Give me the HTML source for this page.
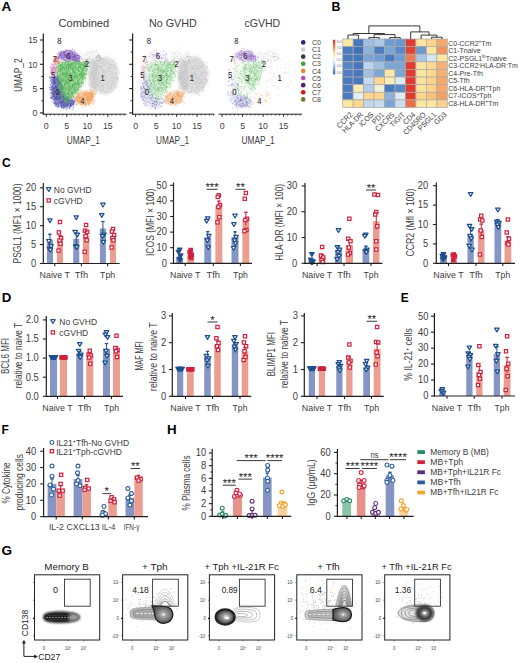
<!DOCTYPE html><html><head><meta charset="utf-8"><style>html,body{margin:0;padding:0;background:#fff;}svg{display:block;font-family:"Liberation Sans",sans-serif;}</style></head><body><svg width="520" height="663" viewBox="0 0 520 663"><rect width="520" height="663" fill="#fff"/><text transform="translate(1.6 11.2) scale(1.060 1)" font-size="12.8" fill="#000" font-weight="bold">A</text>
<defs><filter id="soft" x="-20%" y="-20%" width="140%" height="140%"><feGaussianBlur stdDeviation="1.6"/></filter></defs>
<path d="M118.5 75.5L118.0 80.3L116.6 84.8L114.4 88.6L111.5 91.5L108.1 93.4L104.5 94.0L100.9 93.4L97.5 91.5L94.6 88.6L92.4 84.8L91.0 80.3L90.5 75.5L91.0 70.7L92.4 66.2L94.6 62.4L97.5 59.5L100.9 57.6L104.5 57.0L108.1 57.6L111.5 59.5L114.4 62.4L116.6 66.2L118.0 70.7Z" fill="#cacaca" fill-opacity="0.45" filter="url(#soft)"/>
<path d="M90.0 60.0L96.0 58.0L98.0 75.0L96.0 92.0L90.0 88.0L88.0 72.0Z" fill="#cacaca" fill-opacity="0.45" filter="url(#soft)"/>
<path d="M80.0 53.0L92.0 50.0L101.0 54.0L104.0 60.0L95.0 63.0L84.0 60.0Z" fill="#c8c8c8" fill-opacity="0.12" filter="url(#soft)"/>
<path d="M93.5 98.5L93.2 100.2L92.2 101.8L90.7 103.1L88.8 104.1L86.5 104.8L84.0 105.0L81.5 104.8L79.2 104.1L77.3 103.1L75.8 101.8L74.8 100.2L74.5 98.5L74.8 96.8L75.8 95.2L77.3 93.9L79.2 92.9L81.5 92.2L84.0 92.0L86.5 92.2L88.8 92.9L90.7 93.9L92.2 95.2L93.2 96.8Z" fill="#f2a462" fill-opacity="0.55" filter="url(#soft)"/>
<path d="M94.5 93.5L94.4 94.3L94.0 95.0L93.3 95.6L92.5 96.1L91.5 96.4L90.5 96.5L89.5 96.4L88.5 96.1L87.7 95.6L87.0 95.0L86.6 94.3L86.5 93.5L86.6 92.7L87.0 92.0L87.7 91.4L88.5 90.9L89.5 90.6L90.5 90.5L91.5 90.6L92.5 90.9L93.3 91.4L94.0 92.0L94.4 92.7Z" fill="#f2a462" fill-opacity="0.55" filter="url(#soft)"/>
<path d="M51.0 78.0L57.0 76.0L61.0 84.0L62.0 95.0L70.0 98.0L75.0 102.0L72.0 107.0L62.0 108.0L55.0 105.0L51.0 96.0Z" fill="#5050ac" fill-opacity="0.55" filter="url(#soft)"/>
<path d="M57.0 64.0L66.0 61.0L78.0 60.0L87.0 63.0L85.0 77.0L80.0 88.0L72.0 97.0L67.0 103.0L61.0 98.0L58.0 88.0L57.0 76.0Z" fill="#52b452" fill-opacity="0.42" filter="url(#soft)"/>
<path d="M55.9 70.5L55.8 72.1L55.6 73.5L55.2 74.7L54.8 75.7L54.2 76.3L53.6 76.5L53.0 76.3L52.5 75.7L52.0 74.7L51.6 73.5L51.4 72.1L51.3 70.5L51.4 68.9L51.6 67.5L52.0 66.3L52.5 65.3L53.0 64.7L53.6 64.5L54.2 64.7L54.8 65.3L55.2 66.3L55.6 67.5L55.8 68.9Z" fill="#d883b6" fill-opacity="0.55" filter="url(#soft)"/>
<path d="M58.6 60.5L58.5 61.4L58.3 62.2L57.8 62.9L57.3 63.4L56.7 63.8L56.0 63.9L55.3 63.8L54.7 63.4L54.2 62.9L53.7 62.2L53.5 61.4L53.4 60.5L53.5 59.6L53.7 58.8L54.2 58.1L54.7 57.6L55.3 57.2L56.0 57.1L56.7 57.2L57.3 57.6L57.8 58.1L58.3 58.8L58.5 59.6Z" fill="#e07a7a" fill-opacity="0.55" filter="url(#soft)"/>
<path d="M77.0 55.5L76.7 56.7L75.7 57.9L74.2 58.9L72.2 59.7L70.0 60.1L67.5 60.3L65.0 60.1L62.8 59.7L60.8 58.9L59.3 57.9L58.3 56.7L58.0 55.5L58.3 54.3L59.3 53.1L60.8 52.1L62.7 51.3L65.0 50.9L67.5 50.7L70.0 50.9L72.2 51.3L74.2 52.1L75.7 53.1L76.7 54.3Z" fill="#8658c0" fill-opacity="0.5" filter="url(#soft)"/>
<path d="M80.0 58.0L79.9 58.8L79.5 59.5L78.8 60.1L78.0 60.6L77.0 60.9L76.0 61.0L75.0 60.9L74.0 60.6L73.2 60.1L72.5 59.5L72.1 58.8L72.0 58.0L72.1 57.2L72.5 56.5L73.2 55.9L74.0 55.4L75.0 55.1L76.0 55.0L77.0 55.1L78.0 55.4L78.8 55.9L79.5 56.5L79.9 57.2Z" fill="#8658c0" fill-opacity="0.5" filter="url(#soft)"/>
<path d="M99.3 62.2h0.9M106.8 71.0h0.9M92.0 73.3h0.9M103.0 88.2h0.9M107.0 91.5h0.9M114.9 68.2h0.9M99.8 88.6h0.9M108.0 70.7h0.9M108.9 74.3h0.9M103.7 66.3h0.9M94.9 77.9h0.9M111.5 67.6h0.9M103.0 86.1h0.9M91.7 80.2h0.9M114.5 67.1h0.9M108.3 71.4h0.9M105.5 82.3h0.9M112.2 68.7h0.9M91.4 74.6h0.9M92.2 67.7h0.9M90.4 72.9h0.9M113.2 90.2h0.9M101.2 89.5h0.9M95.6 67.0h0.9M108.2 66.8h0.9M102.6 77.4h0.9M104.8 79.5h0.9M117.2 84.3h0.9M102.8 72.8h0.9M96.1 63.3h0.9M95.8 70.8h0.9M107.7 63.6h0.9M102.9 58.5h0.9M104.0 75.2h0.9M100.4 66.2h0.9M105.0 62.3h0.9M106.5 91.8h0.9M98.8 72.4h0.9M105.0 86.6h0.9M115.2 85.0h0.9M96.7 76.4h0.9M99.0 82.3h0.9M117.4 71.3h0.9M94.2 62.8h0.9M112.8 73.0h0.9M94.6 80.3h0.9M112.4 76.6h0.9M101.0 86.4h0.9M101.6 91.3h0.9M96.3 87.4h0.9M100.4 77.4h0.9M114.9 80.6h0.9M103.0 88.5h0.9M97.6 69.4h0.9M99.6 74.4h0.9M98.2 72.7h0.9M100.8 90.9h0.9M104.4 58.0h0.9M95.1 73.0h0.9M97.7 75.5h0.9M93.5 78.7h0.9M110.2 75.0h0.9M115.0 72.5h0.9M103.4 83.1h0.9M103.1 89.5h0.9M106.5 91.4h0.9M94.7 73.8h0.9M93.1 79.3h0.9M94.5 82.9h0.9M103.9 74.9h0.9M93.9 72.9h0.9M95.9 68.6h0.9M107.1 73.4h0.9M111.2 77.3h0.9M95.5 67.3h0.9M95.7 63.0h0.9M115.0 68.7h0.9M106.8 83.1h0.9M112.3 74.0h0.9M110.3 87.8h0.9M100.6 68.7h0.9M97.1 61.6h0.9M99.3 67.3h0.9M104.4 63.8h0.9M111.5 78.7h0.9M111.2 73.1h0.9M100.2 72.6h0.9M99.6 86.2h0.9M102.4 70.1h0.9M92.5 85.1h0.9M114.7 82.7h0.9M99.4 75.1h0.9M117.8 80.4h0.9M100.3 70.2h0.9M104.2 77.0h0.9M93.3 71.8h0.9M97.8 64.9h0.9M111.0 78.9h0.9M102.1 69.0h0.9M113.0 81.4h0.9M115.3 78.0h0.9M92.1 76.3h0.9M110.8 86.3h0.9M109.7 83.0h0.9M96.0 71.7h0.9M104.9 78.9h0.9M104.8 55.2h0.9M104.3 76.4h0.9M112.0 66.8h0.9M110.7 61.3h0.9M102.5 71.4h0.9M111.7 79.5h0.9M94.6 65.4h0.9M107.3 57.8h0.9M108.9 81.7h0.9M104.4 74.3h0.9M118.3 64.0h0.9M92.3 71.1h0.9M103.8 69.7h0.9M97.3 79.7h0.9M114.9 74.6h0.9M96.7 90.2h0.9M89.6 75.5h0.9M93.5 71.8h0.9M117.2 82.8h0.9M102.5 71.5h0.9M100.5 73.2h0.9M98.5 92.6h0.9M102.7 66.2h0.9M113.5 85.1h0.9M116.8 76.9h0.9M111.0 72.0h0.9M103.1 71.6h0.9M107.7 67.7h0.9M95.9 65.5h0.9M107.8 62.9h0.9M103.3 62.7h0.9M100.1 61.3h0.9M106.4 88.6h0.9M101.3 77.2h0.9M92.8 67.1h0.9M105.1 79.7h0.9M97.0 67.0h0.9M115.6 74.5h0.9M102.5 89.2h0.9M106.9 81.5h0.9M107.2 85.7h0.9M109.2 68.9h0.9M108.7 83.1h0.9M104.5 79.1h0.9M100.6 73.6h0.9M115.3 75.5h0.9M103.6 82.4h0.9M109.2 91.5h0.9M99.6 71.8h0.9M112.0 84.3h0.9M113.8 67.5h0.9M104.6 65.2h0.9M109.9 93.1h0.9M94.2 70.1h0.9M117.7 71.8h0.9M108.3 71.8h0.9M98.9 69.8h0.9M101.0 86.2h0.9M90.0 76.5h0.9M96.1 70.3h0.9M102.0 86.7h0.9M116.2 63.9h0.9M101.6 66.6h0.9M97.4 84.4h0.9M116.4 80.4h0.9M99.9 73.8h0.9M100.1 66.9h0.9M113.9 82.5h0.9M107.0 70.2h0.9M96.0 85.3h0.9M89.9 80.4h0.9M99.1 60.9h0.9M110.5 74.8h0.9M107.8 79.6h0.9M109.6 60.6h0.9M106.3 70.0h0.9M98.9 68.1h0.9M103.7 71.4h0.9M105.3 63.9h0.9M105.2 85.1h0.9M95.4 63.7h0.9M117.4 69.8h0.9M98.3 85.6h0.9M107.4 81.1h0.9M94.4 66.2h0.9M109.8 64.6h0.9M109.2 64.6h0.9M113.3 77.5h0.9M101.2 77.0h0.9M94.3 83.3h0.9M98.5 93.7h0.9M103.2 69.4h0.9M100.6 63.5h0.9M100.3 88.7h0.9M104.9 63.2h0.9M109.9 91.6h0.9M101.5 76.4h0.9M106.2 92.1h0.9M99.1 60.5h0.9M105.1 58.4h0.9M116.1 79.3h0.9M110.6 66.5h0.9M114.0 65.0h0.9M105.6 71.8h0.9M112.3 90.6h0.9M106.6 76.6h0.9M100.7 79.3h0.9M104.7 73.5h0.9M104.4 63.6h0.9M102.8 63.7h0.9M95.2 73.6h0.9M104.5 58.1h0.9M110.6 85.7h0.9M105.2 70.8h0.9M112.2 90.3h0.9M104.9 92.0h0.9M92.4 69.3h0.9M115.9 66.6h0.9M104.8 91.9h0.9M105.4 69.0h0.9M110.6 92.0h0.9M93.0 75.8h0.9M112.8 76.3h0.9M108.4 70.7h0.9M99.9 85.6h0.9M111.2 63.7h0.9M106.9 81.6h0.9M105.2 72.8h0.9M94.1 65.2h0.9M93.7 71.8h0.9M106.0 63.6h0.9M98.7 63.5h0.9M114.1 86.5h0.9M105.5 68.9h0.9M116.8 86.7h0.9M91.0 77.2h0.9M91.5 77.1h0.9M94.4 79.4h0.9M112.9 64.4h0.9M114.7 83.6h0.9M111.3 72.9h0.9M96.9 61.2h0.9M99.1 82.6h0.9M109.2 66.4h0.9M112.4 78.1h0.9M97.7 62.9h0.9M112.2 68.4h0.9M95.9 89.2h0.9M102.9 85.8h0.9M101.8 83.4h0.9M98.8 81.3h0.9M100.5 62.3h0.9M109.3 78.6h0.9M90.9 80.5h0.9M93.7 64.8h0.9M112.7 85.4h0.9M108.6 68.0h0.9M111.2 65.7h0.9M97.7 84.3h0.9M118.5 74.3h0.9M89.5 73.1h0.9M99.4 82.9h0.9M114.3 63.3h0.9M88.5 75.3h0.9M94.4 77.2h0.9M98.0 63.6h0.9M95.4 81.6h0.9M109.2 85.3h0.9M102.1 71.3h0.9M97.4 65.9h0.9M101.3 91.0h0.9M105.4 83.2h0.9M101.6 71.0h0.9M109.7 85.6h0.9M113.1 79.4h0.9M115.6 66.8h0.9M110.6 88.8h0.9M96.7 69.0h0.9M101.6 63.7h0.9M95.5 71.0h0.9M111.6 74.7h0.9M93.3 64.8h0.9M101.2 84.9h0.9M109.2 75.4h0.9M102.9 83.7h0.9M105.8 85.1h0.9M111.0 87.7h0.9M113.5 81.1h0.9M100.3 81.0h0.9M111.8 82.7h0.9M101.5 73.0h0.9M110.1 93.0h0.9M109.0 71.6h0.9M92.7 78.9h0.9M118.1 77.1h0.9M103.9 83.4h0.9M111.2 77.9h0.9M94.8 83.6h0.9M100.3 60.3h0.9M89.2 73.4h0.9M100.7 68.8h0.9M117.2 78.6h0.9M102.9 66.4h0.9M111.7 80.8h0.9M101.3 78.6h0.9M103.0 67.7h0.9M114.4 69.4h0.9M100.3 66.7h0.9M97.9 67.4h0.9M101.9 79.6h0.9M117.3 87.8h0.9M109.4 66.6h0.9M96.6 86.3h0.9M106.3 83.7h0.9M113.2 89.8h0.9M103.1 85.4h0.9M106.1 67.4h0.9M103.7 59.3h0.9M101.9 74.8h0.9M102.4 75.8h0.9M101.5 72.4h0.9M110.0 80.8h0.9M108.0 94.4h0.9M105.0 74.7h0.9M109.3 82.2h0.9M98.7 74.2h0.9M95.1 73.8h0.9M114.2 66.8h0.9M101.3 66.9h0.9M108.3 87.2h0.9M97.5 77.1h0.9M116.3 77.5h0.9M115.1 77.7h0.9M114.7 78.5h0.9M109.7 78.3h0.9M109.2 73.4h0.9M111.5 89.9h0.9M112.7 85.7h0.9M98.4 73.8h0.9M109.9 92.1h0.9M114.3 77.6h0.9M108.4 91.5h0.9M101.5 60.1h0.9M110.6 65.2h0.9M110.4 88.2h0.9M105.4 83.9h0.9M100.4 86.0h0.9M103.1 60.4h0.9M104.1 83.7h0.9M99.8 80.0h0.9M103.3 85.4h0.9M109.4 69.0h0.9M109.4 89.0h0.9M105.1 69.5h0.9M99.0 80.8h0.9M114.0 67.5h0.9M103.3 76.4h0.9M112.4 88.7h0.9M113.3 84.4h0.9M98.2 59.4h0.9M96.9 84.4h0.9M106.7 82.2h0.9M98.0 83.5h0.9M109.9 64.4h0.9M113.7 76.5h0.9M96.6 65.8h0.9M99.5 78.7h0.9M93.6 79.7h0.9M107.0 69.7h0.9M113.9 74.6h0.9M114.3 72.1h0.9M96.5 63.9h0.9M103.3 90.0h0.9M109.5 73.8h0.9M95.8 75.6h0.9M108.6 71.8h0.9M99.8 68.5h0.9M110.4 80.5h0.9M107.8 67.0h0.9M93.4 69.6h0.9M104.0 63.9h0.9M113.3 64.8h0.9M96.7 75.1h0.9M113.0 80.6h0.9M113.1 74.2h0.9M112.0 79.4h0.9M98.5 73.0h0.9M114.7 70.6h0.9M101.9 92.6h0.9M108.2 65.0h0.9M95.3 67.2h0.9M93.6 67.5h0.9M111.1 67.8h0.9M113.1 69.7h0.9M114.3 77.7h0.9M107.4 64.0h0.9M110.9 64.5h0.9M107.4 76.1h0.9M108.2 81.7h0.9M110.9 71.7h0.9M114.5 67.4h0.9M105.5 56.8h0.9M115.8 68.9h0.9M99.7 64.2h0.9M89.3 76.7h0.9M94.9 81.2h0.9M98.0 84.7h0.9M115.7 75.2h0.9M106.4 57.6h0.9M98.0 87.3h0.9M111.7 64.4h0.9M106.5 75.8h0.9M115.4 83.7h0.9M104.2 76.1h0.9M99.9 60.8h0.9M94.6 77.5h0.9M102.2 71.3h0.9M101.8 90.8h0.9M94.1 70.7h0.9M114.7 88.8h0.9M96.7 71.8h0.9M104.1 60.1h0.9M117.6 78.1h0.9M108.0 66.0h0.9M105.0 90.6h0.9M106.0 72.7h0.9M100.2 82.1h0.9M117.1 77.3h0.9M105.9 62.9h0.9M98.5 72.9h0.9M93.8 75.8h0.9M107.0 82.9h0.9M102.4 76.4h0.9M99.4 67.4h0.9M102.3 78.8h0.9M113.3 65.3h0.9M99.0 85.9h0.9M116.0 73.7h0.9M103.5 84.8h0.9M93.7 70.9h0.9M108.4 87.1h0.9M111.3 83.1h0.9M113.0 82.9h0.9M108.9 78.7h0.9M107.0 70.1h0.9M106.2 71.4h0.9M109.6 68.8h0.9M101.8 66.6h0.9M104.9 74.4h0.9M94.1 78.0h0.9M117.5 67.1h0.9M102.8 90.7h0.9M108.1 74.4h0.9M104.5 75.0h0.9M98.8 81.4h0.9M110.4 77.1h0.9M99.5 76.7h0.9M115.9 75.6h0.9M105.8 88.1h0.9M106.3 60.0h0.9M115.9 73.4h0.9M105.1 76.4h0.9M105.8 82.4h0.9M106.5 59.7h0.9M100.1 82.6h0.9M113.7 78.0h0.9M104.3 79.2h0.9M107.1 72.7h0.9M112.4 61.4h0.9M103.5 86.0h0.9M111.8 67.8h0.9M97.3 68.4h0.9M105.7 70.3h0.9M105.3 93.1h0.9M99.7 89.3h0.9M104.4 92.6h0.9M97.1 70.6h0.9M97.0 89.6h0.9M96.8 64.0h0.9M105.1 61.0h0.9M103.4 61.0h0.9M100.7 67.0h0.9M110.1 71.2h0.9M93.4 66.4h0.9M103.2 87.3h0.9M98.2 85.8h0.9M104.0 65.6h0.9M111.6 65.7h0.9M100.2 65.6h0.9M104.6 79.1h0.9M100.3 80.9h0.9M102.5 62.3h0.9M100.7 82.5h0.9M100.5 75.9h0.9M100.6 66.7h0.9M100.1 70.8h0.9M96.0 67.6h0.9M107.6 70.9h0.9M110.7 65.3h0.9M110.1 65.5h0.9M111.4 83.5h0.9M94.7 65.4h0.9M109.2 62.3h0.9M108.9 67.1h0.9M113.8 86.1h0.9M115.3 79.7h0.9M94.3 88.9h0.9M111.1 59.1h0.9M111.3 88.2h0.9M118.7 71.9h0.9M110.3 86.8h0.9M90.7 83.5h0.9M110.1 88.3h0.9M116.8 80.3h0.9M91.5 70.7h0.9M98.7 60.3h0.9M95.9 65.8h0.9M115.9 72.4h0.9M93.4 79.7h0.9M106.7 86.7h0.9M107.5 71.8h0.9M93.2 68.3h0.9M92.8 69.2h0.9M102.4 62.4h0.9M100.8 63.3h0.9M94.4 83.3h0.9M92.8 75.4h0.9M107.2 56.5h0.9M107.6 90.9h0.9M99.4 62.5h0.9M114.7 69.5h0.9M96.2 84.3h0.9M100.1 62.9h0.9M99.3 79.0h0.9M107.2 78.5h0.9M104.9 76.3h0.9M106.5 59.3h0.9M103.2 93.1h0.9M102.8 64.0h0.9M114.3 87.4h0.9M97.2 81.4h0.9M98.9 71.3h0.9M97.8 73.0h0.9M102.1 73.6h0.9M117.6 79.5h0.9M109.0 81.0h0.9M116.6 74.0h0.9M100.9 89.9h0.9M111.0 74.5h0.9M99.6 79.2h0.9M106.9 72.2h0.9M117.2 78.8h0.9M96.7 60.3h0.9M104.4 79.0h0.9M93.2 75.7h0.9M99.7 60.6h0.9M105.9 82.8h0.9M103.0 63.0h0.9M112.3 61.7h0.9M98.7 70.9h0.9M96.1 66.9h0.9M116.5 78.9h0.9M94.1 86.3h0.9M110.4 88.4h0.9M105.3 60.0h0.9M109.9 67.6h0.9M114.2 78.7h0.9M94.2 88.0h0.9M98.1 82.9h0.9M114.2 74.9h0.9M97.6 62.6h0.9M95.1 86.2h0.9M104.5 61.9h0.9M115.9 80.1h0.9M96.3 89.9h0.9M93.7 70.7h0.9M102.9 70.1h0.9M104.0 93.7h0.9M109.1 68.5h0.9M94.9 77.5h0.9M107.6 84.0h0.9M107.6 81.2h0.9M114.5 88.6h0.9M98.9 83.8h0.9M107.1 69.6h0.9M90.6 72.7h0.9M104.0 71.5h0.9M102.7 62.1h0.9M102.3 73.1h0.9M98.7 66.9h0.9M118.1 68.8h0.9M105.5 95.2h0.9M103.7 89.7h0.9M115.7 67.5h0.9M94.9 66.1h0.9M99.8 63.0h0.9M108.3 61.2h0.9M108.2 57.7h0.9M100.6 63.4h0.9M115.7 80.3h0.9M98.9 83.7h0.9M110.7 69.9h0.9M91.1 81.4h0.9M107.0 66.6h0.9M116.8 77.8h0.9M107.4 84.3h0.9M94.9 61.8h0.9M111.7 72.3h0.9M105.2 80.7h0.9M110.8 64.6h0.9M112.7 65.2h0.9M100.4 66.9h0.9M104.0 80.1h0.9M112.3 60.4h0.9M91.5 75.3h0.9M117.3 71.1h0.9M111.3 91.3h0.9M113.7 65.8h0.9M108.7 68.5h0.9M101.1 91.7h0.9M90.4 82.3h0.9M89.9 79.3h0.9M117.1 81.1h0.9M97.9 73.9h0.9M110.6 84.5h0.9M97.9 80.1h0.9M114.9 64.7h0.9M95.9 69.5h0.9M93.9 81.5h0.9M107.3 92.1h0.9M101.1 85.3h0.9M95.3 84.7h0.9M108.2 62.6h0.9M110.9 89.6h0.9M96.9 86.0h0.9M104.1 65.8h0.9M100.4 90.5h0.9M95.1 74.5h0.9M94.1 84.3h0.9M101.4 74.8h0.9M115.1 84.8h0.9M99.3 59.9h0.9M101.8 77.7h0.9M108.3 80.8h0.9M114.1 84.2h0.9M101.3 93.8h0.9M102.1 62.3h0.9M107.5 92.9h0.9M101.2 66.5h0.9M114.4 85.8h0.9M109.0 67.8h0.9M111.1 73.7h0.9M97.0 79.1h0.9M108.8 71.3h0.9M108.4 67.8h0.9M96.5 82.3h0.9M102.4 83.5h0.9M98.0 61.6h0.9M105.5 75.7h0.9M93.7 87.8h0.9M101.4 87.2h0.9M95.7 67.0h0.9M112.5 76.4h0.9M107.8 73.9h0.9M111.3 61.5h0.9M104.3 66.6h0.9M101.6 59.1h0.9M110.2 68.0h0.9M108.7 90.0h0.9M112.4 80.1h0.9M102.7 69.6h0.9M102.3 79.9h0.9M102.0 78.1h0.9M100.7 82.0h0.9M110.3 70.8h0.9M117.3 85.3h0.9M104.1 73.0h0.9M102.5 90.5h0.9M103.9 85.8h0.9M101.1 57.1h0.9M112.7 86.1h0.9M113.3 78.5h0.9M112.1 75.5h0.9M104.4 78.6h0.9M103.5 76.3h0.9M97.8 67.6h0.9M113.3 77.5h0.9M93.4 66.7h0.9M114.6 66.9h0.9M104.2 71.1h0.9M107.1 69.8h0.9M117.2 77.9h0.9M104.5 71.7h0.9M97.7 88.3h0.9M110.3 79.7h0.9M104.2 89.9h0.9M108.7 58.5h0.9M108.6 62.9h0.9M112.1 73.8h0.9M99.1 64.2h0.9M102.0 84.0h0.9M111.4 63.4h0.9M97.8 65.1h0.9M107.1 62.1h0.9M115.1 59.4h0.9M100.2 59.4h0.9M97.9 77.9h0.9M110.6 72.4h0.9M116.5 77.5h0.9M112.0 75.1h0.9M102.8 88.1h0.9M98.6 89.3h0.9M105.7 95.2h0.9M108.2 60.0h0.9M98.3 86.4h0.9M98.3 59.4h0.9M104.8 85.4h0.9M92.9 77.0h0.9M93.5 79.3h0.9M110.5 65.6h0.9M100.7 87.2h0.9M105.4 77.7h0.9M93.9 76.8h0.9M96.2 72.5h0.9M94.7 89.2h0.9M102.5 85.5h0.9M97.5 85.5h0.9M90.4 71.4h0.9M105.0 64.5h0.9M110.4 60.9h0.9M108.2 81.6h0.9M113.4 74.0h0.9M116.4 72.5h0.9M97.1 83.5h0.9M100.4 63.0h0.9M104.4 72.8h0.9M112.1 82.1h0.9M115.8 87.2h0.9M102.0 62.6h0.9M112.7 59.5h0.9M116.9 82.7h0.9M108.0 71.2h0.9M116.3 67.7h0.9M97.6 88.8h0.9M100.7 65.9h0.9M108.1 84.6h0.9M114.8 81.5h0.9M100.6 58.4h0.9M101.1 77.2h0.9M91.2 75.2h0.9M112.2 71.7h0.9M98.5 66.7h0.9M108.7 68.3h0.9M109.0 71.5h0.9M96.0 82.8h0.9M96.8 66.7h0.9M94.8 88.3h0.9M102.9 75.1h0.9M113.7 63.0h0.9M103.2 88.1h0.9M94.3 76.4h0.9M102.4 90.3h0.9M89.8 81.1h0.9M99.8 80.6h0.9M106.3 81.3h0.9M102.8 93.9h0.9M107.7 78.3h0.9M115.5 83.6h0.9M102.0 61.3h0.9M94.2 78.6h0.9M100.9 83.9h0.9M110.6 67.4h0.9M110.8 84.1h0.9M110.2 83.3h0.9M106.9 86.5h0.9M94.9 75.6h0.9M111.0 63.7h0.9M101.8 70.5h0.9M96.5 68.2h0.9M100.2 73.8h0.9M102.5 71.0h0.9M101.7 86.4h0.9M99.4 61.3h0.9M106.2 80.8h0.9M99.7 90.8h0.9M108.2 66.3h0.9M111.9 80.2h0.9M99.3 66.6h0.9M109.7 83.2h0.9M91.7 65.9h0.9M108.4 81.4h0.9M100.5 70.5h0.9M94.3 89.0h0.9M110.0 91.2h0.9M90.0 72.3h0.9M107.9 79.3h0.9M98.7 86.0h0.9M94.8 80.4h0.9M109.8 85.4h0.9M93.7 81.5h0.9M96.4 58.1h0.9M98.2 65.4h0.9M112.8 69.9h0.9M115.7 69.1h0.9M95.6 67.7h0.9M108.2 87.4h0.9M92.8 64.5h0.9M100.2 80.1h0.9M96.9 86.7h0.9M90.9 75.9h0.9M107.1 83.2h0.9M105.2 81.2h0.9M117.9 69.1h0.9M102.1 62.5h0.9M109.9 74.5h0.9M102.5 69.3h0.9M105.6 75.0h0.9M94.3 66.1h0.9M111.5 83.9h0.9M110.6 81.4h0.9M96.1 80.3h0.9M100.9 89.0h0.9M91.2 86.4h0.9M104.2 87.8h0.9M106.5 76.7h0.9M111.7 91.8h0.9M111.9 69.1h0.9M96.4 78.8h0.9M113.4 86.2h0.9M116.3 77.2h0.9M106.3 89.9h0.9M97.2 65.3h0.9M94.0 79.4h0.9M102.0 77.2h0.9M102.7 59.1h0.9M102.8 70.1h0.9M96.7 79.8h0.9M107.5 62.8h0.9M97.4 69.3h0.9M108.8 84.6h0.9M98.2 81.1h0.9M116.4 66.9h0.9M113.6 60.5h0.9M96.5 88.1h0.9M95.5 84.4h0.9M104.4 87.4h0.9M107.5 86.8h0.9M105.7 67.9h0.9M113.1 87.2h0.9M108.2 64.9h0.9M117.5 77.6h0.9M111.3 88.0h0.9M100.8 67.5h0.9M107.5 93.1h0.9M108.6 79.0h0.9M100.3 77.5h0.9M113.0 85.3h0.9M107.3 89.5h0.9M102.9 84.2h0.9M101.3 69.7h0.9M111.6 68.4h0.9M100.1 83.0h0.9M114.5 78.1h0.9M98.3 81.3h0.9M102.6 80.4h0.9M100.8 87.9h0.9M99.5 90.6h0.9M94.7 71.5h0.9M111.4 85.8h0.9M98.0 66.2h0.9M105.5 80.2h0.9M99.2 59.4h0.9M101.7 63.2h0.9M98.4 86.0h0.9M98.5 70.9h0.9M111.9 60.1h0.9M115.0 63.7h0.9M110.1 67.3h0.9M108.6 78.1h0.9M117.1 69.9h0.9M102.0 85.4h0.9M97.0 70.5h0.9M97.2 87.6h0.9M112.2 66.1h0.9M100.4 69.5h0.9M109.1 88.2h0.9M100.9 61.8h0.9M104.1 64.7h0.9M102.0 73.8h0.9M113.4 75.6h0.9M117.0 77.2h0.9M115.5 65.3h0.9M116.3 73.6h0.9M103.7 70.5h0.9M102.0 61.3h0.9M110.1 76.2h0.9M111.4 78.3h0.9M108.8 82.8h0.9M115.1 70.2h0.9M97.3 78.8h0.9M103.5 64.1h0.9M105.4 92.8h0.9M94.1 74.4h0.9M103.7 93.1h0.9M115.2 64.5h0.9M98.5 73.5h0.9M92.3 72.8h0.9M96.0 73.1h0.9M96.6 68.0h0.9M105.4 78.2h0.9M95.9 62.5h0.9M100.7 87.8h0.9M119.4 72.9h0.9M101.0 67.2h0.9M103.5 74.8h0.9M109.5 76.6h0.9M109.7 76.3h0.9M106.1 62.9h0.9M95.3 70.3h0.9M91.6 83.5h0.9M110.7 86.7h0.9M109.0 82.6h0.9M97.8 72.7h0.9M102.7 92.1h0.9M110.0 68.6h0.9M94.3 66.2h0.9M103.3 73.3h0.9M115.7 79.8h0.9M102.5 63.5h0.9M107.3 65.2h0.9M110.9 86.6h0.9M95.7 86.2h0.9M114.9 77.3h0.9M108.5 64.5h0.9M110.9 67.1h0.9M96.2 82.8h0.9M98.2 83.3h0.9M99.4 77.5h0.9M104.4 66.7h0.9M107.8 84.9h0.9M110.1 69.7h0.9M117.2 78.0h0.9M109.7 70.4h0.9M114.1 87.6h0.9M96.6 81.2h0.9M96.2 59.1h0.9M93.9 63.8h0.9M108.2 67.2h0.9M107.3 84.2h0.9M95.5 66.3h0.9M108.0 91.4h0.9M109.5 67.4h0.9M111.5 84.6h0.9M112.0 70.2h0.9M92.4 79.7h0.9M107.1 61.6h0.9M104.5 65.3h0.9M104.8 69.0h0.9M113.3 61.4h0.9M103.6 65.6h0.9M98.9 72.6h0.9M103.4 72.3h0.9M106.2 61.4h0.9M93.4 73.5h0.9M92.6 83.5h0.9M95.5 73.3h0.9M112.4 62.3h0.9M95.5 76.0h0.9M94.4 85.8h0.9M94.5 65.9h0.9M99.8 82.8h0.9M103.0 91.8h0.9M103.5 82.9h0.9M99.9 67.5h0.9M115.4 70.6h0.9M98.1 65.0h0.9M116.7 78.4h0.9M108.5 90.0h0.9M114.1 88.4h0.9M100.6 70.5h0.9M95.4 91.6h0.9M115.4 87.6h0.9M111.2 84.1h0.9M109.2 70.5h0.9M106.1 68.4h0.9M114.6 87.9h0.9M111.8 81.9h0.9M104.7 75.6h0.9M112.6 90.3h0.9M97.4 61.0h0.9M113.2 65.6h0.9M110.1 64.6h0.9M100.2 79.6h0.9M114.8 86.4h0.9M104.6 59.7h0.9M102.9 76.1h0.9M108.4 65.6h0.9M89.7 79.6h0.9M100.3 60.1h0.9M112.9 72.1h0.9M115.7 62.6h0.9M101.9 68.4h0.9M95.2 69.9h0.9M93.9 77.2h0.9M114.0 63.0h0.9M110.0 91.2h0.9M107.0 88.5h0.9M104.2 91.3h0.9M106.7 87.5h0.9M96.5 67.9h0.9M104.7 60.5h0.9M110.6 85.6h0.9M102.9 61.9h0.9M95.8 76.7h0.9M110.1 85.6h0.9M117.3 73.6h0.9M113.6 83.1h0.9M99.9 86.2h0.9M94.3 71.5h0.9M95.7 65.5h0.9M99.9 76.9h0.9M99.9 93.2h0.9M103.1 64.0h0.9M100.8 70.6h0.9M111.2 73.5h0.9M113.3 85.3h0.9M115.3 72.3h0.9M105.7 78.6h0.9M95.8 68.8h0.9M105.5 84.5h0.9M106.1 72.4h0.9M102.3 77.3h0.9M101.8 75.9h0.9M102.6 70.4h0.9M111.7 67.5h0.9M99.7 90.5h0.9M100.8 88.9h0.9M95.5 65.8h0.9M113.5 82.1h0.9M108.2 92.6h0.9M102.6 61.8h0.9M102.7 59.0h0.9M107.6 93.2h0.9M110.9 80.8h0.9M94.1 76.7h0.9M102.6 72.3h0.9M110.6 64.1h0.9M101.7 84.8h0.9M101.6 85.7h0.9M114.6 80.3h0.9M116.6 78.3h0.9M103.4 82.6h0.9M114.7 76.1h0.9M100.3 80.9h0.9M104.6 91.8h0.9M107.0 69.4h0.9M114.4 87.3h0.9M99.3 86.7h0.9M94.0 88.8h0.9M92.3 84.0h0.9M107.4 72.6h0.9M112.2 61.4h0.9M114.8 72.4h0.9M112.1 81.8h0.9M110.2 64.1h0.9M104.8 89.6h0.9M103.2 76.3h0.9M100.9 90.7h0.9M103.7 60.7h0.9M111.0 58.9h0.9M110.5 61.0h0.9M98.8 87.4h0.9M103.1 72.5h0.9M100.4 92.1h0.9M113.9 62.7h0.9M101.1 62.5h0.9M113.2 65.8h0.9M117.9 79.3h0.9M109.0 75.7h0.9M113.0 81.4h0.9M106.1 86.8h0.9M93.8 81.9h0.9M93.8 62.3h0.9M96.1 69.9h0.9M107.9 62.2h0.9M95.6 78.3h0.9M106.6 68.8h0.9M92.9 66.4h0.9M115.1 84.6h0.9M109.4 75.7h0.9M99.6 82.4h0.9M105.4 64.6h0.9M112.8 79.2h0.9M92.9 72.6h0.9M100.2 89.2h0.9M97.8 89.5h0.9M96.9 89.5h0.9M117.4 71.6h0.9M93.5 85.3h0.9M104.4 80.4h0.9M108.6 61.5h0.9M100.5 91.0h0.9M93.1 61.4h0.9M93.6 74.9h0.9M102.5 77.2h0.9M102.4 64.9h0.9M114.7 66.7h0.9M101.4 68.6h0.9M107.9 88.3h0.9M116.6 79.8h0.9M94.3 70.2h0.9M99.6 68.2h0.9M97.0 63.7h0.9M115.3 83.4h0.9M115.2 82.4h0.9M91.8 76.2h0.9M110.6 83.5h0.9M109.0 72.6h0.9M96.9 72.2h0.9M99.5 66.1h0.9M91.4 81.7h0.9M91.4 76.3h0.9M88.2 75.1h0.9M95.1 73.9h0.9M92.1 62.9h0.9M92.0 80.2h0.9M95.8 62.2h0.9M92.8 84.1h0.9M91.1 85.5h0.9M98.0 81.7h0.9M93.9 63.1h0.9M92.6 87.7h0.9M98.3 77.7h0.9M98.0 78.6h0.9M91.8 70.5h0.9M93.6 67.0h0.9M92.6 71.6h0.9M93.6 65.5h0.9M95.8 78.3h0.9M92.8 71.9h0.9M93.2 86.0h0.9M89.5 74.2h0.9M91.5 82.8h0.9M89.3 83.2h0.9M94.3 82.0h0.9M96.1 73.1h0.9M95.7 66.3h0.9M94.8 83.2h0.9M90.1 72.1h0.9M95.3 88.0h0.9M89.3 66.0h0.9M98.0 67.2h0.9M92.4 63.4h0.9M91.6 71.0h0.9M88.1 71.4h0.9M90.8 85.5h0.9M96.0 64.6h0.9M94.8 70.2h0.9M93.7 77.8h0.9M90.1 79.1h0.9M88.8 66.4h0.9M94.3 91.0h0.9M90.5 88.7h0.9M95.7 87.6h0.9M88.8 72.6h0.9M94.6 86.3h0.9M95.9 63.6h0.9M88.9 73.8h0.9M90.7 72.7h0.9M95.7 75.5h0.9M91.5 76.5h0.9M89.4 88.7h0.9M94.0 77.6h0.9M88.1 80.1h0.9M90.6 87.8h0.9M91.1 62.0h0.9M92.7 73.9h0.9M91.2 87.7h0.9M94.0 75.0h0.9M89.4 79.1h0.9M93.9 62.1h0.9M92.5 68.5h0.9M93.5 79.7h0.9M93.2 75.2h0.9M91.6 66.4h0.9M92.8 84.6h0.9M94.3 61.4h0.9M95.7 66.5h0.9M98.8 76.0h0.9M91.8 84.9h0.9M97.5 64.3h0.9M94.8 62.9h0.9M97.9 66.6h0.9M97.6 67.2h0.9M94.0 78.3h0.9M95.3 72.5h0.9M91.3 82.5h0.9M95.1 72.3h0.9M95.1 75.4h0.9M94.9 88.4h0.9M90.8 81.9h0.9M94.4 62.6h0.9M93.7 86.6h0.9M92.3 86.2h0.9M93.2 75.5h0.9M92.3 72.9h0.9M89.0 85.7h0.9M94.4 61.3h0.9M95.7 82.8h0.9M93.1 80.7h0.9M88.3 72.0h0.9M89.7 87.9h0.9M90.3 78.9h0.9M91.1 72.9h0.9M94.9 77.2h0.9M95.7 67.6h0.9M92.8 81.0h0.9M93.1 62.6h0.9M90.5 61.4h0.9M92.5 67.8h0.9M91.6 84.2h0.9M90.6 59.7h0.9M94.5 69.9h0.9M91.2 73.8h0.9M96.8 75.3h0.9M96.1 70.6h0.9M92.7 79.1h0.9M91.9 87.9h0.9M95.0 78.4h0.9M88.9 66.3h0.9M89.1 78.4h0.9M87.5 74.5h0.9M90.9 61.5h0.9M93.8 67.8h0.9M90.6 65.0h0.9M91.1 62.0h0.9M93.4 65.5h0.9M92.9 87.6h0.9M92.1 62.1h0.9M94.8 65.6h0.9M89.5 63.0h0.9M90.1 77.2h0.9M91.9 90.6h0.9M95.6 59.9h0.9M92.2 82.5h0.9M89.9 74.2h0.9M90.9 61.2h0.9M93.7 61.5h0.9M90.7 65.9h0.9M96.6 60.9h0.9M94.3 87.6h0.9M94.8 77.0h0.9M92.1 64.7h0.9M93.6 69.9h0.9M94.0 66.7h0.9M92.2 83.3h0.9M99.4 67.0h0.9M90.0 85.2h0.9M98.2 78.1h0.9M89.2 66.3h0.9M94.1 83.3h0.9M88.0 72.7h0.9M91.6 68.9h0.9M93.2 71.1h0.9M96.3 64.3h0.9M97.1 65.8h0.9M91.8 68.3h0.9M96.8 81.4h0.9M93.4 65.7h0.9M89.9 84.7h0.9M91.0 87.8h0.9M94.7 71.1h0.9M93.8 76.1h0.9M94.0 81.0h0.9M89.4 77.6h0.9M88.0 81.2h0.9M96.2 77.3h0.9M94.7 68.6h0.9M88.3 66.7h0.9M96.4 79.7h0.9M92.5 72.7h0.9M89.4 78.2h0.9M95.3 88.8h0.9M96.8 68.1h0.9M92.0 84.4h0.9M90.1 73.5h0.9M92.4 85.3h0.9M89.2 68.4h0.9M93.7 76.7h0.9M91.2 83.5h0.9M96.2 77.8h0.9M91.5 66.6h0.9M92.2 70.8h0.9M97.2 79.4h0.9M96.9 58.3h0.9M96.3 90.0h0.9M91.9 66.4h0.9M92.7 75.8h0.9M97.4 77.2h0.9M92.1 73.7h0.9M93.2 73.1h0.9M96.1 90.3h0.9M94.6 57.3h0.9M90.7 72.8h0.9M92.6 80.0h0.9M91.9 72.9h0.9M90.2 74.2h0.9M94.1 91.8h0.9M92.4 76.4h0.9M92.0 64.1h0.9M96.6 79.2h0.9M94.0 60.9h0.9M98.5 65.8h0.9M96.5 59.3h0.9M95.4 86.2h0.9M90.2 79.1h0.9M93.7 68.9h0.9M96.3 64.5h0.9M96.5 69.0h0.9M96.0 73.2h0.9M89.6 69.4h0.9M93.5 88.4h0.9M90.0 82.8h0.9M94.1 82.6h0.9M90.9 66.8h0.9M92.4 66.3h0.9M95.3 69.6h0.9M93.1 76.6h0.9M88.5 61.5h0.9M90.9 72.6h0.9M92.7 85.8h0.9M89.1 76.9h0.9M93.6 68.4h0.9M94.7 72.5h0.9M97.9 74.1h0.9M98.1 78.9h0.9M94.9 87.5h0.9M88.9 83.8h0.9M89.9 84.7h0.9M89.5 70.9h0.9M97.1 80.0h0.9M87.6 75.0h0.9M92.9 74.7h0.9M93.1 76.9h0.9M88.0 75.9h0.9M94.3 65.3h0.9M92.1 84.0h0.9M94.4 72.7h0.9M92.7 83.3h0.9M97.6 68.9h0.9M95.9 66.0h0.9M93.4 67.8h0.9M90.4 63.0h0.9M95.7 68.3h0.9M93.8 71.1h0.9M94.2 80.4h0.9M91.6 86.8h0.9M96.5 83.6h0.9M89.7 83.8h0.9M89.5 82.9h0.9M93.6 70.2h0.9M88.2 84.0h0.9M93.0 58.4h0.9M90.7 78.9h0.9M92.0 82.2h0.9M93.2 77.5h0.9M92.0 70.3h0.9M96.2 79.4h0.9M90.2 78.0h0.9M94.6 81.3h0.9M88.9 65.8h0.9M97.1 67.8h0.9M92.1 62.9h0.9M93.3 74.5h0.9M94.3 84.9h0.9M94.9 77.3h0.9M96.3 60.2h0.9M90.9 75.2h0.9M93.6 82.2h0.9M90.8 82.4h0.9M93.4 63.4h0.9M94.8 87.9h0.9M96.6 73.5h0.9M95.2 91.6h0.9M95.3 83.2h0.9M95.1 84.3h0.9M94.8 84.3h0.9M89.7 85.7h0.9M92.4 76.8h0.9M97.6 72.0h0.9M94.9 82.6h0.9M95.4 71.7h0.9M91.5 61.9h0.9M91.3 64.0h0.9M92.0 73.7h0.9M98.2 83.4h0.9M93.8 75.8h0.9M96.9 61.6h0.9M89.0 66.6h0.9M92.3 88.2h0.9M90.9 62.4h0.9M98.6 73.2h0.9M94.7 85.6h0.9M88.3 75.7h0.9M90.7 67.8h0.9M89.8 59.7h0.9M92.9 84.3h0.9M96.3 78.7h0.9M92.4 83.5h0.9M90.9 73.0h0.9M90.6 71.8h0.9M91.0 72.6h0.9M90.7 74.2h0.9M89.7 64.6h0.9M92.9 73.3h0.9M91.0 78.0h0.9M94.4 63.7h0.9M96.8 72.3h0.9M93.1 60.7h0.9M95.4 63.2h0.9M91.7 69.9h0.9M88.4 85.0h0.9M92.6 62.7h0.9M95.0 69.8h0.9M93.0 65.4h0.9M97.0 77.1h0.9M91.3 85.4h0.9M92.8 89.6h0.9M88.7 66.3h0.9M94.4 71.9h0.9M93.3 89.9h0.9M92.6 81.8h0.9M90.2 82.1h0.9M89.1 65.6h0.9M96.0 73.1h0.9M89.1 85.6h0.9M90.3 69.0h0.9M95.1 82.4h0.9M95.2 62.1h0.9M91.3 74.5h0.9M94.3 66.0h0.9M92.3 59.5h0.9M95.3 69.5h0.9M94.9 89.9h0.9M93.8 69.1h0.9M88.9 65.4h0.9M89.3 62.3h0.9M93.5 63.7h0.9M88.4 66.1h0.9M94.6 81.9h0.9M89.6 77.9h0.9M90.7 86.4h0.9M94.3 85.4h0.9M95.1 69.4h0.9M90.9 63.3h0.9M93.7 71.2h0.9M96.0 74.7h0.9M91.2 68.1h0.9M90.7 71.7h0.9M95.8 82.7h0.9M91.3 61.1h0.9M93.0 71.5h0.9M92.0 86.5h0.9M94.0 82.6h0.9M96.2 70.2h0.9M93.2 72.8h0.9M96.7 68.8h0.9" stroke="#cacaca" stroke-width="1" stroke-opacity="0.45" fill="none"/>
<path d="M98.0 56.4h0.9M92.1 58.7h0.9M96.8 56.6h0.9M80.4 52.4h0.9M93.6 61.2h0.9M100.5 60.5h0.9M98.1 60.7h0.9M90.1 62.2h0.9M94.4 55.0h0.9M97.5 55.8h0.9M88.6 58.2h0.9M87.3 53.6h0.9M92.8 57.3h0.9M103.2 59.0h0.9M83.9 55.4h0.9M92.0 52.5h0.9M94.2 52.1h0.9M96.2 56.3h0.9M96.4 50.5h0.9M99.7 60.7h0.9M87.1 59.5h0.9M90.1 59.3h0.9M89.3 56.8h0.9M95.5 61.3h0.9M91.0 53.4h0.9M89.0 59.4h0.9M97.0 54.9h0.9M93.7 59.8h0.9M89.4 53.2h0.9M98.2 57.7h0.9M94.2 63.3h0.9M94.9 51.3h0.9M83.4 54.7h0.9M87.7 58.6h0.9M97.9 58.0h0.9M87.5 51.3h0.9M86.4 55.6h0.9M88.2 57.2h0.9M97.0 53.5h0.9M97.2 56.0h0.9M96.4 56.5h0.9M95.1 56.7h0.9M94.7 61.6h0.9M86.5 51.5h0.9M87.1 59.0h0.9M96.0 62.3h0.9M87.3 54.5h0.9M102.8 58.7h0.9M95.9 51.7h0.9M94.7 59.1h0.9M91.5 52.0h0.9M97.5 54.9h0.9M97.9 59.4h0.9M99.2 58.0h0.9M91.2 55.9h0.9M102.9 60.6h0.9M99.6 59.7h0.9M99.3 60.7h0.9M95.4 58.7h0.9M97.5 53.9h0.9M91.8 51.6h0.9M97.0 55.7h0.9M89.2 57.3h0.9M96.4 58.3h0.9M89.3 52.2h0.9M98.1 59.9h0.9M100.0 59.6h0.9M90.9 55.4h0.9M95.6 63.0h0.9" stroke="#c8c8c8" stroke-width="1" stroke-opacity="0.45" fill="none"/>
<path d="M85.6 60.8h0.9M84.4 63.7h0.9M86.6 63.7h0.9M84.2 63.1h0.9M85.9 60.2h0.9M83.8 61.6h0.9M87.3 61.2h0.9M88.5 62.0h0.9M89.4 63.9h0.9M86.8 63.1h0.9M85.7 61.8h0.9M87.4 59.6h0.9M84.4 63.3h0.9M86.2 65.9h0.9M83.9 61.7h0.9M85.4 58.9h0.9M82.4 59.3h0.9M86.2 63.3h0.9M86.3 60.7h0.9M97.7 55.8h0.9M99.5 57.7h0.9M100.6 58.9h0.9M96.1 57.6h0.9M99.4 57.8h0.9M99.5 56.0h0.9M98.6 55.9h0.9M97.5 60.4h0.9" stroke="#555555" stroke-width="1" stroke-opacity="0.6" fill="none"/>
<path d="M83.3 95.7h0.9M89.0 94.2h0.9M92.2 98.0h0.9M83.2 99.5h0.9M84.3 94.1h0.9M79.9 98.3h0.9M84.9 105.7h0.9M78.4 101.7h0.9M77.5 97.5h0.9M90.1 96.3h0.9M87.2 98.8h0.9M86.5 100.4h0.9M81.0 103.0h0.9M82.2 95.1h0.9M80.2 98.3h0.9M79.6 102.9h0.9M89.5 100.7h0.9M91.9 95.4h0.9M91.4 98.9h0.9M85.2 94.7h0.9M86.2 104.3h0.9M83.2 96.1h0.9M86.4 97.1h0.9M94.9 100.5h0.9M78.6 96.2h0.9M84.9 98.1h0.9M87.3 101.1h0.9M81.8 99.8h0.9M85.1 103.7h0.9M74.4 97.7h0.9M78.2 95.6h0.9M86.1 92.0h0.9M91.7 95.1h0.9M77.1 96.9h0.9M85.6 99.9h0.9M83.9 94.6h0.9M88.9 104.1h0.9M77.0 100.9h0.9M77.9 96.0h0.9M86.5 103.2h0.9M81.1 104.6h0.9M91.4 99.2h0.9M86.2 98.5h0.9M76.4 94.5h0.9M77.0 93.8h0.9M80.5 104.1h0.9M84.4 104.1h0.9M85.0 104.3h0.9M83.7 96.5h0.9M74.2 100.1h0.9M89.4 97.4h0.9M78.5 98.5h0.9M88.5 99.2h0.9M78.2 100.6h0.9M85.7 97.0h0.9M78.0 95.0h0.9M85.8 94.2h0.9M72.7 99.1h0.9M83.6 104.2h0.9M81.1 97.5h0.9M76.9 100.0h0.9M87.0 98.6h0.9M76.0 96.5h0.9M92.7 100.7h0.9M87.9 103.2h0.9M91.4 98.3h0.9M77.3 98.8h0.9M85.1 95.0h0.9M82.4 91.2h0.9M93.8 103.1h0.9M84.3 104.2h0.9M89.4 94.1h0.9M90.8 100.0h0.9M87.8 99.2h0.9M88.8 96.1h0.9M86.6 96.0h0.9M79.4 102.5h0.9M83.8 102.9h0.9M86.1 100.3h0.9M84.2 93.8h0.9M79.1 102.5h0.9M86.9 99.4h0.9M93.0 102.5h0.9M78.9 101.1h0.9M89.3 94.2h0.9M88.8 104.2h0.9M82.7 91.7h0.9M84.1 98.8h0.9M79.9 100.6h0.9M78.9 93.9h0.9M84.0 93.7h0.9M84.1 103.3h0.9M81.9 104.9h0.9M91.6 101.2h0.9M87.8 97.0h0.9M89.0 100.0h0.9M82.2 98.0h0.9M84.7 92.1h0.9M79.7 101.4h0.9M89.1 97.2h0.9M86.9 101.7h0.9M80.9 102.2h0.9M78.3 97.6h0.9M82.2 95.9h0.9M83.6 98.5h0.9M79.1 98.9h0.9M77.7 97.4h0.9M75.9 101.2h0.9M81.4 102.3h0.9M81.6 101.7h0.9M77.1 93.4h0.9M88.3 96.3h0.9M81.8 95.9h0.9M87.0 96.4h0.9M82.8 97.5h0.9M83.2 93.6h0.9M77.4 93.5h0.9M91.8 95.8h0.9M76.4 100.4h0.9M88.4 101.5h0.9M87.9 98.4h0.9M92.1 96.5h0.9M88.4 104.1h0.9M84.4 95.9h0.9M90.5 97.8h0.9M90.2 99.1h0.9M81.7 93.6h0.9M85.0 104.9h0.9M80.2 104.5h0.9M86.3 96.9h0.9M84.7 103.4h0.9M80.5 104.1h0.9M89.0 99.3h0.9M91.2 96.6h0.9M85.3 91.5h0.9M82.2 98.3h0.9M89.3 96.0h0.9M88.3 94.0h0.9M88.7 99.9h0.9M85.8 91.8h0.9M90.6 99.4h0.9M76.3 101.4h0.9M76.4 99.7h0.9M92.1 94.7h0.9M88.8 102.4h0.9M79.9 100.6h0.9M88.0 99.2h0.9M87.2 98.8h0.9M76.6 99.4h0.9M78.8 91.9h0.9M79.5 98.8h0.9M82.9 99.3h0.9M86.6 90.9h0.9M88.6 99.5h0.9M78.0 97.4h0.9M78.5 100.5h0.9M90.1 95.7h0.9M87.5 100.1h0.9M82.2 98.8h0.9M87.2 95.5h0.9M80.8 98.9h0.9M77.1 103.0h0.9M80.1 99.6h0.9M91.9 99.4h0.9M76.3 98.3h0.9M84.9 94.4h0.9M92.1 100.6h0.9M89.0 103.0h0.9M80.9 97.0h0.9M88.4 103.6h0.9M79.9 97.8h0.9M78.3 103.8h0.9M84.4 105.1h0.9M89.0 94.0h0.9M78.0 97.3h0.9M78.0 101.7h0.9M92.7 93.0h0.9M85.7 99.8h0.9M77.9 93.9h0.9M89.3 99.0h0.9M90.0 97.9h0.9M87.4 95.7h0.9M77.2 95.7h0.9M86.3 98.0h0.9M83.6 97.7h0.9M83.4 94.9h0.9M79.3 94.3h0.9M91.0 103.1h0.9M85.1 93.3h0.9M88.7 94.9h0.9M90.7 93.6h0.9M91.0 93.5h0.9M84.6 100.1h0.9M92.5 97.7h0.9M81.3 98.4h0.9M80.5 101.5h0.9M86.0 97.8h0.9M83.3 95.2h0.9M89.5 106.1h0.9M83.0 97.4h0.9M88.4 93.5h0.9M87.1 93.5h0.9M85.6 91.2h0.9M85.2 101.5h0.9M80.1 101.4h0.9M79.4 98.2h0.9M83.5 93.3h0.9M88.1 103.7h0.9M81.7 107.7h0.9M79.7 99.1h0.9M92.8 104.3h0.9M88.6 98.1h0.9M86.2 100.4h0.9M75.5 99.8h0.9M80.5 97.5h0.9M91.3 96.4h0.9M83.5 101.2h0.9M84.0 93.6h0.9M88.2 94.8h0.9M89.2 102.1h0.9M77.4 101.8h0.9M86.5 95.1h0.9M90.4 98.6h0.9M88.1 97.9h0.9M88.6 100.4h0.9M84.2 102.5h0.9M83.0 98.9h0.9M85.2 100.0h0.9M90.1 101.5h0.9M79.5 96.7h0.9M82.2 100.8h0.9M84.7 106.2h0.9M91.1 97.9h0.9M80.5 97.0h0.9M89.0 94.4h0.9M78.9 97.6h0.9M76.2 101.0h0.9M89.8 96.6h0.9M88.6 104.3h0.9M89.4 93.5h0.9M84.7 93.9h0.9M87.7 92.7h0.9M90.3 102.5h0.9M75.9 99.5h0.9M90.2 95.6h0.9M77.4 96.4h0.9M89.8 98.0h0.9M88.3 97.8h0.9M80.9 93.2h0.9M78.7 101.8h0.9M79.0 100.2h0.9M88.9 101.2h0.9M89.8 96.5h0.9M90.0 100.2h0.9M82.6 92.1h0.9M81.1 98.1h0.9M86.5 104.1h0.9M76.8 96.6h0.9M83.5 93.8h0.9M88.1 97.5h0.9M81.1 101.8h0.9M88.0 104.8h0.9M85.7 100.3h0.9M87.4 100.6h0.9M82.1 100.0h0.9M77.9 102.2h0.9M83.1 93.8h0.9M86.1 104.0h0.9M92.5 97.1h0.9M77.9 94.7h0.9M83.5 105.2h0.9M89.4 94.9h0.9M85.9 93.5h0.9M81.0 93.4h0.9M85.1 103.9h0.9M86.6 96.4h0.9M84.6 95.9h0.9M82.8 100.0h0.9M84.9 100.0h0.9M82.3 102.8h0.9M77.8 96.3h0.9M87.4 102.5h0.9M89.4 99.8h0.9M74.6 97.7h0.9M78.8 99.2h0.9M86.1 98.4h0.9M80.7 93.6h0.9M95.6 92.3h0.9M92.3 94.7h0.9M90.6 95.9h0.9M85.9 92.1h0.9M91.4 95.9h0.9M91.9 94.3h0.9M93.0 94.8h0.9M95.2 93.7h0.9M87.1 95.0h0.9M93.5 96.2h0.9M91.0 93.5h0.9M87.3 96.9h0.9M90.0 93.6h0.9M90.8 93.0h0.9M93.1 92.5h0.9M91.3 94.7h0.9M90.9 91.3h0.9M88.7 93.4h0.9M87.2 97.6h0.9M90.4 96.7h0.9M91.0 92.4h0.9M93.1 94.7h0.9M95.8 92.5h0.9M88.8 93.6h0.9M91.5 92.2h0.9M89.4 94.4h0.9M90.4 90.1h0.9M94.7 94.1h0.9M91.6 95.3h0.9M95.5 94.0h0.9M92.6 94.6h0.9M93.5 94.3h0.9M89.8 90.9h0.9M91.3 95.9h0.9M90.4 90.2h0.9M88.9 94.9h0.9M90.1 98.6h0.9M92.4 90.1h0.9M88.9 93.2h0.9M92.3 92.9h0.9M90.4 96.1h0.9M85.8 93.7h0.9M93.7 91.2h0.9M89.5 93.0h0.9M90.5 93.7h0.9M89.9 93.0h0.9M90.5 92.5h0.9M85.2 92.9h0.9M89.1 93.0h0.9M91.0 97.0h0.9M90.2 96.5h0.9M91.5 97.2h0.9M90.3 95.0h0.9M92.4 95.7h0.9M92.1 93.4h0.9" stroke="#f2a462" stroke-width="1" stroke-opacity="0.7" fill="none"/>
<path d="M59.7 98.0h0.9M56.9 92.7h0.9M51.0 97.2h0.9M59.3 81.8h0.9M53.2 84.2h0.9M56.0 96.6h0.9M55.5 81.8h0.9M67.4 104.5h0.9M54.5 86.9h0.9M63.0 98.6h0.9M62.2 97.8h0.9M72.7 104.9h0.9M68.6 101.5h0.9M60.0 101.8h0.9M60.5 91.9h0.9M63.1 101.3h0.9M70.5 101.0h0.9M51.1 92.9h0.9M58.8 99.5h0.9M69.4 100.6h0.9M67.6 101.3h0.9M58.2 99.3h0.9M72.7 101.6h0.9M62.9 95.7h0.9M67.7 100.4h0.9M71.4 103.2h0.9M56.5 92.6h0.9M66.7 106.8h0.9M67.4 101.8h0.9M67.6 103.6h0.9M57.8 88.2h0.9M68.3 104.9h0.9M57.3 82.6h0.9M61.8 96.6h0.9M60.2 95.8h0.9M58.7 83.3h0.9M68.6 100.2h0.9M62.4 97.1h0.9M72.6 104.6h0.9M66.3 104.3h0.9M59.0 84.2h0.9M58.1 92.7h0.9M57.2 87.1h0.9M51.9 93.9h0.9M54.7 98.5h0.9M55.0 85.4h0.9M60.2 103.9h0.9M66.6 107.9h0.9M60.0 102.5h0.9M57.9 93.9h0.9M66.7 98.5h0.9M60.2 85.0h0.9M63.1 107.1h0.9M55.2 104.4h0.9M50.1 97.9h0.9M68.2 100.7h0.9M52.9 93.1h0.9M51.3 98.3h0.9M61.6 106.7h0.9M61.2 100.0h0.9M55.5 91.7h0.9M66.9 97.8h0.9M53.2 88.1h0.9M56.8 77.5h0.9M53.9 78.8h0.9M56.0 92.5h0.9M53.1 95.4h0.9M70.2 103.6h0.9M62.2 91.4h0.9M57.3 77.6h0.9M52.8 90.5h0.9M61.1 107.5h0.9M54.7 104.2h0.9M65.4 105.7h0.9M67.4 99.1h0.9M67.7 100.9h0.9M54.4 94.9h0.9M53.5 88.2h0.9M68.7 100.4h0.9M54.1 99.2h0.9M54.8 91.5h0.9M58.0 103.0h0.9M51.7 82.6h0.9M61.4 100.7h0.9M64.4 92.9h0.9M54.5 99.0h0.9M67.2 106.1h0.9M70.6 105.6h0.9M59.5 99.1h0.9M66.7 98.2h0.9M56.3 89.8h0.9M57.1 86.4h0.9M58.7 91.2h0.9M56.0 99.4h0.9M53.5 77.7h0.9M52.5 88.2h0.9M70.3 99.4h0.9M59.6 95.7h0.9M65.0 103.8h0.9M58.3 99.0h0.9M54.2 99.0h0.9M69.0 108.2h0.9M56.6 85.8h0.9M55.9 104.4h0.9M61.6 95.9h0.9M59.2 92.3h0.9M59.9 87.7h0.9M68.3 104.2h0.9M54.9 77.1h0.9M57.9 103.3h0.9M60.4 88.4h0.9M59.6 93.4h0.9M51.6 86.8h0.9M59.8 94.5h0.9M61.6 95.3h0.9M53.6 81.3h0.9M56.4 97.0h0.9M53.9 84.5h0.9M63.5 102.3h0.9M58.7 98.9h0.9M56.8 96.6h0.9M54.0 100.6h0.9M62.9 93.9h0.9M54.4 95.7h0.9M54.8 97.0h0.9M55.4 86.1h0.9M54.8 88.2h0.9M53.2 86.3h0.9M62.1 96.9h0.9M60.9 104.9h0.9M58.4 94.4h0.9M60.9 92.9h0.9M61.7 105.6h0.9M63.8 92.7h0.9M63.4 101.9h0.9M56.0 96.8h0.9M58.0 90.8h0.9M57.9 80.1h0.9M58.4 97.9h0.9M52.6 93.4h0.9M58.7 92.0h0.9M67.0 102.6h0.9M61.7 101.6h0.9M65.4 99.9h0.9M61.4 90.3h0.9M54.0 96.2h0.9M55.7 97.4h0.9M53.8 77.3h0.9M72.1 100.3h0.9M51.6 97.0h0.9M70.6 104.6h0.9M53.5 91.8h0.9M58.0 104.5h0.9M56.7 89.3h0.9M71.4 105.8h0.9M51.5 88.6h0.9M60.1 100.7h0.9M63.6 104.2h0.9M61.3 105.3h0.9M63.1 98.2h0.9M59.3 101.9h0.9M64.2 98.7h0.9M61.8 86.6h0.9M56.4 99.6h0.9M64.0 106.0h0.9M59.4 88.6h0.9M54.3 93.7h0.9M67.5 101.3h0.9M58.3 93.0h0.9M51.9 82.5h0.9M68.2 100.4h0.9M54.0 94.8h0.9M55.3 98.7h0.9M67.3 99.6h0.9M62.5 105.6h0.9M54.9 83.9h0.9M58.3 99.6h0.9M60.7 100.1h0.9M56.9 75.6h0.9M57.1 107.0h0.9M56.0 87.6h0.9M70.7 105.7h0.9M53.0 96.5h0.9M55.2 102.8h0.9M53.3 99.4h0.9M60.9 86.3h0.9M54.6 80.3h0.9M66.7 103.2h0.9M53.9 83.7h0.9M73.2 102.4h0.9M60.8 103.5h0.9M50.7 92.8h0.9M58.2 98.1h0.9M54.0 94.8h0.9M57.1 81.3h0.9M59.7 96.1h0.9M51.5 80.1h0.9M64.4 103.0h0.9M63.2 96.4h0.9M63.3 106.4h0.9M61.4 92.4h0.9M55.0 103.0h0.9M64.0 103.7h0.9M50.9 79.7h0.9M65.6 105.9h0.9M61.2 88.0h0.9M57.8 106.2h0.9M55.2 97.4h0.9M53.0 96.3h0.9M56.9 88.7h0.9M65.0 104.5h0.9M60.2 106.0h0.9M69.8 106.5h0.9M57.4 106.5h0.9M56.7 106.4h0.9M72.4 101.3h0.9M53.5 82.6h0.9M56.1 104.1h0.9M52.7 93.9h0.9M50.5 90.0h0.9M58.4 102.5h0.9M58.0 94.5h0.9M53.6 83.7h0.9M51.5 88.0h0.9M67.1 106.2h0.9M58.9 95.0h0.9M55.9 79.0h0.9M56.9 86.4h0.9M62.7 101.8h0.9M59.5 82.4h0.9M62.5 95.7h0.9M59.9 96.9h0.9M57.0 77.0h0.9M58.2 106.2h0.9M62.0 94.6h0.9M57.9 95.5h0.9M56.4 103.8h0.9M53.1 79.4h0.9M52.4 92.0h0.9M56.4 88.0h0.9M56.4 96.7h0.9M59.3 94.7h0.9M60.5 91.5h0.9M54.1 89.9h0.9M56.6 91.1h0.9M67.1 99.6h0.9M51.4 90.0h0.9M49.3 77.6h0.9M56.0 78.6h0.9M57.8 97.4h0.9M53.0 81.4h0.9M52.0 86.0h0.9M53.5 93.5h0.9M71.4 103.6h0.9M57.7 95.0h0.9M63.3 105.2h0.9M57.5 102.2h0.9M59.7 93.2h0.9M63.8 96.4h0.9M72.8 102.6h0.9M59.2 83.8h0.9M62.6 98.7h0.9M55.7 88.4h0.9M58.3 82.1h0.9M73.8 102.2h0.9M71.2 103.2h0.9M56.2 98.6h0.9M66.9 101.5h0.9M73.2 107.6h0.9M61.8 100.3h0.9M60.7 83.1h0.9M59.0 101.7h0.9M62.9 98.2h0.9M58.5 83.7h0.9M62.2 85.5h0.9M62.6 89.1h0.9M68.0 98.9h0.9M54.3 96.0h0.9M59.6 97.4h0.9M60.6 89.1h0.9M50.1 89.4h0.9M62.1 88.6h0.9M54.7 81.2h0.9M54.3 92.7h0.9M59.5 96.1h0.9M56.3 95.3h0.9M59.3 92.3h0.9M58.5 99.2h0.9M54.6 91.4h0.9M60.0 99.0h0.9M63.7 99.1h0.9M59.8 81.5h0.9M57.1 94.2h0.9M55.1 103.1h0.9M55.7 98.7h0.9M62.0 106.3h0.9M56.3 86.5h0.9M64.1 101.3h0.9M51.3 86.7h0.9M75.5 98.4h0.9M61.4 105.1h0.9M52.7 92.2h0.9M66.4 102.1h0.9M52.3 85.5h0.9M59.6 89.0h0.9M60.7 97.4h0.9M60.2 96.6h0.9M53.2 79.2h0.9M64.6 98.4h0.9M60.3 95.6h0.9M56.5 94.9h0.9M57.8 94.2h0.9M58.3 92.2h0.9M59.0 90.4h0.9M63.2 98.1h0.9M61.0 94.4h0.9M63.6 98.1h0.9M62.8 92.8h0.9M53.4 94.8h0.9M65.6 104.4h0.9M54.1 96.8h0.9M58.3 83.7h0.9M61.2 87.3h0.9M73.6 103.7h0.9M72.4 104.3h0.9M54.2 102.4h0.9M60.6 98.5h0.9M64.4 106.9h0.9M62.7 107.5h0.9M52.2 80.3h0.9M55.5 90.1h0.9M62.1 103.2h0.9M58.2 90.1h0.9M69.8 106.3h0.9M51.5 87.5h0.9M59.8 96.8h0.9M52.6 93.9h0.9M53.1 87.3h0.9M62.5 102.6h0.9M58.2 79.4h0.9M65.7 102.3h0.9M58.8 101.8h0.9M62.5 95.9h0.9M53.6 89.6h0.9M64.0 98.3h0.9M55.3 97.6h0.9M56.2 97.9h0.9M56.7 87.4h0.9M66.5 102.7h0.9M67.6 103.6h0.9M61.6 102.3h0.9M55.8 81.7h0.9M57.2 91.2h0.9M51.3 89.6h0.9M73.2 103.6h0.9M70.4 101.0h0.9M55.1 87.0h0.9M55.3 100.9h0.9M60.1 95.6h0.9M66.7 101.7h0.9M58.5 92.2h0.9M52.2 88.0h0.9M55.7 101.5h0.9M61.5 81.3h0.9M57.7 79.3h0.9M57.5 99.9h0.9M70.1 105.4h0.9M54.1 84.0h0.9M59.8 93.3h0.9M71.2 103.3h0.9M54.0 103.5h0.9M51.7 82.6h0.9M55.1 77.9h0.9M70.5 105.1h0.9M58.3 103.9h0.9M59.0 98.0h0.9M57.4 87.3h0.9M54.8 83.5h0.9M67.5 98.1h0.9M59.3 97.4h0.9M55.8 89.4h0.9M50.9 77.6h0.9M66.3 101.8h0.9M57.6 79.5h0.9M58.5 93.2h0.9M73.0 104.2h0.9M55.9 78.9h0.9M70.7 103.3h0.9M59.5 85.6h0.9M60.3 82.1h0.9M56.2 94.2h0.9M54.1 88.8h0.9M62.9 101.5h0.9M74.3 101.0h0.9M54.2 82.2h0.9M63.6 96.7h0.9M55.5 92.2h0.9M54.0 99.1h0.9M63.4 101.1h0.9M49.9 85.2h0.9M68.6 103.3h0.9M56.7 80.4h0.9M56.5 80.2h0.9M64.8 99.5h0.9M54.7 78.2h0.9M61.9 102.9h0.9M57.1 84.6h0.9M55.9 103.2h0.9M65.4 98.2h0.9M59.4 102.1h0.9M62.2 89.0h0.9M54.6 82.7h0.9M61.3 91.0h0.9M60.9 102.6h0.9M49.5 76.8h0.9M59.0 78.7h0.9M70.1 105.9h0.9M57.5 91.1h0.9M60.8 90.4h0.9M54.0 100.5h0.9M55.7 96.1h0.9M55.3 79.2h0.9M56.4 84.3h0.9M56.5 91.1h0.9M56.1 84.9h0.9M54.0 78.9h0.9M53.5 90.3h0.9M57.4 89.3h0.9M52.8 81.6h0.9M61.3 98.2h0.9M55.7 76.3h0.9M59.1 81.0h0.9M62.8 102.4h0.9M56.6 106.0h0.9M63.0 104.6h0.9M72.5 109.8h0.9M57.0 85.6h0.9M63.4 99.9h0.9M56.9 83.2h0.9M66.2 105.2h0.9M68.3 102.5h0.9M66.1 99.5h0.9M57.6 96.9h0.9M56.7 93.1h0.9M51.9 79.4h0.9M59.8 82.4h0.9M55.4 82.8h0.9M57.7 80.3h0.9M67.7 104.9h0.9M57.0 94.4h0.9M56.5 103.5h0.9M58.7 85.4h0.9M66.4 106.3h0.9M54.4 88.0h0.9M59.1 97.1h0.9M61.8 96.6h0.9M74.1 100.8h0.9M54.8 86.6h0.9M60.4 105.4h0.9M59.6 102.4h0.9M52.6 89.1h0.9M60.6 103.3h0.9M64.6 105.9h0.9M53.7 89.5h0.9M54.3 83.6h0.9M52.4 97.8h0.9M56.1 98.2h0.9M53.1 79.1h0.9M66.0 96.9h0.9M69.4 108.3h0.9M57.9 80.5h0.9M54.2 82.3h0.9M64.4 107.9h0.9M53.4 79.8h0.9M68.8 103.3h0.9M66.8 105.9h0.9M54.7 81.0h0.9M62.1 96.6h0.9M61.1 84.5h0.9M67.8 100.4h0.9M55.7 90.5h0.9M50.0 80.9h0.9M60.1 88.1h0.9M56.2 92.8h0.9M64.4 95.3h0.9M56.4 100.6h0.9M64.7 102.7h0.9M63.7 97.9h0.9M49.9 78.5h0.9M62.9 95.1h0.9M61.8 108.1h0.9M57.2 81.2h0.9M54.3 93.2h0.9M52.6 82.3h0.9M59.4 83.4h0.9M60.2 102.6h0.9M58.3 92.8h0.9M61.3 102.6h0.9M60.7 100.1h0.9M61.1 102.9h0.9M53.5 93.7h0.9M54.0 91.3h0.9M54.7 88.1h0.9M60.0 92.4h0.9M52.9 90.4h0.9M50.9 77.3h0.9M58.1 99.9h0.9M56.4 96.1h0.9M72.0 101.5h0.9M56.5 99.0h0.9M53.3 93.4h0.9M54.3 82.1h0.9M71.6 105.0h0.9M63.5 102.0h0.9M65.7 103.3h0.9M62.6 103.4h0.9M57.7 79.1h0.9M53.9 97.9h0.9M57.0 79.6h0.9M56.5 98.3h0.9M58.1 76.5h0.9M71.4 100.5h0.9M53.4 78.1h0.9M56.4 93.5h0.9M52.8 81.1h0.9M72.5 103.2h0.9M50.9 93.7h0.9M60.8 104.1h0.9M51.5 83.5h0.9M58.3 93.8h0.9M70.2 101.1h0.9M58.0 90.2h0.9M60.1 91.5h0.9M55.8 82.8h0.9M53.3 94.8h0.9M56.7 93.8h0.9M52.0 95.1h0.9M65.9 104.8h0.9M61.7 100.5h0.9M59.8 92.2h0.9M58.2 97.4h0.9M58.4 83.6h0.9M54.0 96.5h0.9M49.6 87.4h0.9M58.1 97.1h0.9M53.2 77.6h0.9M59.7 83.9h0.9M63.0 108.0h0.9M51.4 96.9h0.9M55.3 106.1h0.9M67.1 105.4h0.9M58.1 84.1h0.9M60.0 102.4h0.9M53.4 81.4h0.9M60.0 88.1h0.9M59.7 83.4h0.9M55.4 86.8h0.9M63.3 100.1h0.9M66.0 97.6h0.9M55.4 78.2h0.9M71.0 103.7h0.9M65.1 100.4h0.9M54.2 88.5h0.9M72.7 103.5h0.9M63.3 87.3h0.9M68.5 103.9h0.9M56.5 90.1h0.9M72.8 101.3h0.9M69.9 104.5h0.9M62.1 105.0h0.9M56.6 78.9h0.9M56.0 104.7h0.9M69.7 106.5h0.9M49.2 87.8h0.9M55.6 97.9h0.9M55.3 97.6h0.9M57.0 89.4h0.9M61.8 94.0h0.9M66.0 97.9h0.9M54.0 99.2h0.9M63.9 106.2h0.9M63.1 104.4h0.9M52.7 80.8h0.9M65.9 109.4h0.9M64.7 106.0h0.9M52.9 102.8h0.9M72.1 99.2h0.9M71.3 99.1h0.9M53.6 81.0h0.9M56.3 92.1h0.9M70.3 101.2h0.9M57.9 93.4h0.9M71.4 101.5h0.9M57.2 98.4h0.9M56.1 92.3h0.9M52.7 91.1h0.9M68.6 97.2h0.9M57.9 82.7h0.9M56.5 98.9h0.9M76.0 104.4h0.9M70.1 105.2h0.9M63.3 101.0h0.9M51.3 98.4h0.9M61.2 86.1h0.9M53.2 83.9h0.9M64.9 101.5h0.9M55.7 93.6h0.9M69.8 101.9h0.9M57.9 104.9h0.9M54.3 80.4h0.9M53.8 81.1h0.9M73.6 100.8h0.9M61.4 98.3h0.9M53.3 97.5h0.9M69.1 107.8h0.9M54.7 77.9h0.9M69.2 105.1h0.9M51.8 89.7h0.9M55.0 86.7h0.9M66.0 97.3h0.9M73.1 102.1h0.9M64.7 104.6h0.9M58.1 96.8h0.9M54.4 87.7h0.9M54.5 82.1h0.9M61.0 105.7h0.9M53.2 92.0h0.9M57.0 90.6h0.9" stroke="#5050ac" stroke-width="1" stroke-opacity="0.7" fill="none"/>
<path d="M67.1 73.6h0.9M81.8 82.5h0.9M77.0 77.2h0.9M61.3 69.2h0.9M61.9 85.7h0.9M76.3 77.9h0.9M71.9 72.4h0.9M72.0 75.8h0.9M63.4 89.8h0.9M82.3 74.9h0.9M82.8 65.7h0.9M72.7 79.8h0.9M68.1 64.9h0.9M73.7 89.8h0.9M61.2 86.9h0.9M70.1 88.5h0.9M60.1 88.6h0.9M61.6 72.5h0.9M68.3 82.7h0.9M80.6 67.6h0.9M72.9 86.3h0.9M78.4 88.1h0.9M72.7 96.3h0.9M74.1 84.6h0.9M68.9 86.8h0.9M70.9 64.2h0.9M86.7 69.5h0.9M70.8 65.4h0.9M72.8 71.2h0.9M72.6 96.5h0.9M77.7 70.0h0.9M71.3 91.1h0.9M60.8 67.1h0.9M65.5 61.5h0.9M70.2 91.2h0.9M80.1 77.9h0.9M75.7 61.3h0.9M75.4 92.1h0.9M64.7 83.8h0.9M77.6 75.0h0.9M71.6 86.7h0.9M67.3 100.6h0.9M78.5 74.6h0.9M69.8 87.4h0.9M62.5 87.9h0.9M63.1 79.3h0.9M68.9 70.7h0.9M60.6 85.6h0.9M63.7 74.8h0.9M65.4 79.6h0.9M78.5 71.5h0.9M60.3 72.9h0.9M71.2 63.1h0.9M60.3 66.1h0.9M65.9 98.2h0.9M81.3 83.8h0.9M82.4 64.0h0.9M77.9 69.5h0.9M79.9 68.1h0.9M67.3 73.7h0.9M60.3 88.5h0.9M76.2 63.4h0.9M71.3 83.2h0.9M58.4 70.7h0.9M66.7 93.6h0.9M62.3 91.9h0.9M69.3 82.8h0.9M77.2 89.7h0.9M67.4 94.3h0.9M80.4 74.8h0.9M76.5 77.2h0.9M68.0 77.1h0.9M60.5 88.1h0.9M58.6 77.3h0.9M67.5 82.3h0.9M60.0 69.3h0.9M65.0 82.3h0.9M68.4 74.8h0.9M68.7 73.9h0.9M62.1 74.5h0.9M74.7 75.6h0.9M58.7 78.2h0.9M65.5 78.1h0.9M67.5 97.7h0.9M64.2 93.4h0.9M82.3 76.1h0.9M64.9 72.5h0.9M80.4 72.6h0.9M72.4 79.7h0.9M74.8 73.6h0.9M56.3 67.3h0.9M76.4 87.6h0.9M82.1 73.0h0.9M60.7 68.3h0.9M60.3 69.8h0.9M64.9 62.4h0.9M61.2 76.9h0.9M66.2 96.6h0.9M70.4 96.9h0.9M68.0 86.0h0.9M72.4 65.6h0.9M64.6 91.0h0.9M65.1 62.9h0.9M60.6 80.0h0.9M76.4 79.3h0.9M58.6 71.1h0.9M77.1 68.6h0.9M65.7 76.3h0.9M63.1 93.5h0.9M75.5 70.8h0.9M78.8 66.6h0.9M61.0 68.2h0.9M63.9 68.5h0.9M60.1 84.8h0.9M67.5 88.3h0.9M66.2 74.7h0.9M60.5 81.3h0.9M67.8 63.6h0.9M70.0 63.5h0.9M66.6 72.0h0.9M59.4 64.1h0.9M80.5 67.2h0.9M78.5 67.6h0.9M73.4 90.3h0.9M75.3 87.9h0.9M61.7 80.0h0.9M77.8 81.1h0.9M65.0 83.2h0.9M86.0 71.5h0.9M85.5 68.1h0.9M61.0 90.6h0.9M69.5 91.9h0.9M68.3 94.0h0.9M70.0 65.9h0.9M81.4 75.9h0.9M68.2 99.5h0.9M70.7 76.3h0.9M62.9 98.5h0.9M72.6 84.5h0.9M82.2 67.4h0.9M83.7 63.8h0.9M79.3 77.7h0.9M63.3 89.9h0.9M65.9 70.2h0.9M74.7 73.4h0.9M64.1 101.3h0.9M66.2 94.9h0.9M67.5 61.6h0.9M74.7 72.9h0.9M66.2 67.7h0.9M65.1 82.2h0.9M68.0 85.8h0.9M70.3 73.4h0.9M81.9 79.3h0.9M68.2 68.5h0.9M70.7 93.8h0.9M61.6 86.9h0.9M75.4 66.4h0.9M69.4 61.0h0.9M85.7 67.1h0.9M55.5 70.6h0.9M79.8 92.1h0.9M81.5 82.9h0.9M75.8 76.1h0.9M71.7 60.8h0.9M72.8 71.2h0.9M66.1 68.6h0.9M83.8 75.0h0.9M58.0 66.3h0.9M62.1 67.6h0.9M71.6 89.0h0.9M77.6 67.5h0.9M79.3 63.9h0.9M77.8 77.6h0.9M60.7 78.5h0.9M73.3 64.6h0.9M74.1 77.8h0.9M69.7 67.1h0.9M61.8 67.3h0.9M58.4 81.3h0.9M59.1 92.4h0.9M59.1 94.7h0.9M72.0 65.0h0.9M67.2 73.1h0.9M68.9 87.7h0.9M56.0 73.2h0.9M69.0 78.8h0.9M58.4 75.1h0.9M85.7 70.9h0.9M72.3 67.6h0.9M65.4 70.9h0.9M85.9 64.6h0.9M71.1 74.5h0.9M57.2 72.2h0.9M63.5 94.1h0.9M68.6 90.4h0.9M76.6 76.3h0.9M83.6 73.9h0.9M64.2 94.0h0.9M70.4 98.3h0.9M86.4 62.5h0.9M63.9 69.3h0.9M62.9 74.1h0.9M64.7 98.5h0.9M70.5 78.8h0.9M56.7 67.3h0.9M60.5 69.2h0.9M61.9 85.2h0.9M69.1 71.9h0.9M67.7 92.1h0.9M62.2 75.0h0.9M65.7 76.4h0.9M68.0 67.1h0.9M84.5 77.7h0.9M70.1 93.7h0.9M57.8 68.6h0.9M85.3 74.2h0.9M55.7 64.7h0.9M58.6 63.1h0.9M78.8 71.2h0.9M70.2 72.4h0.9M77.7 68.9h0.9M66.1 94.2h0.9M71.9 84.5h0.9M78.4 80.7h0.9M63.4 80.8h0.9M71.5 85.2h0.9M63.4 67.4h0.9M82.7 82.5h0.9M59.1 78.3h0.9M58.1 68.8h0.9M86.9 65.6h0.9M79.4 62.5h0.9M71.4 68.6h0.9M71.5 81.3h0.9M69.5 75.5h0.9M79.4 79.6h0.9M85.1 73.4h0.9M58.4 66.6h0.9M71.7 95.1h0.9M65.5 70.6h0.9M63.1 80.7h0.9M71.3 80.6h0.9M74.4 82.9h0.9M63.3 88.5h0.9M60.5 84.5h0.9M65.6 101.6h0.9M77.6 69.2h0.9M65.2 86.3h0.9M59.6 70.9h0.9M68.2 78.5h0.9M75.2 86.8h0.9M63.9 72.0h0.9M84.2 76.2h0.9M64.4 73.5h0.9M72.2 75.7h0.9M73.9 72.1h0.9M78.2 60.9h0.9M60.2 74.3h0.9M60.0 66.6h0.9M80.6 78.8h0.9M66.2 84.5h0.9M79.2 82.8h0.9M79.6 61.5h0.9M82.9 66.5h0.9M62.0 91.0h0.9M68.4 87.1h0.9M74.5 78.4h0.9M81.3 81.4h0.9M71.7 89.0h0.9M82.9 74.0h0.9M76.8 72.9h0.9M62.7 66.8h0.9M74.6 60.3h0.9M64.7 99.7h0.9M59.8 71.4h0.9M80.4 90.2h0.9M57.8 71.8h0.9M60.6 79.3h0.9M67.4 64.6h0.9M60.6 100.0h0.9M65.0 82.1h0.9M79.6 83.7h0.9M73.7 92.4h0.9M77.8 66.9h0.9M67.2 93.3h0.9M61.8 89.9h0.9M65.0 76.4h0.9M61.7 92.2h0.9M66.8 92.6h0.9M61.2 97.0h0.9M81.0 69.6h0.9M56.2 76.5h0.9M73.6 97.2h0.9M64.9 63.7h0.9M70.2 67.5h0.9M70.0 85.4h0.9M83.5 76.6h0.9M75.5 74.5h0.9M80.2 63.4h0.9M68.0 67.7h0.9M63.2 78.0h0.9M72.4 92.1h0.9M76.3 61.9h0.9M61.1 98.8h0.9M66.6 84.7h0.9M67.8 83.2h0.9M60.0 73.0h0.9M63.1 66.3h0.9M81.2 85.9h0.9M57.6 79.2h0.9M61.8 74.8h0.9M58.7 86.2h0.9M66.4 71.4h0.9M65.5 84.7h0.9M74.5 74.6h0.9M76.7 61.4h0.9M60.4 88.7h0.9M62.3 73.4h0.9M59.9 69.5h0.9M86.5 74.1h0.9M85.0 73.6h0.9M65.7 98.6h0.9M64.7 94.1h0.9M74.4 83.8h0.9M73.0 68.9h0.9M65.0 91.0h0.9M73.3 60.9h0.9M59.5 88.3h0.9M71.8 81.4h0.9M57.0 73.2h0.9M63.2 80.3h0.9M71.1 97.3h0.9M79.3 75.2h0.9M76.2 78.6h0.9M66.0 65.0h0.9M65.4 75.4h0.9M64.4 95.9h0.9M78.3 87.4h0.9M81.0 77.9h0.9M64.4 68.5h0.9M59.6 64.4h0.9M63.0 87.3h0.9M73.9 90.6h0.9M66.9 83.9h0.9M74.3 65.2h0.9M66.8 99.6h0.9M71.8 87.2h0.9M73.5 72.4h0.9M70.4 68.4h0.9M66.8 97.8h0.9M74.9 68.6h0.9M57.5 72.4h0.9M64.4 62.8h0.9M67.6 91.8h0.9M57.1 72.7h0.9M74.2 68.2h0.9M69.1 65.3h0.9M80.7 69.7h0.9M58.5 82.6h0.9M74.9 90.7h0.9M70.5 89.5h0.9M70.5 67.2h0.9M73.6 63.2h0.9M73.3 68.3h0.9M68.3 91.1h0.9M74.5 75.9h0.9M58.9 88.7h0.9M76.1 77.0h0.9M81.0 75.1h0.9M56.4 74.2h0.9M63.4 89.6h0.9M76.8 89.3h0.9M62.2 81.0h0.9M70.4 65.9h0.9M76.9 89.6h0.9M58.7 77.8h0.9M61.2 81.0h0.9M73.3 77.4h0.9M74.6 72.4h0.9M64.3 83.8h0.9M66.5 82.7h0.9M82.3 78.3h0.9M80.4 68.6h0.9M58.0 79.3h0.9M67.2 97.9h0.9M77.4 81.9h0.9M70.3 77.1h0.9M70.2 80.9h0.9M75.5 83.4h0.9M62.4 92.6h0.9M81.5 77.3h0.9M64.2 86.3h0.9M87.3 68.5h0.9M72.0 79.0h0.9M78.5 67.2h0.9M67.7 68.3h0.9M67.2 91.6h0.9M81.4 76.2h0.9M78.5 85.5h0.9M73.0 78.6h0.9M65.1 74.1h0.9M63.7 95.0h0.9M77.9 70.0h0.9M68.4 93.5h0.9M67.3 100.0h0.9M60.6 65.0h0.9M72.6 88.7h0.9M64.1 68.7h0.9M72.5 92.9h0.9M68.3 76.0h0.9M67.4 74.6h0.9M59.4 90.6h0.9M69.4 80.7h0.9M65.3 68.1h0.9M74.4 82.9h0.9M65.0 74.2h0.9M75.0 88.6h0.9M74.0 85.4h0.9M70.4 77.6h0.9M65.5 85.8h0.9M73.9 83.0h0.9M72.5 70.9h0.9M57.6 68.3h0.9M57.4 89.9h0.9M62.3 78.9h0.9M72.2 86.2h0.9M64.5 89.4h0.9M77.0 83.7h0.9M65.3 76.1h0.9M59.0 69.5h0.9M78.4 64.8h0.9M81.8 74.1h0.9M84.2 66.7h0.9M72.5 84.7h0.9M68.9 87.1h0.9M62.7 79.1h0.9M66.0 64.7h0.9M65.2 64.2h0.9M78.4 89.8h0.9M68.8 93.8h0.9M69.8 95.8h0.9M78.2 63.6h0.9M81.0 83.7h0.9M62.4 101.2h0.9M64.0 76.4h0.9M59.9 66.4h0.9M75.9 83.5h0.9M81.6 78.2h0.9M70.7 97.5h0.9M62.8 73.0h0.9M69.4 64.5h0.9M74.3 59.3h0.9M66.6 67.6h0.9M73.9 71.6h0.9M63.4 87.0h0.9M68.9 71.2h0.9M75.9 89.2h0.9M73.2 67.4h0.9M83.3 72.6h0.9M74.3 73.4h0.9M64.3 64.3h0.9M64.6 79.0h0.9M76.5 73.7h0.9M72.3 86.1h0.9M79.3 83.0h0.9M71.3 62.4h0.9M67.4 77.6h0.9M79.3 75.6h0.9M62.3 88.3h0.9M58.2 81.7h0.9M63.3 96.2h0.9M60.1 83.5h0.9M66.7 71.3h0.9M69.5 75.4h0.9M63.5 98.2h0.9M70.7 93.2h0.9M67.6 78.1h0.9M59.9 89.6h0.9M63.9 73.3h0.9M69.4 86.2h0.9M74.9 67.3h0.9M65.2 77.3h0.9M81.1 86.6h0.9M75.7 67.0h0.9M84.2 73.7h0.9M65.9 89.6h0.9M83.3 62.6h0.9M62.3 88.2h0.9M68.5 84.0h0.9M66.5 65.4h0.9M63.3 85.8h0.9M79.0 67.2h0.9M62.1 85.1h0.9M78.4 87.2h0.9M80.0 86.7h0.9M66.8 78.6h0.9M80.9 64.5h0.9M72.7 78.2h0.9M64.7 100.8h0.9M79.2 65.0h0.9M69.9 73.5h0.9M68.8 97.9h0.9M66.7 73.6h0.9M72.2 71.3h0.9M62.3 67.3h0.9M70.1 67.6h0.9M74.1 80.4h0.9M75.7 91.3h0.9M82.8 71.5h0.9M77.8 80.5h0.9M68.3 72.5h0.9M68.0 86.2h0.9M72.8 95.3h0.9M80.3 73.9h0.9M62.7 92.1h0.9M63.8 64.1h0.9M60.1 74.5h0.9M62.0 68.6h0.9M61.5 74.6h0.9M81.8 64.9h0.9M65.7 62.2h0.9M77.2 76.6h0.9M57.1 81.5h0.9M57.8 69.1h0.9M64.3 75.2h0.9M61.5 75.7h0.9M62.7 75.0h0.9M60.4 64.8h0.9M79.8 72.7h0.9M82.1 68.5h0.9M61.2 94.0h0.9M71.2 84.3h0.9M79.9 64.4h0.9M73.4 69.4h0.9M86.8 66.4h0.9M85.2 78.5h0.9M66.9 62.1h0.9M82.0 65.0h0.9M82.1 79.0h0.9M70.0 75.8h0.9M72.2 80.6h0.9M60.9 68.6h0.9M66.2 74.2h0.9M66.4 61.1h0.9M81.7 75.5h0.9M72.7 86.7h0.9M71.9 85.2h0.9M74.6 78.4h0.9M58.4 66.0h0.9M67.5 80.3h0.9M67.8 101.3h0.9M80.5 76.3h0.9M66.7 98.2h0.9M72.8 91.5h0.9M82.9 67.9h0.9M83.4 70.8h0.9M68.5 69.3h0.9M84.4 74.3h0.9M65.1 94.6h0.9M76.1 74.6h0.9M61.5 66.3h0.9M71.5 65.1h0.9M77.8 84.7h0.9M85.0 80.2h0.9M61.8 68.1h0.9M70.0 82.6h0.9M74.7 91.8h0.9M63.4 79.8h0.9M78.4 72.1h0.9M62.6 96.1h0.9M71.9 84.1h0.9M72.6 79.8h0.9M83.9 71.9h0.9M74.7 91.8h0.9M80.3 66.4h0.9M84.1 66.9h0.9M64.1 97.5h0.9M68.3 68.2h0.9M58.5 81.3h0.9M78.1 85.8h0.9M65.4 78.9h0.9M64.3 80.5h0.9M62.3 87.7h0.9M65.6 88.2h0.9M59.4 68.6h0.9M74.1 77.4h0.9M81.1 64.3h0.9M67.4 98.9h0.9M57.3 81.7h0.9M67.0 96.9h0.9M63.4 95.8h0.9M69.3 66.5h0.9M68.9 84.7h0.9M61.4 78.7h0.9M71.5 80.5h0.9M67.1 73.8h0.9M61.9 83.1h0.9M59.1 74.5h0.9M63.5 91.6h0.9M68.0 77.2h0.9M71.9 87.2h0.9M68.3 88.7h0.9M64.5 78.9h0.9M56.5 72.3h0.9M80.4 78.3h0.9M79.9 65.1h0.9M62.0 65.3h0.9M66.4 66.2h0.9M63.6 66.6h0.9M76.9 85.0h0.9M67.3 101.4h0.9M78.9 59.7h0.9M80.7 71.0h0.9M70.6 96.1h0.9M67.1 76.0h0.9M57.5 87.7h0.9M67.0 97.3h0.9M67.4 97.1h0.9M73.5 62.5h0.9M59.9 67.8h0.9M69.4 78.7h0.9M63.2 69.8h0.9M81.7 82.4h0.9M58.5 77.1h0.9M69.7 81.3h0.9M64.6 66.8h0.9M62.5 90.0h0.9M87.8 62.6h0.9M74.2 93.0h0.9M62.5 72.5h0.9M75.0 74.5h0.9M66.8 83.1h0.9M84.2 67.7h0.9M65.5 93.9h0.9M72.8 84.2h0.9M73.9 75.7h0.9M64.3 68.7h0.9M77.0 74.2h0.9M71.1 64.6h0.9M65.6 89.2h0.9M73.8 89.0h0.9M64.0 70.4h0.9M61.7 86.1h0.9M80.5 75.3h0.9M64.0 69.7h0.9M74.1 86.7h0.9M82.6 74.7h0.9M76.5 77.2h0.9M80.9 84.9h0.9M68.3 64.2h0.9M65.4 81.9h0.9M81.8 74.4h0.9M87.1 70.2h0.9M57.3 71.2h0.9M58.9 79.9h0.9M58.5 75.1h0.9M68.2 98.6h0.9M61.0 64.4h0.9M74.9 70.5h0.9M62.1 93.0h0.9M77.6 64.4h0.9M60.6 78.4h0.9M59.6 78.5h0.9M76.3 69.3h0.9M64.3 89.7h0.9M82.5 71.9h0.9M65.8 99.2h0.9M69.3 90.6h0.9M65.2 95.5h0.9M68.8 92.0h0.9M68.6 92.1h0.9M67.1 82.3h0.9M77.4 67.7h0.9M66.4 68.8h0.9M63.8 72.6h0.9M77.1 79.1h0.9M83.8 74.1h0.9M63.9 93.9h0.9M72.1 69.8h0.9M84.9 66.7h0.9M65.6 82.6h0.9M73.5 60.9h0.9M71.4 95.9h0.9M56.8 70.9h0.9M70.2 90.0h0.9M66.6 67.5h0.9M65.9 73.9h0.9M61.0 80.3h0.9M68.7 61.3h0.9M67.1 72.4h0.9M73.8 88.5h0.9M69.2 89.4h0.9M81.6 70.6h0.9M67.0 84.2h0.9M81.0 62.8h0.9M84.3 78.8h0.9M66.8 99.4h0.9M66.9 86.9h0.9M57.8 76.9h0.9M81.7 81.0h0.9M79.2 78.1h0.9M66.1 81.1h0.9M81.0 75.6h0.9M59.0 83.5h0.9M76.3 70.0h0.9M79.1 78.6h0.9M71.0 87.6h0.9M68.0 81.5h0.9M65.1 88.0h0.9M66.3 82.4h0.9M63.1 73.7h0.9M75.6 83.0h0.9M67.8 95.3h0.9M73.4 75.5h0.9M59.7 69.0h0.9M78.7 79.8h0.9M73.5 85.2h0.9M62.2 68.5h0.9M69.8 70.2h0.9M85.5 61.7h0.9M68.5 94.1h0.9M72.4 65.9h0.9M60.0 97.9h0.9M69.7 73.3h0.9M61.8 69.4h0.9M61.7 85.2h0.9M67.2 81.8h0.9M66.3 75.2h0.9M82.9 65.8h0.9M79.3 66.6h0.9M78.3 85.4h0.9M70.1 66.6h0.9M70.8 92.2h0.9M65.2 89.8h0.9M84.5 77.7h0.9M68.5 91.6h0.9M71.7 86.6h0.9M83.6 66.1h0.9M72.9 77.7h0.9M61.9 76.4h0.9M77.3 85.0h0.9M83.5 72.3h0.9M77.4 82.1h0.9M66.5 90.8h0.9M66.0 70.0h0.9M68.2 70.9h0.9M66.2 72.9h0.9M70.4 87.1h0.9M72.8 60.3h0.9M78.9 87.8h0.9M63.4 93.7h0.9M74.4 85.1h0.9M62.6 62.3h0.9M65.8 78.7h0.9M57.7 63.8h0.9M74.7 84.2h0.9M81.6 75.8h0.9M83.5 64.8h0.9M57.1 83.6h0.9M62.9 67.6h0.9M68.2 85.0h0.9M75.0 90.8h0.9M59.2 70.3h0.9M67.2 94.7h0.9M82.0 63.0h0.9M81.2 84.0h0.9M67.0 64.8h0.9M71.9 74.8h0.9M84.7 70.7h0.9M70.1 69.3h0.9M70.5 93.3h0.9M83.9 68.0h0.9M67.4 63.8h0.9M73.3 70.1h0.9M68.0 83.3h0.9M81.0 64.4h0.9M63.8 72.1h0.9M64.4 90.7h0.9M61.0 60.7h0.9M70.4 97.6h0.9M78.1 70.3h0.9M64.3 83.4h0.9M66.1 67.7h0.9M66.3 97.5h0.9M67.6 86.7h0.9M66.1 70.0h0.9M65.5 75.9h0.9M78.4 60.9h0.9M82.4 70.4h0.9M60.8 71.1h0.9M70.2 66.7h0.9M73.0 86.7h0.9M73.4 82.5h0.9M56.1 84.4h0.9M64.0 76.7h0.9M79.7 65.5h0.9M59.6 91.8h0.9M64.3 95.2h0.9M60.4 76.7h0.9M61.2 78.9h0.9M78.9 61.8h0.9M72.2 86.0h0.9M56.3 67.1h0.9M67.7 89.6h0.9M67.9 79.6h0.9M64.0 84.0h0.9M81.6 67.8h0.9M62.3 68.8h0.9M62.9 83.3h0.9M66.9 65.9h0.9M71.0 77.1h0.9M62.4 87.2h0.9M58.7 83.9h0.9M79.2 71.3h0.9M64.2 88.0h0.9M59.8 68.2h0.9M67.9 81.7h0.9M68.7 88.8h0.9M72.6 83.9h0.9M69.1 80.2h0.9M68.0 102.1h0.9M66.3 102.4h0.9M81.8 69.5h0.9M75.6 72.6h0.9M64.5 100.2h0.9M76.2 61.5h0.9M83.4 64.5h0.9M75.2 80.7h0.9M72.9 62.6h0.9M65.1 76.5h0.9M78.0 69.9h0.9M65.3 90.4h0.9M64.0 92.3h0.9M83.8 65.7h0.9M66.1 71.9h0.9M73.1 72.5h0.9M61.9 70.9h0.9M62.6 70.6h0.9M68.9 73.9h0.9M68.6 67.6h0.9M62.9 91.3h0.9M78.8 75.1h0.9M71.0 63.5h0.9M68.3 66.1h0.9M57.7 81.7h0.9M64.8 94.2h0.9M64.3 67.2h0.9M59.8 71.9h0.9M81.9 73.7h0.9M70.0 96.4h0.9M75.8 76.7h0.9M70.8 92.4h0.9M80.5 72.5h0.9M68.7 84.8h0.9M73.9 85.8h0.9M73.7 63.0h0.9M69.2 90.5h0.9M72.0 66.9h0.9M83.4 77.1h0.9M73.2 84.0h0.9M81.6 83.8h0.9M68.9 89.2h0.9M60.5 74.2h0.9M86.0 69.1h0.9M75.1 92.8h0.9M69.7 82.4h0.9M67.3 102.6h0.9M82.5 76.4h0.9M61.0 67.9h0.9M75.3 90.6h0.9M60.7 68.8h0.9M64.6 91.8h0.9M60.6 64.8h0.9M76.7 87.8h0.9M66.2 80.5h0.9M77.3 82.4h0.9M76.1 60.2h0.9M81.3 71.5h0.9M74.4 75.1h0.9M74.4 82.8h0.9M65.3 76.5h0.9M65.9 73.0h0.9M71.8 73.1h0.9M67.1 98.9h0.9M62.5 76.6h0.9M80.8 82.3h0.9M71.6 69.5h0.9M62.6 62.0h0.9M64.9 74.0h0.9M73.7 72.5h0.9M78.5 75.9h0.9M65.8 89.7h0.9M81.2 73.5h0.9M61.5 91.0h0.9M83.0 68.5h0.9M64.4 81.1h0.9M77.3 59.3h0.9M65.1 96.2h0.9M70.3 77.1h0.9M85.7 75.1h0.9M69.4 82.2h0.9M74.6 91.9h0.9M84.8 63.2h0.9M69.3 94.6h0.9M80.1 65.2h0.9M78.7 61.1h0.9M76.5 63.0h0.9M61.7 78.1h0.9M75.8 86.3h0.9M79.4 84.3h0.9M79.6 67.3h0.9M67.6 67.9h0.9M84.7 78.4h0.9M69.4 87.3h0.9M67.6 94.4h0.9M70.7 96.2h0.9M67.6 67.9h0.9M63.6 88.6h0.9M77.4 79.8h0.9M63.0 80.8h0.9M75.9 84.5h0.9M69.5 83.6h0.9M65.7 87.6h0.9M74.8 91.0h0.9M61.3 87.8h0.9M65.5 72.9h0.9M59.7 88.1h0.9M59.6 91.5h0.9M67.5 93.3h0.9M77.7 77.2h0.9M72.6 69.2h0.9M64.8 80.1h0.9M74.7 64.8h0.9M73.3 73.3h0.9M62.7 68.8h0.9M56.3 76.3h0.9M63.9 85.7h0.9M69.4 86.4h0.9M63.0 90.2h0.9M72.4 85.0h0.9M71.0 88.6h0.9M73.1 93.0h0.9M82.0 76.9h0.9M70.2 64.3h0.9M61.6 86.3h0.9M82.8 65.4h0.9M83.1 70.0h0.9M63.5 77.9h0.9M68.9 74.9h0.9M72.8 76.3h0.9M58.5 90.4h0.9M73.5 66.6h0.9M68.6 61.6h0.9M76.1 64.7h0.9M68.0 97.1h0.9M61.6 96.9h0.9M66.4 74.4h0.9M66.3 76.2h0.9M79.6 74.6h0.9M79.0 73.5h0.9M78.3 66.2h0.9M83.3 84.1h0.9M73.2 95.9h0.9M69.4 89.2h0.9M67.5 69.6h0.9M72.9 81.9h0.9M67.9 61.8h0.9M67.4 88.4h0.9M60.2 77.7h0.9M58.4 66.4h0.9M61.1 84.8h0.9M67.3 71.2h0.9M78.3 86.0h0.9M73.6 71.3h0.9M66.9 79.1h0.9M82.0 77.5h0.9M77.9 84.7h0.9M71.9 81.1h0.9M77.6 82.4h0.9M78.6 63.8h0.9M72.0 65.1h0.9M77.1 84.3h0.9M59.9 69.6h0.9M79.3 66.6h0.9M62.0 81.0h0.9M67.4 62.9h0.9M76.1 75.5h0.9M63.6 83.7h0.9M65.5 61.1h0.9M84.5 63.6h0.9M66.3 77.1h0.9M82.1 74.4h0.9M69.5 74.5h0.9M58.2 68.4h0.9M77.9 84.6h0.9M83.4 74.7h0.9M75.9 82.7h0.9M62.9 72.0h0.9M67.2 80.9h0.9M66.0 83.2h0.9M74.8 66.5h0.9M78.2 85.1h0.9M73.8 76.5h0.9M68.2 83.1h0.9M65.2 98.1h0.9M79.3 84.5h0.9M70.3 77.6h0.9M81.2 63.0h0.9M58.8 96.4h0.9M64.8 92.4h0.9M75.4 92.8h0.9M84.5 69.3h0.9M72.9 63.2h0.9M72.3 70.2h0.9M69.2 65.1h0.9M60.2 81.3h0.9M64.6 68.3h0.9M74.3 76.3h0.9M73.3 72.5h0.9M72.4 81.1h0.9M86.2 73.0h0.9M58.4 90.5h0.9M61.5 81.6h0.9M61.5 73.6h0.9M75.7 58.4h0.9M62.9 74.4h0.9M75.4 88.8h0.9M85.1 68.9h0.9M75.3 82.6h0.9M77.5 62.8h0.9M70.3 98.9h0.9M61.3 63.2h0.9M68.5 101.0h0.9M82.9 66.7h0.9M69.7 65.6h0.9M67.7 97.2h0.9M72.3 94.7h0.9M61.9 62.6h0.9M64.6 95.9h0.9M75.7 86.2h0.9M75.9 67.3h0.9M70.7 75.0h0.9M68.4 81.3h0.9M66.2 101.1h0.9M65.5 97.5h0.9M71.6 90.9h0.9M62.7 79.2h0.9M60.7 65.4h0.9M77.3 90.4h0.9M63.6 64.1h0.9M72.3 62.5h0.9M64.2 64.7h0.9M66.1 66.8h0.9M71.0 75.8h0.9M63.9 84.6h0.9M63.4 73.6h0.9M64.7 82.2h0.9M75.4 85.2h0.9M82.8 79.7h0.9M65.0 85.7h0.9M68.2 101.6h0.9M77.1 79.9h0.9M71.5 78.7h0.9M69.4 65.5h0.9M59.9 71.6h0.9M58.6 76.6h0.9M66.2 88.3h0.9M78.1 74.6h0.9M77.8 86.1h0.9M69.9 66.8h0.9M85.0 64.9h0.9M70.9 65.2h0.9M78.5 64.2h0.9M77.5 81.4h0.9M66.5 75.5h0.9M60.6 66.1h0.9M69.2 85.7h0.9M65.4 84.4h0.9M67.2 78.5h0.9M70.7 86.1h0.9M64.1 71.1h0.9M75.4 64.9h0.9M72.4 69.9h0.9M78.5 71.0h0.9M67.0 77.9h0.9M65.3 88.3h0.9M60.3 69.1h0.9M59.8 84.5h0.9M71.1 79.0h0.9M71.2 92.4h0.9M79.9 67.0h0.9M74.6 63.4h0.9M79.9 73.7h0.9M70.1 87.9h0.9M61.5 87.7h0.9M76.1 89.5h0.9M70.8 73.0h0.9M81.9 82.3h0.9M74.8 65.2h0.9M60.9 89.9h0.9M77.6 60.7h0.9M62.3 73.8h0.9M71.7 93.7h0.9M59.9 89.8h0.9M83.0 74.1h0.9M74.0 87.1h0.9M65.5 76.2h0.9M85.1 64.9h0.9M60.5 63.2h0.9M72.2 84.4h0.9M59.4 83.4h0.9M59.6 78.2h0.9M69.7 73.8h0.9M61.6 94.5h0.9M78.1 83.7h0.9M58.6 85.9h0.9M72.5 94.1h0.9M64.7 68.9h0.9M69.6 63.9h0.9M70.4 66.0h0.9M81.6 77.2h0.9M77.3 90.9h0.9M57.3 74.4h0.9M77.9 80.9h0.9M76.8 88.6h0.9M70.3 61.1h0.9M59.9 75.7h0.9M74.3 68.0h0.9M84.4 76.8h0.9M63.8 92.4h0.9M66.7 97.8h0.9M82.6 65.2h0.9M67.5 73.9h0.9M86.0 72.1h0.9M80.2 76.0h0.9M75.7 76.6h0.9M61.2 86.6h0.9M62.3 91.6h0.9M65.3 76.5h0.9M77.4 76.3h0.9M77.4 89.9h0.9M59.1 69.9h0.9M62.6 62.9h0.9M68.1 94.8h0.9M81.6 69.8h0.9M65.2 80.9h0.9M83.0 81.3h0.9M66.4 101.5h0.9M73.5 63.8h0.9M58.3 81.4h0.9M71.3 93.2h0.9M72.8 80.3h0.9M76.9 71.0h0.9M66.9 69.3h0.9M71.2 94.6h0.9M68.1 65.3h0.9M73.2 70.5h0.9M83.8 74.1h0.9M74.7 71.2h0.9M65.4 74.4h0.9M77.3 92.6h0.9M81.8 62.9h0.9M69.6 95.5h0.9M64.6 82.9h0.9M66.1 81.7h0.9M74.1 75.7h0.9M60.1 89.7h0.9M67.0 89.8h0.9M74.7 77.3h0.9M68.3 70.0h0.9M68.5 77.2h0.9M77.8 62.9h0.9M79.8 68.1h0.9M63.6 74.2h0.9M73.8 84.5h0.9M67.1 86.6h0.9M68.2 90.3h0.9M67.5 74.5h0.9M76.2 68.8h0.9M80.2 65.6h0.9M70.6 67.3h0.9M57.2 75.0h0.9M71.7 92.1h0.9M76.1 86.3h0.9M66.7 100.2h0.9M68.6 63.7h0.9M76.9 59.5h0.9M58.0 71.9h0.9M61.0 65.9h0.9M79.1 71.2h0.9M82.9 69.8h0.9M75.6 84.1h0.9M62.6 73.4h0.9M63.9 76.5h0.9M78.2 82.5h0.9M82.4 76.0h0.9M59.1 78.7h0.9M68.9 93.7h0.9M83.6 68.7h0.9M67.4 66.7h0.9M62.6 74.3h0.9M64.7 61.3h0.9M84.5 70.4h0.9M71.7 92.7h0.9M74.0 63.8h0.9M64.0 100.8h0.9M84.3 66.8h0.9M68.4 76.3h0.9M63.7 74.6h0.9M83.9 64.5h0.9M72.6 87.7h0.9M72.6 71.0h0.9M77.9 64.0h0.9M68.9 95.7h0.9M62.0 63.6h0.9M64.5 99.1h0.9M63.2 95.6h0.9M62.4 81.8h0.9M58.7 66.5h0.9M71.6 65.1h0.9M85.7 65.4h0.9M81.1 72.0h0.9M72.2 74.3h0.9M78.1 89.8h0.9M65.9 67.3h0.9M74.0 76.1h0.9M62.0 64.6h0.9M61.5 72.0h0.9M74.3 83.2h0.9M59.5 85.9h0.9M63.1 67.6h0.9M81.5 74.1h0.9M79.1 75.7h0.9M80.7 73.0h0.9M73.5 71.8h0.9M64.7 84.8h0.9M62.3 85.5h0.9M71.5 66.7h0.9M61.6 98.5h0.9M80.8 72.0h0.9M73.0 92.4h0.9M74.0 79.5h0.9M55.9 70.2h0.9M73.4 68.3h0.9M73.0 97.0h0.9M62.3 95.1h0.9M81.3 71.5h0.9M76.3 90.6h0.9M77.8 85.1h0.9M59.1 77.3h0.9M67.9 93.7h0.9M59.3 65.5h0.9M75.6 82.7h0.9M65.1 66.5h0.9M62.4 75.4h0.9M73.4 97.0h0.9M84.0 64.9h0.9M60.2 95.4h0.9M74.7 64.3h0.9M79.8 80.4h0.9M57.3 79.7h0.9M68.3 62.6h0.9M73.7 83.8h0.9M63.9 79.4h0.9M79.8 74.4h0.9M58.8 83.6h0.9M72.0 63.5h0.9M68.4 102.6h0.9M63.9 86.7h0.9M62.9 86.2h0.9M83.3 66.6h0.9M64.8 65.5h0.9M83.8 66.3h0.9M82.6 82.6h0.9M74.4 66.7h0.9M78.0 63.4h0.9M66.6 98.5h0.9M77.6 68.0h0.9M67.2 79.9h0.9M69.0 66.2h0.9M75.7 63.2h0.9M78.7 66.6h0.9M60.2 85.6h0.9M83.3 77.6h0.9M78.8 83.3h0.9M69.8 73.8h0.9M72.6 80.2h0.9M70.4 68.2h0.9M69.1 88.2h0.9M80.8 63.7h0.9M62.8 67.6h0.9M72.5 80.3h0.9M78.2 63.2h0.9M67.2 82.4h0.9M76.2 60.6h0.9M69.2 65.3h0.9M67.6 65.2h0.9M69.4 77.0h0.9M79.5 75.1h0.9M74.4 61.3h0.9M72.3 69.0h0.9M71.6 91.9h0.9M78.4 66.4h0.9M77.0 77.0h0.9M65.2 65.8h0.9M72.1 68.2h0.9M68.9 90.1h0.9M71.9 93.3h0.9M81.8 79.6h0.9M64.0 84.0h0.9M77.0 81.0h0.9M56.0 65.9h0.9M74.0 90.0h0.9M78.7 84.4h0.9M68.0 69.1h0.9M64.7 62.8h0.9M71.2 100.0h0.9M67.8 101.6h0.9M58.1 65.2h0.9M71.5 76.8h0.9M69.7 60.8h0.9M76.0 63.1h0.9M68.9 68.0h0.9M62.7 76.7h0.9M68.2 66.4h0.9M59.0 81.1h0.9M68.6 97.1h0.9M68.3 96.7h0.9M86.5 70.9h0.9M74.7 76.3h0.9M79.8 67.3h0.9M66.5 92.9h0.9M77.9 64.3h0.9M80.2 86.9h0.9M60.7 81.4h0.9M70.4 63.9h0.9M61.5 80.5h0.9M79.4 87.1h0.9M73.2 89.4h0.9M64.6 77.4h0.9M71.2 69.0h0.9M56.9 84.4h0.9M59.4 75.3h0.9M83.7 75.5h0.9M66.1 82.1h0.9M65.9 101.7h0.9M62.3 66.4h0.9M75.9 69.4h0.9M82.1 71.8h0.9M67.4 88.3h0.9M73.5 68.9h0.9M72.3 63.9h0.9M74.9 93.8h0.9M73.0 87.5h0.9M85.9 69.1h0.9M78.3 79.7h0.9M62.7 74.3h0.9M68.3 69.3h0.9M59.9 80.1h0.9M61.3 70.4h0.9M72.3 94.6h0.9M65.9 81.6h0.9M74.7 66.3h0.9M82.6 69.1h0.9M56.2 68.4h0.9M61.2 89.4h0.9M62.3 64.7h0.9M79.1 74.9h0.9M75.1 62.2h0.9M78.5 63.4h0.9" stroke="#52b452" stroke-width="1" stroke-opacity="0.6" fill="none"/>
<path d="M50.5 70.7h0.9M52.5 72.4h0.9M54.2 71.7h0.9M52.1 70.8h0.9M51.1 70.0h0.9M52.4 75.2h0.9M54.3 67.7h0.9M52.5 72.6h0.9M54.9 69.4h0.9M51.5 70.1h0.9M50.5 68.5h0.9M55.7 68.3h0.9M51.2 71.2h0.9M50.9 73.2h0.9M57.5 68.1h0.9M54.4 72.9h0.9M50.1 67.0h0.9M50.9 71.5h0.9M55.1 67.8h0.9M52.7 64.7h0.9M51.8 71.6h0.9M51.5 73.4h0.9M52.7 67.2h0.9M54.8 67.7h0.9M54.8 71.1h0.9M53.7 65.3h0.9M58.0 70.4h0.9M52.2 68.7h0.9M51.7 65.5h0.9M53.4 72.2h0.9M52.7 69.2h0.9M53.3 67.3h0.9M52.1 72.1h0.9M53.3 74.9h0.9M54.4 71.7h0.9M57.0 66.5h0.9M53.9 68.2h0.9M54.6 69.3h0.9M52.7 67.8h0.9M51.8 69.5h0.9M54.4 68.4h0.9M55.7 70.0h0.9M57.5 72.9h0.9M54.4 72.4h0.9M53.3 70.6h0.9M52.2 71.8h0.9M54.3 73.6h0.9M52.5 66.6h0.9M51.8 69.0h0.9M52.4 75.1h0.9M52.9 73.8h0.9M53.4 66.7h0.9M51.6 64.5h0.9M55.5 70.5h0.9M51.5 73.2h0.9M54.3 72.6h0.9M52.8 76.0h0.9M52.8 69.9h0.9M50.5 72.6h0.9M53.0 74.7h0.9M50.5 73.1h0.9M54.3 64.5h0.9M53.1 74.4h0.9M51.8 67.4h0.9M54.7 73.9h0.9M53.9 63.4h0.9M50.5 68.1h0.9M54.8 72.9h0.9" stroke="#d883b6" stroke-width="1" stroke-opacity="0.75" fill="none"/>
<path d="M57.0 58.2h0.9M57.6 62.2h0.9M55.0 59.5h0.9M58.0 59.7h0.9M59.8 61.9h0.9M56.5 61.6h0.9M56.9 59.0h0.9M53.4 59.9h0.9M58.3 61.4h0.9M56.6 61.9h0.9M54.0 60.2h0.9M55.0 63.0h0.9M56.0 58.4h0.9M56.6 61.2h0.9M59.4 61.8h0.9M58.0 63.5h0.9M55.7 60.7h0.9M57.0 61.6h0.9M58.2 62.1h0.9M55.5 60.4h0.9M56.4 58.3h0.9M56.0 60.6h0.9M53.7 58.9h0.9M55.9 58.1h0.9M58.5 63.0h0.9M57.0 57.8h0.9M57.2 60.1h0.9M54.1 61.8h0.9M54.4 62.2h0.9M57.7 58.2h0.9M55.5 61.1h0.9M55.1 64.0h0.9M57.6 62.9h0.9M55.3 58.7h0.9M57.6 61.1h0.9M56.3 62.7h0.9M55.8 58.6h0.9M51.3 64.0h0.9M53.2 61.6h0.9M57.0 58.3h0.9M53.8 57.3h0.9M55.3 59.4h0.9M56.0 61.7h0.9" stroke="#e07a7a" stroke-width="1" stroke-opacity="0.75" fill="none"/>
<path d="M60.6 54.4h0.9M69.6 56.8h0.9M68.5 58.5h0.9M63.7 52.5h0.9M65.3 55.5h0.9M60.7 58.2h0.9M62.7 54.5h0.9M72.5 54.3h0.9M73.9 51.1h0.9M63.9 59.4h0.9M59.4 55.3h0.9M68.5 59.5h0.9M71.1 52.1h0.9M67.8 52.6h0.9M66.0 56.8h0.9M67.9 57.1h0.9M68.1 50.1h0.9M58.8 53.1h0.9M60.4 54.6h0.9M62.9 53.3h0.9M60.1 52.7h0.9M66.6 59.8h0.9M62.0 57.5h0.9M74.5 52.4h0.9M63.8 52.3h0.9M72.3 52.0h0.9M73.7 54.7h0.9M64.5 55.4h0.9M64.7 55.9h0.9M64.6 59.9h0.9M63.2 53.2h0.9M66.4 56.4h0.9M70.5 57.3h0.9M69.7 57.8h0.9M69.7 54.1h0.9M69.6 55.5h0.9M68.1 56.0h0.9M73.9 56.5h0.9M69.0 50.7h0.9M70.5 50.5h0.9M58.5 52.1h0.9M64.3 54.7h0.9M61.4 56.6h0.9M72.7 57.9h0.9M61.1 56.5h0.9M58.5 53.7h0.9M64.5 52.1h0.9M64.8 53.5h0.9M57.9 57.4h0.9M61.0 53.0h0.9M60.4 55.4h0.9M60.5 52.8h0.9M62.9 52.0h0.9M59.2 56.1h0.9M66.3 59.8h0.9M65.9 56.3h0.9M63.0 57.0h0.9M65.7 50.6h0.9M59.6 56.1h0.9M69.0 50.5h0.9M70.0 54.4h0.9M68.5 58.9h0.9M71.9 58.2h0.9M60.8 52.4h0.9M66.2 50.3h0.9M72.1 59.8h0.9M70.2 57.6h0.9M72.5 55.7h0.9M70.8 53.0h0.9M60.7 53.0h0.9M66.1 56.6h0.9M57.2 54.0h0.9M59.3 55.1h0.9M64.3 56.8h0.9M68.1 53.9h0.9M61.7 58.0h0.9M69.7 58.4h0.9M74.7 58.1h0.9M71.3 50.9h0.9M70.4 58.8h0.9M74.7 54.6h0.9M62.8 59.3h0.9M64.5 57.7h0.9M73.6 59.0h0.9M76.9 56.0h0.9M62.1 58.9h0.9M65.7 50.7h0.9M58.1 56.5h0.9M61.4 55.7h0.9M67.4 58.7h0.9M60.5 55.4h0.9M64.3 60.3h0.9M69.5 60.1h0.9M63.9 52.2h0.9M66.0 59.9h0.9M70.0 52.9h0.9M64.3 54.0h0.9M74.0 57.8h0.9M72.9 56.3h0.9M70.6 54.2h0.9M63.7 55.0h0.9M66.5 51.6h0.9M58.8 58.7h0.9M70.4 56.2h0.9M66.3 57.4h0.9M59.3 57.6h0.9M62.2 52.3h0.9M72.9 56.2h0.9M66.6 56.7h0.9M70.5 58.3h0.9M66.4 54.6h0.9M64.5 51.6h0.9M68.8 56.8h0.9M72.1 53.0h0.9M60.2 54.4h0.9M71.9 58.6h0.9M60.7 54.8h0.9M72.7 56.5h0.9M72.2 49.3h0.9M65.5 50.3h0.9M64.7 51.5h0.9M72.0 52.4h0.9M66.6 56.8h0.9M65.6 59.7h0.9M65.7 51.2h0.9M64.8 51.8h0.9M73.3 52.2h0.9M69.9 57.8h0.9M68.4 53.7h0.9M65.3 56.7h0.9M68.2 54.8h0.9M73.5 56.4h0.9M70.5 51.3h0.9M63.1 51.4h0.9M59.3 56.2h0.9M73.1 60.2h0.9M69.4 58.4h0.9M60.8 57.6h0.9M66.1 56.2h0.9M64.2 57.1h0.9M73.6 56.4h0.9M74.4 54.7h0.9M73.6 57.6h0.9M67.6 57.6h0.9M62.6 57.8h0.9M62.9 57.3h0.9M76.3 56.1h0.9M62.8 59.3h0.9M63.9 53.1h0.9M69.0 53.3h0.9M70.9 59.8h0.9M60.5 55.2h0.9M72.2 54.2h0.9M78.7 55.7h0.9M68.7 57.1h0.9M69.5 53.2h0.9M67.1 53.5h0.9M69.4 53.7h0.9M66.4 61.7h0.9M65.2 54.9h0.9M64.2 54.1h0.9M66.8 57.5h0.9M74.9 52.6h0.9M61.6 54.0h0.9M77.3 55.5h0.9M64.6 55.9h0.9M61.8 57.3h0.9M76.5 54.6h0.9M69.0 52.8h0.9M68.8 61.3h0.9M72.8 53.5h0.9M72.7 59.6h0.9M58.1 57.5h0.9M72.0 53.4h0.9M65.7 53.9h0.9M59.7 54.5h0.9M73.7 55.9h0.9M71.0 55.7h0.9M69.0 56.2h0.9M64.4 54.3h0.9M69.8 51.5h0.9M75.2 55.0h0.9M75.1 57.6h0.9M60.8 52.8h0.9M66.9 55.0h0.9M73.7 55.3h0.9M68.9 54.6h0.9M73.4 56.3h0.9M63.0 55.7h0.9M67.8 54.3h0.9M59.6 55.4h0.9M63.0 53.1h0.9M60.6 59.2h0.9M57.8 58.4h0.9M69.5 54.6h0.9M69.7 58.3h0.9M65.9 56.2h0.9M64.1 55.3h0.9M74.7 53.8h0.9M66.3 55.0h0.9M68.9 59.8h0.9M71.6 52.1h0.9M71.7 53.1h0.9M67.5 50.6h0.9M75.4 57.6h0.9M61.2 51.5h0.9M71.7 59.2h0.9M64.9 57.5h0.9M70.9 55.6h0.9M68.8 51.5h0.9M65.3 57.7h0.9M65.7 55.7h0.9M74.0 56.3h0.9M75.1 58.6h0.9M78.6 56.9h0.9M73.4 56.4h0.9M72.3 59.5h0.9M74.3 58.0h0.9M75.2 56.0h0.9M78.0 60.9h0.9M78.4 61.4h0.9M77.7 55.1h0.9M75.0 57.1h0.9M72.1 57.1h0.9M78.0 58.6h0.9M75.9 60.8h0.9M76.5 59.8h0.9M76.9 59.7h0.9M77.4 61.5h0.9M75.4 58.6h0.9M77.4 55.5h0.9M80.2 56.6h0.9M72.9 59.3h0.9M73.0 56.9h0.9M74.8 55.4h0.9M78.9 58.6h0.9M71.7 56.6h0.9M74.6 56.4h0.9M77.5 60.2h0.9M76.7 53.6h0.9M78.7 57.0h0.9M73.4 57.1h0.9M74.8 61.1h0.9M74.3 58.0h0.9M73.3 59.6h0.9M76.1 60.0h0.9M75.6 58.6h0.9M76.6 55.1h0.9M76.1 58.5h0.9M78.4 55.5h0.9M78.8 60.5h0.9M76.8 55.6h0.9M77.2 59.5h0.9M74.2 60.0h0.9M77.2 57.7h0.9M71.7 57.2h0.9M78.3 57.6h0.9M75.1 61.1h0.9M74.9 56.8h0.9M73.9 59.0h0.9M78.5 57.0h0.9M76.5 61.8h0.9M74.5 61.0h0.9M81.3 58.5h0.9M76.7 58.8h0.9M79.2 58.5h0.9M74.5 60.6h0.9" stroke="#8658c0" stroke-width="1" stroke-opacity="0.7" fill="none"/>
<path d="M58.6 41.5h0.9" stroke="#6a7a2a" stroke-width="1" stroke-opacity="0.5" fill="none"/>
<text transform="translate(59.5 44) scale(0.900 1)" font-size="8.6" text-anchor="middle" fill="#222">8</text>
<text transform="translate(68.5 58.7) scale(0.900 1)" font-size="8.6" text-anchor="middle" fill="#222">6</text>
<text transform="translate(54.8 62) scale(0.900 1)" font-size="8.6" text-anchor="middle" fill="#222">7</text>
<text transform="translate(87 67) scale(0.900 1)" font-size="8.6" text-anchor="middle" fill="#222">2</text>
<text transform="translate(53.2 77.5) scale(0.900 1)" font-size="8.6" text-anchor="middle" fill="#222">5</text>
<text transform="translate(70.5 81.3) scale(0.900 1)" font-size="8.6" text-anchor="middle" fill="#222">3</text>
<text transform="translate(102.7 80.5) scale(0.900 1)" font-size="8.6" text-anchor="middle" fill="#222">1</text>
<text transform="translate(57.5 94.8) scale(0.900 1)" font-size="8.6" text-anchor="middle" fill="#222">0</text>
<text transform="translate(82.5 104.2) scale(0.900 1)" font-size="8.6" text-anchor="middle" fill="#222">4</text>
<path d="M207.8 75.5L207.3 80.3L205.9 84.8L203.7 88.6L200.8 91.5L197.4 93.4L193.8 94.0L190.2 93.4L186.8 91.5L183.9 88.6L181.7 84.8L180.3 80.3L179.8 75.5L180.3 70.7L181.7 66.2L183.9 62.4L186.8 59.5L190.2 57.6L193.8 57.0L197.4 57.6L200.8 59.5L203.7 62.4L205.9 66.2L207.3 70.7Z" fill="#cacaca" fill-opacity="0.45" filter="url(#soft)"/>
<path d="M179.3 60.0L185.3 58.0L187.3 75.0L185.3 92.0L179.3 88.0L177.3 72.0Z" fill="#cacaca" fill-opacity="0.45" filter="url(#soft)"/>
<path d="M169.3 53.0L181.3 50.0L190.3 54.0L193.3 60.0L184.3 63.0L173.3 60.0Z" fill="#c8c8c8" fill-opacity="0.08" filter="url(#soft)"/>
<path d="M182.8 98.5L182.5 100.2L181.5 101.8L180.0 103.1L178.1 104.1L175.8 104.8L173.3 105.0L170.8 104.8L168.6 104.1L166.6 103.1L165.1 101.8L164.1 100.2L163.8 98.5L164.1 96.8L165.1 95.2L166.6 93.9L168.6 92.9L170.8 92.2L173.3 92.0L175.8 92.2L178.1 92.9L180.0 93.9L181.5 95.2L182.5 96.8Z" fill="#f2a462" fill-opacity="0.35" filter="url(#soft)"/>
<path d="M183.8 93.5L183.7 94.3L183.3 95.0L182.6 95.6L181.8 96.1L180.8 96.4L179.8 96.5L178.8 96.4L177.8 96.1L177.0 95.6L176.3 95.0L175.9 94.3L175.8 93.5L175.9 92.7L176.3 92.0L177.0 91.4L177.8 90.9L178.8 90.6L179.8 90.5L180.8 90.6L181.8 90.9L182.6 91.4L183.3 92.0L183.7 92.7Z" fill="#f2a462" fill-opacity="0.35" filter="url(#soft)"/>
<path d="M140.3 78.0L146.3 76.0L150.3 84.0L151.3 95.0L159.3 98.0L164.3 102.0L161.3 107.0L151.3 108.0L144.3 105.0L140.3 96.0Z" fill="#5050ac" fill-opacity="0.1" filter="url(#soft)"/>
<path d="M146.3 64.0L155.3 61.0L167.3 60.0L176.3 63.0L174.3 77.0L169.3 88.0L161.3 97.0L156.3 103.0L150.3 98.0L147.3 88.0L146.3 76.0Z" fill="#52b452" fill-opacity="0.1" filter="url(#soft)"/>
<path d="M151.3 66.0L165.3 62.0L173.3 66.0L171.3 80.0L164.3 90.0L155.3 92.0L150.3 82.0Z" fill="#5abd5a" fill-opacity="0.1" filter="url(#soft)"/>
<path d="M145.2 70.5L145.1 72.1L144.9 73.5L144.5 74.7L144.1 75.7L143.5 76.3L142.9 76.5L142.3 76.3L141.8 75.7L141.3 74.7L140.9 73.5L140.7 72.1L140.6 70.5L140.7 68.9L140.9 67.5L141.3 66.3L141.8 65.3L142.3 64.7L142.9 64.5L143.5 64.7L144.1 65.3L144.5 66.3L144.9 67.5L145.1 68.9Z" fill="#d883b6" fill-opacity="0.18" filter="url(#soft)"/>
<path d="M147.9 60.5L147.8 61.4L147.6 62.2L147.1 62.9L146.6 63.4L146.0 63.8L145.3 63.9L144.6 63.8L144.0 63.4L143.5 62.9L143.0 62.2L142.8 61.4L142.7 60.5L142.8 59.6L143.0 58.8L143.5 58.1L144.0 57.6L144.6 57.2L145.3 57.1L146.0 57.2L146.6 57.6L147.1 58.1L147.6 58.8L147.8 59.6Z" fill="#e07a7a" fill-opacity="0.12" filter="url(#soft)"/>
<path d="M166.3 55.5L166.0 56.7L165.0 57.9L163.5 58.9L161.6 59.7L159.3 60.1L156.8 60.3L154.3 60.1L152.1 59.7L150.1 58.9L148.6 57.9L147.6 56.7L147.3 55.5L147.6 54.3L148.6 53.1L150.1 52.1L152.0 51.3L154.3 50.9L156.8 50.7L159.3 50.9L161.6 51.3L163.5 52.1L165.0 53.1L166.0 54.3Z" fill="#8658c0" fill-opacity="0.06" filter="url(#soft)"/>
<path d="M169.3 58.0L169.2 58.8L168.8 59.5L168.1 60.1L167.3 60.6L166.3 60.9L165.3 61.0L164.3 60.9L163.3 60.6L162.5 60.1L161.8 59.5L161.4 58.8L161.3 58.0L161.4 57.2L161.8 56.5L162.5 55.9L163.3 55.4L164.3 55.1L165.3 55.0L166.3 55.1L167.3 55.4L168.1 55.9L168.8 56.5L169.2 57.2Z" fill="#8658c0" fill-opacity="0.06" filter="url(#soft)"/>
<path d="M184.6 89.5h0.9M184.3 83.5h0.9M196.2 77.9h0.9M196.5 68.9h0.9M202.0 64.9h0.9M187.1 65.9h0.9M201.5 66.4h0.9M194.0 89.3h0.9M186.6 89.2h0.9M192.5 73.1h0.9M184.2 71.7h0.9M192.9 66.3h0.9M189.1 73.0h0.9M201.2 76.7h0.9M190.0 59.9h0.9M184.7 77.7h0.9M183.2 84.6h0.9M191.3 68.5h0.9M194.1 66.0h0.9M190.5 75.2h0.9M205.1 72.6h0.9M197.0 69.5h0.9M196.1 74.9h0.9M200.8 64.9h0.9M192.1 87.5h0.9M187.2 85.1h0.9M195.7 62.0h0.9M208.2 75.6h0.9M181.3 80.7h0.9M186.8 76.5h0.9M182.3 85.9h0.9M188.6 68.7h0.9M196.0 92.2h0.9M187.7 91.7h0.9M193.7 90.9h0.9M198.1 84.3h0.9M185.3 64.9h0.9M197.9 88.9h0.9M198.8 92.0h0.9M200.6 87.4h0.9M186.0 71.5h0.9M207.6 72.8h0.9M201.3 82.2h0.9M205.3 84.0h0.9M181.4 73.1h0.9M190.5 71.7h0.9M196.3 87.7h0.9M196.6 67.6h0.9M199.2 64.4h0.9M196.5 66.3h0.9M200.8 72.0h0.9M203.2 77.6h0.9M183.8 72.8h0.9M190.1 57.1h0.9M197.5 88.9h0.9M196.8 92.6h0.9M188.9 62.7h0.9M187.0 88.5h0.9M197.4 68.3h0.9M206.0 66.7h0.9M192.7 84.8h0.9M187.7 76.4h0.9M193.8 76.3h0.9M195.1 56.0h0.9M200.0 69.7h0.9M184.2 70.9h0.9M197.6 79.7h0.9M190.5 62.0h0.9M184.1 83.1h0.9M191.9 76.5h0.9M207.1 71.9h0.9M207.4 81.3h0.9M186.9 73.3h0.9M206.5 80.6h0.9M190.0 87.8h0.9M188.9 67.6h0.9M199.8 72.5h0.9M184.1 70.0h0.9M194.7 91.5h0.9M193.5 62.2h0.9M180.9 75.1h0.9M204.6 75.2h0.9M182.1 73.0h0.9M204.9 79.2h0.9M195.2 74.9h0.9M194.4 63.3h0.9M186.2 88.8h0.9M199.6 75.9h0.9M203.4 79.8h0.9M197.2 64.6h0.9M187.8 76.5h0.9M200.4 83.2h0.9M195.1 76.3h0.9M197.4 71.6h0.9M199.7 60.9h0.9M192.3 92.6h0.9M185.8 64.5h0.9M190.2 76.6h0.9M188.5 71.3h0.9M203.2 91.7h0.9M200.0 84.3h0.9M189.2 86.2h0.9M192.9 80.0h0.9M196.2 78.5h0.9M184.7 78.8h0.9M186.6 78.3h0.9M187.4 88.9h0.9M207.3 66.5h0.9M203.1 83.0h0.9M205.5 81.9h0.9M190.5 92.2h0.9M186.2 83.0h0.9M189.5 64.0h0.9M196.7 59.4h0.9M203.0 78.8h0.9M199.1 94.5h0.9M196.7 57.1h0.9M198.9 85.8h0.9M188.4 85.8h0.9M188.7 85.1h0.9M202.8 80.1h0.9M206.2 81.2h0.9M199.6 62.7h0.9M190.8 75.2h0.9M193.8 64.8h0.9M190.5 66.7h0.9M193.6 57.2h0.9M191.9 74.6h0.9M201.0 71.4h0.9M200.2 84.5h0.9M182.2 82.4h0.9M199.8 81.9h0.9M204.6 77.7h0.9M196.6 67.9h0.9M197.5 75.6h0.9M204.2 82.8h0.9M186.4 90.0h0.9M195.2 65.5h0.9M199.8 77.0h0.9M198.0 63.1h0.9M188.1 61.7h0.9M194.3 86.0h0.9M197.4 60.9h0.9M190.1 89.7h0.9M189.9 75.1h0.9M198.7 65.3h0.9M191.2 79.7h0.9M196.9 86.9h0.9M203.2 72.1h0.9M202.2 87.1h0.9M196.0 79.9h0.9M189.7 64.7h0.9M180.5 81.9h0.9M190.2 87.0h0.9M185.9 89.9h0.9M186.3 70.5h0.9M186.6 75.8h0.9M191.9 73.8h0.9M189.2 65.4h0.9M184.3 75.0h0.9M185.1 87.3h0.9M199.4 83.5h0.9M181.3 75.9h0.9M200.1 67.0h0.9M195.3 75.1h0.9M194.3 72.6h0.9M188.4 83.0h0.9M199.2 91.1h0.9M205.6 72.1h0.9M197.4 80.8h0.9M192.2 84.6h0.9M202.7 72.8h0.9M188.8 66.2h0.9M203.8 66.3h0.9M188.1 62.9h0.9M195.7 76.6h0.9M182.0 86.8h0.9M201.1 61.9h0.9M193.0 89.6h0.9M187.6 77.4h0.9M196.6 68.6h0.9M186.5 65.3h0.9M185.1 82.1h0.9M185.2 71.3h0.9M189.5 80.4h0.9M192.1 69.1h0.9M188.7 78.4h0.9M202.0 72.5h0.9M185.2 75.8h0.9M184.9 81.2h0.9M187.9 63.7h0.9M192.9 58.4h0.9M200.0 80.1h0.9M194.6 57.6h0.9M189.8 72.3h0.9M202.8 66.8h0.9M202.5 67.0h0.9M202.3 81.4h0.9M192.8 85.0h0.9M187.6 85.9h0.9M189.1 60.9h0.9M194.3 90.3h0.9M196.6 83.3h0.9M201.0 64.1h0.9M198.8 73.6h0.9M206.7 79.3h0.9M195.6 74.0h0.9M205.7 83.5h0.9M191.4 88.0h0.9M186.4 72.0h0.9M197.0 71.5h0.9M185.6 73.5h0.9M180.4 75.7h0.9M180.1 75.0h0.9M192.1 77.4h0.9M192.3 68.4h0.9M202.2 78.6h0.9M188.5 66.9h0.9M202.6 83.1h0.9M195.1 73.5h0.9M180.3 79.1h0.9M197.6 86.5h0.9M182.4 83.3h0.9M189.5 77.1h0.9M198.8 91.6h0.9M199.6 66.6h0.9M190.4 87.4h0.9M195.5 69.0h0.9M197.9 68.5h0.9M190.7 65.2h0.9M193.7 68.4h0.9M188.9 85.9h0.9M205.6 75.1h0.9M204.5 84.2h0.9M190.9 70.4h0.9M186.9 66.4h0.9M204.1 69.7h0.9M184.3 62.9h0.9M191.7 87.1h0.9M206.8 72.5h0.9M198.8 79.8h0.9M195.3 71.3h0.9M192.5 87.8h0.9M184.1 79.1h0.9M179.1 82.1h0.9M200.6 75.1h0.9M196.4 68.1h0.9M185.5 64.5h0.9M200.5 63.4h0.9M201.7 89.9h0.9M195.3 84.9h0.9M190.3 89.3h0.9M186.6 76.9h0.9M202.7 86.8h0.9M206.7 72.9h0.9M188.9 63.0h0.9M197.6 95.3h0.9M199.5 66.5h0.9M196.5 93.4h0.9M200.1 79.7h0.9M195.1 75.0h0.9M205.7 79.3h0.9M197.6 93.4h0.9M188.9 67.4h0.9M197.4 83.2h0.9M202.4 79.5h0.9M183.7 74.4h0.9M184.4 83.6h0.9M186.8 83.6h0.9M183.1 86.6h0.9M185.3 64.7h0.9M184.3 86.3h0.9M198.4 79.1h0.9M204.2 76.3h0.9M187.6 80.7h0.9M200.2 74.1h0.9M206.0 73.7h0.9M197.8 63.6h0.9M206.6 80.3h0.9M203.2 64.6h0.9M190.9 80.0h0.9M206.5 65.9h0.9M186.9 75.5h0.9M199.9 87.4h0.9M196.8 88.9h0.9M188.7 60.7h0.9M187.5 69.6h0.9M195.7 88.0h0.9M201.0 87.3h0.9M189.3 74.8h0.9M195.4 65.6h0.9M207.6 74.8h0.9M195.3 68.1h0.9M202.5 91.7h0.9M205.3 80.4h0.9M181.9 73.2h0.9M196.1 82.1h0.9M181.4 71.3h0.9M197.8 75.0h0.9M203.2 86.9h0.9M190.0 73.5h0.9M182.6 78.5h0.9M186.6 84.4h0.9M197.7 70.6h0.9M192.4 90.7h0.9M185.5 66.7h0.9M199.7 62.8h0.9M195.0 90.6h0.9M186.8 90.5h0.9M195.6 59.2h0.9M192.3 87.1h0.9M203.9 81.7h0.9M184.1 71.2h0.9M187.8 86.5h0.9M205.3 79.7h0.9M192.0 84.0h0.9M197.0 76.1h0.9M193.8 58.8h0.9M199.9 65.9h0.9M186.8 81.8h0.9M205.1 77.6h0.9M181.7 81.4h0.9M201.2 73.9h0.9M204.9 78.5h0.9M198.4 69.3h0.9M206.8 67.7h0.9M184.5 67.4h0.9M205.6 80.7h0.9M184.4 89.0h0.9M197.3 82.1h0.9M195.3 72.3h0.9M193.0 75.2h0.9M196.3 74.6h0.9M199.4 62.7h0.9M182.5 64.0h0.9M196.8 59.7h0.9M203.1 64.9h0.9M198.6 89.8h0.9M203.4 84.5h0.9M180.9 68.9h0.9M202.2 62.5h0.9M201.2 68.8h0.9M195.2 61.9h0.9M180.7 71.7h0.9M207.6 72.2h0.9M193.1 77.3h0.9M189.4 92.3h0.9M185.6 87.7h0.9M185.1 68.3h0.9M179.7 75.7h0.9M196.2 87.1h0.9M185.3 69.4h0.9M202.4 86.0h0.9M185.2 65.8h0.9M186.7 75.4h0.9M200.3 66.2h0.9M196.8 59.8h0.9M205.8 73.4h0.9M193.8 78.4h0.9M182.1 77.1h0.9M201.4 89.7h0.9M183.5 72.2h0.9M184.8 66.7h0.9M199.8 80.1h0.9M193.6 69.0h0.9M199.2 78.1h0.9M201.2 73.7h0.9M198.1 68.2h0.9M198.7 82.2h0.9M187.7 64.6h0.9M188.1 67.8h0.9M198.2 60.1h0.9M189.3 61.3h0.9M192.1 67.1h0.9M196.5 72.4h0.9M195.3 65.7h0.9M182.0 77.8h0.9M202.0 90.4h0.9M202.7 61.0h0.9M193.7 74.5h0.9M191.7 63.0h0.9M209.9 75.3h0.9M180.7 74.7h0.9M191.5 86.3h0.9M191.1 79.8h0.9M187.2 74.7h0.9M196.2 91.2h0.9M179.6 72.6h0.9M195.2 83.8h0.9M204.3 83.2h0.9M196.7 89.3h0.9M195.0 85.6h0.9M184.3 71.8h0.9M184.0 64.3h0.9M201.0 66.4h0.9M190.4 69.9h0.9M189.2 69.7h0.9M189.7 80.2h0.9M201.9 82.2h0.9M192.6 89.1h0.9M192.9 68.7h0.9M184.8 76.3h0.9M191.7 76.1h0.9M188.2 70.0h0.9M192.7 60.8h0.9M186.0 87.1h0.9M185.4 71.9h0.9M192.6 76.2h0.9M191.0 61.6h0.9M192.9 69.6h0.9M190.3 82.7h0.9M183.1 73.4h0.9M199.5 83.3h0.9M206.7 79.9h0.9M196.3 56.7h0.9M197.3 77.2h0.9M200.8 63.8h0.9M193.2 60.1h0.9M184.3 79.2h0.9M182.2 76.6h0.9M201.2 79.7h0.9M202.7 85.5h0.9M197.4 83.2h0.9M186.5 71.5h0.9M197.2 66.2h0.9M187.3 88.2h0.9M187.0 87.3h0.9M190.4 78.9h0.9M200.8 86.9h0.9M193.9 83.3h0.9M188.8 76.3h0.9M192.0 73.6h0.9M198.0 79.5h0.9M197.3 66.7h0.9M203.8 72.2h0.9M193.1 72.7h0.9M189.5 76.1h0.9M187.2 88.6h0.9M205.4 73.5h0.9M194.7 78.3h0.9M183.9 79.6h0.9M190.6 77.6h0.9M198.6 66.4h0.9M191.8 75.9h0.9M202.7 89.6h0.9M194.5 70.4h0.9M200.8 80.8h0.9M189.6 83.8h0.9M206.4 81.0h0.9M199.8 88.3h0.9M204.8 70.7h0.9M190.8 86.6h0.9M185.2 85.1h0.9M190.9 74.5h0.9M207.1 67.6h0.9M200.0 73.3h0.9M196.4 76.4h0.9M185.7 68.0h0.9M199.3 83.4h0.9M185.3 86.2h0.9M190.3 68.1h0.9M200.6 75.7h0.9M190.0 70.3h0.9M187.0 77.4h0.9M193.0 74.4h0.9M192.5 90.0h0.9M184.1 72.5h0.9M204.1 79.2h0.9M205.2 66.8h0.9M199.6 66.2h0.9M198.3 78.5h0.9M193.6 74.8h0.9M195.2 74.7h0.9M202.9 76.1h0.9M206.7 79.7h0.9M189.1 62.9h0.9M196.1 60.2h0.9M183.4 71.8h0.9M182.4 85.1h0.9M201.8 73.2h0.9M191.4 60.4h0.9M202.2 79.4h0.9M203.4 63.8h0.9M204.0 79.0h0.9M177.9 77.9h0.9M189.5 71.3h0.9M184.5 81.1h0.9M193.4 78.7h0.9M191.3 67.5h0.9M182.8 66.1h0.9M182.1 72.2h0.9M198.4 78.9h0.9M191.2 91.3h0.9M202.0 77.3h0.9M199.1 87.3h0.9M185.8 71.1h0.9M192.4 69.2h0.9M201.3 82.3h0.9M200.7 66.3h0.9M191.9 76.7h0.9M186.1 66.6h0.9M180.8 79.0h0.9M197.7 65.2h0.9M187.5 83.2h0.9M203.0 62.0h0.9M187.2 86.8h0.9M188.1 84.8h0.9M206.6 78.5h0.9M191.1 72.4h0.9M203.0 64.4h0.9M199.3 57.5h0.9M186.6 71.1h0.9M192.5 74.1h0.9M187.6 78.5h0.9M195.0 84.2h0.9M197.9 87.5h0.9M200.8 74.6h0.9M186.1 85.3h0.9M201.0 75.0h0.9M200.3 75.9h0.9M210.5 72.8h0.9M184.3 69.7h0.9M182.0 78.9h0.9M180.9 83.6h0.9M201.9 72.9h0.9M185.9 76.9h0.9M189.0 79.4h0.9M189.7 82.2h0.9M192.9 72.0h0.9M187.0 72.3h0.9M194.5 87.4h0.9M195.3 74.4h0.9M196.6 83.6h0.9M194.4 69.2h0.9M189.5 64.5h0.9M190.3 83.5h0.9M197.0 81.0h0.9M192.6 68.2h0.9M190.0 77.8h0.9M198.9 80.4h0.9M181.4 81.1h0.9M186.7 66.6h0.9M190.4 72.3h0.9M209.2 78.8h0.9M201.7 66.0h0.9M186.1 64.7h0.9M195.4 75.3h0.9M195.8 86.0h0.9M196.6 82.2h0.9M190.0 83.5h0.9M205.6 77.7h0.9M188.4 83.0h0.9M203.1 86.7h0.9M193.0 62.8h0.9M203.7 65.6h0.9M197.9 79.9h0.9M191.3 65.0h0.9M198.2 73.5h0.9M193.5 70.8h0.9M191.7 75.7h0.9M198.7 89.8h0.9M197.1 86.5h0.9M183.0 73.3h0.9M191.2 59.0h0.9M203.7 67.4h0.9M204.4 78.5h0.9M186.2 88.3h0.9M200.5 58.6h0.9M204.3 74.6h0.9M180.3 76.2h0.9M188.9 83.5h0.9M197.8 61.3h0.9M204.1 67.9h0.9M191.8 60.4h0.9M189.4 92.7h0.9M202.7 88.1h0.9M201.1 89.1h0.9M181.3 79.3h0.9M193.8 88.5h0.9M184.1 80.8h0.9M191.9 87.8h0.9M203.3 67.3h0.9M193.9 58.7h0.9M200.9 62.4h0.9M198.1 91.6h0.9M194.2 82.5h0.9M193.8 61.5h0.9M195.9 89.8h0.9M193.9 72.4h0.9M201.2 76.0h0.9M185.3 77.6h0.9M182.2 79.9h0.9M181.7 69.6h0.9M194.6 75.8h0.9M197.8 70.5h0.9M198.0 61.9h0.9M187.2 91.7h0.9M196.2 77.7h0.9M199.0 67.9h0.9M186.8 69.4h0.9M197.2 86.5h0.9M186.1 87.1h0.9M188.2 86.5h0.9M202.6 75.8h0.9M179.4 78.8h0.9M194.6 65.4h0.9M187.4 63.8h0.9M190.3 74.2h0.9M183.8 87.4h0.9M186.2 68.5h0.9M191.1 57.3h0.9M180.2 67.6h0.9M193.7 83.0h0.9M205.3 70.6h0.9M185.7 85.7h0.9M184.2 88.9h0.9M201.5 66.3h0.9M200.9 70.9h0.9M199.8 60.8h0.9M181.2 79.4h0.9M202.0 74.6h0.9M196.8 64.4h0.9M194.5 58.6h0.9M195.2 82.7h0.9M200.8 71.2h0.9M190.3 76.2h0.9M192.1 81.6h0.9M202.3 73.7h0.9M203.0 76.1h0.9M189.1 71.2h0.9M189.5 90.8h0.9M190.4 89.4h0.9M200.9 77.8h0.9M192.4 73.5h0.9M200.9 61.2h0.9M184.7 79.5h0.9M192.7 69.8h0.9M202.3 82.4h0.9M201.7 82.5h0.9M204.4 69.7h0.9M195.7 56.3h0.9M197.6 79.8h0.9M180.9 75.6h0.9M196.3 80.4h0.9M194.6 64.6h0.9M182.0 82.1h0.9M198.0 82.9h0.9M183.4 82.5h0.9M194.8 91.4h0.9M198.4 58.8h0.9M196.1 74.9h0.9M195.3 93.1h0.9M194.5 83.2h0.9M203.0 70.6h0.9M190.2 65.7h0.9M198.5 78.1h0.9M201.9 83.0h0.9M203.1 71.7h0.9M194.5 78.9h0.9M204.3 84.7h0.9M189.1 73.1h0.9M185.9 66.5h0.9M198.9 88.9h0.9M206.2 80.7h0.9M183.7 74.1h0.9M196.1 79.0h0.9M186.5 72.0h0.9M180.7 76.6h0.9M185.2 85.2h0.9M190.3 76.2h0.9M198.7 65.5h0.9M190.9 74.9h0.9M190.8 78.9h0.9M190.3 69.4h0.9M208.1 71.6h0.9M192.3 86.4h0.9M203.7 87.0h0.9M199.5 69.3h0.9M183.1 75.8h0.9M181.4 76.4h0.9M190.7 91.9h0.9M203.3 72.6h0.9M185.8 70.9h0.9M206.9 66.7h0.9M187.2 75.1h0.9M183.3 73.4h0.9M198.7 85.7h0.9M195.4 76.5h0.9M187.0 79.3h0.9M203.1 77.6h0.9M203.0 70.6h0.9M198.0 76.2h0.9M205.0 65.2h0.9M187.4 85.8h0.9M192.6 66.1h0.9M189.5 63.9h0.9M186.6 87.5h0.9M190.4 67.6h0.9M189.2 57.6h0.9M205.7 81.8h0.9M198.1 77.8h0.9M182.3 72.9h0.9M187.3 69.5h0.9M201.0 81.4h0.9M197.9 88.2h0.9M205.4 69.7h0.9M195.5 73.7h0.9M191.9 88.2h0.9M195.9 81.4h0.9M187.3 90.4h0.9M191.4 83.5h0.9M184.4 71.7h0.9M185.8 64.7h0.9M199.6 62.0h0.9M204.4 69.9h0.9M192.4 84.9h0.9M198.4 90.7h0.9M180.0 78.1h0.9M184.7 85.6h0.9M191.5 61.6h0.9M200.6 90.1h0.9M204.5 69.0h0.9M185.9 71.1h0.9M180.5 78.5h0.9M184.6 73.2h0.9M199.5 75.7h0.9M197.0 63.9h0.9M185.5 63.0h0.9M191.0 84.3h0.9M185.1 67.5h0.9M182.9 77.4h0.9M192.4 67.2h0.9M192.2 61.4h0.9M181.9 67.3h0.9M193.9 60.0h0.9M182.8 86.8h0.9M179.0 68.2h0.9M189.8 86.7h0.9M185.8 64.5h0.9M198.6 77.0h0.9M192.4 81.8h0.9M192.7 72.1h0.9M182.2 73.1h0.9M187.6 92.8h0.9M202.7 64.6h0.9M201.6 94.7h0.9M194.4 65.0h0.9M196.5 68.7h0.9M201.4 86.8h0.9M194.7 58.5h0.9M196.3 63.8h0.9M191.6 62.1h0.9M207.5 83.3h0.9M204.5 71.8h0.9M182.8 83.9h0.9M198.2 68.3h0.9M194.5 69.2h0.9M200.0 84.0h0.9M194.2 78.2h0.9M190.9 76.3h0.9M201.6 75.1h0.9M188.9 93.2h0.9M198.0 59.2h0.9M182.2 63.9h0.9M195.4 59.9h0.9M179.7 80.4h0.9M190.7 79.6h0.9M185.5 70.1h0.9M187.1 64.2h0.9M204.5 77.0h0.9M188.6 66.7h0.9M182.6 73.3h0.9M189.5 85.5h0.9M194.1 69.7h0.9M186.8 71.8h0.9M197.9 83.7h0.9M193.2 67.4h0.9M181.2 72.5h0.9M180.2 79.4h0.9M187.8 84.7h0.9M194.2 62.2h0.9M185.2 66.0h0.9M198.6 82.4h0.9M199.3 69.5h0.9M195.5 61.7h0.9M194.3 75.6h0.9M192.8 91.1h0.9M194.4 87.8h0.9M201.7 80.6h0.9M198.9 63.5h0.9M205.1 79.0h0.9M203.9 82.4h0.9M204.3 73.9h0.9M192.1 73.6h0.9M198.7 61.7h0.9M184.7 78.9h0.9M182.9 83.2h0.9M188.3 80.0h0.9M188.8 62.8h0.9M196.3 63.5h0.9M195.2 78.2h0.9M189.6 80.5h0.9M205.4 79.3h0.9M194.9 83.9h0.9M190.9 76.7h0.9M195.6 68.2h0.9M201.2 67.7h0.9M203.0 90.1h0.9M205.1 85.7h0.9M203.7 64.8h0.9M198.9 83.0h0.9M185.1 91.2h0.9M205.1 79.3h0.9M196.7 92.9h0.9M185.5 83.1h0.9M186.4 76.5h0.9M190.4 73.7h0.9M199.2 85.8h0.9M195.2 93.5h0.9M194.2 84.6h0.9M202.1 64.1h0.9M194.0 74.2h0.9M194.1 61.4h0.9M196.4 75.8h0.9M196.2 81.7h0.9M187.5 63.9h0.9M193.6 80.8h0.9M186.6 88.2h0.9M196.9 59.1h0.9M194.4 58.9h0.9M185.7 70.3h0.9M194.0 79.7h0.9M196.1 79.1h0.9M191.8 59.7h0.9M181.8 77.8h0.9M192.3 56.9h0.9M189.8 90.7h0.9M187.1 77.9h0.9M198.8 85.0h0.9M192.8 76.0h0.9M207.4 73.5h0.9M183.7 90.0h0.9M193.9 71.6h0.9M194.1 74.5h0.9M202.2 85.5h0.9M195.4 84.7h0.9M200.9 62.1h0.9M199.4 83.2h0.9M197.2 58.4h0.9M184.7 87.6h0.9M196.2 82.6h0.9M189.8 76.2h0.9M184.9 62.0h0.9M196.6 61.0h0.9M185.8 75.2h0.9M183.4 73.8h0.9M192.4 91.0h0.9M192.7 77.0h0.9M198.6 58.7h0.9M198.8 59.5h0.9M189.6 64.3h0.9M199.0 76.3h0.9M190.1 62.4h0.9M203.5 87.4h0.9M196.8 94.7h0.9M192.4 69.2h0.9M200.2 79.4h0.9M197.5 93.1h0.9M194.7 62.8h0.9M201.0 61.4h0.9M191.8 71.7h0.9M195.5 78.8h0.9M203.4 71.7h0.9M195.6 61.9h0.9M193.2 65.5h0.9M191.5 66.3h0.9M193.0 72.5h0.9M197.3 69.4h0.9M195.3 74.0h0.9M184.4 85.8h0.9M201.3 83.7h0.9M188.9 68.3h0.9M186.4 63.2h0.9M180.4 66.2h0.9M183.2 81.1h0.9M179.2 77.1h0.9M186.7 76.9h0.9M183.7 74.3h0.9M198.8 76.6h0.9M191.2 75.9h0.9M191.4 75.5h0.9M198.8 60.0h0.9M198.8 74.1h0.9M201.3 82.1h0.9M205.2 82.4h0.9M207.1 71.8h0.9M196.9 59.7h0.9M185.7 87.4h0.9M198.0 78.5h0.9M188.7 79.2h0.9M199.3 72.6h0.9M194.6 73.8h0.9M183.5 74.0h0.9M195.4 81.6h0.9M206.8 63.8h0.9M201.6 68.0h0.9M202.9 72.9h0.9M180.8 74.8h0.9M197.6 73.9h0.9M195.5 70.9h0.9M192.5 64.2h0.9M201.4 89.2h0.9M199.4 91.5h0.9M202.1 84.0h0.9M186.3 79.8h0.9M202.5 84.3h0.9M200.5 81.1h0.9M192.6 81.7h0.9M202.1 76.4h0.9M205.4 70.3h0.9M194.6 81.1h0.9M186.8 84.8h0.9M205.3 81.8h0.9M188.3 73.3h0.9M189.3 72.9h0.9M194.5 71.6h0.9M188.1 77.4h0.9M190.4 64.3h0.9M202.5 65.5h0.9M190.8 95.7h0.9M197.2 80.5h0.9M185.3 83.2h0.9M202.1 67.5h0.9M203.7 63.0h0.9M196.8 85.1h0.9M187.0 65.7h0.9M202.1 87.1h0.9M206.3 78.2h0.9M186.7 85.5h0.9M186.3 67.4h0.9M196.5 73.6h0.9M197.3 67.3h0.9M198.5 95.1h0.9M186.5 70.3h0.9M205.6 74.1h0.9M206.8 75.8h0.9M190.8 76.1h0.9M193.3 75.1h0.9M192.8 82.8h0.9M194.4 90.6h0.9M196.5 89.1h0.9M195.0 60.7h0.9M201.0 84.1h0.9M200.8 79.5h0.9M194.3 69.5h0.9M187.5 63.1h0.9M200.1 69.4h0.9M199.7 76.2h0.9M185.4 83.6h0.9M201.6 72.7h0.9M191.7 65.9h0.9M193.8 81.6h0.9M197.2 84.4h0.9M200.0 81.1h0.9M204.0 72.1h0.9M187.6 62.2h0.9M188.6 91.7h0.9M196.1 59.8h0.9M195.4 77.4h0.9M195.1 81.6h0.9M193.0 66.1h0.9M192.6 73.9h0.9M189.5 68.3h0.9M186.2 87.0h0.9M201.7 76.8h0.9M182.3 81.4h0.9M191.2 88.6h0.9M193.0 74.7h0.9M190.7 91.0h0.9M206.3 67.8h0.9M187.2 77.8h0.9M207.2 75.6h0.9M194.1 67.5h0.9M187.9 79.7h0.9M201.5 63.5h0.9M193.6 75.7h0.9M197.0 68.2h0.9M201.8 68.5h0.9M182.8 62.2h0.9M197.6 63.5h0.9M199.1 70.8h0.9M186.4 81.7h0.9M196.7 87.0h0.9M195.4 64.0h0.9M196.2 86.3h0.9M201.3 67.4h0.9M199.2 83.0h0.9M204.2 83.6h0.9M191.6 68.3h0.9M196.6 90.1h0.9M191.9 68.4h0.9M181.6 79.0h0.9M197.7 86.1h0.9M184.8 72.6h0.9M199.2 61.0h0.9M191.2 91.0h0.9M200.3 80.2h0.9M191.1 84.5h0.9M205.2 69.4h0.9M205.1 75.4h0.9M198.2 83.4h0.9M188.7 84.1h0.9M195.5 68.9h0.9M183.3 84.2h0.9M197.2 78.4h0.9M201.6 62.0h0.9M193.5 60.4h0.9M188.9 72.2h0.9M186.3 89.6h0.9M206.8 69.2h0.9M202.7 88.2h0.9M186.4 80.1h0.9M189.0 80.7h0.9M196.0 89.9h0.9M200.8 84.1h0.9M194.4 62.8h0.9M193.5 84.9h0.9M184.6 88.9h0.9M191.2 92.2h0.9M205.8 79.6h0.9M190.6 67.4h0.9M199.9 58.8h0.9M185.5 84.1h0.9M183.7 88.0h0.9M195.9 58.2h0.9M183.3 72.9h0.9M200.1 66.7h0.9M185.1 86.6h0.9M201.0 78.7h0.9M200.2 89.1h0.9M199.9 70.0h0.9M204.2 84.7h0.9M200.5 72.6h0.9M180.6 82.5h0.9M190.0 81.8h0.9M200.2 72.3h0.9M205.2 70.2h0.9M190.6 63.9h0.9M193.7 69.5h0.9M194.1 72.4h0.9M177.8 76.1h0.9M188.3 81.2h0.9M193.9 91.9h0.9M180.2 69.2h0.9M181.7 78.2h0.9M196.9 69.7h0.9M182.6 73.5h0.9M199.3 71.4h0.9M204.4 73.0h0.9M181.9 82.1h0.9M205.9 62.4h0.9M188.5 61.7h0.9M193.0 89.8h0.9M194.7 89.4h0.9M205.8 75.3h0.9M195.0 68.3h0.9M193.8 66.4h0.9M202.0 69.1h0.9M197.2 86.6h0.9M194.7 72.3h0.9M198.9 81.8h0.9M194.0 58.3h0.9M183.2 84.3h0.9M187.6 72.1h0.9M195.5 91.8h0.9M186.9 86.6h0.9M185.7 61.3h0.9M201.8 74.9h0.9M186.6 61.4h0.9M199.8 67.0h0.9M186.0 85.7h0.9M188.1 62.9h0.9M190.9 78.4h0.9M193.1 66.8h0.9M202.7 72.2h0.9M184.8 79.6h0.9M191.1 88.8h0.9M187.2 72.3h0.9M205.3 73.3h0.9M203.8 68.0h0.9M189.7 74.9h0.9M191.0 61.3h0.9M199.7 75.8h0.9M192.5 75.4h0.9M182.3 76.9h0.9M201.0 87.4h0.9M190.5 69.4h0.9M184.5 72.7h0.9M194.1 77.1h0.9M199.9 70.0h0.9M180.3 77.2h0.9M196.3 74.9h0.9M186.7 79.5h0.9M189.4 77.1h0.9M183.3 75.1h0.9M186.0 81.8h0.9M188.8 62.5h0.9M204.2 83.9h0.9M201.6 81.3h0.9M191.0 61.5h0.9M189.8 83.1h0.9M185.3 66.0h0.9M194.4 66.7h0.9M202.3 72.6h0.9M195.5 76.1h0.9M190.6 92.2h0.9M202.9 86.8h0.9M185.0 75.8h0.9M196.3 80.1h0.9M203.3 74.4h0.9M193.2 84.2h0.9M191.7 84.0h0.9M196.0 78.1h0.9M195.7 71.3h0.9M187.7 92.1h0.9M203.1 81.8h0.9M185.1 89.8h0.9M185.4 82.5h0.9M180.8 60.5h0.9M184.6 71.6h0.9M179.9 62.1h0.9M183.4 71.3h0.9M184.2 88.9h0.9M185.0 62.0h0.9M180.4 85.1h0.9M183.7 73.6h0.9M182.4 89.0h0.9M187.6 77.0h0.9M177.2 76.2h0.9M178.3 66.1h0.9M188.3 81.7h0.9M185.8 70.9h0.9M183.8 68.0h0.9M186.3 87.6h0.9M179.9 61.7h0.9M181.4 84.8h0.9M180.9 63.4h0.9M181.1 65.8h0.9M184.9 61.6h0.9M182.1 88.5h0.9M186.5 87.1h0.9M185.7 79.7h0.9M181.2 66.3h0.9M180.0 62.1h0.9M182.7 85.7h0.9M182.4 90.4h0.9M183.1 72.1h0.9M187.0 68.4h0.9M180.6 86.2h0.9M181.7 63.0h0.9M185.2 79.7h0.9M185.4 85.9h0.9M178.5 74.2h0.9M178.8 76.2h0.9M182.3 88.1h0.9M181.3 71.5h0.9M183.7 66.5h0.9M181.4 71.0h0.9M185.8 90.4h0.9M184.1 70.3h0.9M187.5 78.5h0.9M178.5 74.6h0.9M179.7 83.3h0.9M184.7 85.8h0.9M177.7 72.0h0.9M181.2 82.7h0.9M185.5 62.2h0.9M186.5 74.6h0.9M177.8 80.4h0.9M183.6 60.4h0.9M181.0 86.1h0.9M184.4 74.4h0.9M181.1 78.6h0.9M183.1 63.8h0.9M184.3 77.6h0.9M179.4 59.6h0.9M181.8 86.6h0.9M185.2 84.1h0.9M184.1 62.8h0.9M185.4 60.1h0.9M184.0 81.2h0.9M181.4 88.1h0.9M178.8 78.5h0.9M184.0 77.1h0.9M184.5 79.8h0.9M184.1 73.9h0.9M186.6 71.2h0.9M181.9 74.7h0.9M185.7 85.4h0.9M183.9 65.8h0.9M184.0 88.6h0.9M181.0 65.2h0.9M179.5 66.1h0.9M180.7 59.1h0.9M179.4 72.2h0.9M179.4 65.2h0.9M187.3 83.8h0.9M179.7 70.7h0.9M185.1 67.4h0.9M183.7 66.2h0.9M184.5 78.9h0.9M184.5 68.8h0.9M181.3 80.0h0.9M178.2 68.9h0.9M182.6 61.5h0.9M180.8 70.5h0.9M181.9 84.5h0.9M183.0 62.2h0.9M183.8 64.4h0.9M179.5 78.6h0.9M184.8 81.9h0.9M181.0 74.6h0.9M179.0 78.4h0.9M182.9 84.9h0.9M183.8 76.6h0.9M186.7 82.3h0.9M184.4 63.8h0.9M180.9 71.6h0.9M177.8 87.7h0.9M184.7 84.0h0.9M178.3 63.3h0.9M182.1 71.0h0.9M179.0 77.5h0.9M179.4 77.5h0.9M179.0 86.1h0.9M183.1 77.1h0.9M179.8 65.8h0.9M182.5 74.2h0.9M177.3 77.5h0.9M180.6 84.6h0.9M181.8 80.9h0.9M178.2 68.6h0.9M181.2 67.1h0.9M185.1 86.7h0.9M185.2 91.0h0.9M182.7 76.8h0.9M179.9 65.0h0.9M181.5 58.2h0.9M181.3 67.7h0.9M182.7 60.1h0.9M187.0 64.9h0.9M183.4 84.6h0.9M186.0 74.3h0.9M179.0 72.9h0.9M181.2 63.9h0.9M179.1 71.8h0.9M186.0 74.0h0.9M179.5 85.2h0.9M183.4 65.7h0.9M184.0 69.8h0.9M182.2 62.6h0.9M185.7 81.8h0.9M182.7 80.2h0.9M182.1 73.7h0.9M183.6 72.7h0.9M187.0 74.8h0.9M185.9 63.0h0.9M183.4 87.7h0.9M183.2 68.1h0.9M180.6 82.2h0.9M181.7 88.0h0.9M185.2 75.5h0.9M186.2 80.9h0.9M182.9 86.3h0.9M181.6 81.4h0.9M182.7 63.8h0.9M183.5 86.9h0.9M180.5 61.2h0.9M184.0 83.6h0.9M182.1 68.3h0.9M180.8 86.4h0.9M180.2 74.4h0.9M185.9 84.4h0.9M185.0 65.9h0.9M179.7 75.4h0.9M188.0 60.0h0.9M183.4 84.9h0.9M184.6 86.5h0.9M183.3 77.3h0.9M187.8 73.4h0.9M182.1 71.2h0.9M180.7 58.7h0.9M184.8 62.5h0.9M184.4 86.6h0.9M183.1 76.8h0.9M182.8 65.3h0.9M181.9 83.3h0.9M186.0 63.3h0.9M186.3 62.4h0.9M178.6 88.3h0.9M179.5 78.3h0.9M178.4 66.6h0.9M178.5 78.5h0.9M181.7 77.0h0.9M185.0 76.9h0.9M178.8 61.5h0.9M183.6 82.6h0.9M185.3 63.4h0.9M185.0 73.2h0.9M183.9 87.4h0.9M180.3 79.8h0.9M182.4 88.9h0.9M178.4 79.7h0.9M184.0 62.4h0.9M183.9 61.9h0.9M183.7 58.4h0.9M180.2 64.2h0.9M182.1 82.8h0.9M181.3 85.0h0.9M179.8 79.7h0.9M181.2 68.1h0.9M185.4 88.8h0.9M179.2 76.8h0.9M181.5 59.8h0.9M183.0 82.5h0.9M182.3 88.9h0.9M184.4 63.8h0.9M182.3 82.1h0.9M179.6 74.1h0.9M178.0 86.8h0.9M180.0 84.4h0.9M178.7 73.1h0.9M179.4 75.7h0.9M180.1 70.7h0.9M187.2 72.0h0.9M178.0 60.6h0.9M181.8 60.6h0.9M186.1 85.3h0.9M185.3 87.8h0.9M179.7 76.8h0.9M181.3 69.5h0.9M180.6 84.0h0.9M182.2 59.5h0.9M184.5 61.7h0.9M180.6 86.9h0.9M180.6 66.5h0.9M183.0 92.5h0.9M180.4 69.9h0.9M186.7 84.6h0.9M185.2 62.6h0.9M180.4 82.3h0.9M186.0 81.7h0.9M186.6 68.5h0.9M179.3 69.2h0.9M177.8 79.3h0.9M178.4 77.6h0.9M186.2 86.0h0.9M181.5 75.1h0.9M179.6 76.6h0.9M182.4 64.7h0.9M181.9 91.3h0.9M187.1 82.7h0.9M179.5 67.4h0.9M182.3 88.3h0.9M178.2 62.4h0.9M186.3 86.4h0.9M186.8 71.0h0.9M179.7 72.7h0.9M181.6 68.3h0.9M179.7 67.0h0.9M186.7 66.6h0.9M181.2 86.6h0.9M186.3 57.9h0.9M183.6 73.0h0.9M180.8 78.8h0.9M182.9 77.9h0.9M187.3 84.5h0.9M182.0 88.8h0.9M185.5 71.2h0.9M182.6 81.7h0.9M182.6 66.9h0.9M184.4 67.8h0.9M182.6 81.9h0.9M179.8 71.7h0.9M184.6 88.4h0.9M179.0 61.8h0.9M183.3 80.7h0.9M178.1 73.5h0.9M181.3 77.3h0.9M180.2 75.4h0.9M178.4 76.7h0.9M184.0 66.1h0.9M183.6 76.8h0.9M181.0 68.2h0.9M181.1 73.0h0.9M183.4 71.2h0.9M180.1 84.7h0.9M185.1 86.1h0.9M184.5 57.7h0.9M179.4 69.1h0.9M182.9 81.3h0.9M178.9 75.7h0.9M183.0 60.7h0.9M179.5 82.7h0.9M180.7 79.1h0.9M179.9 82.7h0.9M184.7 75.0h0.9M184.3 73.4h0.9M185.0 83.4h0.9M186.4 66.1h0.9M178.2 78.4h0.9M186.0 68.3h0.9M177.2 83.2h0.9M180.2 76.2h0.9M184.2 86.1h0.9M180.8 67.8h0.9M184.3 64.9h0.9M179.7 77.9h0.9M186.2 58.6h0.9M187.2 83.1h0.9M184.9 85.7h0.9M185.7 71.4h0.9M178.0 74.8h0.9M183.3 72.8h0.9M179.5 75.4h0.9M184.0 69.7h0.9M182.4 64.4h0.9M184.5 64.8h0.9M181.4 79.5h0.9M181.5 89.0h0.9M186.4 72.7h0.9M188.4 69.5h0.9M180.4 63.6h0.9M181.2 64.1h0.9M177.6 72.1h0.9M184.1 66.7h0.9M182.2 71.6h0.9M179.1 79.6h0.9M185.6 64.0h0.9M180.7 81.9h0.9M182.4 62.2h0.9M181.6 85.9h0.9M182.6 69.7h0.9M184.0 81.1h0.9M180.3 73.8h0.9M180.4 85.8h0.9M180.2 69.9h0.9M184.1 68.1h0.9M182.9 72.6h0.9M181.8 64.5h0.9M185.8 69.4h0.9M183.0 60.8h0.9M182.7 89.5h0.9M179.7 66.0h0.9M184.9 85.6h0.9M183.1 81.4h0.9M181.7 84.4h0.9M183.1 62.6h0.9M179.7 71.8h0.9M180.3 74.0h0.9M180.2 84.7h0.9M183.2 68.2h0.9M181.2 80.5h0.9M183.3 79.4h0.9M185.4 92.0h0.9M184.6 81.3h0.9M177.1 80.9h0.9M179.4 72.8h0.9M182.7 68.0h0.9M184.5 71.8h0.9M182.9 65.2h0.9M180.8 79.4h0.9M179.1 73.0h0.9" stroke="#cacaca" stroke-width="1" stroke-opacity="0.5" fill="none"/>
<path d="M188.0 51.6h0.9M183.1 47.4h0.9M192.2 57.0h0.9M180.4 54.8h0.9M180.0 58.3h0.9M175.1 54.2h0.9M174.0 55.9h0.9M170.9 55.2h0.9M173.7 58.2h0.9M180.1 57.4h0.9M173.9 57.7h0.9M185.2 55.7h0.9M186.1 53.9h0.9M182.0 55.1h0.9M178.8 53.4h0.9M177.4 55.1h0.9M183.2 61.5h0.9M177.9 56.8h0.9M181.5 54.5h0.9M183.5 58.1h0.9M188.1 56.7h0.9M189.7 62.2h0.9M176.8 56.6h0.9M185.3 57.2h0.9M171.7 56.4h0.9M174.0 53.6h0.9M173.4 56.8h0.9M177.2 50.8h0.9M175.8 56.3h0.9M171.7 52.9h0.9M183.9 58.9h0.9M179.8 58.1h0.9M172.8 53.9h0.9M172.2 52.9h0.9M174.9 59.7h0.9M189.1 59.7h0.9M177.4 53.3h0.9M187.8 55.0h0.9M188.3 59.8h0.9M177.1 51.5h0.9M175.8 58.9h0.9M187.9 57.6h0.9M178.2 59.0h0.9M182.6 59.8h0.9M187.3 61.0h0.9M186.7 56.1h0.9M189.6 60.3h0.9M179.7 53.7h0.9M174.2 53.6h0.9M175.1 54.2h0.9M174.3 51.9h0.9M184.4 53.0h0.9M184.2 62.3h0.9M170.7 51.0h0.9M182.1 60.8h0.9M185.9 61.0h0.9M175.0 57.4h0.9M189.0 61.3h0.9M190.5 58.8h0.9" stroke="#c8c8c8" stroke-width="1" stroke-opacity="0.45" fill="none"/>
<path d="M176.4 64.9h0.9M173.3 64.4h0.9M173.2 62.9h0.9M178.8 61.1h0.9M176.0 62.4h0.9M174.1 63.2h0.9M172.6 61.1h0.9M172.5 60.3h0.9M173.5 62.5h0.9M170.0 62.3h0.9M177.9 62.2h0.9M175.9 61.4h0.9M173.9 59.4h0.9M187.5 54.1h0.9M188.5 60.1h0.9M187.6 57.3h0.9M186.6 56.4h0.9M190.0 56.9h0.9" stroke="#555555" stroke-width="1" stroke-opacity="0.5" fill="none"/>
<path d="M178.6 96.8h0.9M176.2 93.7h0.9M165.9 98.2h0.9M183.7 102.7h0.9M172.6 97.1h0.9M177.7 98.7h0.9M175.2 100.2h0.9M172.7 104.0h0.9M173.0 102.1h0.9M166.7 103.0h0.9M170.2 102.9h0.9M171.6 98.4h0.9M175.1 105.0h0.9M167.1 97.0h0.9M179.2 94.5h0.9M175.9 102.5h0.9M177.8 94.6h0.9M175.5 103.3h0.9M171.1 104.4h0.9M172.0 99.5h0.9M167.9 96.2h0.9M168.7 97.7h0.9M177.2 105.3h0.9M168.0 100.5h0.9M174.0 95.1h0.9M169.0 92.0h0.9M172.6 95.9h0.9M178.4 103.1h0.9M170.6 98.9h0.9M174.6 93.2h0.9M176.5 98.8h0.9M166.5 94.1h0.9M171.1 97.0h0.9M172.0 96.2h0.9M169.6 95.2h0.9M174.2 98.4h0.9M164.8 95.9h0.9M175.3 99.2h0.9M166.0 96.3h0.9M172.3 91.2h0.9M180.9 95.9h0.9M175.1 101.6h0.9M168.5 99.0h0.9M179.3 100.0h0.9M174.0 93.7h0.9M177.0 101.4h0.9M168.9 94.7h0.9M174.0 96.4h0.9M175.9 98.5h0.9M168.6 101.7h0.9M172.1 96.9h0.9M169.2 94.2h0.9M175.3 103.9h0.9M180.2 102.0h0.9M178.0 96.2h0.9M175.3 104.5h0.9M177.2 99.7h0.9M172.1 100.5h0.9M179.5 99.5h0.9M170.4 97.1h0.9M175.5 101.7h0.9M174.9 96.4h0.9M175.7 93.4h0.9M182.4 101.5h0.9M168.3 95.0h0.9M167.2 100.6h0.9M180.3 100.8h0.9M178.6 101.2h0.9M172.3 97.8h0.9M171.1 102.9h0.9M166.1 102.1h0.9M172.0 98.2h0.9M169.6 101.2h0.9M173.3 101.7h0.9M171.9 102.4h0.9M173.6 95.4h0.9M168.0 99.7h0.9M172.6 92.7h0.9M177.6 96.1h0.9M173.8 97.0h0.9M178.5 96.6h0.9M178.9 102.8h0.9M169.7 92.3h0.9M171.2 103.4h0.9M169.7 97.8h0.9M178.8 99.0h0.9M169.6 94.8h0.9M173.0 101.8h0.9M178.1 102.3h0.9M166.9 96.2h0.9M168.2 101.8h0.9M171.0 101.6h0.9M169.9 104.9h0.9M178.1 95.7h0.9M176.9 94.7h0.9M170.6 98.7h0.9M165.1 96.6h0.9M175.2 93.9h0.9M175.2 98.1h0.9M176.0 100.9h0.9M168.2 103.8h0.9M177.0 103.1h0.9M171.9 94.7h0.9M171.0 102.3h0.9M174.6 100.9h0.9M165.2 103.2h0.9M176.7 92.4h0.9M181.4 101.3h0.9M170.1 104.1h0.9M176.9 94.3h0.9M165.4 98.0h0.9M164.9 100.7h0.9M177.2 96.3h0.9M174.0 98.4h0.9M183.5 93.6h0.9M178.9 99.2h0.9M169.8 93.2h0.9M169.9 99.1h0.9M176.9 92.4h0.9M175.3 96.6h0.9M177.9 101.8h0.9M179.7 95.2h0.9M170.0 100.7h0.9M167.0 95.3h0.9M179.3 99.3h0.9M168.4 100.7h0.9M181.3 98.2h0.9M174.7 98.0h0.9M166.4 97.6h0.9M175.6 99.5h0.9M172.2 99.3h0.9M174.7 90.6h0.9M169.2 93.3h0.9M173.6 96.3h0.9M174.2 102.8h0.9M179.0 102.7h0.9M176.6 98.0h0.9M167.5 104.2h0.9M166.8 96.5h0.9M175.4 96.9h0.9M171.5 96.0h0.9M181.5 99.6h0.9M171.1 100.0h0.9M176.6 99.4h0.9M174.1 96.1h0.9M177.3 92.0h0.9M176.3 103.0h0.9M173.7 98.9h0.9M177.4 92.6h0.9M171.2 102.6h0.9M176.2 94.1h0.9M170.7 96.9h0.9M174.7 101.5h0.9M177.5 92.6h0.9M181.9 96.3h0.9M177.7 91.7h0.9M180.3 97.6h0.9M172.0 101.0h0.9M173.7 101.7h0.9M165.8 101.0h0.9M172.5 101.1h0.9M170.5 101.0h0.9M171.4 96.8h0.9M181.2 94.1h0.9M171.3 93.0h0.9M177.5 101.3h0.9M180.9 100.4h0.9M168.8 98.2h0.9M168.0 99.8h0.9M173.4 103.6h0.9M179.3 95.7h0.9M176.6 95.7h0.9M180.5 96.3h0.9M177.5 99.5h0.9M176.8 100.9h0.9M173.1 98.4h0.9M177.5 97.3h0.9M172.0 99.8h0.9M180.7 98.0h0.9M165.2 97.3h0.9M173.5 97.8h0.9M173.6 92.8h0.9M168.3 94.1h0.9M179.4 94.7h0.9M165.8 102.6h0.9M176.5 95.3h0.9M182.2 96.5h0.9M181.9 97.8h0.9M182.4 94.4h0.9M166.8 98.7h0.9M167.4 99.2h0.9M180.0 101.1h0.9M176.7 95.2h0.9M170.9 95.3h0.9M164.0 101.2h0.9M181.3 94.5h0.9M176.8 93.5h0.9M177.2 100.3h0.9M169.6 93.7h0.9M179.0 97.3h0.9M172.7 99.6h0.9M180.2 100.1h0.9M177.6 95.7h0.9M176.6 100.7h0.9M167.7 103.0h0.9M175.5 91.6h0.9M177.9 95.3h0.9M165.7 99.9h0.9M170.6 100.5h0.9M179.6 99.8h0.9M180.9 94.7h0.9M175.7 92.9h0.9M180.5 94.3h0.9M178.8 95.3h0.9M179.3 88.6h0.9M177.2 92.8h0.9M178.3 95.5h0.9M182.6 89.1h0.9M177.1 95.1h0.9M183.0 95.1h0.9M181.2 93.6h0.9M178.2 96.8h0.9M178.3 92.7h0.9M181.7 96.3h0.9M176.6 96.5h0.9M180.1 96.7h0.9M181.7 95.7h0.9M177.5 94.4h0.9M179.2 94.5h0.9M178.6 91.1h0.9M179.0 92.8h0.9M183.8 92.7h0.9M180.6 96.6h0.9M178.3 97.2h0.9M176.9 93.9h0.9M177.9 92.2h0.9M182.6 92.8h0.9M179.9 97.7h0.9M182.3 92.0h0.9M175.9 90.6h0.9M180.0 98.1h0.9M183.8 93.1h0.9M184.1 96.8h0.9M182.1 94.0h0.9M179.2 92.6h0.9M177.2 95.2h0.9M180.2 96.6h0.9M176.9 90.9h0.9M183.4 93.0h0.9M180.9 92.2h0.9" stroke="#f2a462" stroke-width="1" stroke-opacity="0.6" fill="none"/>
<path d="M144.3 92.0h0.9M144.0 92.6h0.9M155.8 100.6h0.9M147.7 97.0h0.9M154.0 107.8h0.9M152.0 95.9h0.9M155.4 97.9h0.9M147.9 87.6h0.9M148.2 86.5h0.9M140.6 96.3h0.9M140.7 87.1h0.9M140.6 88.5h0.9M146.7 94.6h0.9M143.4 79.0h0.9M141.3 92.6h0.9M161.4 99.0h0.9M145.0 89.0h0.9M143.1 86.8h0.9M154.8 107.3h0.9M160.8 102.2h0.9M146.1 98.0h0.9M142.3 97.7h0.9M146.0 90.3h0.9M144.6 101.0h0.9M146.8 88.7h0.9M145.7 93.7h0.9M164.2 100.8h0.9M151.0 94.9h0.9M143.1 83.1h0.9M155.9 101.4h0.9M150.6 97.1h0.9M153.9 101.2h0.9M150.8 98.1h0.9M151.9 89.9h0.9M141.8 94.8h0.9M144.9 105.7h0.9M153.9 102.1h0.9M150.1 99.9h0.9M146.5 91.8h0.9M146.9 85.7h0.9M146.1 98.9h0.9M145.9 84.6h0.9M144.0 100.9h0.9M145.0 89.2h0.9M155.0 98.6h0.9M152.1 103.1h0.9M143.7 87.7h0.9M145.5 106.1h0.9M143.5 98.2h0.9M141.6 98.4h0.9M144.3 80.9h0.9M152.3 100.4h0.9M144.5 95.2h0.9M141.3 87.6h0.9M142.8 91.6h0.9M143.7 96.6h0.9M143.5 85.6h0.9M141.8 76.8h0.9M154.7 97.9h0.9M147.8 91.4h0.9M146.5 93.5h0.9M153.7 93.6h0.9M141.3 90.2h0.9M145.7 83.7h0.9M148.5 102.4h0.9M149.9 80.9h0.9M144.8 104.2h0.9M141.4 88.2h0.9M151.4 86.8h0.9M148.7 97.8h0.9M159.6 103.1h0.9M148.2 80.6h0.9M146.1 94.5h0.9M146.7 100.8h0.9M153.5 101.4h0.9M144.1 83.2h0.9M151.3 105.9h0.9M151.9 105.4h0.9M148.5 98.3h0.9M152.0 103.4h0.9M153.6 101.7h0.9M147.0 87.1h0.9M142.4 93.0h0.9M140.3 89.5h0.9M156.4 102.4h0.9M142.0 84.0h0.9M144.6 81.7h0.9M143.1 86.9h0.9M146.8 88.3h0.9M145.7 78.4h0.9M141.6 96.3h0.9M144.6 94.3h0.9M143.5 91.6h0.9M140.0 93.8h0.9M149.7 87.1h0.9M151.0 99.9h0.9M153.5 98.1h0.9M152.1 96.9h0.9M149.4 92.1h0.9M144.9 85.9h0.9M150.7 100.3h0.9M149.8 108.4h0.9M143.0 99.9h0.9M150.3 97.6h0.9M146.1 81.5h0.9M155.0 106.0h0.9M141.2 89.2h0.9M161.2 102.9h0.9M143.6 77.9h0.9M157.5 98.1h0.9M158.8 104.6h0.9M147.5 83.5h0.9M141.4 97.0h0.9M142.8 96.4h0.9M150.1 103.8h0.9M156.5 105.8h0.9M156.0 104.2h0.9M141.9 92.4h0.9M150.7 82.3h0.9M146.4 82.4h0.9M154.7 107.2h0.9M144.3 96.3h0.9M145.8 93.8h0.9M142.8 99.4h0.9M142.0 83.7h0.9M152.9 103.8h0.9M147.3 91.9h0.9M148.6 98.2h0.9M142.8 87.9h0.9M140.6 95.2h0.9M149.2 102.7h0.9M148.8 95.3h0.9M141.2 92.2h0.9M146.9 101.5h0.9M143.5 79.6h0.9M145.2 95.0h0.9M160.6 98.1h0.9M155.0 108.9h0.9M162.4 102.6h0.9M147.3 105.0h0.9M143.4 95.4h0.9M141.2 94.6h0.9M159.7 101.8h0.9M142.7 93.1h0.9M143.4 99.2h0.9M146.0 102.8h0.9M148.8 89.5h0.9M161.1 106.5h0.9M143.3 103.7h0.9M143.4 80.0h0.9M145.6 80.7h0.9M145.5 85.3h0.9M144.2 89.1h0.9M148.5 91.9h0.9M146.6 84.2h0.9M149.9 92.8h0.9M151.4 94.6h0.9M143.7 79.1h0.9M159.8 106.3h0.9M149.1 89.5h0.9M149.2 95.4h0.9M143.5 78.3h0.9M146.8 86.5h0.9M158.7 102.7h0.9M152.7 101.8h0.9M143.8 88.6h0.9M161.7 103.0h0.9M152.2 106.5h0.9M157.2 98.7h0.9M140.3 86.6h0.9M158.1 104.9h0.9M148.6 101.5h0.9M154.6 104.4h0.9M157.2 102.4h0.9M150.8 98.1h0.9M154.1 105.7h0.9M151.6 103.4h0.9M145.7 81.7h0.9M161.9 103.5h0.9M140.8 97.4h0.9M145.4 90.8h0.9M144.0 82.8h0.9M144.6 97.6h0.9M158.2 107.9h0.9M151.2 84.8h0.9M163.3 101.4h0.9M145.3 89.5h0.9M146.1 84.4h0.9M152.1 106.1h0.9M163.0 99.3h0.9M143.0 85.6h0.9M145.3 93.3h0.9M152.5 95.6h0.9M143.6 90.2h0.9M139.5 82.7h0.9M149.6 84.6h0.9M146.3 83.2h0.9M155.7 102.5h0.9M154.1 103.8h0.9M154.8 108.6h0.9M153.2 103.8h0.9M142.4 100.6h0.9M158.4 99.1h0.9M155.9 105.9h0.9M147.6 96.2h0.9M154.7 102.1h0.9M155.7 104.9h0.9M144.8 92.5h0.9M146.8 94.6h0.9M143.5 83.0h0.9M143.5 87.5h0.9M143.9 88.7h0.9M154.2 104.6h0.9M144.7 103.1h0.9M156.8 103.5h0.9" stroke="#5050ac" stroke-width="1" stroke-opacity="0.4" fill="none"/>
<path d="M163.4 77.2h0.9M150.4 79.4h0.9M148.8 74.6h0.9M161.7 83.5h0.9M177.5 64.4h0.9M156.5 89.2h0.9M147.5 83.2h0.9M168.6 84.5h0.9M161.7 68.8h0.9M164.1 62.1h0.9M174.9 74.7h0.9M172.4 72.9h0.9M146.5 68.8h0.9M152.3 60.0h0.9M153.9 60.0h0.9M159.5 88.4h0.9M163.6 63.6h0.9M168.8 76.0h0.9M170.5 64.8h0.9M157.9 73.6h0.9M161.4 87.2h0.9M147.4 69.6h0.9M172.3 77.4h0.9M157.8 99.6h0.9M159.9 63.2h0.9M160.9 67.1h0.9M158.0 95.8h0.9M156.1 98.0h0.9M175.0 67.7h0.9M172.0 64.7h0.9M152.6 88.7h0.9M153.4 64.4h0.9M154.7 87.2h0.9M149.0 69.8h0.9M161.8 78.4h0.9M169.0 87.9h0.9M161.9 70.8h0.9M146.4 73.7h0.9M171.1 74.8h0.9M164.5 63.5h0.9M171.2 63.1h0.9M146.8 62.7h0.9M154.6 76.1h0.9M156.1 100.7h0.9M150.5 83.7h0.9M157.0 87.5h0.9M160.8 71.5h0.9M171.6 83.8h0.9M161.1 87.9h0.9M161.0 94.3h0.9M152.4 94.3h0.9M157.7 75.2h0.9M147.3 65.1h0.9M167.5 75.0h0.9M161.3 85.3h0.9M158.4 81.6h0.9M148.2 73.4h0.9M157.1 65.3h0.9M153.4 98.2h0.9M171.6 65.0h0.9M169.5 73.4h0.9M152.6 65.9h0.9M174.6 65.7h0.9M164.0 62.5h0.9M161.8 93.6h0.9M165.6 92.4h0.9M169.9 64.8h0.9M154.7 74.8h0.9M160.6 92.8h0.9M161.5 87.2h0.9M174.3 65.8h0.9M167.7 69.0h0.9M155.0 64.7h0.9M152.0 75.0h0.9M158.3 96.5h0.9M174.2 61.8h0.9M156.1 96.2h0.9M175.1 76.1h0.9M151.8 93.7h0.9M161.5 90.1h0.9M144.2 67.7h0.9M160.3 85.1h0.9M151.9 95.5h0.9M166.3 79.2h0.9M163.0 91.2h0.9M166.0 77.5h0.9M153.7 75.0h0.9M164.8 80.4h0.9M164.6 76.3h0.9M161.2 74.0h0.9M155.3 64.8h0.9M151.9 71.4h0.9M157.6 81.9h0.9M154.8 61.8h0.9M153.6 84.3h0.9M162.1 88.5h0.9M162.7 79.5h0.9M155.6 78.7h0.9M163.0 70.0h0.9M170.4 76.2h0.9M157.5 68.4h0.9M154.9 90.5h0.9M158.4 75.7h0.9M160.9 96.2h0.9M174.5 67.1h0.9M167.6 65.2h0.9M171.0 70.2h0.9M159.7 79.0h0.9M165.6 73.5h0.9M148.2 78.1h0.9M155.9 76.2h0.9M164.4 70.2h0.9M156.5 100.7h0.9M168.1 62.8h0.9M167.3 91.2h0.9M165.9 92.5h0.9M167.2 64.7h0.9M170.7 70.5h0.9M168.6 87.5h0.9M158.6 66.1h0.9M169.5 85.0h0.9M149.9 88.6h0.9M172.3 63.4h0.9M168.5 83.5h0.9M149.2 81.0h0.9M155.7 86.4h0.9M149.2 75.9h0.9M163.8 76.9h0.9M171.3 70.8h0.9M162.6 70.9h0.9M158.1 90.6h0.9M150.3 95.6h0.9M148.6 80.4h0.9M149.5 89.1h0.9M169.6 68.6h0.9M148.9 89.6h0.9M169.1 64.9h0.9M157.8 91.5h0.9M168.9 75.5h0.9M144.0 67.4h0.9M162.0 71.4h0.9M159.0 91.6h0.9M148.3 86.2h0.9M157.1 83.7h0.9M145.3 76.7h0.9M164.3 61.8h0.9M148.7 71.1h0.9M148.7 71.7h0.9M167.2 87.0h0.9M171.8 71.1h0.9M162.1 74.0h0.9M159.9 76.7h0.9M169.4 63.0h0.9M166.2 91.5h0.9M149.2 91.0h0.9M153.6 81.5h0.9M151.2 83.3h0.9M147.9 69.3h0.9M160.8 79.8h0.9M157.1 88.5h0.9M170.3 86.4h0.9M159.6 60.7h0.9M171.6 67.9h0.9M165.0 79.3h0.9M164.0 71.7h0.9M152.6 98.4h0.9M174.2 75.1h0.9M167.5 64.0h0.9M169.9 86.5h0.9M154.3 70.4h0.9M150.9 83.7h0.9M153.5 83.7h0.9M148.9 88.2h0.9M173.6 68.1h0.9M171.5 69.5h0.9M156.9 78.7h0.9M150.8 84.2h0.9M153.0 86.6h0.9M163.7 84.6h0.9M148.9 79.5h0.9M159.1 61.8h0.9M148.7 80.0h0.9M148.2 87.8h0.9M172.3 64.9h0.9M166.4 68.8h0.9M165.3 83.9h0.9M150.7 91.4h0.9M167.3 67.8h0.9M150.5 90.7h0.9M152.4 93.7h0.9M172.7 65.6h0.9M147.9 67.4h0.9M162.5 83.7h0.9M145.7 67.9h0.9M169.8 80.8h0.9M155.3 80.2h0.9M155.2 90.8h0.9M152.3 81.5h0.9M161.0 77.2h0.9M153.4 89.6h0.9M172.7 71.5h0.9M152.8 88.0h0.9M157.8 90.2h0.9M161.6 91.6h0.9M166.1 86.2h0.9M154.6 65.9h0.9M155.1 98.6h0.9M149.1 76.9h0.9M165.7 82.9h0.9M160.9 90.8h0.9M164.8 86.8h0.9M153.7 72.6h0.9M164.8 89.3h0.9M171.2 69.8h0.9M173.9 73.5h0.9M174.0 67.2h0.9M154.2 64.7h0.9M167.1 88.0h0.9M169.0 76.9h0.9M143.9 71.0h0.9M156.6 64.8h0.9M163.9 84.9h0.9M173.2 77.3h0.9M174.2 72.9h0.9M154.8 80.9h0.9M165.0 73.8h0.9M152.3 84.7h0.9M158.2 99.1h0.9M163.6 90.1h0.9M163.3 84.7h0.9M150.0 83.7h0.9M169.8 66.6h0.9M146.5 76.1h0.9M151.0 86.7h0.9M170.9 77.7h0.9M151.8 64.7h0.9M171.2 67.3h0.9M153.1 86.2h0.9M164.5 82.2h0.9M154.8 72.5h0.9M172.9 73.7h0.9M158.1 64.7h0.9M164.3 93.4h0.9M174.0 61.3h0.9M156.1 99.9h0.9M170.9 79.7h0.9M169.8 70.4h0.9M161.5 88.3h0.9M167.8 80.4h0.9M166.1 82.6h0.9M148.6 68.3h0.9M166.9 74.1h0.9M149.8 64.9h0.9M167.4 76.4h0.9M160.7 91.8h0.9M163.3 65.2h0.9M148.1 66.5h0.9M154.1 68.7h0.9M160.4 67.8h0.9M157.2 62.6h0.9M159.4 82.6h0.9M168.2 83.3h0.9M153.7 88.7h0.9M157.6 90.6h0.9M158.2 93.7h0.9M159.2 87.3h0.9M166.4 78.0h0.9M170.4 82.1h0.9M165.9 72.2h0.9M154.5 85.2h0.9M160.8 80.6h0.9M159.0 93.9h0.9M164.5 61.5h0.9M157.8 89.9h0.9M151.4 66.6h0.9M166.5 87.3h0.9M165.7 87.2h0.9M172.6 70.1h0.9M155.8 94.1h0.9M166.0 72.4h0.9M174.2 64.8h0.9M149.4 88.8h0.9M162.1 64.7h0.9M159.4 71.6h0.9M152.8 93.0h0.9M148.7 76.3h0.9M162.7 95.4h0.9M152.3 85.4h0.9M149.0 67.1h0.9M150.4 68.2h0.9M160.7 72.5h0.9M152.9 87.9h0.9M153.8 72.5h0.9M153.6 82.3h0.9M169.6 85.0h0.9M155.3 80.5h0.9M168.1 64.2h0.9M165.0 74.7h0.9M161.5 79.8h0.9M155.5 62.8h0.9M155.7 95.9h0.9M151.0 92.0h0.9M160.3 70.7h0.9M161.6 62.1h0.9M156.1 76.0h0.9M160.2 79.9h0.9M160.7 80.0h0.9M169.7 83.7h0.9M156.2 64.7h0.9M165.6 80.9h0.9M169.1 64.3h0.9M155.7 75.7h0.9M165.0 67.7h0.9M167.0 83.9h0.9M162.1 80.3h0.9M150.9 83.2h0.9M150.7 63.4h0.9M170.8 80.3h0.9M173.1 69.9h0.9M152.8 91.5h0.9M172.4 72.5h0.9M159.9 71.2h0.9M147.4 64.7h0.9M156.7 73.9h0.9M157.5 69.4h0.9M160.3 70.3h0.9M159.5 98.1h0.9M169.1 67.0h0.9M152.8 63.2h0.9M150.0 91.4h0.9M160.1 70.2h0.9M155.0 70.9h0.9M158.3 89.1h0.9M166.3 85.8h0.9M162.2 63.2h0.9M173.3 64.6h0.9M165.2 76.4h0.9M163.8 75.3h0.9M153.1 81.5h0.9M169.7 62.5h0.9M156.5 77.1h0.9M161.6 70.6h0.9M168.1 67.8h0.9M166.7 69.9h0.9M150.1 86.1h0.9M148.4 69.2h0.9M156.3 77.7h0.9M159.2 81.0h0.9M161.3 82.2h0.9M169.7 63.0h0.9M166.5 81.0h0.9M152.6 71.8h0.9M163.3 72.4h0.9M146.6 64.6h0.9M175.7 71.3h0.9M167.5 62.1h0.9M157.0 71.8h0.9M151.7 76.8h0.9M157.9 77.9h0.9M158.1 96.4h0.9M166.4 69.6h0.9M175.2 71.0h0.9M161.2 76.2h0.9M158.3 99.3h0.9M172.5 64.8h0.9M163.7 87.9h0.9M163.3 82.3h0.9M174.5 64.4h0.9M148.6 92.2h0.9M151.7 75.1h0.9M156.5 64.9h0.9M158.0 72.4h0.9M173.4 80.5h0.9M163.0 84.8h0.9M161.3 99.0h0.9M173.2 74.9h0.9M157.9 69.8h0.9M171.4 59.8h0.9M164.1 72.2h0.9M166.0 82.3h0.9M167.0 78.5h0.9M158.5 89.9h0.9M163.1 81.0h0.9M145.8 65.5h0.9M155.0 101.7h0.9M158.5 81.9h0.9M150.2 63.8h0.9M173.2 78.9h0.9M158.8 99.6h0.9M159.2 85.1h0.9M169.1 82.7h0.9M165.8 87.7h0.9M151.6 82.4h0.9M165.9 86.9h0.9M148.4 77.4h0.9M155.5 84.7h0.9M149.6 67.4h0.9M150.2 88.5h0.9M166.1 83.3h0.9M160.1 62.9h0.9M147.4 74.7h0.9M173.2 67.5h0.9M170.1 70.0h0.9M145.6 62.1h0.9M162.2 69.0h0.9M159.7 84.7h0.9M164.9 61.7h0.9M170.9 65.3h0.9M152.9 86.9h0.9M170.2 78.7h0.9M148.3 71.4h0.9M157.0 70.5h0.9M150.5 89.3h0.9M153.3 71.1h0.9M155.8 69.5h0.9M151.3 66.2h0.9M154.4 66.0h0.9M163.0 64.4h0.9M167.9 69.9h0.9M151.0 68.5h0.9M144.9 67.8h0.9M160.3 94.6h0.9M165.3 91.7h0.9M170.7 71.5h0.9M172.6 73.5h0.9M173.8 80.9h0.9M160.9 75.6h0.9M163.0 81.0h0.9M175.3 64.9h0.9M155.6 68.9h0.9M155.5 60.8h0.9M159.6 85.7h0.9M157.1 67.7h0.9M173.7 72.0h0.9M155.1 93.8h0.9M150.7 94.5h0.9M150.9 66.7h0.9M148.8 84.6h0.9M165.4 74.8h0.9M153.6 87.7h0.9M165.3 70.4h0.9M153.3 62.8h0.9M156.7 92.1h0.9M158.8 80.6h0.9M160.8 68.8h0.9M151.8 97.2h0.9M161.5 75.1h0.9M167.1 63.9h0.9M170.2 85.1h0.9M172.0 61.6h0.9M170.5 78.9h0.9M151.6 91.1h0.9M154.6 91.4h0.9M172.9 72.0h0.9M163.4 64.2h0.9M161.9 82.2h0.9M167.3 79.6h0.9M148.3 88.0h0.9M162.6 92.6h0.9M163.6 76.8h0.9M154.9 90.6h0.9M157.0 89.4h0.9M168.6 76.4h0.9M154.5 70.4h0.9M154.1 92.9h0.9M156.0 98.5h0.9M149.3 81.7h0.9M158.8 78.6h0.9M155.4 94.9h0.9M156.2 84.8h0.9M145.3 72.6h0.9M170.0 62.6h0.9M165.8 86.8h0.9M162.0 67.3h0.9M163.5 90.5h0.9M158.0 67.3h0.9M155.6 86.0h0.9M151.6 73.8h0.9M157.8 73.1h0.9M172.9 80.0h0.9M147.8 79.0h0.9M167.0 63.7h0.9M161.0 74.6h0.9M174.9 64.4h0.9M163.0 76.3h0.9M172.4 71.9h0.9M155.5 98.8h0.9M163.5 68.0h0.9M172.5 66.3h0.9M158.1 98.4h0.9M160.6 87.4h0.9M148.1 85.7h0.9M150.2 76.3h0.9M161.8 78.4h0.9M154.1 94.7h0.9M165.6 66.7h0.9M157.2 73.3h0.9M153.5 80.0h0.9M161.6 62.1h0.9M156.8 65.7h0.9M150.8 74.3h0.9M155.4 92.7h0.9M154.3 63.7h0.9M158.7 75.6h0.9M157.4 88.1h0.9M150.7 89.2h0.9M163.5 72.7h0.9M164.9 71.4h0.9M168.9 76.7h0.9M146.6 82.5h0.9M158.9 87.8h0.9M156.9 70.1h0.9M147.1 80.6h0.9M163.3 86.7h0.9M156.3 61.6h0.9M150.3 62.0h0.9M160.6 70.2h0.9M163.4 71.3h0.9M163.7 69.5h0.9M152.4 76.8h0.9M160.0 73.4h0.9M150.9 75.2h0.9M171.0 61.1h0.9M158.0 67.8h0.9M159.9 86.6h0.9M174.3 68.4h0.9M154.8 76.0h0.9M162.0 73.0h0.9M149.3 86.7h0.9M175.0 77.3h0.9M158.2 67.8h0.9M165.2 90.6h0.9M157.3 68.8h0.9M145.5 81.5h0.9M166.5 75.0h0.9M171.0 81.1h0.9M166.1 74.1h0.9M166.0 75.9h0.9M157.9 70.1h0.9M154.0 84.0h0.9M169.8 64.5h0.9M148.9 70.0h0.9M160.0 62.5h0.9M155.7 74.6h0.9M160.2 96.0h0.9M155.5 60.9h0.9M156.9 95.3h0.9M150.6 86.1h0.9" stroke="#52b452" stroke-width="1" stroke-opacity="0.4" fill="none"/>
<path d="M162.9 83.3h0.9M166.8 75.3h0.9M171.3 75.0h0.9M160.2 69.2h0.9M159.1 76.0h0.9M153.5 75.6h0.9M157.4 80.4h0.9M165.5 65.4h0.9M161.7 65.8h0.9M153.7 84.8h0.9M160.5 66.2h0.9M165.6 62.7h0.9M153.6 78.8h0.9M159.3 74.7h0.9M167.8 62.9h0.9M170.6 66.2h0.9M164.1 87.8h0.9M155.7 88.6h0.9M164.1 75.5h0.9M152.7 80.5h0.9M158.2 83.8h0.9M167.6 71.6h0.9M158.3 71.5h0.9M170.6 71.1h0.9M167.1 75.2h0.9M156.4 76.9h0.9M169.7 77.4h0.9M164.3 67.1h0.9M162.1 77.6h0.9M169.6 70.9h0.9M155.5 64.9h0.9M160.5 64.7h0.9M161.5 75.5h0.9M174.6 69.5h0.9M160.7 82.9h0.9M169.1 79.1h0.9M155.5 65.0h0.9M156.0 91.2h0.9M167.2 71.1h0.9M153.2 77.8h0.9M151.8 69.9h0.9M156.7 68.5h0.9M151.5 75.9h0.9M160.6 75.3h0.9M158.6 70.0h0.9M161.8 76.0h0.9M157.6 75.5h0.9M167.7 77.2h0.9M171.0 75.7h0.9M160.8 72.4h0.9M165.1 89.0h0.9M167.4 79.4h0.9M166.8 77.8h0.9M168.4 65.1h0.9M167.0 83.0h0.9M158.6 70.0h0.9M153.8 73.7h0.9M152.0 80.5h0.9M163.3 70.4h0.9M162.5 88.9h0.9M169.8 68.2h0.9M157.4 78.2h0.9M167.9 76.6h0.9M163.9 78.3h0.9M155.6 81.6h0.9M168.6 67.1h0.9M155.3 89.3h0.9M158.5 71.2h0.9M152.1 76.8h0.9M171.4 67.7h0.9M152.7 79.9h0.9M162.2 71.5h0.9M173.6 72.5h0.9M165.8 79.8h0.9M157.6 66.1h0.9M153.1 76.6h0.9M160.2 70.4h0.9M158.7 76.6h0.9M162.8 85.2h0.9M152.5 75.1h0.9M158.3 88.3h0.9M160.8 83.1h0.9M160.8 82.7h0.9M157.0 80.4h0.9M169.6 67.6h0.9M151.6 67.4h0.9M160.6 90.7h0.9M168.2 71.1h0.9M152.5 75.4h0.9M170.3 78.4h0.9M152.3 79.6h0.9M155.7 64.5h0.9M158.8 79.2h0.9M152.0 70.7h0.9M163.0 77.4h0.9M165.9 82.5h0.9M153.9 70.1h0.9M157.4 68.7h0.9M158.6 69.9h0.9M163.5 89.7h0.9M165.9 75.6h0.9M161.5 74.8h0.9M154.3 83.7h0.9M155.0 77.0h0.9M166.1 81.0h0.9M157.0 74.5h0.9M163.0 72.2h0.9M170.0 73.7h0.9M158.3 83.7h0.9M152.6 73.9h0.9M157.6 92.9h0.9M153.8 82.1h0.9M164.6 85.3h0.9M157.1 87.2h0.9M168.8 79.7h0.9M162.0 77.6h0.9M165.8 75.2h0.9M159.7 80.8h0.9M162.5 72.5h0.9M152.0 79.4h0.9M165.4 66.3h0.9M159.6 64.1h0.9M153.0 68.9h0.9M165.6 73.9h0.9M167.4 82.2h0.9M154.7 88.1h0.9M166.8 71.8h0.9M159.0 73.0h0.9M172.4 66.5h0.9M159.3 82.8h0.9M167.9 75.8h0.9M152.1 77.3h0.9M171.2 64.5h0.9M158.6 67.5h0.9M163.0 71.3h0.9M161.7 88.1h0.9M157.6 80.8h0.9M165.4 72.1h0.9M164.3 61.9h0.9M165.6 73.4h0.9M154.0 78.7h0.9M166.0 82.9h0.9M158.8 90.1h0.9M165.2 80.4h0.9M158.5 80.6h0.9M165.7 86.4h0.9M161.4 64.7h0.9M156.6 65.7h0.9M160.9 84.9h0.9M154.2 73.8h0.9M156.2 80.3h0.9M164.6 71.8h0.9M157.9 83.4h0.9M160.0 79.8h0.9M158.1 87.0h0.9M167.0 79.3h0.9M163.4 69.4h0.9M165.0 71.0h0.9M155.6 72.4h0.9M166.1 66.0h0.9M159.6 74.5h0.9M160.7 78.2h0.9M169.1 73.1h0.9M166.0 78.3h0.9M166.0 67.1h0.9M158.5 75.7h0.9M164.5 64.9h0.9M162.9 79.4h0.9M158.5 68.1h0.9M153.7 80.1h0.9M160.8 75.9h0.9M157.5 84.5h0.9M163.7 83.2h0.9M154.2 68.2h0.9M151.0 66.0h0.9M162.1 84.0h0.9M161.1 83.6h0.9M164.0 71.4h0.9M167.3 66.7h0.9M152.8 87.4h0.9M160.5 88.4h0.9M156.8 62.8h0.9M159.6 90.5h0.9M170.1 68.3h0.9M159.3 83.2h0.9M155.3 86.7h0.9M159.4 67.3h0.9M157.6 88.8h0.9M165.6 61.4h0.9M170.7 73.7h0.9M166.8 76.3h0.9M170.5 73.0h0.9M165.3 75.5h0.9M160.1 69.6h0.9M150.6 71.0h0.9M167.2 67.5h0.9M167.9 75.7h0.9M158.5 80.4h0.9M160.7 81.6h0.9M169.9 75.9h0.9M150.3 78.4h0.9M166.8 71.5h0.9M165.7 89.1h0.9M167.4 66.2h0.9M161.0 80.5h0.9M163.3 78.1h0.9M164.9 68.5h0.9M161.3 76.5h0.9M153.9 82.7h0.9M166.5 69.3h0.9M166.6 73.7h0.9M158.7 88.9h0.9M163.3 77.7h0.9M156.4 82.1h0.9M168.0 66.2h0.9M153.9 76.9h0.9M153.1 81.5h0.9M168.5 62.8h0.9M166.6 64.8h0.9M155.4 89.6h0.9M165.9 69.4h0.9M157.6 68.7h0.9M154.5 77.6h0.9M162.9 82.6h0.9M164.8 86.8h0.9M164.8 81.6h0.9M171.5 68.2h0.9M154.2 69.3h0.9M152.3 74.4h0.9M170.4 74.0h0.9" stroke="#5abd5a" stroke-width="1" stroke-opacity="0.45" fill="none"/>
<path d="M141.0 74.0h0.9M140.0 74.1h0.9M142.3 71.3h0.9M142.0 74.0h0.9M143.9 68.9h0.9M140.9 68.9h0.9M145.4 67.4h0.9M143.6 67.2h0.9M144.4 70.4h0.9M142.1 73.3h0.9M144.4 71.4h0.9M147.3 70.2h0.9M142.7 73.4h0.9M142.3 70.3h0.9M140.9 67.2h0.9M142.9 65.4h0.9M146.9 67.1h0.9M144.2 73.5h0.9M145.5 65.1h0.9M142.9 71.8h0.9M143.8 73.9h0.9M143.3 68.6h0.9M144.6 73.8h0.9M143.3 71.2h0.9M142.1 66.8h0.9M143.9 74.8h0.9M141.0 72.1h0.9M143.0 69.0h0.9M143.9 77.1h0.9M142.2 66.8h0.9" stroke="#d883b6" stroke-width="1" stroke-opacity="0.5" fill="none"/>
<path d="M146.3 62.1h0.9M146.7 61.1h0.9M146.1 57.1h0.9M147.3 61.4h0.9M144.6 61.8h0.9M145.6 57.4h0.9M143.4 61.6h0.9M143.2 57.2h0.9M145.6 59.5h0.9M141.9 61.2h0.9M144.9 55.9h0.9M144.6 63.1h0.9M146.3 60.0h0.9" stroke="#e07a7a" stroke-width="1" stroke-opacity="0.45" fill="none"/>
<path d="M156.0 54.3h0.9M158.7 56.9h0.9M159.7 55.4h0.9M163.5 58.1h0.9M163.2 50.9h0.9M165.4 52.8h0.9M149.9 52.5h0.9M159.0 56.8h0.9M153.8 54.5h0.9M156.6 52.9h0.9M153.7 56.2h0.9M156.7 55.8h0.9M155.7 52.9h0.9M157.8 55.1h0.9M149.0 56.6h0.9M152.4 54.7h0.9M159.6 61.6h0.9M157.7 56.1h0.9M154.6 58.6h0.9M155.2 55.0h0.9M158.7 56.2h0.9M163.5 54.7h0.9M156.5 56.5h0.9M156.9 55.3h0.9M156.6 55.0h0.9M153.2 56.3h0.9M150.8 54.7h0.9M156.6 53.7h0.9M153.1 55.9h0.9M163.5 51.0h0.9M152.3 55.0h0.9M151.7 57.7h0.9M153.9 54.3h0.9M153.7 50.9h0.9M159.8 57.6h0.9M161.1 59.1h0.9M157.9 57.2h0.9M156.8 58.5h0.9M158.0 59.1h0.9M161.8 58.1h0.9M158.2 52.9h0.9M156.2 50.2h0.9M165.8 58.8h0.9M161.1 57.9h0.9M165.9 61.5h0.9M161.1 58.3h0.9M165.4 54.6h0.9M166.5 59.7h0.9M167.3 60.2h0.9M165.0 59.3h0.9M164.8 56.2h0.9M166.3 54.4h0.9M162.8 55.3h0.9" stroke="#8658c0" stroke-width="1" stroke-opacity="0.4" fill="none"/>
<path d="M146.1 40.9h0.9" stroke="#6a7a2a" stroke-width="1" stroke-opacity="0.5" fill="none"/>
<text transform="translate(148.8 44) scale(0.900 1)" font-size="8.6" text-anchor="middle" fill="#222">8</text>
<text transform="translate(157.8 58.7) scale(0.900 1)" font-size="8.6" text-anchor="middle" fill="#222">6</text>
<text transform="translate(144.1 62) scale(0.900 1)" font-size="8.6" text-anchor="middle" fill="#222">7</text>
<text transform="translate(176.3 67) scale(0.900 1)" font-size="8.6" text-anchor="middle" fill="#222">2</text>
<text transform="translate(142.5 77.5) scale(0.900 1)" font-size="8.6" text-anchor="middle" fill="#222">5</text>
<text transform="translate(159.8 81.3) scale(0.900 1)" font-size="8.6" text-anchor="middle" fill="#222">3</text>
<text transform="translate(192 80.5) scale(0.900 1)" font-size="8.6" text-anchor="middle" fill="#222">1</text>
<text transform="translate(146.8 94.8) scale(0.900 1)" font-size="8.6" text-anchor="middle" fill="#222">0</text>
<text transform="translate(171.8 104.2) scale(0.900 1)" font-size="8.6" text-anchor="middle" fill="#222">4</text>
<path d="M256.9 53.0L268.9 50.0L277.9 54.0L280.9 60.0L271.9 63.0L260.9 60.0Z" fill="#c8c8c8" fill-opacity="0.05" filter="url(#soft)"/>
<path d="M270.4 98.5L270.1 100.2L269.1 101.8L267.6 103.1L265.6 104.1L263.4 104.8L260.9 105.0L258.4 104.8L256.1 104.1L254.2 103.1L252.7 101.8L251.7 100.2L251.4 98.5L251.7 96.8L252.7 95.2L254.2 93.9L256.1 92.9L258.4 92.2L260.9 92.0L263.4 92.2L265.6 92.9L267.6 93.9L269.1 95.2L270.1 96.8Z" fill="#f2a462" fill-opacity="0.03" filter="url(#soft)"/>
<path d="M271.4 93.5L271.3 94.3L270.9 95.0L270.2 95.6L269.4 96.1L268.4 96.4L267.4 96.5L266.4 96.4L265.4 96.1L264.6 95.6L263.9 95.0L263.5 94.3L263.4 93.5L263.5 92.7L263.9 92.0L264.6 91.4L265.4 90.9L266.4 90.6L267.4 90.5L268.4 90.6L269.4 90.9L270.2 91.4L270.9 92.0L271.3 92.7Z" fill="#f2a462" fill-opacity="0.03" filter="url(#soft)"/>
<path d="M227.9 78.0L233.9 76.0L237.9 84.0L238.9 95.0L246.9 98.0L251.9 102.0L248.9 107.0L238.9 108.0L231.9 105.0L227.9 96.0Z" fill="#5050ac" fill-opacity="0.04" filter="url(#soft)"/>
<path d="M234.9 94.0L242.9 96.0L250.9 100.0L250.9 106.0L240.9 108.0L233.9 104.0Z" fill="#7070c0" fill-opacity="0.12" filter="url(#soft)"/>
<path d="M233.9 64.0L242.9 61.0L254.9 60.0L263.9 63.0L261.9 77.0L256.9 88.0L248.9 97.0L243.9 103.0L237.9 98.0L234.9 88.0L233.9 76.0Z" fill="#52b452" fill-opacity="0.04" filter="url(#soft)"/>
<path d="M241.9 67.0L256.9 63.0L261.9 68.0L258.9 80.0L252.9 88.0L245.9 86.0L242.9 78.0Z" fill="#5abd5a" fill-opacity="0.12" filter="url(#soft)"/>
<path d="M232.8 70.5L232.7 72.1L232.5 73.5L232.1 74.7L231.7 75.7L231.1 76.3L230.5 76.5L229.9 76.3L229.4 75.7L228.9 74.7L228.5 73.5L228.3 72.1L228.2 70.5L228.3 68.9L228.5 67.5L228.9 66.3L229.4 65.3L229.9 64.7L230.5 64.5L231.1 64.7L231.7 65.3L232.1 66.3L232.5 67.5L232.7 68.9Z" fill="#d883b6" fill-opacity="0.04" filter="url(#soft)"/>
<path d="M235.5 60.5L235.4 61.4L235.2 62.2L234.7 62.9L234.2 63.4L233.6 63.8L232.9 63.9L232.2 63.8L231.6 63.4L231.1 62.9L230.6 62.2L230.4 61.4L230.3 60.5L230.4 59.6L230.6 58.8L231.1 58.1L231.6 57.6L232.2 57.2L232.9 57.1L233.6 57.2L234.2 57.6L234.7 58.1L235.2 58.8L235.4 59.6Z" fill="#e07a7a" fill-opacity="0.08" filter="url(#soft)"/>
<path d="M253.9 55.5L253.6 56.7L252.6 57.9L251.1 58.9L249.2 59.7L246.9 60.1L244.4 60.3L241.9 60.1L239.7 59.7L237.7 58.9L236.2 57.9L235.2 56.7L234.9 55.5L235.2 54.3L236.2 53.1L237.7 52.1L239.7 51.3L241.9 50.9L244.4 50.7L246.9 50.9L249.2 51.3L251.1 52.1L252.6 53.1L253.6 54.3Z" fill="#8658c0" fill-opacity="0.25" filter="url(#soft)"/>
<path d="M256.9 58.0L256.8 58.8L256.4 59.5L255.7 60.1L254.9 60.6L253.9 60.9L252.9 61.0L251.9 60.9L250.9 60.6L250.1 60.1L249.4 59.5L249.0 58.8L248.9 58.0L249.0 57.2L249.4 56.5L250.1 55.9L250.9 55.4L251.9 55.1L252.9 55.0L253.9 55.1L254.9 55.4L255.7 55.9L256.4 56.5L256.8 57.2Z" fill="#8658c0" fill-opacity="0.25" filter="url(#soft)"/>
<path d="M284.5 71.0h0.9M284.6 73.0h0.9M294.4 70.4h0.9M284.4 94.2h0.9M281.8 81.5h0.9M273.0 75.2h0.9M273.2 75.8h0.9M289.3 90.2h0.9M281.9 81.9h0.9M279.4 94.9h0.9M287.8 87.1h0.9M278.2 67.3h0.9M286.5 72.9h0.9M277.5 58.7h0.9M285.6 91.2h0.9M284.6 72.1h0.9M284.2 61.7h0.9M276.3 87.7h0.9M280.5 59.6h0.9M285.9 63.4h0.9M277.1 88.8h0.9M286.3 83.5h0.9M286.5 85.1h0.9M295.2 78.8h0.9M274.3 86.3h0.9M274.6 76.2h0.9M278.1 86.9h0.9M293.2 66.9h0.9M280.0 79.4h0.9M284.9 68.0h0.9M293.1 86.8h0.9M277.3 59.1h0.9M269.4 66.2h0.9M288.0 71.4h0.9M287.8 75.5h0.9M277.4 66.7h0.9M283.1 67.8h0.9M272.6 85.3h0.9M268.2 77.9h0.9M289.5 81.6h0.9M276.0 70.4h0.9M289.8 77.0h0.9M289.4 90.2h0.9M270.6 79.5h0.9M287.8 86.1h0.9M270.0 72.8h0.9M272.3 68.5h0.9M284.0 73.4h0.9M279.9 71.5h0.9M276.6 59.6h0.9M287.7 70.1h0.9M286.7 72.4h0.9M294.8 69.6h0.9M277.0 66.1h0.9M283.6 79.0h0.9M275.6 60.4h0.9M282.9 84.7h0.9M295.4 84.3h0.9M271.3 79.7h0.9M294.2 72.7h0.9M274.9 86.5h0.9M270.9 65.7h0.9M290.0 73.4h0.9M296.9 73.5h0.9M289.7 75.0h0.9M280.1 90.5h0.9M291.0 69.2h0.9M292.8 75.4h0.9M277.3 76.6h0.9M294.6 77.5h0.9M271.6 77.0h0.9M288.5 85.7h0.9M285.4 65.1h0.9M286.1 78.6h0.9M285.6 81.4h0.9M289.8 80.9h0.9M270.1 70.1h0.9M279.5 88.7h0.9M281.3 68.3h0.9M277.4 89.8h0.9M267.8 61.1h0.9M273.8 86.1h0.9M273.4 73.5h0.9M266.0 65.0h0.9M271.4 79.5h0.9M269.0 66.3h0.9M267.8 73.5h0.9M274.5 82.1h0.9M266.0 63.6h0.9M271.5 73.9h0.9M266.1 81.1h0.9M274.5 84.9h0.9M273.3 77.6h0.9M272.9 85.5h0.9M266.8 80.9h0.9M265.8 80.0h0.9M270.9 85.8h0.9M269.5 77.7h0.9M266.9 87.8h0.9M267.3 80.6h0.9M267.8 82.8h0.9M270.9 82.7h0.9M271.1 68.4h0.9M270.8 62.2h0.9" stroke="#cacaca" stroke-width="1" stroke-opacity="0.4" fill="none"/>
<path d="M264.8 58.5h0.9M275.0 61.0h0.9M274.7 56.2h0.9M272.5 51.2h0.9M261.4 59.2h0.9M269.2 60.8h0.9M276.6 58.9h0.9M275.4 54.2h0.9M263.0 57.0h0.9M259.9 51.9h0.9M269.1 55.5h0.9M263.3 56.5h0.9M275.1 53.0h0.9M261.0 56.5h0.9M269.5 52.8h0.9M268.0 58.1h0.9M277.4 55.2h0.9M266.9 52.3h0.9M263.5 57.7h0.9M274.2 59.6h0.9M274.7 60.3h0.9M255.8 55.9h0.9M279.2 59.9h0.9M271.6 56.5h0.9M265.2 54.3h0.9M270.5 56.0h0.9M269.0 57.0h0.9M268.3 58.3h0.9M270.2 59.2h0.9M277.0 56.7h0.9M258.9 52.6h0.9M265.1 53.4h0.9M268.8 50.3h0.9M262.1 58.8h0.9M267.4 60.8h0.9M277.5 53.5h0.9M267.5 54.1h0.9M272.1 56.0h0.9M258.0 53.4h0.9M264.5 54.6h0.9M259.9 54.0h0.9M269.0 52.3h0.9M273.8 57.5h0.9M267.3 55.8h0.9M259.8 54.6h0.9M270.7 60.5h0.9M261.9 54.5h0.9M267.5 60.0h0.9M274.1 56.6h0.9M277.9 57.8h0.9M266.0 53.0h0.9M264.8 57.1h0.9M272.0 59.3h0.9M263.2 54.6h0.9M272.9 61.4h0.9M259.8 52.2h0.9M268.7 60.8h0.9M272.7 53.2h0.9M272.7 52.8h0.9" stroke="#c8c8c8" stroke-width="1" stroke-opacity="0.45" fill="none"/>
<path d="M263.0 63.3h0.9M262.2 63.5h0.9M262.7 60.2h0.9M263.2 62.8h0.9M267.0 61.0h0.9M262.1 61.2h0.9M264.6 66.3h0.9M261.1 60.0h0.9M259.2 62.5h0.9M273.2 57.1h0.9M273.0 53.8h0.9M274.9 56.4h0.9M278.1 58.1h0.9" stroke="#555555" stroke-width="1" stroke-opacity="0.45" fill="none"/>
<path d="M266.6 103.1h0.9M263.9 99.4h0.9M265.1 100.9h0.9M269.5 102.2h0.9M258.2 98.5h0.9M265.1 92.2h0.9M261.5 95.2h0.9M260.3 101.9h0.9M258.7 101.2h0.9M269.8 98.3h0.9M258.2 98.5h0.9M263.6 103.9h0.9M260.5 95.6h0.9M267.3 95.4h0.9M260.7 95.6h0.9M263.1 104.8h0.9M258.9 96.8h0.9M266.0 101.7h0.9M262.3 98.1h0.9M256.4 94.4h0.9M265.5 100.7h0.9M253.0 102.5h0.9M266.8 93.8h0.9M268.8 99.1h0.9M256.0 93.9h0.9M259.1 98.3h0.9M258.2 103.5h0.9M261.5 96.8h0.9M263.7 100.7h0.9M266.0 97.0h0.9M258.3 103.8h0.9M266.0 100.9h0.9M255.2 98.5h0.9M259.8 92.1h0.9M261.6 88.8h0.9M254.1 102.4h0.9M258.0 99.1h0.9M257.9 93.2h0.9M266.1 94.3h0.9M269.7 93.7h0.9M266.5 96.0h0.9M268.0 94.2h0.9M266.8 92.7h0.9M268.0 94.2h0.9M266.4 95.7h0.9" stroke="#f2a462" stroke-width="1" stroke-opacity="0.4" fill="none"/>
<path d="M249.9 102.2h0.9M238.3 93.5h0.9M238.1 85.4h0.9M233.5 95.8h0.9M232.6 94.9h0.9M231.7 93.7h0.9M238.8 106.8h0.9M233.2 85.2h0.9M243.7 106.1h0.9M244.5 107.0h0.9M232.5 92.3h0.9M241.8 100.3h0.9M240.9 106.5h0.9M248.4 103.4h0.9M235.4 93.3h0.9M231.9 94.9h0.9M242.8 94.7h0.9M246.7 104.0h0.9M237.5 108.9h0.9M245.3 105.6h0.9M248.0 106.6h0.9M248.7 100.1h0.9M235.5 83.6h0.9M228.6 85.6h0.9M245.3 102.9h0.9M243.8 104.4h0.9M236.6 100.9h0.9M246.4 104.8h0.9M232.3 90.4h0.9M230.7 97.6h0.9M230.1 94.4h0.9M241.1 91.5h0.9M227.4 92.4h0.9M237.3 83.8h0.9M236.9 103.2h0.9M250.0 107.3h0.9M241.7 103.4h0.9M228.2 85.5h0.9M230.7 84.2h0.9M228.7 98.4h0.9M235.9 105.8h0.9M232.8 91.3h0.9M233.6 100.0h0.9M238.3 97.3h0.9M246.4 104.3h0.9M231.4 79.2h0.9M234.4 92.7h0.9M233.2 103.6h0.9M247.2 105.7h0.9M233.7 88.5h0.9M244.9 100.1h0.9M228.0 95.4h0.9M240.2 98.7h0.9M236.1 89.1h0.9M227.3 94.3h0.9M236.5 83.9h0.9M243.4 105.4h0.9M234.7 87.1h0.9M228.6 78.2h0.9M230.3 99.8h0.9M237.6 98.5h0.9M235.3 104.8h0.9M231.3 92.5h0.9M243.5 99.2h0.9M239.1 104.7h0.9M251.5 104.5h0.9M240.2 99.2h0.9M240.5 107.2h0.9M231.6 99.1h0.9M245.1 106.1h0.9M236.5 104.2h0.9M227.8 81.4h0.9M234.8 89.9h0.9M236.4 107.1h0.9M233.9 101.7h0.9M231.9 84.5h0.9M244.8 97.1h0.9M243.0 97.8h0.9M237.1 95.3h0.9M231.9 108.6h0.9M231.9 103.6h0.9M232.3 80.0h0.9M233.4 97.7h0.9M230.3 95.5h0.9M230.7 91.9h0.9M238.2 101.5h0.9M240.6 99.0h0.9M232.5 97.3h0.9M240.0 100.1h0.9M233.6 83.9h0.9M228.3 92.7h0.9M239.5 100.0h0.9M231.0 101.2h0.9M237.5 95.3h0.9M239.3 105.4h0.9M236.3 103.4h0.9M228.1 78.6h0.9M239.6 103.5h0.9M233.1 79.1h0.9M235.9 106.6h0.9M248.1 107.0h0.9M237.7 83.8h0.9M231.9 83.1h0.9M232.1 88.3h0.9M241.4 100.1h0.9M237.5 85.1h0.9M231.2 79.0h0.9M237.5 85.5h0.9M237.8 88.9h0.9M242.8 105.5h0.9M229.3 80.3h0.9M231.5 85.6h0.9M250.9 100.9h0.9M231.1 85.0h0.9M234.9 99.8h0.9M235.2 100.9h0.9M239.8 100.1h0.9" stroke="#5050ac" stroke-width="1" stroke-opacity="0.4" fill="none"/>
<path d="M238.1 104.9h0.9M243.8 97.1h0.9M245.9 102.7h0.9M240.6 103.4h0.9M241.6 100.4h0.9M245.1 99.7h0.9M241.1 98.2h0.9M233.4 101.7h0.9M242.3 104.8h0.9M235.4 96.2h0.9M238.3 100.5h0.9M246.1 103.6h0.9M240.3 105.2h0.9M237.2 99.1h0.9M248.7 100.8h0.9M242.4 107.4h0.9M249.3 100.9h0.9M245.5 98.6h0.9M241.9 105.2h0.9M249.4 105.2h0.9M248.2 99.2h0.9M238.6 101.1h0.9M242.0 99.7h0.9M239.9 106.1h0.9M241.7 97.0h0.9M248.9 99.7h0.9M244.1 105.6h0.9M236.9 96.5h0.9M239.9 99.1h0.9M242.9 103.9h0.9M237.3 98.4h0.9M239.8 96.1h0.9M241.7 106.1h0.9M241.3 101.8h0.9M250.4 98.4h0.9M239.2 95.2h0.9M250.8 100.6h0.9M237.1 102.5h0.9M245.9 103.6h0.9M242.8 101.8h0.9M246.7 101.8h0.9M240.1 104.9h0.9M246.6 97.8h0.9M245.0 99.1h0.9M237.0 97.7h0.9M237.5 105.1h0.9M239.9 101.4h0.9M234.3 104.5h0.9M242.3 106.2h0.9M240.0 97.0h0.9M236.6 103.2h0.9M246.7 106.0h0.9M242.7 103.4h0.9M240.8 105.8h0.9M235.9 104.3h0.9M245.0 105.1h0.9M249.2 102.6h0.9M239.4 100.6h0.9M240.4 100.1h0.9M235.4 102.2h0.9M242.6 104.1h0.9M246.4 102.3h0.9M249.6 100.9h0.9M237.2 98.7h0.9M239.8 104.9h0.9M238.5 102.4h0.9M242.2 102.1h0.9M235.4 98.3h0.9M234.8 102.9h0.9M246.0 101.2h0.9M239.8 100.7h0.9M240.0 100.7h0.9M242.2 105.6h0.9M234.6 94.2h0.9M243.0 103.4h0.9M246.5 101.1h0.9M245.6 102.5h0.9M240.8 107.3h0.9M244.4 98.0h0.9M238.0 105.1h0.9M244.5 97.2h0.9M235.0 100.7h0.9M246.3 97.5h0.9M239.5 101.6h0.9M245.8 101.9h0.9M251.7 103.1h0.9M246.7 102.7h0.9M246.9 104.8h0.9M236.0 100.9h0.9M241.6 100.3h0.9M238.3 98.3h0.9M246.2 98.7h0.9M238.7 102.3h0.9M236.0 101.1h0.9M235.7 97.3h0.9M241.3 96.2h0.9M246.5 106.1h0.9M243.7 98.9h0.9M236.0 105.0h0.9M242.5 103.4h0.9M247.7 102.4h0.9" stroke="#7070c0" stroke-width="1" stroke-opacity="0.45" fill="none"/>
<path d="M247.8 94.1h0.9M244.6 101.2h0.9M261.6 66.3h0.9M256.4 65.9h0.9M244.7 80.4h0.9M252.8 61.8h0.9M246.8 95.9h0.9M251.1 74.0h0.9M233.8 76.6h0.9M257.5 58.8h0.9M241.3 73.4h0.9M243.5 61.3h0.9M252.7 65.0h0.9M235.7 68.1h0.9M249.6 71.0h0.9M246.4 97.6h0.9M261.4 63.6h0.9M255.0 78.6h0.9M247.2 63.1h0.9M240.3 73.7h0.9M234.6 76.8h0.9M254.6 89.3h0.9M233.8 80.0h0.9M236.6 86.2h0.9M256.5 66.6h0.9M249.5 69.5h0.9M244.0 95.5h0.9M242.5 61.1h0.9M235.3 92.0h0.9M248.1 63.4h0.9M256.7 76.6h0.9M245.4 80.6h0.9M241.4 88.4h0.9M247.5 79.9h0.9M238.4 75.0h0.9M242.1 97.7h0.9M246.9 93.7h0.9M250.4 89.5h0.9M244.5 76.8h0.9M245.0 66.8h0.9M245.1 74.7h0.9M245.2 65.7h0.9M259.4 78.5h0.9M239.7 95.3h0.9M244.1 67.7h0.9M236.3 73.2h0.9M260.8 62.6h0.9M246.2 93.9h0.9M247.4 75.5h0.9M240.5 87.9h0.9M262.6 67.1h0.9M256.8 62.9h0.9M254.8 62.6h0.9M247.1 82.5h0.9M254.6 85.5h0.9M248.7 86.6h0.9M246.0 64.3h0.9M260.3 61.4h0.9M243.6 99.1h0.9M259.6 68.4h0.9M258.5 62.5h0.9M256.9 65.6h0.9M253.0 61.9h0.9M247.6 65.2h0.9M234.7 63.8h0.9M262.0 67.3h0.9M242.1 81.2h0.9M243.7 86.7h0.9M256.3 71.9h0.9M247.0 98.2h0.9M246.1 64.9h0.9M250.9 89.0h0.9M239.9 93.4h0.9M251.6 66.9h0.9M255.8 67.4h0.9M241.2 86.3h0.9M235.4 89.2h0.9M236.1 66.8h0.9M247.6 60.5h0.9M253.3 67.1h0.9M236.8 87.9h0.9M260.0 65.9h0.9M249.1 83.9h0.9M246.4 98.8h0.9M252.3 83.0h0.9M254.3 79.0h0.9M246.0 80.0h0.9M244.7 65.4h0.9M237.4 85.3h0.9M246.6 96.5h0.9M261.1 73.8h0.9M261.0 62.4h0.9M251.3 72.2h0.9M243.9 82.9h0.9M255.7 75.2h0.9M245.8 70.2h0.9M262.2 68.9h0.9M240.3 92.4h0.9M248.5 80.3h0.9M254.2 81.2h0.9M249.6 97.9h0.9M249.7 80.0h0.9M245.5 95.9h0.9M241.3 76.3h0.9M253.2 84.1h0.9M255.3 65.9h0.9M257.6 64.4h0.9M252.6 86.9h0.9M253.4 66.8h0.9M233.4 68.7h0.9M247.3 97.6h0.9M237.5 80.5h0.9M256.4 73.8h0.9M236.7 88.4h0.9M251.8 70.0h0.9M235.0 89.2h0.9M245.4 76.6h0.9M241.3 100.3h0.9M239.0 81.5h0.9M238.8 89.9h0.9M235.3 75.0h0.9M255.3 70.4h0.9M241.3 81.0h0.9M247.1 83.0h0.9M240.6 79.7h0.9M252.0 91.1h0.9M257.8 84.4h0.9M261.0 72.4h0.9M240.1 71.8h0.9M261.0 61.6h0.9M248.1 65.2h0.9M248.8 82.6h0.9M249.1 67.2h0.9M235.2 81.7h0.9M249.9 73.3h0.9M262.9 70.6h0.9M241.3 81.9h0.9M237.8 64.9h0.9M244.5 72.1h0.9M265.0 69.4h0.9M254.6 69.6h0.9M248.6 81.8h0.9M264.2 61.8h0.9M244.0 86.4h0.9M247.5 76.2h0.9M238.5 90.1h0.9M261.7 69.3h0.9M263.5 67.9h0.9M241.5 71.4h0.9M257.0 79.6h0.9M242.0 60.1h0.9M235.6 70.2h0.9M253.9 74.8h0.9M244.5 87.0h0.9M243.5 76.7h0.9M256.7 64.5h0.9M245.9 75.3h0.9M251.2 79.8h0.9M237.6 87.7h0.9M252.5 90.5h0.9M254.4 78.9h0.9M233.3 85.9h0.9M242.2 67.6h0.9M240.4 70.9h0.9M252.6 68.4h0.9M238.5 65.4h0.9M257.5 67.2h0.9M243.9 63.1h0.9M250.3 66.5h0.9M248.1 77.4h0.9M241.2 76.0h0.9M239.4 72.7h0.9M249.1 71.6h0.9M262.3 71.3h0.9M249.2 93.4h0.9M246.1 72.3h0.9M246.0 67.9h0.9M244.8 67.8h0.9M254.2 63.7h0.9M247.7 87.4h0.9M251.5 80.1h0.9M238.5 86.9h0.9M250.0 65.0h0.9M251.1 62.1h0.9M241.9 74.9h0.9M245.3 64.3h0.9M233.8 73.6h0.9M253.3 85.3h0.9M249.0 88.6h0.9M259.9 76.6h0.9M237.4 77.2h0.9M259.1 82.6h0.9M248.5 66.2h0.9M239.0 77.5h0.9M252.6 67.7h0.9M253.7 61.6h0.9M238.1 91.9h0.9M237.9 77.3h0.9M243.4 99.3h0.9M233.5 68.7h0.9M234.9 86.1h0.9M257.9 73.0h0.9M243.6 78.6h0.9M243.1 88.6h0.9M253.1 63.3h0.9M237.4 70.9h0.9M235.8 71.6h0.9M254.6 88.4h0.9M252.0 87.8h0.9M254.3 62.1h0.9M248.3 82.9h0.9M252.6 85.6h0.9M235.6 73.4h0.9M243.9 65.3h0.9M246.2 95.8h0.9M237.7 90.4h0.9M239.4 78.8h0.9M254.5 73.2h0.9M246.6 98.5h0.9M243.7 96.0h0.9M247.2 81.5h0.9M240.4 78.9h0.9M253.1 73.8h0.9M255.7 72.4h0.9M248.4 62.6h0.9M251.7 68.3h0.9M239.8 74.2h0.9M237.8 89.3h0.9M243.9 67.5h0.9M255.6 79.4h0.9M258.4 80.7h0.9M250.0 76.6h0.9M243.6 89.1h0.9M237.8 90.2h0.9M245.8 61.8h0.9M241.0 82.3h0.9M238.1 74.3h0.9M238.1 90.7h0.9M241.2 63.7h0.9M256.9 70.4h0.9M244.6 66.4h0.9M244.8 68.7h0.9M236.7 88.0h0.9M238.3 77.6h0.9M254.9 67.9h0.9M254.4 74.4h0.9M242.7 95.7h0.9M236.9 84.1h0.9M261.0 63.3h0.9M247.2 79.7h0.9M235.9 78.4h0.9M254.2 65.8h0.9M249.4 75.4h0.9M235.2 70.8h0.9M246.2 80.0h0.9M243.9 69.3h0.9M236.0 92.9h0.9M263.1 64.3h0.9M252.0 77.4h0.9M246.2 90.9h0.9M236.9 84.3h0.9M246.9 93.8h0.9M255.0 88.1h0.9M259.1 79.4h0.9M243.8 73.6h0.9M250.7 61.6h0.9M238.7 78.5h0.9M239.6 86.5h0.9M240.3 94.7h0.9M249.8 84.0h0.9M256.6 77.7h0.9M242.1 84.1h0.9M245.4 82.4h0.9M239.2 94.4h0.9" stroke="#52b452" stroke-width="1" stroke-opacity="0.4" fill="none"/>
<path d="M251.9 65.2h0.9M259.1 64.2h0.9M257.9 68.3h0.9M247.4 79.1h0.9M261.3 68.5h0.9M253.7 71.9h0.9M260.8 70.5h0.9M256.5 70.2h0.9M257.9 75.7h0.9M250.1 68.2h0.9M252.8 82.7h0.9M257.5 71.8h0.9M252.3 70.1h0.9M251.2 71.2h0.9M250.8 86.2h0.9M260.0 69.9h0.9M247.4 75.9h0.9M245.3 75.6h0.9M253.9 88.0h0.9M256.5 70.8h0.9M257.7 71.6h0.9M248.9 83.7h0.9M252.5 78.8h0.9M253.7 70.5h0.9M254.4 75.0h0.9M249.6 82.4h0.9M243.8 78.1h0.9M254.6 65.1h0.9M249.0 72.3h0.9M245.6 77.0h0.9M253.9 75.8h0.9M254.4 76.6h0.9M251.4 72.1h0.9M250.0 69.2h0.9M256.6 78.5h0.9M251.7 84.0h0.9M259.4 78.7h0.9M254.4 81.4h0.9M254.4 80.1h0.9M255.9 64.9h0.9M243.2 73.3h0.9M245.8 68.8h0.9M251.7 67.6h0.9M246.6 68.7h0.9M258.6 66.8h0.9M258.8 73.7h0.9M243.8 68.7h0.9M247.4 65.0h0.9M243.6 70.3h0.9M255.2 83.3h0.9M253.7 87.4h0.9M251.4 89.4h0.9M251.2 70.9h0.9M250.4 73.4h0.9M250.7 83.8h0.9M259.3 71.7h0.9M261.2 67.8h0.9M254.4 75.0h0.9M255.9 79.6h0.9M249.4 77.1h0.9M258.1 61.7h0.9M249.5 79.7h0.9M256.2 78.1h0.9M248.8 78.9h0.9M251.7 84.4h0.9M259.2 67.9h0.9M259.8 75.0h0.9M249.8 70.1h0.9M249.1 71.3h0.9M252.9 73.6h0.9M248.4 71.6h0.9M258.1 75.4h0.9M246.1 70.7h0.9M252.3 78.2h0.9M243.1 70.9h0.9M259.4 79.6h0.9M249.6 84.1h0.9M256.0 63.3h0.9M252.9 63.8h0.9M252.0 71.4h0.9M258.5 66.3h0.9M260.1 70.8h0.9M252.6 84.8h0.9M244.4 80.1h0.9M250.3 71.6h0.9M259.9 76.9h0.9M251.4 78.4h0.9M246.4 77.2h0.9M253.1 72.4h0.9M256.5 80.8h0.9M254.9 73.7h0.9M250.4 88.3h0.9M254.3 76.2h0.9M249.4 78.3h0.9M245.9 81.4h0.9M244.6 69.6h0.9M249.0 75.5h0.9M250.8 80.7h0.9M255.8 67.1h0.9M248.1 83.7h0.9M252.0 80.8h0.9M251.1 85.5h0.9M255.7 69.9h0.9M259.8 65.0h0.9M254.9 79.5h0.9M258.1 72.4h0.9M257.5 80.4h0.9M247.6 68.0h0.9M260.9 72.3h0.9M248.6 68.3h0.9M253.1 67.3h0.9M254.7 67.5h0.9M250.5 77.3h0.9M245.2 80.2h0.9M247.9 76.4h0.9M243.7 70.6h0.9M250.3 72.2h0.9M254.3 70.8h0.9M254.6 64.5h0.9M243.0 66.9h0.9M248.1 75.1h0.9M254.4 80.5h0.9M255.5 79.0h0.9M259.3 77.6h0.9M244.2 75.2h0.9M250.0 64.7h0.9M256.0 66.4h0.9M247.6 82.3h0.9M258.2 68.1h0.9M254.2 72.7h0.9M242.6 69.6h0.9M249.9 75.3h0.9M249.0 69.5h0.9M242.9 78.4h0.9M261.0 68.3h0.9M249.3 67.8h0.9M256.3 77.6h0.9M255.9 73.9h0.9M254.1 72.8h0.9M250.3 78.3h0.9M251.7 65.5h0.9M259.3 65.9h0.9M254.5 67.9h0.9M252.2 85.3h0.9M246.1 84.1h0.9M248.6 81.3h0.9M245.1 67.2h0.9M254.1 84.3h0.9M257.8 78.2h0.9M259.9 67.7h0.9M254.3 68.7h0.9M252.8 77.3h0.9M257.0 83.3h0.9M254.9 81.9h0.9M250.5 78.9h0.9M254.6 75.9h0.9M257.0 79.1h0.9M247.7 81.4h0.9M243.4 64.1h0.9M258.4 63.5h0.9M252.4 81.7h0.9M246.5 82.0h0.9M253.0 81.0h0.9M252.6 87.7h0.9M253.3 67.1h0.9M245.7 67.8h0.9M258.4 68.7h0.9M254.4 83.6h0.9M250.1 78.4h0.9M259.8 75.4h0.9M244.4 72.9h0.9M248.8 77.7h0.9M257.8 76.8h0.9M247.7 75.0h0.9M250.3 69.4h0.9" stroke="#5abd5a" stroke-width="1" stroke-opacity="0.45" fill="none"/>
<path d="M228.0 76.3h0.9M231.0 73.8h0.9M228.9 70.1h0.9M233.7 68.7h0.9M229.1 76.5h0.9M229.2 69.8h0.9M232.8 72.6h0.9M228.6 68.8h0.9M230.4 75.8h0.9M230.5 65.7h0.9M229.7 71.8h0.9M228.5 70.2h0.9" stroke="#d883b6" stroke-width="1" stroke-opacity="0.4" fill="none"/>
<path d="M236.0 59.8h0.9M233.8 61.2h0.9M232.8 59.1h0.9M233.4 59.9h0.9M229.3 62.3h0.9M234.4 56.9h0.9M234.0 60.7h0.9M234.0 62.0h0.9M235.3 65.5h0.9M236.5 61.5h0.9M234.5 59.3h0.9M234.9 62.8h0.9M231.5 60.8h0.9" stroke="#e07a7a" stroke-width="1" stroke-opacity="0.45" fill="none"/>
<path d="M249.2 51.6h0.9M247.5 53.2h0.9M240.6 53.0h0.9M247.5 60.3h0.9M236.6 56.6h0.9M245.8 50.3h0.9M247.1 57.7h0.9M250.8 51.6h0.9M240.9 55.5h0.9M235.9 53.7h0.9M251.2 57.8h0.9M243.7 53.5h0.9M244.7 55.5h0.9M248.7 54.0h0.9M240.6 57.9h0.9M240.0 59.8h0.9M249.7 55.9h0.9M244.5 60.1h0.9M241.3 55.2h0.9M244.7 55.7h0.9M237.7 52.9h0.9M244.8 54.0h0.9M244.0 57.1h0.9M241.6 53.8h0.9M241.1 51.2h0.9M239.7 56.9h0.9M249.2 56.7h0.9M251.2 54.5h0.9M240.8 57.5h0.9M244.8 54.8h0.9M251.1 58.3h0.9M239.8 51.8h0.9M251.1 55.1h0.9M245.5 58.1h0.9M239.5 59.8h0.9M249.5 55.6h0.9M241.5 62.3h0.9M248.6 58.9h0.9M243.9 51.7h0.9M246.9 55.3h0.9M251.7 58.9h0.9M241.3 50.6h0.9M238.9 59.7h0.9M245.6 60.0h0.9M251.0 54.6h0.9M244.9 57.8h0.9M247.5 61.3h0.9M242.6 51.9h0.9M241.9 53.5h0.9M237.6 57.6h0.9M239.2 54.2h0.9M248.6 55.9h0.9M237.0 56.2h0.9M243.7 48.2h0.9M250.6 58.8h0.9M241.9 53.7h0.9M243.6 54.3h0.9M239.3 55.9h0.9M241.1 57.7h0.9M248.5 51.7h0.9M249.7 60.4h0.9M247.7 56.2h0.9M247.5 50.4h0.9M248.4 60.2h0.9M250.1 50.8h0.9M249.1 56.5h0.9M240.4 50.6h0.9M247.3 57.7h0.9M247.9 58.0h0.9M238.2 52.9h0.9M252.3 59.5h0.9M241.5 48.5h0.9M240.1 54.7h0.9M250.6 53.1h0.9M242.3 61.1h0.9M243.4 52.2h0.9M247.3 57.6h0.9M236.9 55.6h0.9M243.8 58.7h0.9M242.4 57.1h0.9M235.0 57.7h0.9M246.2 55.8h0.9M251.0 56.1h0.9M245.2 54.6h0.9M246.7 51.6h0.9M238.6 55.4h0.9M234.3 57.9h0.9M249.4 56.2h0.9M251.4 60.3h0.9M240.5 55.5h0.9M244.3 51.4h0.9M250.0 56.1h0.9M241.3 54.7h0.9M243.1 52.3h0.9M247.3 54.9h0.9M252.0 52.7h0.9M251.6 57.0h0.9M239.8 57.9h0.9M243.9 54.3h0.9M245.3 57.0h0.9M242.5 54.0h0.9M241.2 59.2h0.9M248.6 53.3h0.9M243.9 52.1h0.9M246.6 59.5h0.9M244.8 56.5h0.9M250.3 57.6h0.9M252.9 56.4h0.9M245.8 59.1h0.9M251.0 58.5h0.9M240.9 59.0h0.9M234.8 55.0h0.9M238.5 57.5h0.9M252.1 53.3h0.9M239.5 54.4h0.9M248.0 55.8h0.9M243.6 61.4h0.9M249.8 54.7h0.9M242.8 54.9h0.9M251.1 52.2h0.9M242.9 60.0h0.9M242.3 59.8h0.9M246.0 59.3h0.9M241.6 52.4h0.9M243.0 56.1h0.9M247.4 55.5h0.9M241.8 55.3h0.9M241.6 54.0h0.9M250.9 56.0h0.9M235.5 54.4h0.9M249.9 54.2h0.9M246.3 52.2h0.9M243.7 54.4h0.9M249.3 52.6h0.9M238.1 53.1h0.9M236.6 56.5h0.9M239.3 53.2h0.9M238.2 54.0h0.9M238.8 58.0h0.9M244.7 52.1h0.9M247.8 51.3h0.9M255.0 61.0h0.9M253.6 56.3h0.9M253.3 59.1h0.9M253.4 57.9h0.9M249.8 56.4h0.9M255.2 59.1h0.9M258.3 57.5h0.9M247.9 58.2h0.9M252.9 61.0h0.9M250.5 59.7h0.9M249.3 58.4h0.9M251.1 56.3h0.9M249.8 61.0h0.9M255.1 58.2h0.9M252.0 56.7h0.9M249.7 59.5h0.9M250.4 58.8h0.9M252.6 56.2h0.9M254.2 57.9h0.9M257.4 56.7h0.9M255.1 56.2h0.9M252.3 55.2h0.9M251.5 55.1h0.9M253.4 56.6h0.9M255.3 58.0h0.9M253.4 56.0h0.9M254.5 60.2h0.9M252.7 56.2h0.9M253.2 58.3h0.9M251.1 54.2h0.9M254.7 59.6h0.9M248.5 58.2h0.9M254.9 57.0h0.9M253.5 55.1h0.9M253.7 56.4h0.9M256.1 60.6h0.9M255.2 60.5h0.9" stroke="#8658c0" stroke-width="1" stroke-opacity="0.5" fill="none"/>
<path d="M236.0 41.5h0.9" stroke="#6a7a2a" stroke-width="1" stroke-opacity="0.5" fill="none"/>
<text transform="translate(236.4 44) scale(0.900 1)" font-size="8.6" text-anchor="middle" fill="#222">8</text>
<text transform="translate(245.4 58.7) scale(0.900 1)" font-size="8.6" text-anchor="middle" fill="#222">6</text>
<text transform="translate(231.7 62) scale(0.900 1)" font-size="8.6" text-anchor="middle" fill="#222">7</text>
<text transform="translate(263.9 67) scale(0.900 1)" font-size="8.6" text-anchor="middle" fill="#222">2</text>
<text transform="translate(230.1 77.5) scale(0.900 1)" font-size="8.6" text-anchor="middle" fill="#222">5</text>
<text transform="translate(247.4 81.3) scale(0.900 1)" font-size="8.6" text-anchor="middle" fill="#222">3</text>
<text transform="translate(279.6 80.5) scale(0.900 1)" font-size="8.6" text-anchor="middle" fill="#222">1</text>
<text transform="translate(234.4 94.8) scale(0.900 1)" font-size="8.6" text-anchor="middle" fill="#222">0</text>
<text transform="translate(259.4 104.2) scale(0.900 1)" font-size="8.6" text-anchor="middle" fill="#222">4</text>
<line x1="43.3" y1="33.4" x2="43.3" y2="114.8" stroke="#231f20" stroke-width="1.2"/>
<line x1="39.9" y1="112.9" x2="43.3" y2="112.9" stroke="#231f20" stroke-width="1.1"/>
<line x1="39.9" y1="88.6" x2="43.3" y2="88.6" stroke="#231f20" stroke-width="1.1"/>
<line x1="39.9" y1="64.3" x2="43.3" y2="64.3" stroke="#231f20" stroke-width="1.1"/>
<line x1="39.9" y1="40" x2="43.3" y2="40" stroke="#231f20" stroke-width="1.1"/>
<line x1="41.3" y1="100.75" x2="43.3" y2="100.75" stroke="#231f20" stroke-width="0.9"/>
<line x1="41.3" y1="76.45" x2="43.3" y2="76.45" stroke="#231f20" stroke-width="0.9"/>
<line x1="41.3" y1="52.15" x2="43.3" y2="52.15" stroke="#231f20" stroke-width="0.9"/>
<line x1="42.8" y1="114.2" x2="126.5" y2="114.2" stroke="#231f20" stroke-width="1"/>
<line x1="46.3" y1="114.2" x2="46.3" y2="116.8" stroke="#231f20" stroke-width="1"/>
<line x1="50.4" y1="114.2" x2="50.4" y2="115.6" stroke="#231f20" stroke-width="0.7"/>
<line x1="54.5" y1="114.2" x2="54.5" y2="115.6" stroke="#231f20" stroke-width="0.7"/>
<line x1="58.6" y1="114.2" x2="58.6" y2="115.6" stroke="#231f20" stroke-width="0.7"/>
<line x1="62.7" y1="114.2" x2="62.7" y2="115.6" stroke="#231f20" stroke-width="0.7"/>
<line x1="66.8" y1="114.2" x2="66.8" y2="116.8" stroke="#231f20" stroke-width="1"/>
<line x1="70.9" y1="114.2" x2="70.9" y2="115.6" stroke="#231f20" stroke-width="0.7"/>
<line x1="75" y1="114.2" x2="75" y2="115.6" stroke="#231f20" stroke-width="0.7"/>
<line x1="79.1" y1="114.2" x2="79.1" y2="115.6" stroke="#231f20" stroke-width="0.7"/>
<line x1="83.2" y1="114.2" x2="83.2" y2="115.6" stroke="#231f20" stroke-width="0.7"/>
<line x1="87.3" y1="114.2" x2="87.3" y2="116.8" stroke="#231f20" stroke-width="1"/>
<line x1="91.4" y1="114.2" x2="91.4" y2="115.6" stroke="#231f20" stroke-width="0.7"/>
<line x1="95.5" y1="114.2" x2="95.5" y2="115.6" stroke="#231f20" stroke-width="0.7"/>
<line x1="99.6" y1="114.2" x2="99.6" y2="115.6" stroke="#231f20" stroke-width="0.7"/>
<line x1="103.7" y1="114.2" x2="103.7" y2="115.6" stroke="#231f20" stroke-width="0.7"/>
<line x1="107.8" y1="114.2" x2="107.8" y2="116.8" stroke="#231f20" stroke-width="1"/>
<line x1="111.9" y1="114.2" x2="111.9" y2="115.6" stroke="#231f20" stroke-width="0.7"/>
<line x1="116" y1="114.2" x2="116" y2="115.6" stroke="#231f20" stroke-width="0.7"/>
<line x1="120.1" y1="114.2" x2="120.1" y2="115.6" stroke="#231f20" stroke-width="0.7"/>
<line x1="124.2" y1="114.2" x2="124.2" y2="115.6" stroke="#231f20" stroke-width="0.7"/>
<text transform="translate(46.3 128.9) scale(0.958 1)" font-size="9.2" text-anchor="middle" fill="#3d3d3d">0</text>
<text transform="translate(66.8 128.9) scale(0.958 1)" font-size="9.2" text-anchor="middle" fill="#3d3d3d">5</text>
<text transform="translate(87.3 128.9) scale(0.938 1)" font-size="9.2" text-anchor="middle" fill="#3d3d3d">10</text>
<text transform="translate(107.8 128.9) scale(0.938 1)" font-size="9.2" text-anchor="middle" fill="#3d3d3d">15</text>
<text transform="translate(83.3 143.6) scale(0.798 1)" font-size="10.4" text-anchor="middle" fill="#3d3d3d">UMAP_1</text>
<line x1="132.6" y1="33.4" x2="132.6" y2="114.8" stroke="#231f20" stroke-width="1.2"/>
<line x1="129.2" y1="112.9" x2="132.6" y2="112.9" stroke="#231f20" stroke-width="1.1"/>
<line x1="129.2" y1="88.6" x2="132.6" y2="88.6" stroke="#231f20" stroke-width="1.1"/>
<line x1="129.2" y1="64.3" x2="132.6" y2="64.3" stroke="#231f20" stroke-width="1.1"/>
<line x1="129.2" y1="40" x2="132.6" y2="40" stroke="#231f20" stroke-width="1.1"/>
<line x1="130.6" y1="100.75" x2="132.6" y2="100.75" stroke="#231f20" stroke-width="0.9"/>
<line x1="130.6" y1="76.45" x2="132.6" y2="76.45" stroke="#231f20" stroke-width="0.9"/>
<line x1="130.6" y1="52.15" x2="132.6" y2="52.15" stroke="#231f20" stroke-width="0.9"/>
<line x1="132.1" y1="114.2" x2="214.4" y2="114.2" stroke="#231f20" stroke-width="1"/>
<line x1="135.6" y1="114.2" x2="135.6" y2="116.8" stroke="#231f20" stroke-width="1"/>
<line x1="139.7" y1="114.2" x2="139.7" y2="115.6" stroke="#231f20" stroke-width="0.7"/>
<line x1="143.8" y1="114.2" x2="143.8" y2="115.6" stroke="#231f20" stroke-width="0.7"/>
<line x1="147.9" y1="114.2" x2="147.9" y2="115.6" stroke="#231f20" stroke-width="0.7"/>
<line x1="152" y1="114.2" x2="152" y2="115.6" stroke="#231f20" stroke-width="0.7"/>
<line x1="156.1" y1="114.2" x2="156.1" y2="116.8" stroke="#231f20" stroke-width="1"/>
<line x1="160.2" y1="114.2" x2="160.2" y2="115.6" stroke="#231f20" stroke-width="0.7"/>
<line x1="164.3" y1="114.2" x2="164.3" y2="115.6" stroke="#231f20" stroke-width="0.7"/>
<line x1="168.4" y1="114.2" x2="168.4" y2="115.6" stroke="#231f20" stroke-width="0.7"/>
<line x1="172.5" y1="114.2" x2="172.5" y2="115.6" stroke="#231f20" stroke-width="0.7"/>
<line x1="176.6" y1="114.2" x2="176.6" y2="116.8" stroke="#231f20" stroke-width="1"/>
<line x1="180.7" y1="114.2" x2="180.7" y2="115.6" stroke="#231f20" stroke-width="0.7"/>
<line x1="184.8" y1="114.2" x2="184.8" y2="115.6" stroke="#231f20" stroke-width="0.7"/>
<line x1="188.9" y1="114.2" x2="188.9" y2="115.6" stroke="#231f20" stroke-width="0.7"/>
<line x1="193" y1="114.2" x2="193" y2="115.6" stroke="#231f20" stroke-width="0.7"/>
<line x1="197.1" y1="114.2" x2="197.1" y2="116.8" stroke="#231f20" stroke-width="1"/>
<line x1="201.2" y1="114.2" x2="201.2" y2="115.6" stroke="#231f20" stroke-width="0.7"/>
<line x1="205.3" y1="114.2" x2="205.3" y2="115.6" stroke="#231f20" stroke-width="0.7"/>
<line x1="209.4" y1="114.2" x2="209.4" y2="115.6" stroke="#231f20" stroke-width="0.7"/>
<line x1="213.5" y1="114.2" x2="213.5" y2="115.6" stroke="#231f20" stroke-width="0.7"/>
<text transform="translate(135.6 128.9) scale(0.958 1)" font-size="9.2" text-anchor="middle" fill="#3d3d3d">0</text>
<text transform="translate(156.1 128.9) scale(0.958 1)" font-size="9.2" text-anchor="middle" fill="#3d3d3d">5</text>
<text transform="translate(176.6 128.9) scale(0.938 1)" font-size="9.2" text-anchor="middle" fill="#3d3d3d">10</text>
<text transform="translate(197.1 128.9) scale(0.938 1)" font-size="9.2" text-anchor="middle" fill="#3d3d3d">15</text>
<text transform="translate(172.6 143.6) scale(0.798 1)" font-size="10.4" text-anchor="middle" fill="#3d3d3d">UMAP_1</text>
<line x1="218.7" y1="114.2" x2="302" y2="114.2" stroke="#231f20" stroke-width="1"/>
<line x1="222.1" y1="114.2" x2="222.1" y2="116.8" stroke="#231f20" stroke-width="1"/>
<line x1="226.2" y1="114.2" x2="226.2" y2="115.6" stroke="#231f20" stroke-width="0.7"/>
<line x1="230.3" y1="114.2" x2="230.3" y2="115.6" stroke="#231f20" stroke-width="0.7"/>
<line x1="234.4" y1="114.2" x2="234.4" y2="115.6" stroke="#231f20" stroke-width="0.7"/>
<line x1="238.5" y1="114.2" x2="238.5" y2="115.6" stroke="#231f20" stroke-width="0.7"/>
<line x1="242.6" y1="114.2" x2="242.6" y2="116.8" stroke="#231f20" stroke-width="1"/>
<line x1="246.7" y1="114.2" x2="246.7" y2="115.6" stroke="#231f20" stroke-width="0.7"/>
<line x1="250.8" y1="114.2" x2="250.8" y2="115.6" stroke="#231f20" stroke-width="0.7"/>
<line x1="254.9" y1="114.2" x2="254.9" y2="115.6" stroke="#231f20" stroke-width="0.7"/>
<line x1="259" y1="114.2" x2="259" y2="115.6" stroke="#231f20" stroke-width="0.7"/>
<line x1="263.1" y1="114.2" x2="263.1" y2="116.8" stroke="#231f20" stroke-width="1"/>
<line x1="267.2" y1="114.2" x2="267.2" y2="115.6" stroke="#231f20" stroke-width="0.7"/>
<line x1="271.3" y1="114.2" x2="271.3" y2="115.6" stroke="#231f20" stroke-width="0.7"/>
<line x1="275.4" y1="114.2" x2="275.4" y2="115.6" stroke="#231f20" stroke-width="0.7"/>
<line x1="279.5" y1="114.2" x2="279.5" y2="115.6" stroke="#231f20" stroke-width="0.7"/>
<line x1="283.6" y1="114.2" x2="283.6" y2="116.8" stroke="#231f20" stroke-width="1"/>
<line x1="287.7" y1="114.2" x2="287.7" y2="115.6" stroke="#231f20" stroke-width="0.7"/>
<line x1="291.8" y1="114.2" x2="291.8" y2="115.6" stroke="#231f20" stroke-width="0.7"/>
<line x1="295.9" y1="114.2" x2="295.9" y2="115.6" stroke="#231f20" stroke-width="0.7"/>
<line x1="300" y1="114.2" x2="300" y2="115.6" stroke="#231f20" stroke-width="0.7"/>
<text transform="translate(222.1 128.9) scale(0.958 1)" font-size="9.2" text-anchor="middle" fill="#3d3d3d">0</text>
<text transform="translate(242.6 128.9) scale(0.958 1)" font-size="9.2" text-anchor="middle" fill="#3d3d3d">5</text>
<text transform="translate(263.1 128.9) scale(0.938 1)" font-size="9.2" text-anchor="middle" fill="#3d3d3d">10</text>
<text transform="translate(283.6 128.9) scale(0.938 1)" font-size="9.2" text-anchor="middle" fill="#3d3d3d">15</text>
<text transform="translate(258.1 143.6) scale(0.798 1)" font-size="10.4" text-anchor="middle" fill="#3d3d3d">UMAP_1</text>
<text transform="translate(37.4 116.2) scale(0.899 1)" font-size="9.6" text-anchor="end" fill="#3d3d3d">0</text>
<text transform="translate(37.4 91.9) scale(0.899 1)" font-size="9.6" text-anchor="end" fill="#3d3d3d">5</text>
<text transform="translate(37.4 67.6) scale(0.862 1)" font-size="9.6" text-anchor="end" fill="#3d3d3d">10</text>
<text transform="translate(37.4 43.3) scale(0.862 1)" font-size="9.6" text-anchor="end" fill="#3d3d3d">15</text>
<text transform="translate(21.72 75.2) rotate(-90) scale(0.790 1)" font-size="10.6" text-anchor="middle" fill="#3d3d3d">UMAP_2</text>
<text transform="translate(83.85 26.8) scale(1.070 1)" font-size="10.4" text-anchor="middle" fill="#3d3d3d">Combined</text>
<text transform="translate(172.9 26.7) scale(1.034 1)" font-size="10.4" text-anchor="middle" fill="#3d3d3d">No GVHD</text>
<text transform="translate(262.3 26.7) scale(1.016 1)" font-size="10.4" text-anchor="middle" fill="#3d3d3d">cGVHD</text>
<circle cx="303.2" cy="42.4" r="2.3" fill="#2a2a78"/>
<text transform="translate(311.9 45) scale(0.951 1)" font-size="7.4" fill="#3d3d3d">C0</text>
<circle cx="303.2" cy="49.52" r="2.3" fill="#cfcfcf"/>
<text transform="translate(311.9 52.12) scale(0.951 1)" font-size="7.4" fill="#3d3d3d">C1</text>
<circle cx="303.2" cy="56.65" r="2.3" fill="#3c3c3c"/>
<text transform="translate(311.9 59.25) scale(0.951 1)" font-size="7.4" fill="#3d3d3d">C2</text>
<circle cx="303.2" cy="63.77" r="2.3" fill="#3f9f3f"/>
<text transform="translate(311.9 66.38) scale(0.951 1)" font-size="7.4" fill="#3d3d3d">C3</text>
<circle cx="303.2" cy="70.9" r="2.3" fill="#e08a3c"/>
<text transform="translate(311.9 73.5) scale(0.951 1)" font-size="7.4" fill="#3d3d3d">C4</text>
<circle cx="303.2" cy="78.03" r="2.3" fill="#b050b0"/>
<text transform="translate(311.9 80.62) scale(0.951 1)" font-size="7.4" fill="#3d3d3d">C5</text>
<circle cx="303.2" cy="85.15" r="2.3" fill="#5a1a78"/>
<text transform="translate(311.9 87.75) scale(0.951 1)" font-size="7.4" fill="#3d3d3d">C6</text>
<circle cx="303.2" cy="92.28" r="2.3" fill="#d01818"/>
<text transform="translate(311.9 94.88) scale(0.951 1)" font-size="7.4" fill="#3d3d3d">C7</text>
<circle cx="303.2" cy="99.4" r="2.3" fill="#6a7a2a"/>
<text transform="translate(311.9 102) scale(0.951 1)" font-size="7.4" fill="#3d3d3d">C8</text>
<text transform="translate(331.6 11.1) scale(0.963 1)" font-size="12.8" fill="#000" font-weight="bold">B</text>
<rect x="342.7" y="39" width="10.46" height="7.61" fill="#fbe8a6" stroke="#a9a9a9" stroke-width="0.7"/>
<rect x="353.16" y="39" width="10.46" height="7.61" fill="#4778bd" stroke="#a9a9a9" stroke-width="0.7"/>
<rect x="363.62" y="39" width="10.46" height="7.61" fill="#9fc0e1" stroke="#a9a9a9" stroke-width="0.7"/>
<rect x="374.08" y="39" width="10.46" height="7.61" fill="#a9c9e7" stroke="#a9a9a9" stroke-width="0.7"/>
<rect x="384.54" y="39" width="10.46" height="7.61" fill="#6e9bd1" stroke="#a9a9a9" stroke-width="0.7"/>
<rect x="395" y="39" width="10.46" height="7.61" fill="#6a98cf" stroke="#a9a9a9" stroke-width="0.7"/>
<rect x="405.46" y="39" width="10.46" height="7.61" fill="#e23b2e" stroke="#a9a9a9" stroke-width="0.7"/>
<rect x="415.92" y="39" width="10.46" height="7.61" fill="#fbe3a0" stroke="#a9a9a9" stroke-width="0.7"/>
<rect x="426.38" y="39" width="10.46" height="7.61" fill="#fcd48a" stroke="#a9a9a9" stroke-width="0.7"/>
<rect x="436.84" y="39" width="10.46" height="7.61" fill="#f5aa6a" stroke="#a9a9a9" stroke-width="0.7"/>
<rect x="342.7" y="46.61" width="10.46" height="7.61" fill="#4a7bbf" stroke="#a9a9a9" stroke-width="0.7"/>
<rect x="353.16" y="46.61" width="10.46" height="7.61" fill="#3f70b8" stroke="#a9a9a9" stroke-width="0.7"/>
<rect x="363.62" y="46.61" width="10.46" height="7.61" fill="#8cb3dc" stroke="#a9a9a9" stroke-width="0.7"/>
<rect x="374.08" y="46.61" width="10.46" height="7.61" fill="#4d7ec1" stroke="#a9a9a9" stroke-width="0.7"/>
<rect x="384.54" y="46.61" width="10.46" height="7.61" fill="#7aa4d5" stroke="#a9a9a9" stroke-width="0.7"/>
<rect x="395" y="46.61" width="10.46" height="7.61" fill="#5c8ac8" stroke="#a9a9a9" stroke-width="0.7"/>
<rect x="405.46" y="46.61" width="10.46" height="7.61" fill="#e2432f" stroke="#a9a9a9" stroke-width="0.7"/>
<rect x="415.92" y="46.61" width="10.46" height="7.61" fill="#6c99cf" stroke="#a9a9a9" stroke-width="0.7"/>
<rect x="426.38" y="46.61" width="10.46" height="7.61" fill="#fce7a2" stroke="#a9a9a9" stroke-width="0.7"/>
<rect x="436.84" y="46.61" width="10.46" height="7.61" fill="#f1935f" stroke="#a9a9a9" stroke-width="0.7"/>
<rect x="342.7" y="54.22" width="10.46" height="7.61" fill="#4a7bbf" stroke="#a9a9a9" stroke-width="0.7"/>
<rect x="353.16" y="54.22" width="10.46" height="7.61" fill="#4778bd" stroke="#a9a9a9" stroke-width="0.7"/>
<rect x="363.62" y="54.22" width="10.46" height="7.61" fill="#7ba5d5" stroke="#a9a9a9" stroke-width="0.7"/>
<rect x="374.08" y="54.22" width="10.46" height="7.61" fill="#6f9cd2" stroke="#a9a9a9" stroke-width="0.7"/>
<rect x="384.54" y="54.22" width="10.46" height="7.61" fill="#4a7bbf" stroke="#a9a9a9" stroke-width="0.7"/>
<rect x="395" y="54.22" width="10.46" height="7.61" fill="#6f9cd2" stroke="#a9a9a9" stroke-width="0.7"/>
<rect x="405.46" y="54.22" width="10.46" height="7.61" fill="#ec7a52" stroke="#a9a9a9" stroke-width="0.7"/>
<rect x="415.92" y="54.22" width="10.46" height="7.61" fill="#a7c4e4" stroke="#a9a9a9" stroke-width="0.7"/>
<rect x="426.38" y="54.22" width="10.46" height="7.61" fill="#d6e5f2" stroke="#a9a9a9" stroke-width="0.7"/>
<rect x="436.84" y="54.22" width="10.46" height="7.61" fill="#fce8a4" stroke="#a9a9a9" stroke-width="0.7"/>
<rect x="342.7" y="61.83" width="10.46" height="7.61" fill="#5586c5" stroke="#a9a9a9" stroke-width="0.7"/>
<rect x="353.16" y="61.83" width="10.46" height="7.61" fill="#4778bd" stroke="#a9a9a9" stroke-width="0.7"/>
<rect x="363.62" y="61.83" width="10.46" height="7.61" fill="#bcd5ec" stroke="#a9a9a9" stroke-width="0.7"/>
<rect x="374.08" y="61.83" width="10.46" height="7.61" fill="#a0c0e1" stroke="#a9a9a9" stroke-width="0.7"/>
<rect x="384.54" y="61.83" width="10.46" height="7.61" fill="#7ba5d5" stroke="#a9a9a9" stroke-width="0.7"/>
<rect x="395" y="61.83" width="10.46" height="7.61" fill="#7ba5d5" stroke="#a9a9a9" stroke-width="0.7"/>
<rect x="405.46" y="61.83" width="10.46" height="7.61" fill="#e23b2e" stroke="#a9a9a9" stroke-width="0.7"/>
<rect x="415.92" y="61.83" width="10.46" height="7.61" fill="#fbe5a2" stroke="#a9a9a9" stroke-width="0.7"/>
<rect x="426.38" y="61.83" width="10.46" height="7.61" fill="#fcd890" stroke="#a9a9a9" stroke-width="0.7"/>
<rect x="436.84" y="61.83" width="10.46" height="7.61" fill="#f6b274" stroke="#a9a9a9" stroke-width="0.7"/>
<rect x="342.7" y="69.44" width="10.46" height="7.61" fill="#5080c3" stroke="#a9a9a9" stroke-width="0.7"/>
<rect x="353.16" y="69.44" width="10.46" height="7.61" fill="#4778bd" stroke="#a9a9a9" stroke-width="0.7"/>
<rect x="363.62" y="69.44" width="10.46" height="7.61" fill="#a0c0e1" stroke="#a9a9a9" stroke-width="0.7"/>
<rect x="374.08" y="69.44" width="10.46" height="7.61" fill="#7ba5d5" stroke="#a9a9a9" stroke-width="0.7"/>
<rect x="384.54" y="69.44" width="10.46" height="7.61" fill="#fbe9a8" stroke="#a9a9a9" stroke-width="0.7"/>
<rect x="395" y="69.44" width="10.46" height="7.61" fill="#7ba5d5" stroke="#a9a9a9" stroke-width="0.7"/>
<rect x="405.46" y="69.44" width="10.46" height="7.61" fill="#e23b2e" stroke="#a9a9a9" stroke-width="0.7"/>
<rect x="415.92" y="69.44" width="10.46" height="7.61" fill="#fbe5a2" stroke="#a9a9a9" stroke-width="0.7"/>
<rect x="426.38" y="69.44" width="10.46" height="7.61" fill="#fcd890" stroke="#a9a9a9" stroke-width="0.7"/>
<rect x="436.84" y="69.44" width="10.46" height="7.61" fill="#f6b274" stroke="#a9a9a9" stroke-width="0.7"/>
<rect x="342.7" y="77.05" width="10.46" height="7.61" fill="#4a7bbf" stroke="#a9a9a9" stroke-width="0.7"/>
<rect x="353.16" y="77.05" width="10.46" height="7.61" fill="#4778bd" stroke="#a9a9a9" stroke-width="0.7"/>
<rect x="363.62" y="77.05" width="10.46" height="7.61" fill="#c6dbee" stroke="#a9a9a9" stroke-width="0.7"/>
<rect x="374.08" y="77.05" width="10.46" height="7.61" fill="#fcd68e" stroke="#a9a9a9" stroke-width="0.7"/>
<rect x="384.54" y="77.05" width="10.46" height="7.61" fill="#fcecb2" stroke="#a9a9a9" stroke-width="0.7"/>
<rect x="395" y="77.05" width="10.46" height="7.61" fill="#dde9f3" stroke="#a9a9a9" stroke-width="0.7"/>
<rect x="405.46" y="77.05" width="10.46" height="7.61" fill="#e23b2e" stroke="#a9a9a9" stroke-width="0.7"/>
<rect x="415.92" y="77.05" width="10.46" height="7.61" fill="#fbe1a0" stroke="#a9a9a9" stroke-width="0.7"/>
<rect x="426.38" y="77.05" width="10.46" height="7.61" fill="#fcd48a" stroke="#a9a9a9" stroke-width="0.7"/>
<rect x="436.84" y="77.05" width="10.46" height="7.61" fill="#f5aa6a" stroke="#a9a9a9" stroke-width="0.7"/>
<rect x="342.7" y="84.66" width="10.46" height="7.61" fill="#4a7bbf" stroke="#a9a9a9" stroke-width="0.7"/>
<rect x="353.16" y="84.66" width="10.46" height="7.61" fill="#fcecb0" stroke="#a9a9a9" stroke-width="0.7"/>
<rect x="363.62" y="84.66" width="10.46" height="7.61" fill="#b0cce8" stroke="#a9a9a9" stroke-width="0.7"/>
<rect x="374.08" y="84.66" width="10.46" height="7.61" fill="#eef0d4" stroke="#a9a9a9" stroke-width="0.7"/>
<rect x="384.54" y="84.66" width="10.46" height="7.61" fill="#4a7bbf" stroke="#a9a9a9" stroke-width="0.7"/>
<rect x="395" y="84.66" width="10.46" height="7.61" fill="#5a89c7" stroke="#a9a9a9" stroke-width="0.7"/>
<rect x="405.46" y="84.66" width="10.46" height="7.61" fill="#e23b2e" stroke="#a9a9a9" stroke-width="0.7"/>
<rect x="415.92" y="84.66" width="10.46" height="7.61" fill="#fbe3a0" stroke="#a9a9a9" stroke-width="0.7"/>
<rect x="426.38" y="84.66" width="10.46" height="7.61" fill="#fcd48a" stroke="#a9a9a9" stroke-width="0.7"/>
<rect x="436.84" y="84.66" width="10.46" height="7.61" fill="#f5aa6a" stroke="#a9a9a9" stroke-width="0.7"/>
<rect x="342.7" y="92.27" width="10.46" height="7.61" fill="#4a7bbf" stroke="#a9a9a9" stroke-width="0.7"/>
<rect x="353.16" y="92.27" width="10.46" height="7.61" fill="#e6eef4" stroke="#a9a9a9" stroke-width="0.7"/>
<rect x="363.62" y="92.27" width="10.46" height="7.61" fill="#fcd68e" stroke="#a9a9a9" stroke-width="0.7"/>
<rect x="374.08" y="92.27" width="10.46" height="7.61" fill="#fcd68e" stroke="#a9a9a9" stroke-width="0.7"/>
<rect x="384.54" y="92.27" width="10.46" height="7.61" fill="#8cb3dc" stroke="#a9a9a9" stroke-width="0.7"/>
<rect x="395" y="92.27" width="10.46" height="7.61" fill="#dde9f3" stroke="#a9a9a9" stroke-width="0.7"/>
<rect x="405.46" y="92.27" width="10.46" height="7.61" fill="#e23b2e" stroke="#a9a9a9" stroke-width="0.7"/>
<rect x="415.92" y="92.27" width="10.46" height="7.61" fill="#fcd48a" stroke="#a9a9a9" stroke-width="0.7"/>
<rect x="426.38" y="92.27" width="10.46" height="7.61" fill="#f9c27c" stroke="#a9a9a9" stroke-width="0.7"/>
<rect x="436.84" y="92.27" width="10.46" height="7.61" fill="#f3a264" stroke="#a9a9a9" stroke-width="0.7"/>
<rect x="342.7" y="99.88" width="10.46" height="7.61" fill="#fce6a0" stroke="#a9a9a9" stroke-width="0.7"/>
<rect x="353.16" y="99.88" width="10.46" height="7.61" fill="#fcd68e" stroke="#a9a9a9" stroke-width="0.7"/>
<rect x="363.62" y="99.88" width="10.46" height="7.61" fill="#bfd6ec" stroke="#a9a9a9" stroke-width="0.7"/>
<rect x="374.08" y="99.88" width="10.46" height="7.61" fill="#c9dcef" stroke="#a9a9a9" stroke-width="0.7"/>
<rect x="384.54" y="99.88" width="10.46" height="7.61" fill="#7ba5d5" stroke="#a9a9a9" stroke-width="0.7"/>
<rect x="395" y="99.88" width="10.46" height="7.61" fill="#c9dcef" stroke="#a9a9a9" stroke-width="0.7"/>
<rect x="405.46" y="99.88" width="10.46" height="7.61" fill="#ed6d4a" stroke="#a9a9a9" stroke-width="0.7"/>
<rect x="415.92" y="99.88" width="10.46" height="7.61" fill="#fce7a2" stroke="#a9a9a9" stroke-width="0.7"/>
<rect x="426.38" y="99.88" width="10.46" height="7.61" fill="#fce7a2" stroke="#a9a9a9" stroke-width="0.7"/>
<rect x="436.84" y="99.88" width="10.46" height="7.61" fill="#fcd090" stroke="#a9a9a9" stroke-width="0.7"/>
<defs><linearGradient id="cb" x1="0" y1="0" x2="0" y2="1"><stop offset="0" stop-color="#c0302a"/><stop offset="0.2" stop-color="#f08050"/><stop offset="0.4" stop-color="#fde8a0"/><stop offset="0.6" stop-color="#f0f4f8"/><stop offset="0.8" stop-color="#8ab0d8"/><stop offset="1" stop-color="#3a6aa8"/></linearGradient></defs>
<rect x="332.9" y="39.8" width="2.4" height="34.6" fill="url(#cb)"/>
<text transform="translate(336.6 42.6) scale(0.860 1)" font-size="3.6" fill="#888">800</text>
<text transform="translate(336.6 48.8) scale(0.860 1)" font-size="3.6" fill="#888">700</text>
<text transform="translate(336.6 55) scale(0.860 1)" font-size="3.6" fill="#888">600</text>
<text transform="translate(336.6 61.2) scale(0.860 1)" font-size="3.6" fill="#888">500</text>
<text transform="translate(336.6 67.4) scale(0.860 1)" font-size="3.6" fill="#888">400</text>
<text transform="translate(336.6 73.6) scale(0.860 1)" font-size="3.6" fill="#888">300</text>
<line x1="347.93" y1="35" x2="358.39" y2="35" stroke="#222" stroke-width="0.9"/>
<line x1="347.93" y1="35" x2="347.93" y2="39" stroke="#222" stroke-width="0.9"/>
<line x1="358.39" y1="35" x2="358.39" y2="39" stroke="#222" stroke-width="0.9"/>
<line x1="368.85" y1="37.6" x2="379.31" y2="37.6" stroke="#222" stroke-width="0.9"/>
<line x1="368.85" y1="37.6" x2="368.85" y2="39" stroke="#222" stroke-width="0.9"/>
<line x1="379.31" y1="37.6" x2="379.31" y2="39" stroke="#222" stroke-width="0.9"/>
<line x1="389.77" y1="37.6" x2="400.23" y2="37.6" stroke="#222" stroke-width="0.9"/>
<line x1="389.77" y1="37.6" x2="389.77" y2="39" stroke="#222" stroke-width="0.9"/>
<line x1="400.23" y1="37.6" x2="400.23" y2="39" stroke="#222" stroke-width="0.9"/>
<line x1="374.08" y1="34.6" x2="395" y2="34.6" stroke="#222" stroke-width="0.9"/>
<line x1="374.08" y1="34.6" x2="374.08" y2="37.6" stroke="#222" stroke-width="0.9"/>
<line x1="395" y1="34.6" x2="395" y2="37.6" stroke="#222" stroke-width="0.9"/>
<line x1="353.16" y1="33.5" x2="384.54" y2="33.5" stroke="#222" stroke-width="0.9"/>
<line x1="353.16" y1="33.5" x2="353.16" y2="35" stroke="#222" stroke-width="0.9"/>
<line x1="384.54" y1="33.5" x2="384.54" y2="34.6" stroke="#222" stroke-width="0.9"/>
<line x1="431.61" y1="37.2" x2="442.07" y2="37.2" stroke="#222" stroke-width="0.9"/>
<line x1="431.61" y1="37.2" x2="431.61" y2="39" stroke="#222" stroke-width="0.9"/>
<line x1="442.07" y1="37.2" x2="442.07" y2="39" stroke="#222" stroke-width="0.9"/>
<line x1="421.15" y1="35.1" x2="436.84" y2="35.1" stroke="#222" stroke-width="0.9"/>
<line x1="421.15" y1="35.1" x2="421.15" y2="39" stroke="#222" stroke-width="0.9"/>
<line x1="436.84" y1="35.1" x2="436.84" y2="37.2" stroke="#222" stroke-width="0.9"/>
<line x1="410.69" y1="31.9" x2="429" y2="31.9" stroke="#222" stroke-width="0.9"/>
<line x1="410.69" y1="31.9" x2="410.69" y2="39" stroke="#222" stroke-width="0.9"/>
<line x1="429" y1="31.9" x2="429" y2="35.1" stroke="#222" stroke-width="0.9"/>
<line x1="368.85" y1="25.9" x2="419.84" y2="25.9" stroke="#222" stroke-width="0.9"/>
<line x1="368.85" y1="25.9" x2="368.85" y2="33.5" stroke="#222" stroke-width="0.9"/>
<line x1="419.84" y1="25.9" x2="419.84" y2="31.9" stroke="#222" stroke-width="0.9"/>
<text transform="translate(448.3 45.5) scale(0.920 1)" font-size="7.6" fill="#3d3d3d">C0-CCR2<tspan dy="-2.6" font-size="5">+</tspan><tspan dy="2.6">Tm</tspan></text>
<text transform="translate(448.3 53.03) scale(0.920 1)" font-size="7.6" fill="#3d3d3d">C1-Tnaive</text>
<text transform="translate(448.3 60.56) scale(0.920 1)" font-size="7.6" fill="#3d3d3d">C2-PSGL1<tspan dy="-2.6" font-size="5">lo</tspan><tspan dy="2.6">Tnaive</tspan></text>
<text transform="translate(448.3 68.09) scale(0.920 1)" font-size="7.6" fill="#3d3d3d">C3-CCR2<tspan dy="-2.6" font-size="5">-</tspan><tspan dy="2.6">HLA-DR</tspan><tspan dy="-2.6" font-size="5">-</tspan><tspan dy="2.6">Tm</tspan></text>
<text transform="translate(448.3 75.62) scale(0.920 1)" font-size="7.6" fill="#3d3d3d">C4-Pre-Tfh</text>
<text transform="translate(448.3 83.15) scale(0.920 1)" font-size="7.6" fill="#3d3d3d">C5-Tfh</text>
<text transform="translate(448.3 90.68) scale(0.920 1)" font-size="7.6" fill="#3d3d3d">C6-HLA-DR<tspan dy="-2.6" font-size="5">+</tspan><tspan dy="2.6">Tph</tspan></text>
<text transform="translate(448.3 98.21) scale(0.920 1)" font-size="7.6" fill="#3d3d3d">C7-ICOS<tspan dy="-2.6" font-size="5">+</tspan><tspan dy="2.6">Tph</tspan></text>
<text transform="translate(448.3 105.74) scale(0.920 1)" font-size="7.6" fill="#3d3d3d">C8-HLA-DR<tspan dy="-2.6" font-size="5">+</tspan><tspan dy="2.6">Tm</tspan></text>
<text transform="translate(353.13 115.2) rotate(-45) scale(0.920 1)" font-size="7.6" text-anchor="end" fill="#3d3d3d">CCR2</text>
<text transform="translate(363.59 115.2) rotate(-45) scale(0.920 1)" font-size="7.6" text-anchor="end" fill="#3d3d3d">HLA-DR</text>
<text transform="translate(374.05 115.2) rotate(-45) scale(0.920 1)" font-size="7.6" text-anchor="end" fill="#3d3d3d">ICOS</text>
<text transform="translate(384.51 115.2) rotate(-45) scale(0.920 1)" font-size="7.6" text-anchor="end" fill="#3d3d3d">PD1</text>
<text transform="translate(394.97 115.2) rotate(-45) scale(0.920 1)" font-size="7.6" text-anchor="end" fill="#3d3d3d">CXCR5</text>
<text transform="translate(405.43 115.2) rotate(-45) scale(0.920 1)" font-size="7.6" text-anchor="end" fill="#3d3d3d">TIGIT</text>
<text transform="translate(415.89 115.2) rotate(-45) scale(0.920 1)" font-size="7.6" text-anchor="end" fill="#3d3d3d">CD4</text>
<text transform="translate(426.35 115.2) rotate(-45) scale(0.920 1)" font-size="7.6" text-anchor="end" fill="#3d3d3d">CD45RO</text>
<text transform="translate(436.81 115.2) rotate(-45) scale(0.920 1)" font-size="7.6" text-anchor="end" fill="#3d3d3d">PSGL1</text>
<text transform="translate(447.27 115.2) rotate(-45) scale(0.920 1)" font-size="7.6" text-anchor="end" fill="#3d3d3d">GD3</text>
<text transform="translate(2 167.4) scale(0.941 1)" font-size="12.8" fill="#000" font-weight="bold">C</text>
<line x1="43.3" y1="183" x2="43.3" y2="264.1" stroke="#231f20" stroke-width="1.2"/>
<line x1="39.9" y1="263.5" x2="43.3" y2="263.5" stroke="#231f20" stroke-width="1.1"/>
<text transform="translate(36.3 266.8) scale(0.920 1)" font-size="10.2" text-anchor="end" fill="#3d3d3d">0</text>
<line x1="39.9" y1="244.57" x2="43.3" y2="244.57" stroke="#231f20" stroke-width="1.1"/>
<text transform="translate(36.3 247.88) scale(0.920 1)" font-size="10.2" text-anchor="end" fill="#3d3d3d">5</text>
<line x1="39.9" y1="225.65" x2="43.3" y2="225.65" stroke="#231f20" stroke-width="1.1"/>
<text transform="translate(36.3 228.95) scale(0.920 1)" font-size="10.2" text-anchor="end" fill="#3d3d3d">10</text>
<line x1="39.9" y1="206.72" x2="43.3" y2="206.72" stroke="#231f20" stroke-width="1.1"/>
<text transform="translate(36.3 210.03) scale(0.920 1)" font-size="10.2" text-anchor="end" fill="#3d3d3d">15</text>
<line x1="39.9" y1="187.8" x2="43.3" y2="187.8" stroke="#231f20" stroke-width="1.1"/>
<text transform="translate(36.3 191.1) scale(0.920 1)" font-size="10.2" text-anchor="end" fill="#3d3d3d">20</text>
<rect x="46.9" y="239.7" width="6.1" height="23.8" fill="#8596c4"/>
<line x1="49.95" y1="234.26" x2="49.95" y2="245.14" stroke="#1f4f8f" stroke-width="1"/>
<line x1="48.35" y1="234.26" x2="51.55" y2="234.26" stroke="#1f4f8f" stroke-width="1"/>
<path d="M47.7 218.79h4.5l-2.25 3.82z" fill="#fff" stroke="#1f4f8f" stroke-width="1.2" stroke-linejoin="round"/>
<path d="M46.6 239.49h4.5l-2.25 3.82z" fill="#fff" stroke="#1f4f8f" stroke-width="1.2" stroke-linejoin="round"/>
<path d="M48.8 244.69h4.5l-2.25 3.82z" fill="#fff" stroke="#1f4f8f" stroke-width="1.2" stroke-linejoin="round"/>
<path d="M47.2 247.29h4.5l-2.25 3.82z" fill="#fff" stroke="#1f4f8f" stroke-width="1.2" stroke-linejoin="round"/>
<path d="M48.2 248.19h4.5l-2.25 3.82z" fill="#fff" stroke="#1f4f8f" stroke-width="1.2" stroke-linejoin="round"/>
<line x1="48.35" y1="234.26" x2="51.55" y2="234.26" stroke="#1f4f8f" stroke-width="1"/>
<rect x="57" y="239.7" width="6" height="23.8" fill="#eb9d90"/>
<line x1="60" y1="235.68" x2="60" y2="243.72" stroke="#d0213d" stroke-width="1"/>
<line x1="58.4" y1="235.68" x2="61.6" y2="235.68" stroke="#d0213d" stroke-width="1"/>
<rect x="58.35" y="220.35" width="3.3" height="3.3" fill="#fff" stroke="#d0213d" stroke-width="1.2"/>
<rect x="57.25" y="230.75" width="3.3" height="3.3" fill="#fff" stroke="#d0213d" stroke-width="1.2"/>
<rect x="59.45" y="236.35" width="3.3" height="3.3" fill="#fff" stroke="#d0213d" stroke-width="1.2"/>
<rect x="57.85" y="238.95" width="3.3" height="3.3" fill="#fff" stroke="#d0213d" stroke-width="1.2"/>
<rect x="58.85" y="242.05" width="3.3" height="3.3" fill="#fff" stroke="#d0213d" stroke-width="1.2"/>
<rect x="56.95" y="248.95" width="3.3" height="3.3" fill="#fff" stroke="#d0213d" stroke-width="1.2"/>
<line x1="58.4" y1="235.68" x2="61.6" y2="235.68" stroke="#d0213d" stroke-width="1"/>
<rect x="73.2" y="238.8" width="6.1" height="24.7" fill="#8596c4"/>
<line x1="76.25" y1="233.35" x2="76.25" y2="244.25" stroke="#1f4f8f" stroke-width="1"/>
<line x1="74.65" y1="233.35" x2="77.85" y2="233.35" stroke="#1f4f8f" stroke-width="1"/>
<path d="M74 215.79h4.5l-2.25 3.82z" fill="#fff" stroke="#1f4f8f" stroke-width="1.2" stroke-linejoin="round"/>
<path d="M72.9 230.39h4.5l-2.25 3.82z" fill="#fff" stroke="#1f4f8f" stroke-width="1.2" stroke-linejoin="round"/>
<path d="M75.1 233.09h4.5l-2.25 3.82z" fill="#fff" stroke="#1f4f8f" stroke-width="1.2" stroke-linejoin="round"/>
<path d="M73.5 244.69h4.5l-2.25 3.82z" fill="#fff" stroke="#1f4f8f" stroke-width="1.2" stroke-linejoin="round"/>
<path d="M74.5 245.59h4.5l-2.25 3.82z" fill="#fff" stroke="#1f4f8f" stroke-width="1.2" stroke-linejoin="round"/>
<line x1="74.65" y1="233.35" x2="77.85" y2="233.35" stroke="#1f4f8f" stroke-width="1"/>
<rect x="82.9" y="235.4" width="6.4" height="28.1" fill="#eb9d90"/>
<line x1="86.1" y1="231.6" x2="86.1" y2="239.2" stroke="#d0213d" stroke-width="1"/>
<line x1="84.5" y1="231.6" x2="87.7" y2="231.6" stroke="#d0213d" stroke-width="1"/>
<rect x="84.45" y="223.35" width="3.3" height="3.3" fill="#fff" stroke="#d0213d" stroke-width="1.2"/>
<rect x="83.35" y="229.05" width="3.3" height="3.3" fill="#fff" stroke="#d0213d" stroke-width="1.2"/>
<rect x="85.55" y="230.25" width="3.3" height="3.3" fill="#fff" stroke="#d0213d" stroke-width="1.2"/>
<rect x="83.95" y="234.55" width="3.3" height="3.3" fill="#fff" stroke="#d0213d" stroke-width="1.2"/>
<rect x="84.95" y="238.55" width="3.3" height="3.3" fill="#fff" stroke="#d0213d" stroke-width="1.2"/>
<rect x="83.05" y="250.15" width="3.3" height="3.3" fill="#fff" stroke="#d0213d" stroke-width="1.2"/>
<line x1="84.5" y1="231.6" x2="87.7" y2="231.6" stroke="#d0213d" stroke-width="1"/>
<rect x="99.9" y="228.5" width="6" height="35" fill="#8596c4"/>
<line x1="102.9" y1="221.45" x2="102.9" y2="235.55" stroke="#1f4f8f" stroke-width="1"/>
<line x1="101.3" y1="221.45" x2="104.5" y2="221.45" stroke="#1f4f8f" stroke-width="1"/>
<path d="M100.65 203.19h4.5l-2.25 3.82z" fill="#fff" stroke="#1f4f8f" stroke-width="1.2" stroke-linejoin="round"/>
<path d="M99.55 213.59h4.5l-2.25 3.82z" fill="#fff" stroke="#1f4f8f" stroke-width="1.2" stroke-linejoin="round"/>
<path d="M101.75 233.09h4.5l-2.25 3.82z" fill="#fff" stroke="#1f4f8f" stroke-width="1.2" stroke-linejoin="round"/>
<path d="M100.15 234.29h4.5l-2.25 3.82z" fill="#fff" stroke="#1f4f8f" stroke-width="1.2" stroke-linejoin="round"/>
<path d="M101.15 240.39h4.5l-2.25 3.82z" fill="#fff" stroke="#1f4f8f" stroke-width="1.2" stroke-linejoin="round"/>
<line x1="101.3" y1="221.45" x2="104.5" y2="221.45" stroke="#1f4f8f" stroke-width="1"/>
<rect x="110" y="236.2" width="6" height="27.3" fill="#eb9d90"/>
<line x1="113" y1="233.5" x2="113" y2="238.9" stroke="#d0213d" stroke-width="1"/>
<line x1="111.4" y1="233.5" x2="114.6" y2="233.5" stroke="#d0213d" stroke-width="1"/>
<rect x="111.35" y="227.35" width="3.3" height="3.3" fill="#fff" stroke="#d0213d" stroke-width="1.2"/>
<rect x="110.25" y="229.95" width="3.3" height="3.3" fill="#fff" stroke="#d0213d" stroke-width="1.2"/>
<rect x="112.45" y="233.35" width="3.3" height="3.3" fill="#fff" stroke="#d0213d" stroke-width="1.2"/>
<rect x="110.85" y="236.35" width="3.3" height="3.3" fill="#fff" stroke="#d0213d" stroke-width="1.2"/>
<rect x="111.85" y="238.55" width="3.3" height="3.3" fill="#fff" stroke="#d0213d" stroke-width="1.2"/>
<rect x="109.95" y="245.85" width="3.3" height="3.3" fill="#fff" stroke="#d0213d" stroke-width="1.2"/>
<line x1="111.4" y1="233.5" x2="114.6" y2="233.5" stroke="#d0213d" stroke-width="1"/>
<line x1="42.7" y1="263.5" x2="119.6" y2="263.5" stroke="#231f20" stroke-width="1.2"/>
<line x1="54.75" y1="263.5" x2="54.75" y2="266.3" stroke="#231f20" stroke-width="1.1"/>
<line x1="81.4" y1="263.5" x2="81.4" y2="266.3" stroke="#231f20" stroke-width="1.1"/>
<line x1="107.6" y1="263.5" x2="107.6" y2="266.3" stroke="#231f20" stroke-width="1.1"/>
<text transform="translate(54.75 278.1) scale(0.902 1)" font-size="9.8" text-anchor="middle" fill="#3d3d3d">Naive T</text>
<text transform="translate(81.4 278.1) scale(0.954 1)" font-size="9.8" text-anchor="middle" fill="#3d3d3d">Tfh</text>
<text transform="translate(107.6 278.1) scale(0.888 1)" font-size="9.8" text-anchor="middle" fill="#3d3d3d">Tph</text>
<path d="M46.45 187.69h4.5l-2.25 3.82z" fill="#fff" stroke="#1f4f8f" stroke-width="1.2" stroke-linejoin="round"/>
<text transform="translate(53.8 193) scale(0.886 1)" font-size="9.6" fill="#3d3d3d">No GVHD</text>
<rect x="47.05" y="198.75" width="3.3" height="3.3" fill="#fff" stroke="#d0213d" stroke-width="1.2"/>
<text transform="translate(53.8 203.8) scale(0.891 1)" font-size="9.6" fill="#3d3d3d">cGVHD</text>
<text transform="translate(20.97 223.45) rotate(-90) scale(0.824 1)" font-size="10.2" text-anchor="middle" fill="#3d3d3d">PSGL1 (MF1 × 1000)</text>
<line x1="173.5" y1="182.6" x2="173.5" y2="263.9" stroke="#231f20" stroke-width="1.2"/>
<line x1="170.1" y1="263.3" x2="173.5" y2="263.3" stroke="#231f20" stroke-width="1.1"/>
<text transform="translate(166.9 266.6) scale(0.920 1)" font-size="10.2" text-anchor="end" fill="#3d3d3d">0</text>
<line x1="170.1" y1="247.7" x2="173.5" y2="247.7" stroke="#231f20" stroke-width="1.1"/>
<text transform="translate(166.9 251) scale(0.920 1)" font-size="10.2" text-anchor="end" fill="#3d3d3d">10</text>
<line x1="170.1" y1="232.1" x2="173.5" y2="232.1" stroke="#231f20" stroke-width="1.1"/>
<text transform="translate(166.9 235.4) scale(0.920 1)" font-size="10.2" text-anchor="end" fill="#3d3d3d">20</text>
<line x1="170.1" y1="216.5" x2="173.5" y2="216.5" stroke="#231f20" stroke-width="1.1"/>
<text transform="translate(166.9 219.8) scale(0.920 1)" font-size="10.2" text-anchor="end" fill="#3d3d3d">30</text>
<line x1="170.1" y1="200.9" x2="173.5" y2="200.9" stroke="#231f20" stroke-width="1.1"/>
<text transform="translate(166.9 204.2) scale(0.920 1)" font-size="10.2" text-anchor="end" fill="#3d3d3d">40</text>
<line x1="170.1" y1="185.3" x2="173.5" y2="185.3" stroke="#231f20" stroke-width="1.1"/>
<text transform="translate(166.9 188.6) scale(0.920 1)" font-size="10.2" text-anchor="end" fill="#3d3d3d">50</text>
<rect x="176.2" y="258" width="6.9" height="5.3" fill="#8596c4"/>
<line x1="179.65" y1="256.02" x2="179.65" y2="259.98" stroke="#1f4f8f" stroke-width="1"/>
<line x1="178.05" y1="256.02" x2="181.25" y2="256.02" stroke="#1f4f8f" stroke-width="1"/>
<path d="M177.4 248.09h4.5l-2.25 3.82z" fill="#1f4f8f" stroke="#1f4f8f" stroke-width="1.2" stroke-linejoin="round"/>
<path d="M176.3 250.39h4.5l-2.25 3.82z" fill="#1f4f8f" stroke="#1f4f8f" stroke-width="1.2" stroke-linejoin="round"/>
<path d="M178.5 253.89h4.5l-2.25 3.82z" fill="#1f4f8f" stroke="#1f4f8f" stroke-width="1.2" stroke-linejoin="round"/>
<path d="M176.9 257.29h4.5l-2.25 3.82z" fill="#1f4f8f" stroke="#1f4f8f" stroke-width="1.2" stroke-linejoin="round"/>
<path d="M177.9 258.49h4.5l-2.25 3.82z" fill="#1f4f8f" stroke="#1f4f8f" stroke-width="1.2" stroke-linejoin="round"/>
<line x1="178.05" y1="256.02" x2="181.25" y2="256.02" stroke="#1f4f8f" stroke-width="1"/>
<rect x="187.2" y="255.8" width="7" height="7.5" fill="#eb9d90"/>
<line x1="190.7" y1="254.33" x2="190.7" y2="257.27" stroke="#d0213d" stroke-width="1"/>
<line x1="189.1" y1="254.33" x2="192.3" y2="254.33" stroke="#d0213d" stroke-width="1"/>
<rect x="189.05" y="248.35" width="3.3" height="3.3" fill="#d0213d" stroke="#d0213d" stroke-width="1.2"/>
<rect x="187.95" y="250.65" width="3.3" height="3.3" fill="#d0213d" stroke="#d0213d" stroke-width="1.2"/>
<rect x="190.15" y="252.95" width="3.3" height="3.3" fill="#d0213d" stroke="#d0213d" stroke-width="1.2"/>
<rect x="188.55" y="255.25" width="3.3" height="3.3" fill="#d0213d" stroke="#d0213d" stroke-width="1.2"/>
<rect x="189.55" y="256.35" width="3.3" height="3.3" fill="#d0213d" stroke="#d0213d" stroke-width="1.2"/>
<line x1="189.1" y1="254.33" x2="192.3" y2="254.33" stroke="#d0213d" stroke-width="1"/>
<rect x="204.3" y="237.3" width="6.9" height="26" fill="#8596c4"/>
<line x1="207.75" y1="231.7" x2="207.75" y2="242.9" stroke="#1f4f8f" stroke-width="1"/>
<line x1="206.15" y1="231.7" x2="209.35" y2="231.7" stroke="#1f4f8f" stroke-width="1"/>
<path d="M205.5 216.89h4.5l-2.25 3.82z" fill="#fff" stroke="#1f4f8f" stroke-width="1.2" stroke-linejoin="round"/>
<path d="M204.4 219.29h4.5l-2.25 3.82z" fill="#fff" stroke="#1f4f8f" stroke-width="1.2" stroke-linejoin="round"/>
<path d="M206.6 234.29h4.5l-2.25 3.82z" fill="#fff" stroke="#1f4f8f" stroke-width="1.2" stroke-linejoin="round"/>
<path d="M205 238.89h4.5l-2.25 3.82z" fill="#fff" stroke="#1f4f8f" stroke-width="1.2" stroke-linejoin="round"/>
<path d="M206 245.79h4.5l-2.25 3.82z" fill="#fff" stroke="#1f4f8f" stroke-width="1.2" stroke-linejoin="round"/>
<line x1="206.15" y1="231.7" x2="209.35" y2="231.7" stroke="#1f4f8f" stroke-width="1"/>
<rect x="215.4" y="205.5" width="6.9" height="57.8" fill="#eb9d90"/>
<line x1="218.85" y1="201.1" x2="218.85" y2="209.9" stroke="#d0213d" stroke-width="1"/>
<line x1="217.25" y1="201.1" x2="220.45" y2="201.1" stroke="#d0213d" stroke-width="1"/>
<rect x="217.2" y="193.65" width="3.3" height="3.3" fill="#fff" stroke="#d0213d" stroke-width="1.2"/>
<rect x="216.1" y="195.25" width="3.3" height="3.3" fill="#fff" stroke="#d0213d" stroke-width="1.2"/>
<rect x="218.3" y="203.35" width="3.3" height="3.3" fill="#fff" stroke="#d0213d" stroke-width="1.2"/>
<rect x="216.7" y="205.15" width="3.3" height="3.3" fill="#fff" stroke="#d0213d" stroke-width="1.2"/>
<rect x="217.7" y="215.55" width="3.3" height="3.3" fill="#fff" stroke="#d0213d" stroke-width="1.2"/>
<rect x="215.8" y="220.65" width="3.3" height="3.3" fill="#fff" stroke="#d0213d" stroke-width="1.2"/>
<line x1="217.25" y1="201.1" x2="220.45" y2="201.1" stroke="#d0213d" stroke-width="1"/>
<rect x="231.5" y="236.9" width="7" height="26.4" fill="#8596c4"/>
<line x1="235" y1="231.86" x2="235" y2="241.94" stroke="#1f4f8f" stroke-width="1"/>
<line x1="233.4" y1="231.86" x2="236.6" y2="231.86" stroke="#1f4f8f" stroke-width="1"/>
<path d="M232.75 214.19h4.5l-2.25 3.82z" fill="#fff" stroke="#1f4f8f" stroke-width="1.2" stroke-linejoin="round"/>
<path d="M231.65 222.69h4.5l-2.25 3.82z" fill="#fff" stroke="#1f4f8f" stroke-width="1.2" stroke-linejoin="round"/>
<path d="M233.85 235.39h4.5l-2.25 3.82z" fill="#fff" stroke="#1f4f8f" stroke-width="1.2" stroke-linejoin="round"/>
<path d="M232.25 238.89h4.5l-2.25 3.82z" fill="#fff" stroke="#1f4f8f" stroke-width="1.2" stroke-linejoin="round"/>
<path d="M233.25 241.89h4.5l-2.25 3.82z" fill="#fff" stroke="#1f4f8f" stroke-width="1.2" stroke-linejoin="round"/>
<path d="M231.35 246.49h4.5l-2.25 3.82z" fill="#fff" stroke="#1f4f8f" stroke-width="1.2" stroke-linejoin="round"/>
<line x1="233.4" y1="231.86" x2="236.6" y2="231.86" stroke="#1f4f8f" stroke-width="1"/>
<rect x="242.4" y="218.8" width="6.9" height="44.5" fill="#eb9d90"/>
<line x1="245.85" y1="212.3" x2="245.85" y2="225.3" stroke="#d0213d" stroke-width="1"/>
<line x1="244.25" y1="212.3" x2="247.45" y2="212.3" stroke="#d0213d" stroke-width="1"/>
<rect x="244.2" y="191.35" width="3.3" height="3.3" fill="#fff" stroke="#d0213d" stroke-width="1.2"/>
<rect x="243.1" y="197.15" width="3.3" height="3.3" fill="#fff" stroke="#d0213d" stroke-width="1.2"/>
<rect x="245.3" y="217.15" width="3.3" height="3.3" fill="#fff" stroke="#d0213d" stroke-width="1.2"/>
<rect x="243.7" y="218.35" width="3.3" height="3.3" fill="#fff" stroke="#d0213d" stroke-width="1.2"/>
<rect x="244.7" y="228.25" width="3.3" height="3.3" fill="#fff" stroke="#d0213d" stroke-width="1.2"/>
<rect x="242.8" y="229.45" width="3.3" height="3.3" fill="#fff" stroke="#d0213d" stroke-width="1.2"/>
<line x1="244.25" y1="212.3" x2="247.45" y2="212.3" stroke="#d0213d" stroke-width="1"/>
<line x1="172.9" y1="263.3" x2="252" y2="263.3" stroke="#231f20" stroke-width="1.2"/>
<line x1="185.2" y1="263.3" x2="185.2" y2="266.1" stroke="#231f20" stroke-width="1.1"/>
<line x1="213.3" y1="263.3" x2="213.3" y2="266.1" stroke="#231f20" stroke-width="1.1"/>
<line x1="240.4" y1="263.3" x2="240.4" y2="266.1" stroke="#231f20" stroke-width="1.1"/>
<text transform="translate(185.2 278.1) scale(0.902 1)" font-size="9.8" text-anchor="middle" fill="#3d3d3d">Naive T</text>
<text transform="translate(213.3 278.1) scale(0.954 1)" font-size="9.8" text-anchor="middle" fill="#3d3d3d">Tfh</text>
<text transform="translate(240.4 278.1) scale(0.888 1)" font-size="9.8" text-anchor="middle" fill="#3d3d3d">Tph</text>
<line x1="206.5" y1="189.3" x2="217.5" y2="189.3" stroke="#222" stroke-width="0.9"/>
<text transform="translate(212 190.9) scale(1.077 1)" font-size="10.5" text-anchor="middle" fill="#222">***</text>
<line x1="235.5" y1="189.3" x2="245.5" y2="189.3" stroke="#222" stroke-width="0.9"/>
<text transform="translate(240.5 190.9) scale(1.077 1)" font-size="10.5" text-anchor="middle" fill="#222">**</text>
<text transform="translate(153.87 222.3) rotate(-90) scale(0.835 1)" font-size="10.2" text-anchor="middle" fill="#3d3d3d">ICOS (MFI × 100)</text>
<line x1="305" y1="182.9" x2="305" y2="263.9" stroke="#231f20" stroke-width="1.2"/>
<line x1="301.6" y1="263.3" x2="305" y2="263.3" stroke="#231f20" stroke-width="1.1"/>
<text transform="translate(297.3 266.6) scale(0.920 1)" font-size="10.2" text-anchor="end" fill="#3d3d3d">0</text>
<line x1="301.6" y1="237.5" x2="305" y2="237.5" stroke="#231f20" stroke-width="1.1"/>
<text transform="translate(297.3 240.8) scale(0.920 1)" font-size="10.2" text-anchor="end" fill="#3d3d3d">10</text>
<line x1="301.6" y1="211.7" x2="305" y2="211.7" stroke="#231f20" stroke-width="1.1"/>
<text transform="translate(297.3 215) scale(0.920 1)" font-size="10.2" text-anchor="end" fill="#3d3d3d">20</text>
<line x1="301.6" y1="185.9" x2="305" y2="185.9" stroke="#231f20" stroke-width="1.1"/>
<text transform="translate(297.3 189.2) scale(0.920 1)" font-size="10.2" text-anchor="end" fill="#3d3d3d">30</text>
<rect x="308.75" y="261.25" width="6.25" height="2.05" fill="#8596c4"/>
<line x1="311.88" y1="259.74" x2="311.88" y2="262.76" stroke="#1f4f8f" stroke-width="1"/>
<line x1="310.27" y1="259.74" x2="313.48" y2="259.74" stroke="#1f4f8f" stroke-width="1"/>
<path d="M309.62 252.59h4.5l-2.25 3.82z" fill="#1f4f8f" stroke="#1f4f8f" stroke-width="1.2" stroke-linejoin="round"/>
<path d="M308.52 258.09h4.5l-2.25 3.82z" fill="#1f4f8f" stroke="#1f4f8f" stroke-width="1.2" stroke-linejoin="round"/>
<path d="M310.73 259.84h4.5l-2.25 3.82z" fill="#1f4f8f" stroke="#1f4f8f" stroke-width="1.2" stroke-linejoin="round"/>
<path d="M309.12 260.59h4.5l-2.25 3.82z" fill="#1f4f8f" stroke="#1f4f8f" stroke-width="1.2" stroke-linejoin="round"/>
<path d="M310.12 260.59h4.5l-2.25 3.82z" fill="#1f4f8f" stroke="#1f4f8f" stroke-width="1.2" stroke-linejoin="round"/>
<line x1="310.27" y1="259.74" x2="313.48" y2="259.74" stroke="#1f4f8f" stroke-width="1"/>
<rect x="318.75" y="257" width="6.75" height="6.3" fill="#eb9d90"/>
<line x1="322.12" y1="254.4" x2="322.12" y2="259.6" stroke="#d0213d" stroke-width="1"/>
<line x1="320.52" y1="254.4" x2="323.73" y2="254.4" stroke="#d0213d" stroke-width="1"/>
<rect x="320.48" y="245.35" width="3.3" height="3.3" fill="#fff" stroke="#d0213d" stroke-width="1.2"/>
<rect x="319.38" y="253.85" width="3.3" height="3.3" fill="#fff" stroke="#d0213d" stroke-width="1.2"/>
<rect x="321.58" y="255.85" width="3.3" height="3.3" fill="#fff" stroke="#d0213d" stroke-width="1.2"/>
<rect x="319.98" y="258.35" width="3.3" height="3.3" fill="#fff" stroke="#d0213d" stroke-width="1.2"/>
<rect x="320.98" y="260.35" width="3.3" height="3.3" fill="#fff" stroke="#d0213d" stroke-width="1.2"/>
<line x1="320.52" y1="254.4" x2="323.73" y2="254.4" stroke="#d0213d" stroke-width="1"/>
<rect x="335" y="250" width="7" height="13.3" fill="#8596c4"/>
<line x1="338.5" y1="245.84" x2="338.5" y2="254.16" stroke="#1f4f8f" stroke-width="1"/>
<line x1="336.9" y1="245.84" x2="340.1" y2="245.84" stroke="#1f4f8f" stroke-width="1"/>
<path d="M336.25 228.59h4.5l-2.25 3.82z" fill="#fff" stroke="#1f4f8f" stroke-width="1.2" stroke-linejoin="round"/>
<path d="M335.15 245.59h4.5l-2.25 3.82z" fill="#fff" stroke="#1f4f8f" stroke-width="1.2" stroke-linejoin="round"/>
<path d="M337.35 248.09h4.5l-2.25 3.82z" fill="#fff" stroke="#1f4f8f" stroke-width="1.2" stroke-linejoin="round"/>
<path d="M335.75 250.59h4.5l-2.25 3.82z" fill="#fff" stroke="#1f4f8f" stroke-width="1.2" stroke-linejoin="round"/>
<path d="M336.75 254.34h4.5l-2.25 3.82z" fill="#fff" stroke="#1f4f8f" stroke-width="1.2" stroke-linejoin="round"/>
<path d="M334.85 257.59h4.5l-2.25 3.82z" fill="#fff" stroke="#1f4f8f" stroke-width="1.2" stroke-linejoin="round"/>
<line x1="336.9" y1="245.84" x2="340.1" y2="245.84" stroke="#1f4f8f" stroke-width="1"/>
<rect x="345.75" y="245" width="7.25" height="18.3" fill="#eb9d90"/>
<line x1="349.38" y1="239.65" x2="349.38" y2="250.35" stroke="#d0213d" stroke-width="1"/>
<line x1="347.77" y1="239.65" x2="350.98" y2="239.65" stroke="#d0213d" stroke-width="1"/>
<rect x="347.73" y="217.1" width="3.3" height="3.3" fill="#fff" stroke="#d0213d" stroke-width="1.2"/>
<rect x="346.62" y="237.1" width="3.3" height="3.3" fill="#fff" stroke="#d0213d" stroke-width="1.2"/>
<rect x="348.83" y="239.6" width="3.3" height="3.3" fill="#fff" stroke="#d0213d" stroke-width="1.2"/>
<rect x="347.23" y="245.85" width="3.3" height="3.3" fill="#fff" stroke="#d0213d" stroke-width="1.2"/>
<rect x="348.23" y="251.35" width="3.3" height="3.3" fill="#fff" stroke="#d0213d" stroke-width="1.2"/>
<rect x="346.33" y="252.85" width="3.3" height="3.3" fill="#fff" stroke="#d0213d" stroke-width="1.2"/>
<line x1="347.77" y1="239.65" x2="350.98" y2="239.65" stroke="#d0213d" stroke-width="1"/>
<rect x="362.5" y="250" width="6.75" height="13.3" fill="#8596c4"/>
<line x1="365.88" y1="246.15" x2="365.88" y2="253.85" stroke="#1f4f8f" stroke-width="1"/>
<line x1="364.27" y1="246.15" x2="367.48" y2="246.15" stroke="#1f4f8f" stroke-width="1"/>
<path d="M363.62 233.09h4.5l-2.25 3.82z" fill="#fff" stroke="#1f4f8f" stroke-width="1.2" stroke-linejoin="round"/>
<path d="M362.52 234.34h4.5l-2.25 3.82z" fill="#fff" stroke="#1f4f8f" stroke-width="1.2" stroke-linejoin="round"/>
<path d="M364.73 248.09h4.5l-2.25 3.82z" fill="#fff" stroke="#1f4f8f" stroke-width="1.2" stroke-linejoin="round"/>
<path d="M363.12 249.34h4.5l-2.25 3.82z" fill="#fff" stroke="#1f4f8f" stroke-width="1.2" stroke-linejoin="round"/>
<path d="M364.12 250.59h4.5l-2.25 3.82z" fill="#fff" stroke="#1f4f8f" stroke-width="1.2" stroke-linejoin="round"/>
<line x1="364.27" y1="246.15" x2="367.48" y2="246.15" stroke="#1f4f8f" stroke-width="1"/>
<rect x="373" y="221.25" width="6.5" height="42.05" fill="#eb9d90"/>
<line x1="376.25" y1="213.2" x2="376.25" y2="229.3" stroke="#d0213d" stroke-width="1"/>
<line x1="374.65" y1="213.2" x2="377.85" y2="213.2" stroke="#d0213d" stroke-width="1"/>
<rect x="372.8" y="192.85" width="3.3" height="3.3" fill="#fff" stroke="#d0213d" stroke-width="1.2"/>
<rect x="376.4" y="193.35" width="3.3" height="3.3" fill="#fff" stroke="#d0213d" stroke-width="1.2"/>
<rect x="374.6" y="210.35" width="3.3" height="3.3" fill="#fff" stroke="#d0213d" stroke-width="1.2"/>
<rect x="373.6" y="212.85" width="3.3" height="3.3" fill="#fff" stroke="#d0213d" stroke-width="1.2"/>
<rect x="375.6" y="224.6" width="3.3" height="3.3" fill="#fff" stroke="#d0213d" stroke-width="1.2"/>
<rect x="374.6" y="239.6" width="3.3" height="3.3" fill="#fff" stroke="#d0213d" stroke-width="1.2"/>
<rect x="374.6" y="247.85" width="3.3" height="3.3" fill="#fff" stroke="#d0213d" stroke-width="1.2"/>
<line x1="374.65" y1="213.2" x2="377.85" y2="213.2" stroke="#d0213d" stroke-width="1"/>
<line x1="304.4" y1="263.3" x2="382.5" y2="263.3" stroke="#231f20" stroke-width="1.2"/>
<line x1="317.1" y1="263.3" x2="317.1" y2="266.1" stroke="#231f20" stroke-width="1.1"/>
<line x1="344" y1="263.3" x2="344" y2="266.1" stroke="#231f20" stroke-width="1.1"/>
<line x1="371" y1="263.3" x2="371" y2="266.1" stroke="#231f20" stroke-width="1.1"/>
<text transform="translate(317.1 278.1) scale(0.902 1)" font-size="9.8" text-anchor="middle" fill="#3d3d3d">Naive T</text>
<text transform="translate(344 278.1) scale(0.954 1)" font-size="9.8" text-anchor="middle" fill="#3d3d3d">Tfh</text>
<text transform="translate(371 278.1) scale(0.888 1)" font-size="9.8" text-anchor="middle" fill="#3d3d3d">Tph</text>
<line x1="366" y1="190" x2="376.2" y2="190" stroke="#222" stroke-width="0.9"/>
<text transform="translate(371.1 191.6) scale(1.077 1)" font-size="10.5" text-anchor="middle" fill="#222">**</text>
<text transform="translate(283.17 222.3) rotate(-90) scale(0.819 1)" font-size="10.2" text-anchor="middle" fill="#3d3d3d">HLA·DR (MFI × 100)</text>
<line x1="436.3" y1="182.6" x2="436.3" y2="263.9" stroke="#231f20" stroke-width="1.2"/>
<line x1="432.9" y1="263.3" x2="436.3" y2="263.3" stroke="#231f20" stroke-width="1.1"/>
<text transform="translate(428.3 266.6) scale(0.920 1)" font-size="10.2" text-anchor="end" fill="#3d3d3d">0</text>
<line x1="432.9" y1="243.9" x2="436.3" y2="243.9" stroke="#231f20" stroke-width="1.1"/>
<text transform="translate(428.3 247.2) scale(0.920 1)" font-size="10.2" text-anchor="end" fill="#3d3d3d">5</text>
<line x1="432.9" y1="224.5" x2="436.3" y2="224.5" stroke="#231f20" stroke-width="1.1"/>
<text transform="translate(428.3 227.8) scale(0.920 1)" font-size="10.2" text-anchor="end" fill="#3d3d3d">10</text>
<line x1="432.9" y1="205.1" x2="436.3" y2="205.1" stroke="#231f20" stroke-width="1.1"/>
<text transform="translate(428.3 208.4) scale(0.920 1)" font-size="10.2" text-anchor="end" fill="#3d3d3d">15</text>
<line x1="432.9" y1="185.7" x2="436.3" y2="185.7" stroke="#231f20" stroke-width="1.1"/>
<text transform="translate(428.3 189) scale(0.920 1)" font-size="10.2" text-anchor="end" fill="#3d3d3d">20</text>
<rect x="440" y="255" width="7" height="8.3" fill="#8596c4"/>
<line x1="443.5" y1="254.14" x2="443.5" y2="255.86" stroke="#1f4f8f" stroke-width="1"/>
<line x1="441.9" y1="254.14" x2="445.1" y2="254.14" stroke="#1f4f8f" stroke-width="1"/>
<path d="M441.25 252.59h4.5l-2.25 3.82z" fill="#1f4f8f" stroke="#1f4f8f" stroke-width="1.2" stroke-linejoin="round"/>
<path d="M440.15 254.34h4.5l-2.25 3.82z" fill="#1f4f8f" stroke="#1f4f8f" stroke-width="1.2" stroke-linejoin="round"/>
<path d="M442.35 256.09h4.5l-2.25 3.82z" fill="#1f4f8f" stroke="#1f4f8f" stroke-width="1.2" stroke-linejoin="round"/>
<path d="M440.75 257.59h4.5l-2.25 3.82z" fill="#1f4f8f" stroke="#1f4f8f" stroke-width="1.2" stroke-linejoin="round"/>
<path d="M441.75 256.09h4.5l-2.25 3.82z" fill="#1f4f8f" stroke="#1f4f8f" stroke-width="1.2" stroke-linejoin="round"/>
<line x1="441.9" y1="254.14" x2="445.1" y2="254.14" stroke="#1f4f8f" stroke-width="1"/>
<rect x="450.75" y="255" width="6.25" height="8.3" fill="#eb9d90"/>
<line x1="453.88" y1="253.76" x2="453.88" y2="256.24" stroke="#d0213d" stroke-width="1"/>
<line x1="452.27" y1="253.76" x2="455.48" y2="253.76" stroke="#d0213d" stroke-width="1"/>
<rect x="452.23" y="252.85" width="3.3" height="3.3" fill="#d0213d" stroke="#d0213d" stroke-width="1.2"/>
<rect x="451.12" y="253.35" width="3.3" height="3.3" fill="#d0213d" stroke="#d0213d" stroke-width="1.2"/>
<rect x="453.33" y="254.6" width="3.3" height="3.3" fill="#d0213d" stroke="#d0213d" stroke-width="1.2"/>
<rect x="451.73" y="258.35" width="3.3" height="3.3" fill="#d0213d" stroke="#d0213d" stroke-width="1.2"/>
<line x1="452.27" y1="253.76" x2="455.48" y2="253.76" stroke="#d0213d" stroke-width="1"/>
<rect x="467.5" y="235" width="6.25" height="28.3" fill="#8596c4"/>
<line x1="470.62" y1="228.04" x2="470.62" y2="241.96" stroke="#1f4f8f" stroke-width="1"/>
<line x1="469.02" y1="228.04" x2="472.23" y2="228.04" stroke="#1f4f8f" stroke-width="1"/>
<path d="M468.38 192.59h4.5l-2.25 3.82z" fill="#fff" stroke="#1f4f8f" stroke-width="1.2" stroke-linejoin="round"/>
<path d="M467.27 224.34h4.5l-2.25 3.82z" fill="#fff" stroke="#1f4f8f" stroke-width="1.2" stroke-linejoin="round"/>
<path d="M469.48 227.59h4.5l-2.25 3.82z" fill="#fff" stroke="#1f4f8f" stroke-width="1.2" stroke-linejoin="round"/>
<path d="M467.88 234.34h4.5l-2.25 3.82z" fill="#fff" stroke="#1f4f8f" stroke-width="1.2" stroke-linejoin="round"/>
<path d="M468.88 236.84h4.5l-2.25 3.82z" fill="#fff" stroke="#1f4f8f" stroke-width="1.2" stroke-linejoin="round"/>
<path d="M466.98 244.34h4.5l-2.25 3.82z" fill="#fff" stroke="#1f4f8f" stroke-width="1.2" stroke-linejoin="round"/>
<path d="M469.77 248.09h4.5l-2.25 3.82z" fill="#fff" stroke="#1f4f8f" stroke-width="1.2" stroke-linejoin="round"/>
<line x1="469.02" y1="228.04" x2="472.23" y2="228.04" stroke="#1f4f8f" stroke-width="1"/>
<rect x="478" y="230" width="6.5" height="33.3" fill="#eb9d90"/>
<line x1="481.25" y1="224.08" x2="481.25" y2="235.92" stroke="#d0213d" stroke-width="1"/>
<line x1="479.65" y1="224.08" x2="482.85" y2="224.08" stroke="#d0213d" stroke-width="1"/>
<rect x="479.6" y="214.1" width="3.3" height="3.3" fill="#fff" stroke="#d0213d" stroke-width="1.2"/>
<rect x="478.5" y="217.85" width="3.3" height="3.3" fill="#fff" stroke="#d0213d" stroke-width="1.2"/>
<rect x="480.7" y="218.85" width="3.3" height="3.3" fill="#fff" stroke="#d0213d" stroke-width="1.2"/>
<rect x="479.1" y="228.85" width="3.3" height="3.3" fill="#fff" stroke="#d0213d" stroke-width="1.2"/>
<rect x="480.1" y="235.35" width="3.3" height="3.3" fill="#fff" stroke="#d0213d" stroke-width="1.2"/>
<rect x="478.2" y="252.85" width="3.3" height="3.3" fill="#fff" stroke="#d0213d" stroke-width="1.2"/>
<line x1="479.65" y1="224.08" x2="482.85" y2="224.08" stroke="#d0213d" stroke-width="1"/>
<rect x="494.5" y="222.5" width="6.75" height="40.8" fill="#8596c4"/>
<line x1="497.88" y1="219.47" x2="497.88" y2="225.53" stroke="#1f4f8f" stroke-width="1"/>
<line x1="496.27" y1="219.47" x2="499.48" y2="219.47" stroke="#1f4f8f" stroke-width="1"/>
<path d="M495.62 208.09h4.5l-2.25 3.82z" fill="#fff" stroke="#1f4f8f" stroke-width="1.2" stroke-linejoin="round"/>
<path d="M494.52 220.09h4.5l-2.25 3.82z" fill="#fff" stroke="#1f4f8f" stroke-width="1.2" stroke-linejoin="round"/>
<path d="M496.73 221.34h4.5l-2.25 3.82z" fill="#fff" stroke="#1f4f8f" stroke-width="1.2" stroke-linejoin="round"/>
<path d="M495.12 223.09h4.5l-2.25 3.82z" fill="#fff" stroke="#1f4f8f" stroke-width="1.2" stroke-linejoin="round"/>
<path d="M496.12 225.59h4.5l-2.25 3.82z" fill="#fff" stroke="#1f4f8f" stroke-width="1.2" stroke-linejoin="round"/>
<line x1="496.27" y1="219.47" x2="499.48" y2="219.47" stroke="#1f4f8f" stroke-width="1"/>
<rect x="504.5" y="241.25" width="6.75" height="22.05" fill="#eb9d90"/>
<line x1="507.88" y1="236.71" x2="507.88" y2="245.79" stroke="#d0213d" stroke-width="1"/>
<line x1="506.27" y1="236.71" x2="509.48" y2="236.71" stroke="#d0213d" stroke-width="1"/>
<rect x="506.23" y="217.85" width="3.3" height="3.3" fill="#fff" stroke="#d0213d" stroke-width="1.2"/>
<rect x="505.12" y="230.85" width="3.3" height="3.3" fill="#fff" stroke="#d0213d" stroke-width="1.2"/>
<rect x="507.33" y="237.1" width="3.3" height="3.3" fill="#fff" stroke="#d0213d" stroke-width="1.2"/>
<rect x="505.73" y="241.35" width="3.3" height="3.3" fill="#fff" stroke="#d0213d" stroke-width="1.2"/>
<rect x="506.73" y="242.85" width="3.3" height="3.3" fill="#fff" stroke="#d0213d" stroke-width="1.2"/>
<line x1="506.27" y1="236.71" x2="509.48" y2="236.71" stroke="#d0213d" stroke-width="1"/>
<line x1="435.7" y1="263.3" x2="515" y2="263.3" stroke="#231f20" stroke-width="1.2"/>
<line x1="448.5" y1="263.3" x2="448.5" y2="266.1" stroke="#231f20" stroke-width="1.1"/>
<line x1="476" y1="263.3" x2="476" y2="266.1" stroke="#231f20" stroke-width="1.1"/>
<line x1="502.8" y1="263.3" x2="502.8" y2="266.1" stroke="#231f20" stroke-width="1.1"/>
<text transform="translate(448.5 278.1) scale(0.902 1)" font-size="9.8" text-anchor="middle" fill="#3d3d3d">Naive T</text>
<text transform="translate(476 278.1) scale(0.954 1)" font-size="9.8" text-anchor="middle" fill="#3d3d3d">Tfh</text>
<text transform="translate(502.8 278.1) scale(0.888 1)" font-size="9.8" text-anchor="middle" fill="#3d3d3d">Tph</text>
<text transform="translate(413.87 222.6) rotate(-90) scale(0.855 1)" font-size="10.2" text-anchor="middle" fill="#3d3d3d">CCR2 (Mfl × 100)</text>
<text transform="translate(1.8 301.6) scale(1.039 1)" font-size="12.8" fill="#000" font-weight="bold">D</text>
<line x1="46.3" y1="316" x2="46.3" y2="396.9" stroke="#231f20" stroke-width="1.2"/>
<line x1="42.9" y1="396.3" x2="46.3" y2="396.3" stroke="#231f20" stroke-width="1.1"/>
<text transform="translate(38.8 399.6) scale(0.920 1)" font-size="10.2" text-anchor="end" fill="#3d3d3d">0.0</text>
<line x1="42.9" y1="377.2" x2="46.3" y2="377.2" stroke="#231f20" stroke-width="1.1"/>
<text transform="translate(38.8 380.5) scale(0.920 1)" font-size="10.2" text-anchor="end" fill="#3d3d3d">0.5</text>
<line x1="42.9" y1="358.1" x2="46.3" y2="358.1" stroke="#231f20" stroke-width="1.1"/>
<text transform="translate(38.8 361.4) scale(0.920 1)" font-size="10.2" text-anchor="end" fill="#3d3d3d">1.0</text>
<line x1="42.9" y1="339" x2="46.3" y2="339" stroke="#231f20" stroke-width="1.1"/>
<text transform="translate(38.8 342.3) scale(0.920 1)" font-size="10.2" text-anchor="end" fill="#3d3d3d">1.5</text>
<line x1="42.9" y1="319.9" x2="46.3" y2="319.9" stroke="#231f20" stroke-width="1.1"/>
<text transform="translate(38.8 323.2) scale(0.920 1)" font-size="10.2" text-anchor="end" fill="#3d3d3d">2.0</text>
<rect x="50" y="357.5" width="7" height="38.8" fill="#8596c4"/>
<path d="M49.25 355.59h4.5l-2.25 3.82z" fill="#1f4f8f" stroke="#1f4f8f" stroke-width="1.2" stroke-linejoin="round"/>
<path d="M50.25 355.59h4.5l-2.25 3.82z" fill="#1f4f8f" stroke="#1f4f8f" stroke-width="1.2" stroke-linejoin="round"/>
<path d="M51.25 355.59h4.5l-2.25 3.82z" fill="#1f4f8f" stroke="#1f4f8f" stroke-width="1.2" stroke-linejoin="round"/>
<path d="M52.25 355.59h4.5l-2.25 3.82z" fill="#1f4f8f" stroke="#1f4f8f" stroke-width="1.2" stroke-linejoin="round"/>
<path d="M53.25 355.59h4.5l-2.25 3.82z" fill="#1f4f8f" stroke="#1f4f8f" stroke-width="1.2" stroke-linejoin="round"/>
<rect x="60" y="357.5" width="7" height="38.8" fill="#eb9d90"/>
<rect x="59.85" y="355.85" width="3.3" height="3.3" fill="#d0213d" stroke="#d0213d" stroke-width="1.2"/>
<rect x="60.85" y="355.85" width="3.3" height="3.3" fill="#d0213d" stroke="#d0213d" stroke-width="1.2"/>
<rect x="61.85" y="355.85" width="3.3" height="3.3" fill="#d0213d" stroke="#d0213d" stroke-width="1.2"/>
<rect x="62.85" y="355.85" width="3.3" height="3.3" fill="#d0213d" stroke="#d0213d" stroke-width="1.2"/>
<rect x="63.85" y="355.85" width="3.3" height="3.3" fill="#d0213d" stroke="#d0213d" stroke-width="1.2"/>
<rect x="76.25" y="353.75" width="7" height="42.55" fill="#8596c4"/>
<line x1="79.75" y1="351.4" x2="79.75" y2="356.1" stroke="#1f4f8f" stroke-width="1"/>
<line x1="78.15" y1="351.4" x2="81.35" y2="351.4" stroke="#1f4f8f" stroke-width="1"/>
<path d="M77.5 342.59h4.5l-2.25 3.82z" fill="#fff" stroke="#1f4f8f" stroke-width="1.2" stroke-linejoin="round"/>
<path d="M76.4 349.34h4.5l-2.25 3.82z" fill="#fff" stroke="#1f4f8f" stroke-width="1.2" stroke-linejoin="round"/>
<path d="M78.6 353.09h4.5l-2.25 3.82z" fill="#fff" stroke="#1f4f8f" stroke-width="1.2" stroke-linejoin="round"/>
<path d="M77 354.34h4.5l-2.25 3.82z" fill="#fff" stroke="#1f4f8f" stroke-width="1.2" stroke-linejoin="round"/>
<path d="M78 355.59h4.5l-2.25 3.82z" fill="#fff" stroke="#1f4f8f" stroke-width="1.2" stroke-linejoin="round"/>
<line x1="78.15" y1="351.4" x2="81.35" y2="351.4" stroke="#1f4f8f" stroke-width="1"/>
<rect x="86.25" y="355.5" width="7" height="40.8" fill="#eb9d90"/>
<line x1="89.75" y1="353.36" x2="89.75" y2="357.64" stroke="#d0213d" stroke-width="1"/>
<line x1="88.15" y1="353.36" x2="91.35" y2="353.36" stroke="#d0213d" stroke-width="1"/>
<rect x="88.1" y="349.1" width="3.3" height="3.3" fill="#fff" stroke="#d0213d" stroke-width="1.2"/>
<rect x="87" y="352.85" width="3.3" height="3.3" fill="#fff" stroke="#d0213d" stroke-width="1.2"/>
<rect x="89.2" y="353.85" width="3.3" height="3.3" fill="#fff" stroke="#d0213d" stroke-width="1.2"/>
<rect x="87.6" y="355.85" width="3.3" height="3.3" fill="#fff" stroke="#d0213d" stroke-width="1.2"/>
<rect x="88.6" y="362.1" width="3.3" height="3.3" fill="#fff" stroke="#d0213d" stroke-width="1.2"/>
<line x1="88.15" y1="353.36" x2="91.35" y2="353.36" stroke="#d0213d" stroke-width="1"/>
<rect x="103" y="348.75" width="7" height="47.55" fill="#8596c4"/>
<line x1="106.5" y1="343.6" x2="106.5" y2="353.9" stroke="#1f4f8f" stroke-width="1"/>
<line x1="104.9" y1="343.6" x2="108.1" y2="343.6" stroke="#1f4f8f" stroke-width="1"/>
<path d="M104.25 330.59h4.5l-2.25 3.82z" fill="#fff" stroke="#1f4f8f" stroke-width="1.2" stroke-linejoin="round"/>
<path d="M103.15 333.09h4.5l-2.25 3.82z" fill="#fff" stroke="#1f4f8f" stroke-width="1.2" stroke-linejoin="round"/>
<path d="M105.35 335.59h4.5l-2.25 3.82z" fill="#fff" stroke="#1f4f8f" stroke-width="1.2" stroke-linejoin="round"/>
<path d="M103.75 349.34h4.5l-2.25 3.82z" fill="#fff" stroke="#1f4f8f" stroke-width="1.2" stroke-linejoin="round"/>
<path d="M104.75 354.34h4.5l-2.25 3.82z" fill="#fff" stroke="#1f4f8f" stroke-width="1.2" stroke-linejoin="round"/>
<path d="M102.85 361.09h4.5l-2.25 3.82z" fill="#fff" stroke="#1f4f8f" stroke-width="1.2" stroke-linejoin="round"/>
<line x1="104.9" y1="343.6" x2="108.1" y2="343.6" stroke="#1f4f8f" stroke-width="1"/>
<rect x="113" y="350" width="7" height="46.3" fill="#eb9d90"/>
<line x1="116.5" y1="346.5" x2="116.5" y2="353.5" stroke="#d0213d" stroke-width="1"/>
<line x1="114.9" y1="346.5" x2="118.1" y2="346.5" stroke="#d0213d" stroke-width="1"/>
<rect x="114.85" y="334.1" width="3.3" height="3.3" fill="#fff" stroke="#d0213d" stroke-width="1.2"/>
<rect x="113.75" y="346.35" width="3.3" height="3.3" fill="#fff" stroke="#d0213d" stroke-width="1.2"/>
<rect x="115.95" y="348.35" width="3.3" height="3.3" fill="#fff" stroke="#d0213d" stroke-width="1.2"/>
<rect x="114.35" y="349.6" width="3.3" height="3.3" fill="#fff" stroke="#d0213d" stroke-width="1.2"/>
<rect x="115.35" y="355.35" width="3.3" height="3.3" fill="#fff" stroke="#d0213d" stroke-width="1.2"/>
<line x1="114.9" y1="346.5" x2="118.1" y2="346.5" stroke="#d0213d" stroke-width="1"/>
<line x1="45.7" y1="396.3" x2="123" y2="396.3" stroke="#231f20" stroke-width="1.2"/>
<line x1="57.5" y1="396.3" x2="57.5" y2="399.1" stroke="#231f20" stroke-width="1.1"/>
<line x1="84.5" y1="396.3" x2="84.5" y2="399.1" stroke="#231f20" stroke-width="1.1"/>
<line x1="111.5" y1="396.3" x2="111.5" y2="399.1" stroke="#231f20" stroke-width="1.1"/>
<text transform="translate(57.5 411) scale(0.902 1)" font-size="9.8" text-anchor="middle" fill="#3d3d3d">Naive T</text>
<text transform="translate(84.5 411) scale(0.954 1)" font-size="9.8" text-anchor="middle" fill="#3d3d3d">Tfh</text>
<text transform="translate(111.5 411) scale(0.888 1)" font-size="9.8" text-anchor="middle" fill="#3d3d3d">Tph</text>
<path d="M50.65 319.69h4.5l-2.25 3.82z" fill="#fff" stroke="#1f4f8f" stroke-width="1.2" stroke-linejoin="round"/>
<text transform="translate(59.3 325.1) scale(0.886 1)" font-size="9.6" fill="#3d3d3d">No GVHD</text>
<rect x="51.25" y="330.75" width="3.3" height="3.3" fill="#fff" stroke="#d0213d" stroke-width="1.2"/>
<text transform="translate(59.3 335.9) scale(0.891 1)" font-size="9.6" fill="#3d3d3d">cGVHD</text>
<text transform="translate(9.2 356) rotate(-90) scale(0.804 1)" font-size="10" text-anchor="middle" fill="#3d3d3d">BCL6 MFI</text>
<text transform="translate(22.2 355.6) rotate(-90) scale(0.833 1)" font-size="10" text-anchor="middle" fill="#3d3d3d">relative to naive T</text>
<line x1="172.3" y1="313" x2="172.3" y2="396.9" stroke="#231f20" stroke-width="1.2"/>
<line x1="168.9" y1="396.3" x2="172.3" y2="396.3" stroke="#231f20" stroke-width="1.1"/>
<text transform="translate(166.3 399.6) scale(0.920 1)" font-size="10.2" text-anchor="end" fill="#3d3d3d">0</text>
<line x1="168.9" y1="369.5" x2="172.3" y2="369.5" stroke="#231f20" stroke-width="1.1"/>
<text transform="translate(166.3 372.8) scale(0.920 1)" font-size="10.2" text-anchor="end" fill="#3d3d3d">1</text>
<line x1="168.9" y1="342.7" x2="172.3" y2="342.7" stroke="#231f20" stroke-width="1.1"/>
<text transform="translate(166.3 346) scale(0.920 1)" font-size="10.2" text-anchor="end" fill="#3d3d3d">2</text>
<line x1="168.9" y1="315.9" x2="172.3" y2="315.9" stroke="#231f20" stroke-width="1.1"/>
<text transform="translate(166.3 319.2) scale(0.920 1)" font-size="10.2" text-anchor="end" fill="#3d3d3d">3</text>
<rect x="177" y="369.25" width="6.25" height="27.05" fill="#8596c4"/>
<path d="M175.88 367.34h4.5l-2.25 3.82z" fill="#1f4f8f" stroke="#1f4f8f" stroke-width="1.2" stroke-linejoin="round"/>
<path d="M176.88 367.34h4.5l-2.25 3.82z" fill="#1f4f8f" stroke="#1f4f8f" stroke-width="1.2" stroke-linejoin="round"/>
<path d="M177.88 367.34h4.5l-2.25 3.82z" fill="#1f4f8f" stroke="#1f4f8f" stroke-width="1.2" stroke-linejoin="round"/>
<path d="M178.88 367.34h4.5l-2.25 3.82z" fill="#1f4f8f" stroke="#1f4f8f" stroke-width="1.2" stroke-linejoin="round"/>
<path d="M179.88 367.34h4.5l-2.25 3.82z" fill="#1f4f8f" stroke="#1f4f8f" stroke-width="1.2" stroke-linejoin="round"/>
<rect x="187" y="369.25" width="6.75" height="27.05" fill="#eb9d90"/>
<rect x="186.72" y="367.6" width="3.3" height="3.3" fill="#d0213d" stroke="#d0213d" stroke-width="1.2"/>
<rect x="187.72" y="367.6" width="3.3" height="3.3" fill="#d0213d" stroke="#d0213d" stroke-width="1.2"/>
<rect x="188.72" y="367.6" width="3.3" height="3.3" fill="#d0213d" stroke="#d0213d" stroke-width="1.2"/>
<rect x="189.72" y="367.6" width="3.3" height="3.3" fill="#d0213d" stroke="#d0213d" stroke-width="1.2"/>
<rect x="190.72" y="367.6" width="3.3" height="3.3" fill="#d0213d" stroke="#d0213d" stroke-width="1.2"/>
<rect x="204.25" y="356.25" width="6.5" height="40.05" fill="#8596c4"/>
<line x1="207.5" y1="351.36" x2="207.5" y2="361.14" stroke="#1f4f8f" stroke-width="1"/>
<line x1="205.9" y1="351.36" x2="209.1" y2="351.36" stroke="#1f4f8f" stroke-width="1"/>
<path d="M205.25 335.59h4.5l-2.25 3.82z" fill="#fff" stroke="#1f4f8f" stroke-width="1.2" stroke-linejoin="round"/>
<path d="M204.15 354.34h4.5l-2.25 3.82z" fill="#fff" stroke="#1f4f8f" stroke-width="1.2" stroke-linejoin="round"/>
<path d="M206.35 356.84h4.5l-2.25 3.82z" fill="#fff" stroke="#1f4f8f" stroke-width="1.2" stroke-linejoin="round"/>
<path d="M204.75 358.84h4.5l-2.25 3.82z" fill="#fff" stroke="#1f4f8f" stroke-width="1.2" stroke-linejoin="round"/>
<path d="M205.75 364.34h4.5l-2.25 3.82z" fill="#fff" stroke="#1f4f8f" stroke-width="1.2" stroke-linejoin="round"/>
<line x1="205.9" y1="351.36" x2="209.1" y2="351.36" stroke="#1f4f8f" stroke-width="1"/>
<rect x="214.25" y="345" width="6.5" height="51.3" fill="#eb9d90"/>
<line x1="217.5" y1="341.02" x2="217.5" y2="348.98" stroke="#d0213d" stroke-width="1"/>
<line x1="215.9" y1="341.02" x2="219.1" y2="341.02" stroke="#d0213d" stroke-width="1"/>
<rect x="215.85" y="325.35" width="3.3" height="3.3" fill="#fff" stroke="#d0213d" stroke-width="1.2"/>
<rect x="214.75" y="336.6" width="3.3" height="3.3" fill="#fff" stroke="#d0213d" stroke-width="1.2"/>
<rect x="216.95" y="341.35" width="3.3" height="3.3" fill="#fff" stroke="#d0213d" stroke-width="1.2"/>
<rect x="215.35" y="344.6" width="3.3" height="3.3" fill="#fff" stroke="#d0213d" stroke-width="1.2"/>
<rect x="216.35" y="348.35" width="3.3" height="3.3" fill="#fff" stroke="#d0213d" stroke-width="1.2"/>
<line x1="215.9" y1="341.02" x2="219.1" y2="341.02" stroke="#d0213d" stroke-width="1"/>
<rect x="231.75" y="346.25" width="6.5" height="50.05" fill="#8596c4"/>
<line x1="235" y1="344.07" x2="235" y2="348.43" stroke="#1f4f8f" stroke-width="1"/>
<line x1="233.4" y1="344.07" x2="236.6" y2="344.07" stroke="#1f4f8f" stroke-width="1"/>
<path d="M232.75 335.59h4.5l-2.25 3.82z" fill="#fff" stroke="#1f4f8f" stroke-width="1.2" stroke-linejoin="round"/>
<path d="M231.65 339.34h4.5l-2.25 3.82z" fill="#fff" stroke="#1f4f8f" stroke-width="1.2" stroke-linejoin="round"/>
<path d="M233.85 342.59h4.5l-2.25 3.82z" fill="#fff" stroke="#1f4f8f" stroke-width="1.2" stroke-linejoin="round"/>
<path d="M232.25 345.09h4.5l-2.25 3.82z" fill="#fff" stroke="#1f4f8f" stroke-width="1.2" stroke-linejoin="round"/>
<path d="M233.25 348.09h4.5l-2.25 3.82z" fill="#fff" stroke="#1f4f8f" stroke-width="1.2" stroke-linejoin="round"/>
<line x1="233.4" y1="344.07" x2="236.6" y2="344.07" stroke="#1f4f8f" stroke-width="1"/>
<rect x="241.75" y="351.25" width="6.5" height="45.05" fill="#eb9d90"/>
<line x1="245" y1="347.59" x2="245" y2="354.91" stroke="#d0213d" stroke-width="1"/>
<line x1="243.4" y1="347.59" x2="246.6" y2="347.59" stroke="#d0213d" stroke-width="1"/>
<rect x="243.35" y="334.6" width="3.3" height="3.3" fill="#fff" stroke="#d0213d" stroke-width="1.2"/>
<rect x="242.25" y="340.85" width="3.3" height="3.3" fill="#fff" stroke="#d0213d" stroke-width="1.2"/>
<rect x="244.45" y="344.6" width="3.3" height="3.3" fill="#fff" stroke="#d0213d" stroke-width="1.2"/>
<rect x="242.85" y="349.6" width="3.3" height="3.3" fill="#fff" stroke="#d0213d" stroke-width="1.2"/>
<rect x="243.85" y="355.35" width="3.3" height="3.3" fill="#fff" stroke="#d0213d" stroke-width="1.2"/>
<rect x="241.95" y="358.35" width="3.3" height="3.3" fill="#fff" stroke="#d0213d" stroke-width="1.2"/>
<line x1="243.4" y1="347.59" x2="246.6" y2="347.59" stroke="#d0213d" stroke-width="1"/>
<line x1="171.7" y1="396.3" x2="251.25" y2="396.3" stroke="#231f20" stroke-width="1.2"/>
<line x1="185.5" y1="396.3" x2="185.5" y2="399.1" stroke="#231f20" stroke-width="1.1"/>
<line x1="212.5" y1="396.3" x2="212.5" y2="399.1" stroke="#231f20" stroke-width="1.1"/>
<line x1="240" y1="396.3" x2="240" y2="399.1" stroke="#231f20" stroke-width="1.1"/>
<text transform="translate(185.5 411) scale(0.902 1)" font-size="9.8" text-anchor="middle" fill="#3d3d3d">Naive T</text>
<text transform="translate(212.5 411) scale(0.954 1)" font-size="9.8" text-anchor="middle" fill="#3d3d3d">Tfh</text>
<text transform="translate(240 411) scale(0.888 1)" font-size="9.8" text-anchor="middle" fill="#3d3d3d">Tph</text>
<line x1="207.5" y1="322" x2="217.5" y2="322" stroke="#222" stroke-width="0.9"/>
<text transform="translate(212.5 323.6) scale(1.077 1)" font-size="10.5" text-anchor="middle" fill="#222">*</text>
<text transform="translate(143.4 355.9) rotate(-90) scale(0.715 1)" font-size="10" text-anchor="middle" fill="#3d3d3d">MAF MFI</text>
<text transform="translate(156.6 356.7) rotate(-90) scale(0.873 1)" font-size="10" text-anchor="middle" fill="#3d3d3d">relative to naive T</text>
<line x1="304.3" y1="313" x2="304.3" y2="396.9" stroke="#231f20" stroke-width="1.2"/>
<line x1="300.9" y1="396.3" x2="304.3" y2="396.3" stroke="#231f20" stroke-width="1.1"/>
<text transform="translate(298 399.6) scale(0.920 1)" font-size="10.2" text-anchor="end" fill="#3d3d3d">0</text>
<line x1="300.9" y1="369.5" x2="304.3" y2="369.5" stroke="#231f20" stroke-width="1.1"/>
<text transform="translate(298 372.8) scale(0.920 1)" font-size="10.2" text-anchor="end" fill="#3d3d3d">1</text>
<line x1="300.9" y1="342.7" x2="304.3" y2="342.7" stroke="#231f20" stroke-width="1.1"/>
<text transform="translate(298 346) scale(0.920 1)" font-size="10.2" text-anchor="end" fill="#3d3d3d">2</text>
<line x1="300.9" y1="315.9" x2="304.3" y2="315.9" stroke="#231f20" stroke-width="1.1"/>
<text transform="translate(298 319.2) scale(0.920 1)" font-size="10.2" text-anchor="end" fill="#3d3d3d">3</text>
<rect x="308.75" y="368.75" width="6.25" height="27.55" fill="#8596c4"/>
<path d="M307.62 366.84h4.5l-2.25 3.82z" fill="#1f4f8f" stroke="#1f4f8f" stroke-width="1.2" stroke-linejoin="round"/>
<path d="M308.62 366.84h4.5l-2.25 3.82z" fill="#1f4f8f" stroke="#1f4f8f" stroke-width="1.2" stroke-linejoin="round"/>
<path d="M309.62 366.84h4.5l-2.25 3.82z" fill="#1f4f8f" stroke="#1f4f8f" stroke-width="1.2" stroke-linejoin="round"/>
<path d="M310.62 366.84h4.5l-2.25 3.82z" fill="#1f4f8f" stroke="#1f4f8f" stroke-width="1.2" stroke-linejoin="round"/>
<path d="M311.62 366.84h4.5l-2.25 3.82z" fill="#1f4f8f" stroke="#1f4f8f" stroke-width="1.2" stroke-linejoin="round"/>
<rect x="318.75" y="368.75" width="6.25" height="27.55" fill="#eb9d90"/>
<rect x="318.23" y="367.1" width="3.3" height="3.3" fill="#d0213d" stroke="#d0213d" stroke-width="1.2"/>
<rect x="319.23" y="367.1" width="3.3" height="3.3" fill="#d0213d" stroke="#d0213d" stroke-width="1.2"/>
<rect x="320.23" y="367.1" width="3.3" height="3.3" fill="#d0213d" stroke="#d0213d" stroke-width="1.2"/>
<rect x="321.23" y="367.1" width="3.3" height="3.3" fill="#d0213d" stroke="#d0213d" stroke-width="1.2"/>
<rect x="322.23" y="367.1" width="3.3" height="3.3" fill="#d0213d" stroke="#d0213d" stroke-width="1.2"/>
<rect x="336.25" y="367" width="6.25" height="29.3" fill="#8596c4"/>
<line x1="339.38" y1="365.53" x2="339.38" y2="368.47" stroke="#1f4f8f" stroke-width="1"/>
<line x1="337.77" y1="365.53" x2="340.98" y2="365.53" stroke="#1f4f8f" stroke-width="1"/>
<path d="M337.12 360.59h4.5l-2.25 3.82z" fill="#fff" stroke="#1f4f8f" stroke-width="1.2" stroke-linejoin="round"/>
<path d="M336.02 362.59h4.5l-2.25 3.82z" fill="#fff" stroke="#1f4f8f" stroke-width="1.2" stroke-linejoin="round"/>
<path d="M338.23 364.34h4.5l-2.25 3.82z" fill="#fff" stroke="#1f4f8f" stroke-width="1.2" stroke-linejoin="round"/>
<path d="M336.62 366.84h4.5l-2.25 3.82z" fill="#fff" stroke="#1f4f8f" stroke-width="1.2" stroke-linejoin="round"/>
<path d="M337.62 368.84h4.5l-2.25 3.82z" fill="#fff" stroke="#1f4f8f" stroke-width="1.2" stroke-linejoin="round"/>
<line x1="337.77" y1="365.53" x2="340.98" y2="365.53" stroke="#1f4f8f" stroke-width="1"/>
<rect x="346.25" y="360.75" width="6.25" height="35.55" fill="#eb9d90"/>
<line x1="349.38" y1="356.88" x2="349.38" y2="364.62" stroke="#d0213d" stroke-width="1"/>
<line x1="347.77" y1="356.88" x2="350.98" y2="356.88" stroke="#d0213d" stroke-width="1"/>
<rect x="347.73" y="342.85" width="3.3" height="3.3" fill="#fff" stroke="#d0213d" stroke-width="1.2"/>
<rect x="346.62" y="355.85" width="3.3" height="3.3" fill="#fff" stroke="#d0213d" stroke-width="1.2"/>
<rect x="348.83" y="359.1" width="3.3" height="3.3" fill="#fff" stroke="#d0213d" stroke-width="1.2"/>
<rect x="347.23" y="360.85" width="3.3" height="3.3" fill="#fff" stroke="#d0213d" stroke-width="1.2"/>
<rect x="348.23" y="365.85" width="3.3" height="3.3" fill="#fff" stroke="#d0213d" stroke-width="1.2"/>
<line x1="347.77" y1="356.88" x2="350.98" y2="356.88" stroke="#d0213d" stroke-width="1"/>
<rect x="363.25" y="367.5" width="6.75" height="28.8" fill="#8596c4"/>
<line x1="366.62" y1="365.57" x2="366.62" y2="369.43" stroke="#1f4f8f" stroke-width="1"/>
<line x1="365.02" y1="365.57" x2="368.23" y2="365.57" stroke="#1f4f8f" stroke-width="1"/>
<path d="M364.38 359.34h4.5l-2.25 3.82z" fill="#fff" stroke="#1f4f8f" stroke-width="1.2" stroke-linejoin="round"/>
<path d="M363.27 362.59h4.5l-2.25 3.82z" fill="#fff" stroke="#1f4f8f" stroke-width="1.2" stroke-linejoin="round"/>
<path d="M365.48 366.09h4.5l-2.25 3.82z" fill="#fff" stroke="#1f4f8f" stroke-width="1.2" stroke-linejoin="round"/>
<path d="M363.88 368.09h4.5l-2.25 3.82z" fill="#fff" stroke="#1f4f8f" stroke-width="1.2" stroke-linejoin="round"/>
<line x1="365.02" y1="365.57" x2="368.23" y2="365.57" stroke="#1f4f8f" stroke-width="1"/>
<rect x="373.75" y="348.75" width="6.75" height="47.55" fill="#eb9d90"/>
<line x1="377.12" y1="343.38" x2="377.12" y2="354.12" stroke="#d0213d" stroke-width="1"/>
<line x1="375.52" y1="343.38" x2="378.73" y2="343.38" stroke="#d0213d" stroke-width="1"/>
<rect x="375.48" y="325.35" width="3.3" height="3.3" fill="#fff" stroke="#d0213d" stroke-width="1.2"/>
<rect x="374.38" y="340.35" width="3.3" height="3.3" fill="#fff" stroke="#d0213d" stroke-width="1.2"/>
<rect x="376.58" y="340.85" width="3.3" height="3.3" fill="#fff" stroke="#d0213d" stroke-width="1.2"/>
<rect x="374.98" y="350.85" width="3.3" height="3.3" fill="#fff" stroke="#d0213d" stroke-width="1.2"/>
<rect x="375.98" y="354.6" width="3.3" height="3.3" fill="#fff" stroke="#d0213d" stroke-width="1.2"/>
<rect x="374.08" y="362.85" width="3.3" height="3.3" fill="#fff" stroke="#d0213d" stroke-width="1.2"/>
<line x1="375.52" y1="343.38" x2="378.73" y2="343.38" stroke="#d0213d" stroke-width="1"/>
<line x1="303.7" y1="396.3" x2="383.75" y2="396.3" stroke="#231f20" stroke-width="1.2"/>
<line x1="317" y1="396.3" x2="317" y2="399.1" stroke="#231f20" stroke-width="1.1"/>
<line x1="344.5" y1="396.3" x2="344.5" y2="399.1" stroke="#231f20" stroke-width="1.1"/>
<line x1="371.5" y1="396.3" x2="371.5" y2="399.1" stroke="#231f20" stroke-width="1.1"/>
<text transform="translate(317 411) scale(0.902 1)" font-size="9.8" text-anchor="middle" fill="#3d3d3d">Naive T</text>
<text transform="translate(344.5 411) scale(0.954 1)" font-size="9.8" text-anchor="middle" fill="#3d3d3d">Tfh</text>
<text transform="translate(371.5 411) scale(0.888 1)" font-size="9.8" text-anchor="middle" fill="#3d3d3d">Tph</text>
<line x1="366.6" y1="321.25" x2="377.1" y2="321.25" stroke="#222" stroke-width="0.9"/>
<text transform="translate(371.85 322.85) scale(1.077 1)" font-size="10.5" text-anchor="middle" fill="#222">**</text>
<text transform="translate(275.3 354.3) rotate(-90) scale(0.801 1)" font-size="10" text-anchor="middle" fill="#3d3d3d">BLIMP1 MFI</text>
<text transform="translate(288.2 354) rotate(-90) scale(0.833 1)" font-size="10" text-anchor="middle" fill="#3d3d3d">relative to native T</text>
<text transform="translate(400.7 301.5) scale(0.925 1)" font-size="12.8" fill="#000" font-weight="bold">E</text>
<line x1="434.4" y1="313" x2="434.4" y2="396.6" stroke="#231f20" stroke-width="1.2"/>
<line x1="431" y1="396" x2="434.4" y2="396" stroke="#231f20" stroke-width="1.1"/>
<text transform="translate(428.4 399.3) scale(0.920 1)" font-size="10.2" text-anchor="end" fill="#3d3d3d">0</text>
<line x1="431" y1="380.05" x2="434.4" y2="380.05" stroke="#231f20" stroke-width="1.1"/>
<text transform="translate(428.4 383.35) scale(0.920 1)" font-size="10.2" text-anchor="end" fill="#3d3d3d">10</text>
<line x1="431" y1="364.1" x2="434.4" y2="364.1" stroke="#231f20" stroke-width="1.1"/>
<text transform="translate(428.4 367.4) scale(0.920 1)" font-size="10.2" text-anchor="end" fill="#3d3d3d">20</text>
<line x1="431" y1="348.15" x2="434.4" y2="348.15" stroke="#231f20" stroke-width="1.1"/>
<text transform="translate(428.4 351.45) scale(0.920 1)" font-size="10.2" text-anchor="end" fill="#3d3d3d">30</text>
<line x1="431" y1="332.2" x2="434.4" y2="332.2" stroke="#231f20" stroke-width="1.1"/>
<text transform="translate(428.4 335.5) scale(0.920 1)" font-size="10.2" text-anchor="end" fill="#3d3d3d">40</text>
<line x1="431" y1="316.25" x2="434.4" y2="316.25" stroke="#231f20" stroke-width="1.1"/>
<text transform="translate(428.4 319.55) scale(0.920 1)" font-size="10.2" text-anchor="end" fill="#3d3d3d">50</text>
<rect x="439.25" y="392.5" width="6.25" height="3.5" fill="#8596c4"/>
<line x1="442.38" y1="391.76" x2="442.38" y2="393.24" stroke="#1f4f8f" stroke-width="1"/>
<line x1="440.77" y1="391.76" x2="443.98" y2="391.76" stroke="#1f4f8f" stroke-width="1"/>
<path d="M440.12 387.59h4.5l-2.25 3.82z" fill="#fff" stroke="#1f4f8f" stroke-width="1.2" stroke-linejoin="round"/>
<path d="M439.02 389.34h4.5l-2.25 3.82z" fill="#fff" stroke="#1f4f8f" stroke-width="1.2" stroke-linejoin="round"/>
<path d="M441.23 391.09h4.5l-2.25 3.82z" fill="#fff" stroke="#1f4f8f" stroke-width="1.2" stroke-linejoin="round"/>
<path d="M439.62 390.09h4.5l-2.25 3.82z" fill="#fff" stroke="#1f4f8f" stroke-width="1.2" stroke-linejoin="round"/>
<line x1="440.77" y1="391.76" x2="443.98" y2="391.76" stroke="#1f4f8f" stroke-width="1"/>
<rect x="466.25" y="355" width="6.25" height="41" fill="#8596c4"/>
<line x1="469.38" y1="352.42" x2="469.38" y2="357.58" stroke="#1f4f8f" stroke-width="1"/>
<line x1="467.77" y1="352.42" x2="470.98" y2="352.42" stroke="#1f4f8f" stroke-width="1"/>
<path d="M467.12 346.09h4.5l-2.25 3.82z" fill="#fff" stroke="#1f4f8f" stroke-width="1.2" stroke-linejoin="round"/>
<path d="M466.02 351.84h4.5l-2.25 3.82z" fill="#fff" stroke="#1f4f8f" stroke-width="1.2" stroke-linejoin="round"/>
<path d="M468.23 353.59h4.5l-2.25 3.82z" fill="#fff" stroke="#1f4f8f" stroke-width="1.2" stroke-linejoin="round"/>
<path d="M466.62 355.59h4.5l-2.25 3.82z" fill="#fff" stroke="#1f4f8f" stroke-width="1.2" stroke-linejoin="round"/>
<path d="M467.62 357.59h4.5l-2.25 3.82z" fill="#fff" stroke="#1f4f8f" stroke-width="1.2" stroke-linejoin="round"/>
<path d="M465.73 365.09h4.5l-2.25 3.82z" fill="#fff" stroke="#1f4f8f" stroke-width="1.2" stroke-linejoin="round"/>
<line x1="467.77" y1="352.42" x2="470.98" y2="352.42" stroke="#1f4f8f" stroke-width="1"/>
<rect x="476.25" y="372" width="6.25" height="24" fill="#eb9d90"/>
<line x1="479.38" y1="366.47" x2="479.38" y2="377.53" stroke="#d0213d" stroke-width="1"/>
<line x1="477.77" y1="366.47" x2="480.98" y2="366.47" stroke="#d0213d" stroke-width="1"/>
<rect x="477.73" y="344.6" width="3.3" height="3.3" fill="#fff" stroke="#d0213d" stroke-width="1.2"/>
<rect x="476.62" y="363.35" width="3.3" height="3.3" fill="#fff" stroke="#d0213d" stroke-width="1.2"/>
<rect x="478.83" y="370.35" width="3.3" height="3.3" fill="#fff" stroke="#d0213d" stroke-width="1.2"/>
<rect x="477.23" y="373.35" width="3.3" height="3.3" fill="#fff" stroke="#d0213d" stroke-width="1.2"/>
<rect x="478.23" y="377.1" width="3.3" height="3.3" fill="#fff" stroke="#d0213d" stroke-width="1.2"/>
<rect x="476.33" y="383.35" width="3.3" height="3.3" fill="#fff" stroke="#d0213d" stroke-width="1.2"/>
<line x1="477.77" y1="366.47" x2="480.98" y2="366.47" stroke="#d0213d" stroke-width="1"/>
<rect x="493.75" y="353.75" width="6.25" height="42.25" fill="#8596c4"/>
<line x1="496.88" y1="346.66" x2="496.88" y2="360.84" stroke="#1f4f8f" stroke-width="1"/>
<line x1="495.27" y1="346.66" x2="498.48" y2="346.66" stroke="#1f4f8f" stroke-width="1"/>
<path d="M494.62 328.09h4.5l-2.25 3.82z" fill="#fff" stroke="#1f4f8f" stroke-width="1.2" stroke-linejoin="round"/>
<path d="M493.52 344.34h4.5l-2.25 3.82z" fill="#fff" stroke="#1f4f8f" stroke-width="1.2" stroke-linejoin="round"/>
<path d="M495.73 352.59h4.5l-2.25 3.82z" fill="#fff" stroke="#1f4f8f" stroke-width="1.2" stroke-linejoin="round"/>
<path d="M494.12 359.34h4.5l-2.25 3.82z" fill="#fff" stroke="#1f4f8f" stroke-width="1.2" stroke-linejoin="round"/>
<path d="M495.12 370.09h4.5l-2.25 3.82z" fill="#fff" stroke="#1f4f8f" stroke-width="1.2" stroke-linejoin="round"/>
<line x1="495.27" y1="346.66" x2="498.48" y2="346.66" stroke="#1f4f8f" stroke-width="1"/>
<rect x="503.75" y="365" width="6.75" height="31" fill="#eb9d90"/>
<line x1="507.12" y1="357.3" x2="507.12" y2="372.7" stroke="#d0213d" stroke-width="1"/>
<line x1="505.52" y1="357.3" x2="508.73" y2="357.3" stroke="#d0213d" stroke-width="1"/>
<rect x="505.48" y="334.6" width="3.3" height="3.3" fill="#fff" stroke="#d0213d" stroke-width="1.2"/>
<rect x="504.38" y="349.6" width="3.3" height="3.3" fill="#fff" stroke="#d0213d" stroke-width="1.2"/>
<rect x="506.58" y="362.1" width="3.3" height="3.3" fill="#fff" stroke="#d0213d" stroke-width="1.2"/>
<rect x="504.98" y="367.1" width="3.3" height="3.3" fill="#fff" stroke="#d0213d" stroke-width="1.2"/>
<rect x="505.98" y="374.6" width="3.3" height="3.3" fill="#fff" stroke="#d0213d" stroke-width="1.2"/>
<rect x="504.08" y="388.35" width="3.3" height="3.3" fill="#fff" stroke="#d0213d" stroke-width="1.2"/>
<line x1="505.52" y1="357.3" x2="508.73" y2="357.3" stroke="#d0213d" stroke-width="1"/>
<line x1="433.8" y1="396" x2="515" y2="396" stroke="#231f20" stroke-width="1.2"/>
<line x1="447" y1="396" x2="447" y2="398.8" stroke="#231f20" stroke-width="1.1"/>
<line x1="474.3" y1="396" x2="474.3" y2="398.8" stroke="#231f20" stroke-width="1.1"/>
<line x1="502" y1="396" x2="502" y2="398.8" stroke="#231f20" stroke-width="1.1"/>
<text transform="translate(447 411) scale(0.902 1)" font-size="9.8" text-anchor="middle" fill="#3d3d3d">Naive T</text>
<text transform="translate(474.3 411) scale(0.954 1)" font-size="9.8" text-anchor="middle" fill="#3d3d3d">Tfh</text>
<text transform="translate(502 411) scale(0.888 1)" font-size="9.8" text-anchor="middle" fill="#3d3d3d">Tph</text>
<text transform="translate(412.27 354.4) rotate(-90) scale(0.850 1)" font-size="10.2" text-anchor="middle" fill="#3d3d3d">% IL-21<tspan dy="-3.2" font-size="6">+</tspan><tspan dy="3.2"> cells</tspan></text>
<text transform="translate(1.6 434) scale(0.934 1)" font-size="12.8" fill="#000" font-weight="bold">F</text>
<line x1="43.6" y1="448" x2="43.6" y2="517.2" stroke="#231f20" stroke-width="1.2"/>
<line x1="40.2" y1="516.6" x2="43.6" y2="516.6" stroke="#231f20" stroke-width="1.1"/>
<text transform="translate(36.2 519.9) scale(0.920 1)" font-size="10.2" text-anchor="end" fill="#3d3d3d">0</text>
<line x1="40.2" y1="500.25" x2="43.6" y2="500.25" stroke="#231f20" stroke-width="1.1"/>
<text transform="translate(36.2 503.55) scale(0.920 1)" font-size="10.2" text-anchor="end" fill="#3d3d3d">10</text>
<line x1="40.2" y1="483.9" x2="43.6" y2="483.9" stroke="#231f20" stroke-width="1.1"/>
<text transform="translate(36.2 487.2) scale(0.920 1)" font-size="10.2" text-anchor="end" fill="#3d3d3d">20</text>
<line x1="40.2" y1="467.55" x2="43.6" y2="467.55" stroke="#231f20" stroke-width="1.1"/>
<text transform="translate(36.2 470.85) scale(0.920 1)" font-size="10.2" text-anchor="end" fill="#3d3d3d">30</text>
<line x1="40.2" y1="451.2" x2="43.6" y2="451.2" stroke="#231f20" stroke-width="1.1"/>
<text transform="translate(36.2 454.5) scale(0.920 1)" font-size="10.2" text-anchor="end" fill="#3d3d3d">40</text>
<rect x="47.6" y="484" width="8.8" height="32.6" fill="#8596c4"/>
<line x1="52" y1="478.92" x2="52" y2="489.08" stroke="#2b5c9a" stroke-width="1"/>
<line x1="50.4" y1="478.92" x2="53.6" y2="478.92" stroke="#2b5c9a" stroke-width="1"/>
<circle cx="52" cy="466.1" r="1.95" fill="#fff" stroke="#2b5c9a" stroke-width="1.1"/>
<circle cx="52" cy="476.2" r="1.95" fill="#fff" stroke="#2b5c9a" stroke-width="1.1"/>
<circle cx="50" cy="484.9" r="1.95" fill="#fff" stroke="#2b5c9a" stroke-width="1.1"/>
<circle cx="53.5" cy="489.2" r="1.95" fill="#fff" stroke="#2b5c9a" stroke-width="1.1"/>
<circle cx="51.5" cy="495" r="1.95" fill="#fff" stroke="#2b5c9a" stroke-width="1.1"/>
<line x1="50.4" y1="478.92" x2="53.6" y2="478.92" stroke="#2b5c9a" stroke-width="1"/>
<rect x="56.4" y="489.2" width="8.5" height="27.4" fill="#eb9d90"/>
<line x1="60.65" y1="485.6" x2="60.65" y2="492.8" stroke="#d0213d" stroke-width="1"/>
<line x1="59.05" y1="485.6" x2="62.25" y2="485.6" stroke="#d0213d" stroke-width="1"/>
<rect x="59.5" y="473.15" width="3.3" height="3.3" fill="#fff" stroke="#d0213d" stroke-width="1.2"/>
<rect x="59" y="482.35" width="3.3" height="3.3" fill="#fff" stroke="#d0213d" stroke-width="1.2"/>
<rect x="57.2" y="489.05" width="3.3" height="3.3" fill="#fff" stroke="#d0213d" stroke-width="1.2"/>
<rect x="61" y="489.05" width="3.3" height="3.3" fill="#fff" stroke="#d0213d" stroke-width="1.2"/>
<rect x="58" y="493.95" width="3.3" height="3.3" fill="#fff" stroke="#d0213d" stroke-width="1.2"/>
<line x1="59.05" y1="485.6" x2="62.25" y2="485.6" stroke="#d0213d" stroke-width="1"/>
<rect x="73.6" y="479.1" width="8.8" height="37.5" fill="#8596c4"/>
<line x1="78" y1="475.41" x2="78" y2="482.79" stroke="#2b5c9a" stroke-width="1"/>
<line x1="76.4" y1="475.41" x2="79.6" y2="475.41" stroke="#2b5c9a" stroke-width="1"/>
<circle cx="78" cy="466.1" r="1.95" fill="#fff" stroke="#2b5c9a" stroke-width="1.1"/>
<circle cx="77.5" cy="472.8" r="1.95" fill="#fff" stroke="#2b5c9a" stroke-width="1.1"/>
<circle cx="78" cy="480.6" r="1.95" fill="#fff" stroke="#2b5c9a" stroke-width="1.1"/>
<circle cx="76.5" cy="484" r="1.95" fill="#fff" stroke="#2b5c9a" stroke-width="1.1"/>
<circle cx="80" cy="485.8" r="1.95" fill="#fff" stroke="#2b5c9a" stroke-width="1.1"/>
<line x1="76.4" y1="475.41" x2="79.6" y2="475.41" stroke="#2b5c9a" stroke-width="1"/>
<rect x="82.4" y="486.9" width="8.5" height="29.7" fill="#eb9d90"/>
<line x1="86.65" y1="484.68" x2="86.65" y2="489.12" stroke="#d0213d" stroke-width="1"/>
<line x1="85.05" y1="484.68" x2="88.25" y2="484.68" stroke="#d0213d" stroke-width="1"/>
<rect x="85.5" y="478.35" width="3.3" height="3.3" fill="#fff" stroke="#d0213d" stroke-width="1.2"/>
<rect x="83.5" y="486.15" width="3.3" height="3.3" fill="#fff" stroke="#d0213d" stroke-width="1.2"/>
<rect x="87" y="486.95" width="3.3" height="3.3" fill="#fff" stroke="#d0213d" stroke-width="1.2"/>
<rect x="83" y="488.15" width="3.3" height="3.3" fill="#fff" stroke="#d0213d" stroke-width="1.2"/>
<line x1="85.05" y1="484.68" x2="88.25" y2="484.68" stroke="#d0213d" stroke-width="1"/>
<rect x="99.5" y="513.7" width="8.9" height="2.9" fill="#8596c4"/>
<line x1="103.95" y1="511.8" x2="103.95" y2="515.6" stroke="#2b5c9a" stroke-width="1"/>
<line x1="102.35" y1="511.8" x2="105.55" y2="511.8" stroke="#2b5c9a" stroke-width="1"/>
<circle cx="103.95" cy="506.5" r="1.95" fill="#fff" stroke="#2b5c9a" stroke-width="1.1"/>
<circle cx="102.95" cy="512.3" r="1.95" fill="#fff" stroke="#2b5c9a" stroke-width="1.1"/>
<circle cx="105.45" cy="513.7" r="1.95" fill="#fff" stroke="#2b5c9a" stroke-width="1.1"/>
<circle cx="102.45" cy="515.2" r="1.95" fill="#fff" stroke="#2b5c9a" stroke-width="1.1"/>
<line x1="102.35" y1="511.8" x2="105.55" y2="511.8" stroke="#2b5c9a" stroke-width="1"/>
<rect x="108.4" y="500.8" width="8.4" height="15.8" fill="#eb9d90"/>
<line x1="112.6" y1="499.75" x2="112.6" y2="501.85" stroke="#d0213d" stroke-width="1"/>
<line x1="111" y1="499.75" x2="114.2" y2="499.75" stroke="#d0213d" stroke-width="1"/>
<rect x="109.95" y="495.65" width="3.3" height="3.3" fill="#fff" stroke="#d0213d" stroke-width="1.2"/>
<rect x="112.45" y="497.65" width="3.3" height="3.3" fill="#fff" stroke="#d0213d" stroke-width="1.2"/>
<rect x="108.95" y="499.15" width="3.3" height="3.3" fill="#fff" stroke="#d0213d" stroke-width="1.2"/>
<rect x="112.95" y="500.55" width="3.3" height="3.3" fill="#fff" stroke="#d0213d" stroke-width="1.2"/>
<line x1="111" y1="499.75" x2="114.2" y2="499.75" stroke="#d0213d" stroke-width="1"/>
<rect x="125.5" y="497.9" width="8.8" height="18.7" fill="#8596c4"/>
<line x1="129.9" y1="495.05" x2="129.9" y2="500.75" stroke="#2b5c9a" stroke-width="1"/>
<line x1="128.3" y1="495.05" x2="131.5" y2="495.05" stroke="#2b5c9a" stroke-width="1"/>
<circle cx="127.9" cy="488.6" r="1.95" fill="#fff" stroke="#2b5c9a" stroke-width="1.1"/>
<circle cx="131.4" cy="493.6" r="1.95" fill="#fff" stroke="#2b5c9a" stroke-width="1.1"/>
<circle cx="127.9" cy="497.9" r="1.95" fill="#fff" stroke="#2b5c9a" stroke-width="1.1"/>
<circle cx="131.4" cy="500.8" r="1.95" fill="#fff" stroke="#2b5c9a" stroke-width="1.1"/>
<circle cx="129.9" cy="505.1" r="1.95" fill="#fff" stroke="#2b5c9a" stroke-width="1.1"/>
<line x1="128.3" y1="495.05" x2="131.5" y2="495.05" stroke="#2b5c9a" stroke-width="1"/>
<rect x="134.3" y="476.2" width="8.5" height="40.4" fill="#eb9d90"/>
<line x1="138.55" y1="475.36" x2="138.55" y2="477.04" stroke="#d0213d" stroke-width="1"/>
<line x1="136.95" y1="475.36" x2="140.15" y2="475.36" stroke="#d0213d" stroke-width="1"/>
<rect x="135.4" y="476.05" width="3.3" height="3.3" fill="#fff" stroke="#d0213d" stroke-width="1.2"/>
<rect x="138.9" y="477.45" width="3.3" height="3.3" fill="#fff" stroke="#d0213d" stroke-width="1.2"/>
<rect x="136.9" y="478.95" width="3.3" height="3.3" fill="#fff" stroke="#d0213d" stroke-width="1.2"/>
<line x1="136.95" y1="475.36" x2="140.15" y2="475.36" stroke="#d0213d" stroke-width="1"/>
<line x1="43" y1="516.6" x2="148" y2="516.6" stroke="#231f20" stroke-width="1.2"/>
<line x1="56.2" y1="516.6" x2="56.2" y2="519.4" stroke="#231f20" stroke-width="1.1"/>
<line x1="82.3" y1="516.6" x2="82.3" y2="519.4" stroke="#231f20" stroke-width="1.1"/>
<line x1="108.3" y1="516.6" x2="108.3" y2="519.4" stroke="#231f20" stroke-width="1.1"/>
<line x1="134.3" y1="516.6" x2="134.3" y2="519.4" stroke="#231f20" stroke-width="1.1"/>
<text transform="translate(56.3 529.8) scale(0.877 1)" font-size="9.8" text-anchor="middle" fill="#3d3d3d">IL-2</text>
<text transform="translate(83.05 529.8) scale(0.899 1)" font-size="9.8" text-anchor="middle" fill="#3d3d3d">CXCL13</text>
<text transform="translate(108.65 529.8) scale(0.811 1)" font-size="9.8" text-anchor="middle" fill="#3d3d3d">IL-4</text>
<text transform="translate(131.5 529.8) scale(0.660 1)" font-size="9.8" text-anchor="middle" fill="#3d3d3d">IFN-γ</text>
<line x1="102.4" y1="493.6" x2="111" y2="493.6" stroke="#222" stroke-width="0.9"/>
<text transform="translate(106.7 495.2) scale(1.077 1)" font-size="10.5" text-anchor="middle" fill="#222">*</text>
<line x1="130.7" y1="468.5" x2="139.9" y2="468.5" stroke="#222" stroke-width="0.9"/>
<text transform="translate(135.3 470.1) scale(1.077 1)" font-size="10.5" text-anchor="middle" fill="#222">**</text>
<circle cx="51.9" cy="442.5" r="1.95" fill="#fff" stroke="#2b5c9a" stroke-width="1.1"/>
<text transform="translate(56.2 445.9) scale(0.891 1)" font-size="9.6" fill="#3d3d3d">IL21<tspan dy="-3" font-size="6">+</tspan><tspan dy="3">Tfh-No GVHD</tspan></text>
<rect x="50.25" y="449.55" width="3.3" height="3.3" fill="#fff" stroke="#d0213d" stroke-width="1.2"/>
<text transform="translate(56.2 454.6) scale(0.883 1)" font-size="9.6" fill="#3d3d3d">IL21<tspan dy="-3" font-size="6">+</tspan><tspan dy="3">Tph-cGVHD</tspan></text>
<text transform="translate(9.57 483) rotate(-90) scale(0.797 1)" font-size="10.2" text-anchor="middle" fill="#3d3d3d">% Cytokine</text>
<text transform="translate(22.67 482.3) rotate(-90) scale(0.829 1)" font-size="10.2" text-anchor="middle" fill="#3d3d3d">producing cells</text>
<text transform="translate(167.1 434.2) scale(1.039 1)" font-size="12.8" fill="#000" font-weight="bold">H</text>
<line x1="212.2" y1="449" x2="212.2" y2="516.9" stroke="#231f20" stroke-width="1.2"/>
<line x1="208.8" y1="516.3" x2="212.2" y2="516.3" stroke="#231f20" stroke-width="1.1"/>
<text transform="translate(206.2 519.6) scale(0.920 1)" font-size="10.2" text-anchor="end" fill="#3d3d3d">0</text>
<line x1="208.8" y1="503.64" x2="212.2" y2="503.64" stroke="#231f20" stroke-width="1.1"/>
<text transform="translate(206.2 506.94) scale(0.920 1)" font-size="10.2" text-anchor="end" fill="#3d3d3d">2</text>
<line x1="208.8" y1="490.98" x2="212.2" y2="490.98" stroke="#231f20" stroke-width="1.1"/>
<text transform="translate(206.2 494.28) scale(0.920 1)" font-size="10.2" text-anchor="end" fill="#3d3d3d">4</text>
<line x1="208.8" y1="478.32" x2="212.2" y2="478.32" stroke="#231f20" stroke-width="1.1"/>
<text transform="translate(206.2 481.62) scale(0.920 1)" font-size="10.2" text-anchor="end" fill="#3d3d3d">6</text>
<line x1="208.8" y1="465.66" x2="212.2" y2="465.66" stroke="#231f20" stroke-width="1.1"/>
<text transform="translate(206.2 468.96) scale(0.920 1)" font-size="10.2" text-anchor="end" fill="#3d3d3d">8</text>
<line x1="208.8" y1="453" x2="212.2" y2="453" stroke="#231f20" stroke-width="1.1"/>
<text transform="translate(206.2 456.3) scale(0.920 1)" font-size="10.2" text-anchor="end" fill="#3d3d3d">10</text>
<line x1="210.2" y1="509.97" x2="212.2" y2="509.97" stroke="#231f20" stroke-width="0.9"/>
<line x1="210.2" y1="497.31" x2="212.2" y2="497.31" stroke="#231f20" stroke-width="0.9"/>
<line x1="210.2" y1="484.65" x2="212.2" y2="484.65" stroke="#231f20" stroke-width="0.9"/>
<line x1="210.2" y1="471.99" x2="212.2" y2="471.99" stroke="#231f20" stroke-width="0.9"/>
<line x1="210.2" y1="459.33" x2="212.2" y2="459.33" stroke="#231f20" stroke-width="0.9"/>
<rect x="218" y="513.4" width="9.5" height="2.9" fill="#8cc4a8"/>
<line x1="222.75" y1="511.96" x2="222.75" y2="514.84" stroke="#2a8a62" stroke-width="1"/>
<line x1="221.15" y1="511.96" x2="224.35" y2="511.96" stroke="#2a8a62" stroke-width="1"/>
<circle cx="222.25" cy="508.2" r="1.95" fill="#fff" stroke="#2a8a62" stroke-width="1.1"/>
<circle cx="219.75" cy="515.1" r="1.95" fill="#fff" stroke="#2a8a62" stroke-width="1.1"/>
<circle cx="222.25" cy="514.2" r="1.95" fill="#fff" stroke="#2a8a62" stroke-width="1.1"/>
<circle cx="224.55" cy="516" r="1.95" fill="#fff" stroke="#2a8a62" stroke-width="1.1"/>
<circle cx="225.75" cy="515.6" r="1.95" fill="#fff" stroke="#2a8a62" stroke-width="1.1"/>
<line x1="221.15" y1="511.96" x2="224.35" y2="511.96" stroke="#2a8a62" stroke-width="1"/>
<rect x="233" y="495.2" width="8.9" height="21.1" fill="#e8928a"/>
<line x1="237.45" y1="494.32" x2="237.45" y2="496.08" stroke="#d0213d" stroke-width="1"/>
<line x1="235.85" y1="494.32" x2="239.05" y2="494.32" stroke="#d0213d" stroke-width="1"/>
<circle cx="236.95" cy="490.3" r="1.95" fill="#fff" stroke="#d0213d" stroke-width="1.1"/>
<circle cx="234.45" cy="496.4" r="1.95" fill="#fff" stroke="#d0213d" stroke-width="1.1"/>
<circle cx="237.45" cy="495.2" r="1.95" fill="#fff" stroke="#d0213d" stroke-width="1.1"/>
<circle cx="240.45" cy="495.2" r="1.95" fill="#fff" stroke="#d0213d" stroke-width="1.1"/>
<circle cx="235.95" cy="493.1" r="1.95" fill="#fff" stroke="#d0213d" stroke-width="1.1"/>
<circle cx="239.45" cy="494" r="1.95" fill="#fff" stroke="#d0213d" stroke-width="1.1"/>
<line x1="235.85" y1="494.32" x2="239.05" y2="494.32" stroke="#d0213d" stroke-width="1"/>
<rect x="247.4" y="513.4" width="9.5" height="2.9" fill="#b39ccc"/>
<line x1="252.15" y1="510.57" x2="252.15" y2="516.23" stroke="#5e2a7e" stroke-width="1"/>
<line x1="250.55" y1="510.57" x2="253.75" y2="510.57" stroke="#5e2a7e" stroke-width="1"/>
<circle cx="252.15" cy="501.2" r="1.95" fill="#fff" stroke="#5e2a7e" stroke-width="1.1"/>
<circle cx="252.15" cy="509" r="1.95" fill="#fff" stroke="#5e2a7e" stroke-width="1.1"/>
<circle cx="249.15" cy="515.6" r="1.95" fill="#fff" stroke="#5e2a7e" stroke-width="1.1"/>
<circle cx="252.15" cy="515.6" r="1.95" fill="#fff" stroke="#5e2a7e" stroke-width="1.1"/>
<circle cx="255.15" cy="515.3" r="1.95" fill="#fff" stroke="#5e2a7e" stroke-width="1.1"/>
<line x1="250.55" y1="510.57" x2="253.75" y2="510.57" stroke="#5e2a7e" stroke-width="1"/>
<rect x="263" y="477.5" width="8.6" height="38.8" fill="#8596c4"/>
<line x1="267.3" y1="473.15" x2="267.3" y2="481.85" stroke="#2b5c9a" stroke-width="1"/>
<line x1="265.7" y1="473.15" x2="268.9" y2="473.15" stroke="#2b5c9a" stroke-width="1"/>
<circle cx="267.7" cy="465.4" r="1.95" fill="#fff" stroke="#2b5c9a" stroke-width="1.1"/>
<circle cx="267.7" cy="470.1" r="1.95" fill="#fff" stroke="#2b5c9a" stroke-width="1.1"/>
<circle cx="267.5" cy="477.9" r="1.95" fill="#fff" stroke="#2b5c9a" stroke-width="1.1"/>
<circle cx="267.7" cy="481.3" r="1.95" fill="#fff" stroke="#2b5c9a" stroke-width="1.1"/>
<circle cx="267.5" cy="490.3" r="1.95" fill="#fff" stroke="#2b5c9a" stroke-width="1.1"/>
<line x1="265.7" y1="473.15" x2="268.9" y2="473.15" stroke="#2b5c9a" stroke-width="1"/>
<rect x="277.7" y="504.7" width="9.5" height="11.6" fill="#fbd29c"/>
<line x1="282.45" y1="502.54" x2="282.45" y2="506.86" stroke="#f3a22c" stroke-width="1"/>
<line x1="280.85" y1="502.54" x2="284.05" y2="502.54" stroke="#f3a22c" stroke-width="1"/>
<circle cx="281.95" cy="492.1" r="1.95" fill="#fff" stroke="#f3a22c" stroke-width="1.1"/>
<circle cx="281.15" cy="503" r="1.95" fill="#fff" stroke="#f3a22c" stroke-width="1.1"/>
<circle cx="284.45" cy="503.8" r="1.95" fill="#fff" stroke="#f3a22c" stroke-width="1.1"/>
<circle cx="279.45" cy="505.6" r="1.95" fill="#fff" stroke="#f3a22c" stroke-width="1.1"/>
<circle cx="282.95" cy="506.4" r="1.95" fill="#fff" stroke="#f3a22c" stroke-width="1.1"/>
<circle cx="285.45" cy="504.8" r="1.95" fill="#fff" stroke="#f3a22c" stroke-width="1.1"/>
<line x1="280.85" y1="502.54" x2="284.05" y2="502.54" stroke="#f3a22c" stroke-width="1"/>
<line x1="211.6" y1="516.3" x2="291.3" y2="516.3" stroke="#231f20" stroke-width="1.2"/>
<line x1="222.7" y1="516.3" x2="222.7" y2="519.1" stroke="#231f20" stroke-width="1.1"/>
<line x1="237.4" y1="516.3" x2="237.4" y2="519.1" stroke="#231f20" stroke-width="1.1"/>
<line x1="252.1" y1="516.3" x2="252.1" y2="519.1" stroke="#231f20" stroke-width="1.1"/>
<line x1="267.3" y1="516.3" x2="267.3" y2="519.1" stroke="#231f20" stroke-width="1.1"/>
<line x1="282.4" y1="516.3" x2="282.4" y2="519.1" stroke="#231f20" stroke-width="1.1"/>
<line x1="222.8" y1="485.2" x2="235.8" y2="485.2" stroke="#222" stroke-width="0.9"/>
<text transform="translate(229.3 486.8) scale(1.077 1)" font-size="10.5" text-anchor="middle" fill="#222">***</text>
<line x1="238.4" y1="479.1" x2="252.1" y2="479.1" stroke="#222" stroke-width="0.9"/>
<text transform="translate(245.25 480.7) scale(1.077 1)" font-size="10.5" text-anchor="middle" fill="#222">***</text>
<line x1="236.7" y1="460.6" x2="265.6" y2="460.6" stroke="#222" stroke-width="0.9"/>
<text transform="translate(251.15 462.2) scale(1.077 1)" font-size="10.5" text-anchor="middle" fill="#222">***</text>
<line x1="267.3" y1="460.6" x2="282" y2="460.6" stroke="#222" stroke-width="0.9"/>
<text transform="translate(274.65 462.2) scale(1.077 1)" font-size="10.5" text-anchor="middle" fill="#222">****</text>
<text transform="translate(189.57 483) rotate(-90) scale(0.797 1)" font-size="10.2" text-anchor="middle" fill="#3d3d3d">% Plasma cells</text>
<line x1="337.4" y1="449" x2="337.4" y2="516.9" stroke="#231f20" stroke-width="1.2"/>
<line x1="334" y1="516.3" x2="337.4" y2="516.3" stroke="#231f20" stroke-width="1.1"/>
<text transform="translate(330.8 519.6) scale(0.920 1)" font-size="10.2" text-anchor="end" fill="#3d3d3d">0</text>
<line x1="334" y1="495" x2="337.4" y2="495" stroke="#231f20" stroke-width="1.1"/>
<text transform="translate(330.8 498.3) scale(0.920 1)" font-size="10.2" text-anchor="end" fill="#3d3d3d">20</text>
<line x1="334" y1="473.7" x2="337.4" y2="473.7" stroke="#231f20" stroke-width="1.1"/>
<text transform="translate(330.8 477) scale(0.920 1)" font-size="10.2" text-anchor="end" fill="#3d3d3d">40</text>
<line x1="334" y1="452.4" x2="337.4" y2="452.4" stroke="#231f20" stroke-width="1.1"/>
<text transform="translate(330.8 455.7) scale(0.920 1)" font-size="10.2" text-anchor="end" fill="#3d3d3d">60</text>
<line x1="335.4" y1="505.65" x2="337.4" y2="505.65" stroke="#231f20" stroke-width="0.9"/>
<line x1="335.4" y1="484.35" x2="337.4" y2="484.35" stroke="#231f20" stroke-width="0.9"/>
<line x1="335.4" y1="463.05" x2="337.4" y2="463.05" stroke="#231f20" stroke-width="0.9"/>
<rect x="342.3" y="500.8" width="8.8" height="15.5" fill="#8cc4a8"/>
<line x1="346.7" y1="500.4" x2="346.7" y2="501.2" stroke="#2a8a62" stroke-width="1"/>
<line x1="345.1" y1="500.4" x2="348.3" y2="500.4" stroke="#2a8a62" stroke-width="1"/>
<circle cx="343.7" cy="500.8" r="1.95" fill="#fff" stroke="#2a8a62" stroke-width="1.1"/>
<circle cx="346.7" cy="499.6" r="1.95" fill="#fff" stroke="#2a8a62" stroke-width="1.1"/>
<circle cx="349.7" cy="500.8" r="1.95" fill="#fff" stroke="#2a8a62" stroke-width="1.1"/>
<line x1="345.1" y1="500.4" x2="348.3" y2="500.4" stroke="#2a8a62" stroke-width="1"/>
<rect x="356.9" y="482.3" width="8.5" height="34" fill="#e8928a"/>
<line x1="361.15" y1="480.3" x2="361.15" y2="484.3" stroke="#d0213d" stroke-width="1"/>
<line x1="359.55" y1="480.3" x2="362.75" y2="480.3" stroke="#d0213d" stroke-width="1"/>
<circle cx="361.15" cy="472.6" r="1.95" fill="#fff" stroke="#d0213d" stroke-width="1.1"/>
<circle cx="358.65" cy="480.5" r="1.95" fill="#fff" stroke="#d0213d" stroke-width="1.1"/>
<circle cx="364.15" cy="480.5" r="1.95" fill="#fff" stroke="#d0213d" stroke-width="1.1"/>
<circle cx="359.65" cy="485.1" r="1.95" fill="#fff" stroke="#d0213d" stroke-width="1.1"/>
<circle cx="363.15" cy="486.9" r="1.95" fill="#fff" stroke="#d0213d" stroke-width="1.1"/>
<circle cx="359.15" cy="487.6" r="1.95" fill="#fff" stroke="#d0213d" stroke-width="1.1"/>
<circle cx="364.15" cy="485.8" r="1.95" fill="#fff" stroke="#d0213d" stroke-width="1.1"/>
<line x1="359.55" y1="480.3" x2="362.75" y2="480.3" stroke="#d0213d" stroke-width="1"/>
<rect x="371.2" y="513.5" width="8.5" height="2.8" fill="#b39ccc"/>
<line x1="375.45" y1="511.63" x2="375.45" y2="515.37" stroke="#5e2a7e" stroke-width="1"/>
<line x1="373.85" y1="511.63" x2="377.05" y2="511.63" stroke="#5e2a7e" stroke-width="1"/>
<circle cx="375.75" cy="503.5" r="1.95" fill="#fff" stroke="#5e2a7e" stroke-width="1.1"/>
<circle cx="374.65" cy="507.7" r="1.95" fill="#fff" stroke="#5e2a7e" stroke-width="1.1"/>
<circle cx="372.45" cy="512.3" r="1.95" fill="#fff" stroke="#5e2a7e" stroke-width="1.1"/>
<circle cx="375.75" cy="513.5" r="1.95" fill="#fff" stroke="#5e2a7e" stroke-width="1.1"/>
<circle cx="378.45" cy="512.3" r="1.95" fill="#fff" stroke="#5e2a7e" stroke-width="1.1"/>
<line x1="373.85" y1="511.63" x2="377.05" y2="511.63" stroke="#5e2a7e" stroke-width="1"/>
<rect x="385.7" y="475.4" width="8.5" height="40.9" fill="#8596c4"/>
<line x1="389.95" y1="472.28" x2="389.95" y2="478.52" stroke="#2b5c9a" stroke-width="1"/>
<line x1="388.35" y1="472.28" x2="391.55" y2="472.28" stroke="#2b5c9a" stroke-width="1"/>
<circle cx="386.95" cy="465" r="1.95" fill="#fff" stroke="#2b5c9a" stroke-width="1.1"/>
<circle cx="391.95" cy="466.2" r="1.95" fill="#fff" stroke="#2b5c9a" stroke-width="1.1"/>
<circle cx="389.95" cy="475.4" r="1.95" fill="#fff" stroke="#2b5c9a" stroke-width="1.1"/>
<circle cx="386.95" cy="480.5" r="1.95" fill="#fff" stroke="#2b5c9a" stroke-width="1.1"/>
<circle cx="392.95" cy="480.5" r="1.95" fill="#fff" stroke="#2b5c9a" stroke-width="1.1"/>
<circle cx="386.95" cy="482.3" r="1.95" fill="#fff" stroke="#2b5c9a" stroke-width="1.1"/>
<line x1="388.35" y1="472.28" x2="391.55" y2="472.28" stroke="#2b5c9a" stroke-width="1"/>
<rect x="399.4" y="508.9" width="8.9" height="7.4" fill="#fbd29c"/>
<line x1="403.85" y1="507.16" x2="403.85" y2="510.64" stroke="#f3a22c" stroke-width="1"/>
<line x1="402.25" y1="507.16" x2="405.45" y2="507.16" stroke="#f3a22c" stroke-width="1"/>
<circle cx="401.35" cy="500.8" r="1.95" fill="#fff" stroke="#f3a22c" stroke-width="1.1"/>
<circle cx="403.35" cy="505.6" r="1.95" fill="#fff" stroke="#f3a22c" stroke-width="1.1"/>
<circle cx="400.85" cy="508.9" r="1.95" fill="#fff" stroke="#f3a22c" stroke-width="1.1"/>
<circle cx="405.85" cy="510.2" r="1.95" fill="#fff" stroke="#f3a22c" stroke-width="1.1"/>
<circle cx="406.85" cy="509.5" r="1.95" fill="#fff" stroke="#f3a22c" stroke-width="1.1"/>
<line x1="402.25" y1="507.16" x2="405.45" y2="507.16" stroke="#f3a22c" stroke-width="1"/>
<line x1="336.8" y1="516.3" x2="413.7" y2="516.3" stroke="#231f20" stroke-width="1.2"/>
<line x1="346.9" y1="516.3" x2="346.9" y2="519.1" stroke="#231f20" stroke-width="1.1"/>
<line x1="361.2" y1="516.3" x2="361.2" y2="519.1" stroke="#231f20" stroke-width="1.1"/>
<line x1="375.3" y1="516.3" x2="375.3" y2="519.1" stroke="#231f20" stroke-width="1.1"/>
<line x1="389.6" y1="516.3" x2="389.6" y2="519.1" stroke="#231f20" stroke-width="1.1"/>
<line x1="403.9" y1="516.3" x2="403.9" y2="519.1" stroke="#231f20" stroke-width="1.1"/>
<line x1="345.3" y1="468.5" x2="359.6" y2="468.5" stroke="#222" stroke-width="0.9"/>
<text transform="translate(352.45 470.1) scale(1.077 1)" font-size="10.5" text-anchor="middle" fill="#222">***</text>
<line x1="361.9" y1="468.5" x2="376.9" y2="468.5" stroke="#222" stroke-width="0.9"/>
<text transform="translate(369.4 470.1) scale(1.077 1)" font-size="10.5" text-anchor="middle" fill="#222">****</text>
<line x1="390" y1="459.7" x2="406" y2="459.7" stroke="#222" stroke-width="0.9"/>
<text transform="translate(398 461.3) scale(1.077 1)" font-size="10.5" text-anchor="middle" fill="#222">****</text>
<line x1="360.3" y1="459.7" x2="388.5" y2="459.7" stroke="#222" stroke-width="0.9"/>
<text transform="translate(374.6 458) scale(0.860 1)" font-size="8.4" text-anchor="middle" fill="#333">ns</text>
<text transform="translate(314.87 482.6) rotate(-90) scale(0.857 1)" font-size="10.2" text-anchor="middle" fill="#3d3d3d">IgG (µg/mL)</text>
<rect x="417.3" y="450.2" width="7.6" height="3.8" fill="#2a8a62"/>
<text transform="translate(430.2 454.8) scale(0.913 1)" font-size="9.2" fill="#3d3d3d">Memory B (MB)</text>
<rect x="417.3" y="460.3" width="7.6" height="3.8" fill="#d0213d"/>
<text transform="translate(430.2 464.9) scale(0.939 1)" font-size="9.2" fill="#3d3d3d">MB+Tph</text>
<rect x="417.3" y="470.4" width="7.6" height="3.8" fill="#5e2a7e"/>
<text transform="translate(430.2 475) scale(0.912 1)" font-size="9.2" fill="#3d3d3d">MB+Tph+IL21R Fc</text>
<rect x="417.3" y="480.5" width="7.6" height="3.8" fill="#2b5c9a"/>
<text transform="translate(430.2 485.1) scale(0.943 1)" font-size="9.2" fill="#3d3d3d">MB+Tfh</text>
<rect x="417.3" y="490.6" width="7.6" height="3.8" fill="#f3a22c"/>
<text transform="translate(430.2 495.2) scale(0.909 1)" font-size="9.2" fill="#3d3d3d">MB+Tfh+IL21R Fc</text>
<text transform="translate(1.6 555.2) scale(1.055 1)" font-size="12.8" fill="#000" font-weight="bold">G</text>
<defs><radialGradient id="gcore" cx="0.55" cy="0.5" r="0.55"><stop offset="0" stop-color="#fff"/><stop offset="0.2" stop-color="#aaa"/><stop offset="0.65" stop-color="#707070"/><stop offset="1" stop-color="#505050"/></radialGradient><radialGradient id="gblk" cx="0.5" cy="0.5" r="0.5"><stop offset="0" stop-color="#555"/><stop offset="0.5" stop-color="#111"/><stop offset="0.85" stop-color="#222"/><stop offset="1" stop-color="#888"/></radialGradient><radialGradient id="gcore2" cx="0.55" cy="0.5" r="0.55"><stop offset="0" stop-color="#eee"/><stop offset="0.35" stop-color="#999"/><stop offset="1" stop-color="#333"/></radialGradient><filter id="gb1" x="-20%" y="-40%" width="140%" height="180%"><feGaussianBlur stdDeviation="0.8"/></filter><clipPath id="gc0"><rect x="34.5" y="574.8" width="65.2" height="65.2"/></clipPath></defs>
<text transform="translate(66.6 569.8) scale(1.039 1)" font-size="9.4" text-anchor="middle" fill="#222">Memory B</text>
<path d="M43 617.3C43 612.5 50 612 56 611.6C62 611.2 68 612 72 612.5C77 613 80 615 80 617.3C80 619.6 77 621.5 72 622C68 622.6 62 623.3 56 623C50 622.6 43 622 43 617.3Z" fill="#1a1a1a" filter="url(#gb1)"/>
<path d="M69 613.2C75 613.5 79.5 615 79.5 617.3C79.5 619.6 75 621 69 621.3Z" fill="#9a9a9a" filter="url(#gb1)"/>
<path d="M46 617.4L75 617.4" stroke="#aaa" stroke-width="0.8" stroke-dasharray="2 1"/>
<path d="M48 615.6Q60 614.6 72 615.6M48 619.2Q60 620.2 72 619.2" stroke="#555" stroke-width="0.5" fill="none"/>
<rect x="34.5" y="574.8" width="65.2" height="65.2" fill="none" stroke="#222" stroke-width="1"/>
<rect x="64.5" y="579.2" width="25.7" height="27" fill="none" stroke="#333" stroke-width="0.9"/>
<text transform="translate(55.6 593) scale(0.937 1)" font-size="9.6" text-anchor="middle" fill="#222">0</text>
<line x1="33.1" y1="582.5" x2="34.5" y2="582.5" stroke="#333" stroke-width="0.6"/>
<line x1="33.1" y1="600.2" x2="34.5" y2="600.2" stroke="#333" stroke-width="0.6"/>
<line x1="33.1" y1="618.5" x2="34.5" y2="618.5" stroke="#333" stroke-width="0.6"/>
<line x1="33.1" y1="635.8" x2="34.5" y2="635.8" stroke="#333" stroke-width="0.6"/>
<line x1="33.1" y1="618.3" x2="34.5" y2="618.3" stroke="#000" stroke-width="1.2"/>
<line x1="44" y1="640" x2="44" y2="641.4" stroke="#333" stroke-width="0.6"/>
<text transform="translate(44 649.6) scale(0.860 1)" font-size="5" text-anchor="middle" fill="#444">0</text>
<line x1="68" y1="640" x2="68" y2="641.4" stroke="#333" stroke-width="0.6"/>
<text transform="translate(68 649.6) scale(0.860 1)" font-size="5" text-anchor="middle" fill="#444">10<tspan dy="-1.6" font-size="2.4">3</tspan></text>
<line x1="83.8" y1="640" x2="83.8" y2="641.4" stroke="#333" stroke-width="0.6"/>
<text transform="translate(83.8 649.6) scale(0.860 1)" font-size="5" text-anchor="middle" fill="#444">10<tspan dy="-1.6" font-size="2.4">4</tspan></text>
<text transform="translate(154.8 569.8) scale(1.069 1)" font-size="9.4" text-anchor="middle" fill="#222">+ Tph</text>
<path d="M149.1 618.0h0.7M136.8 615.9h0.7M144.9 605.9h0.7M170.8 609.3h0.7M147.5 613.8h0.7M161.5 607.8h0.7M155.1 600.2h0.7M143.6 604.5h0.7M132.0 595.9h0.7M128.5 606.1h0.7M145.9 605.4h0.7M148.8 597.3h0.7M147.0 609.9h0.7M157.0 601.2h0.7M143.2 591.9h0.7M142.0 590.4h0.7M131.0 616.8h0.7M151.9 605.5h0.7M153.5 612.2h0.7M160.5 606.2h0.7M140.9 603.2h0.7M136.2 607.6h0.7M138.6 616.5h0.7M125.6 599.3h0.7M136.6 591.3h0.7M170.8 588.7h0.7M144.6 603.8h0.7M167.9 592.1h0.7M160.9 602.1h0.7M146.1 602.6h0.7M155.7 598.9h0.7M147.1 610.8h0.7M170.1 588.8h0.7M166.3 615.6h0.7M142.2 610.4h0.7M142.4 621.2h0.7M150.5 606.3h0.7M145.3 606.4h0.7M145.9 601.0h0.7M172.7 592.7h0.7M146.2 611.0h0.7M145.5 606.8h0.7M152.0 615.7h0.7M142.6 605.0h0.7M171.3 612.2h0.7M136.2 626.6h0.7M157.3 603.3h0.7M133.9 610.4h0.7M138.0 599.5h0.7M132.4 604.0h0.7M161.3 604.5h0.7M130.6 613.4h0.7M148.8 614.8h0.7M162.4 606.7h0.7M146.3 607.6h0.7M134.4 613.4h0.7M164.5 609.4h0.7M145.2 605.9h0.7M138.6 601.6h0.7M143.2 601.3h0.7M142.8 595.4h0.7M152.2 608.4h0.7M134.2 589.6h0.7M147.9 616.8h0.7M139.2 604.1h0.7M141.2 613.2h0.7M137.0 615.9h0.7M144.4 615.4h0.7M148.4 606.1h0.7M130.3 602.5h0.7M144.9 613.3h0.7M150.9 602.4h0.7M152.9 615.9h0.7M146.2 604.5h0.7M143.3 614.5h0.7M154.5 600.6h0.7M152.5 604.2h0.7M139.0 617.9h0.7M157.9 602.2h0.7M149.0 612.0h0.7M140.3 607.0h0.7M156.0 593.7h0.7M151.9 613.9h0.7M154.1 597.3h0.7M151.8 601.1h0.7M154.8 612.8h0.7M150.6 601.9h0.7M140.9 614.8h0.7M137.2 612.0h0.7M154.1 605.8h0.7M176.7 608.6h0.7M173.8 591.9h0.7M155.6 605.5h0.7M147.4 592.8h0.7M140.5 599.7h0.7M145.3 615.1h0.7M148.6 611.0h0.7M139.6 604.5h0.7M149.3 605.7h0.7M163.2 601.0h0.7M170.7 600.2h0.7M160.7 601.8h0.7M167.8 609.1h0.7M152.8 614.0h0.7M140.4 599.7h0.7M139.6 603.3h0.7M147.6 623.9h0.7M127.3 610.0h0.7M143.2 612.3h0.7M126.4 604.8h0.7M158.1 620.5h0.7M167.2 601.2h0.7M148.7 607.1h0.7M131.5 596.5h0.7M157.1 610.0h0.7M146.3 617.7h0.7M136.0 612.2h0.7M148.1 607.5h0.7M153.9 609.4h0.7M151.2 610.1h0.7M171.3 605.5h0.7M160.1 612.9h0.7M143.8 614.4h0.7M137.7 617.3h0.7M138.3 604.1h0.7M151.9 614.7h0.7M158.9 615.1h0.7M145.5 600.4h0.7M154.6 610.4h0.7M136.6 615.8h0.7M150.4 600.3h0.7M153.3 597.4h0.7M137.5 611.2h0.7M129.3 608.3h0.7M131.8 613.9h0.7M139.3 609.5h0.7M130.0 605.2h0.7M159.4 611.7h0.7M125.9 615.4h0.7M158.7 605.0h0.7M165.0 599.5h0.7M147.0 616.9h0.7M163.7 618.2h0.7M134.9 593.8h0.7M152.7 596.5h0.7M146.4 597.7h0.7M160.7 614.4h0.7M154.7 608.1h0.7M148.5 605.6h0.7M152.6 610.0h0.7M153.5 604.6h0.7M170.8 610.3h0.7M164.7 618.6h0.7M137.5 594.5h0.7M163.1 604.9h0.7M149.0 605.9h0.7" stroke="#aaa" stroke-width="0.7" fill="none"/>
<path d="M154 606.5Q165 571.5 176 606.5" fill="none" stroke="#ccc" stroke-width="0.7"/>
<path d="M156 606.5Q165 577.5 174 606.5" fill="none" stroke="#bbb" stroke-width="0.7"/>
<path d="M157.5 606.5Q165 584.5 172.5 606.5" fill="none" stroke="#aaa" stroke-width="0.7"/>
<path d="M159 606.5Q165 590.5 171 606.5" fill="none" stroke="#888" stroke-width="0.7"/>
<path d="M160 606.5Q165 595.5 170 606.5" fill="none" stroke="#444" stroke-width="0.7"/>
<path d="M158 592L172 600M172 592L158 600" stroke="#ccc" stroke-width="0.5"/>
<path d="M155 607.5C145 607.3 135 607.5 131.5 609.5C129.5 611 129.5 616.5 131.5 617.8C135 619.5 145 619.5 156 620Z" fill="#bcbcbc" stroke="#888" stroke-width="0.6"/>
<path d="M155 609.3C146 609 137 609.5 134 611C133 612 133 615.5 134 616.3C137 617.6 146 617.6 156 618Z" fill="#a4a4a4" stroke="#777" stroke-width="0.5"/>
<ellipse cx="137.5" cy="613.6" rx="1.7" ry="1.0" fill="#f4f4f4" stroke="#777" stroke-width="0.4"/>
<ellipse cx="141.5" cy="613.6" rx="1.7" ry="1.0" fill="#f4f4f4" stroke="#777" stroke-width="0.4"/>
<ellipse cx="145.5" cy="613.6" rx="1.7" ry="1.0" fill="#f4f4f4" stroke="#777" stroke-width="0.4"/>
<ellipse cx="149.5" cy="613.6" rx="1.7" ry="1.0" fill="#f4f4f4" stroke="#777" stroke-width="0.4"/>
<ellipse cx="153" cy="613.6" rx="1.7" ry="1.0" fill="#f4f4f4" stroke="#777" stroke-width="0.4"/>
<path d="M152 605.8C157 606 160 606.3 164 606.3C169.5 606.3 172.8 610 172.8 614.6C172.8 619.5 169 623.3 163.7 623.3C159 623.3 155.5 620 155 616C154.5 612.5 154 609 152 605.8Z" fill="url(#gcore)" stroke="#1a1a1a" stroke-width="1.3"/>
<rect x="122.6" y="574.8" width="65.2" height="65.2" fill="none" stroke="#222" stroke-width="1"/>
<rect x="152.6" y="579.2" width="25.7" height="27" fill="none" stroke="#333" stroke-width="0.9"/>
<text transform="translate(140.5 593) scale(0.894 1)" font-size="9.6" text-anchor="middle" fill="#222">4.18</text>
<line x1="121.2" y1="582.5" x2="122.6" y2="582.5" stroke="#333" stroke-width="0.6"/>
<text transform="translate(119 584.2) scale(0.860 1)" font-size="5" text-anchor="end" fill="#444">10<tspan dy="-1.6" font-size="2.4">5</tspan></text>
<line x1="121.2" y1="600.2" x2="122.6" y2="600.2" stroke="#333" stroke-width="0.6"/>
<text transform="translate(119 601.9) scale(0.860 1)" font-size="5" text-anchor="end" fill="#444">10<tspan dy="-1.6" font-size="2.4">4</tspan></text>
<line x1="121.2" y1="618.5" x2="122.6" y2="618.5" stroke="#333" stroke-width="0.6"/>
<text transform="translate(119 620.2) scale(0.860 1)" font-size="5" text-anchor="end" fill="#444">0</text>
<line x1="121.2" y1="635.8" x2="122.6" y2="635.8" stroke="#333" stroke-width="0.6"/>
<text transform="translate(119 637.5) scale(0.860 1)" font-size="5" text-anchor="end" fill="#444">-10<tspan dy="-1.6" font-size="2.4">3</tspan></text>
<line x1="121.2" y1="618.3" x2="122.6" y2="618.3" stroke="#000" stroke-width="1.2"/>
<line x1="132.1" y1="640" x2="132.1" y2="641.4" stroke="#333" stroke-width="0.6"/>
<text transform="translate(132.1 649.6) scale(0.860 1)" font-size="5" text-anchor="middle" fill="#444">0</text>
<line x1="156.1" y1="640" x2="156.1" y2="641.4" stroke="#333" stroke-width="0.6"/>
<text transform="translate(156.1 649.6) scale(0.860 1)" font-size="5" text-anchor="middle" fill="#444">10<tspan dy="-1.6" font-size="2.4">3</tspan></text>
<line x1="171.9" y1="640" x2="171.9" y2="641.4" stroke="#333" stroke-width="0.6"/>
<text transform="translate(171.9 649.6) scale(0.860 1)" font-size="5" text-anchor="middle" fill="#444">10<tspan dy="-1.6" font-size="2.4">4</tspan></text>
<text transform="translate(241.6 569.8) scale(1.012 1)" font-size="9.4" text-anchor="middle" fill="#222">+ Tph +IL-21R Fc</text>
<path d="M233 609C240 606.5 250 607 256 608.5C260 610 261 616 258.5 619.5C255.5 622.5 247 622.5 240 621.5C236.5 621 234 619.5 233 618" fill="none" stroke="#aaa" stroke-width="0.6"/>
<path d="M234 610.5C241 608.5 249 609 254 610.5C257 611.8 257.5 616 255.5 618.3C252.5 620.5 246 620.3 240 619.8C237 619.4 235 618.5 234 617.5" fill="none" stroke="#999" stroke-width="0.6"/>
<path d="M235 612.3C241 610.8 247 611.2 250.5 612.3C253 613.3 253 616 251 617.2C248 618.4 242 618.2 236 617.6" fill="none" stroke="#888" stroke-width="0.6"/>
<path d="M236 614.2C240 613.4 244 613.6 246.5 614.3C248 615 247.5 616 245.5 616.4C242 616.8 239 616.6 236.5 616.2" fill="none" stroke="#777" stroke-width="0.5"/>
<ellipse cx="225.2" cy="617.0" rx="9.4" ry="7.6" fill="url(#gcore2)" stroke="#222" stroke-width="2.4"/>
<ellipse cx="225.2" cy="617.0" rx="7.4" ry="5.8" fill="none" stroke="#555" stroke-width="0.8"/>
<ellipse cx="226.9" cy="618" rx="2.4" ry="1.2" fill="#fff"/>
<rect x="209.4" y="574.8" width="65.2" height="65.2" fill="none" stroke="#222" stroke-width="1"/>
<rect x="239.4" y="579.2" width="25.7" height="27" fill="none" stroke="#333" stroke-width="0.9"/>
<text transform="translate(229.7 593) scale(0.856 1)" font-size="9.6" text-anchor="middle" fill="#222">0.89</text>
<line x1="208" y1="582.5" x2="209.4" y2="582.5" stroke="#333" stroke-width="0.6"/>
<text transform="translate(205.8 584.2) scale(0.860 1)" font-size="5" text-anchor="end" fill="#444">10<tspan dy="-1.6" font-size="2.4">5</tspan></text>
<line x1="208" y1="600.2" x2="209.4" y2="600.2" stroke="#333" stroke-width="0.6"/>
<text transform="translate(205.8 601.9) scale(0.860 1)" font-size="5" text-anchor="end" fill="#444">10<tspan dy="-1.6" font-size="2.4">4</tspan></text>
<line x1="208" y1="618.5" x2="209.4" y2="618.5" stroke="#333" stroke-width="0.6"/>
<text transform="translate(205.8 620.2) scale(0.860 1)" font-size="5" text-anchor="end" fill="#444">0</text>
<line x1="208" y1="635.8" x2="209.4" y2="635.8" stroke="#333" stroke-width="0.6"/>
<text transform="translate(205.8 637.5) scale(0.860 1)" font-size="5" text-anchor="end" fill="#444">-10<tspan dy="-1.6" font-size="2.4">3</tspan></text>
<line x1="208" y1="618.3" x2="209.4" y2="618.3" stroke="#000" stroke-width="1.2"/>
<line x1="218.9" y1="640" x2="218.9" y2="641.4" stroke="#333" stroke-width="0.6"/>
<text transform="translate(218.9 649.6) scale(0.860 1)" font-size="5" text-anchor="middle" fill="#444">0</text>
<line x1="242.9" y1="640" x2="242.9" y2="641.4" stroke="#333" stroke-width="0.6"/>
<text transform="translate(242.9 649.6) scale(0.860 1)" font-size="5" text-anchor="middle" fill="#444">10<tspan dy="-1.6" font-size="2.4">3</tspan></text>
<line x1="258.7" y1="640" x2="258.7" y2="641.4" stroke="#333" stroke-width="0.6"/>
<text transform="translate(258.7 649.6) scale(0.860 1)" font-size="5" text-anchor="middle" fill="#444">10<tspan dy="-1.6" font-size="2.4">4</tspan></text>
<text transform="translate(328.6 569.8) scale(1.046 1)" font-size="9.4" text-anchor="middle" fill="#222">+ Tfh</text>
<path d="M324.0 592.1h0.7M320.5 599.4h0.7M321.8 580.6h0.7M334.3 607.3h0.7M322.5 610.3h0.7M322.0 617.8h0.7M322.3 594.0h0.7M311.9 611.4h0.7M312.8 612.4h0.7M337.3 609.9h0.7M337.3 602.3h0.7M321.9 598.1h0.7M312.8 588.3h0.7M313.7 593.3h0.7M300.6 605.5h0.7M328.8 600.6h0.7M342.5 613.4h0.7M337.7 598.0h0.7M299.6 609.6h0.7M326.6 611.3h0.7M328.3 616.6h0.7M317.7 610.7h0.7M308.6 580.9h0.7M315.3 619.0h0.7M311.8 600.0h0.7M322.7 606.1h0.7M307.4 605.3h0.7M328.7 612.3h0.7M310.7 619.5h0.7M350.6 628.2h0.7M301.9 605.7h0.7M330.3 592.5h0.7M331.4 596.1h0.7M318.1 578.7h0.7M311.4 605.5h0.7M324.3 619.8h0.7M304.9 581.5h0.7M328.8 598.1h0.7M326.3 611.2h0.7M331.0 618.4h0.7M342.3 587.4h0.7M321.1 624.0h0.7M315.9 613.7h0.7M321.2 599.8h0.7M345.7 614.4h0.7M318.3 613.1h0.7M302.3 596.7h0.7M335.5 604.4h0.7M306.1 608.5h0.7M326.9 616.8h0.7M336.4 601.2h0.7M314.7 602.6h0.7M318.6 618.6h0.7M345.8 617.6h0.7M327.7 601.6h0.7M335.5 600.5h0.7M325.5 587.3h0.7M315.6 618.4h0.7M306.6 589.1h0.7M319.5 620.7h0.7M343.8 600.4h0.7M314.8 602.9h0.7M308.0 604.4h0.7M317.5 589.2h0.7M313.3 601.4h0.7M309.1 592.8h0.7M335.6 623.0h0.7M317.7 599.8h0.7M329.5 601.7h0.7M310.3 617.9h0.7M306.4 596.7h0.7M312.0 595.2h0.7M318.4 609.8h0.7M343.6 610.6h0.7M322.5 591.5h0.7M321.1 594.6h0.7M320.5 613.8h0.7M325.1 601.9h0.7M310.7 603.8h0.7M323.7 594.7h0.7M314.4 612.8h0.7M304.5 619.5h0.7M331.1 609.1h0.7M327.9 606.9h0.7M326.4 588.1h0.7M325.9 609.9h0.7M300.6 612.2h0.7M332.0 588.8h0.7M314.9 600.9h0.7M314.1 607.9h0.7M302.8 601.8h0.7M325.4 611.2h0.7M322.7 601.6h0.7M332.4 584.1h0.7M336.0 600.9h0.7M303.2 599.7h0.7M317.1 596.2h0.7M333.0 595.1h0.7M302.6 594.4h0.7M347.7 604.3h0.7M312.8 594.1h0.7M305.5 602.4h0.7M328.4 615.5h0.7M339.2 606.7h0.7M312.1 595.4h0.7M328.3 600.6h0.7M327.5 590.5h0.7M335.5 607.0h0.7M322.6 608.0h0.7M308.6 622.1h0.7M319.3 598.9h0.7M334.8 593.5h0.7M343.3 597.0h0.7M321.1 594.8h0.7M334.1 582.3h0.7M332.4 595.8h0.7M322.7 592.5h0.7M325.4 605.9h0.7M330.9 607.1h0.7M331.3 613.9h0.7M316.2 592.2h0.7M302.8 610.8h0.7M316.4 614.5h0.7M322.7 593.9h0.7M335.6 623.4h0.7M319.3 594.6h0.7M309.3 612.9h0.7M313.2 599.9h0.7M332.3 604.1h0.7M323.7 598.6h0.7M312.4 605.6h0.7M324.3 609.9h0.7M314.5 607.5h0.7M329.1 604.8h0.7M330.6 614.1h0.7M325.0 604.8h0.7M307.5 607.3h0.7M320.6 600.9h0.7M309.6 609.7h0.7M360.4 608.3h0.7M323.3 608.4h0.7M313.1 605.0h0.7M312.1 597.6h0.7M325.5 606.3h0.7M320.3 596.1h0.7M326.0 593.1h0.7M333.6 600.5h0.7M322.0 611.9h0.7M330.3 591.1h0.7M318.3 607.7h0.7M305.7 580.0h0.7M320.9 603.5h0.7M328.4 604.8h0.7M324.0 606.4h0.7M342.6 608.8h0.7M330.1 600.1h0.7M338.8 602.1h0.7M333.1 582.9h0.7M325.7 603.0h0.7M315.1 616.9h0.7M328.1 602.6h0.7M314.1 622.8h0.7M333.2 610.6h0.7M310.6 617.0h0.7M330.4 601.3h0.7M320.4 587.8h0.7M331.8 593.1h0.7M334.6 599.6h0.7M312.7 607.7h0.7M325.2 592.7h0.7M320.9 610.1h0.7M318.2 590.6h0.7M318.4 594.4h0.7M313.4 604.5h0.7M321.2 601.9h0.7M319.0 599.9h0.7M324.3 623.2h0.7M302.7 588.0h0.7M333.4 596.1h0.7M341.4 594.2h0.7M314.8 612.3h0.7M335.6 608.4h0.7M328.8 602.7h0.7M315.4 602.0h0.7M341.0 611.0h0.7M322.3 607.2h0.7M334.4 615.8h0.7M320.0 603.2h0.7M326.9 629.9h0.7M325.6 616.6h0.7M299.1 612.4h0.7M301.0 593.3h0.7M312.6 602.6h0.7M324.7 607.6h0.7M325.3 599.7h0.7M331.9 624.1h0.7M336.4 609.7h0.7M326.8 622.5h0.7M305.9 594.5h0.7M324.2 583.8h0.7M310.4 615.2h0.7M315.1 605.6h0.7M332.3 592.5h0.7M326.0 597.8h0.7M305.7 601.3h0.7M321.2 600.0h0.7M312.2 613.5h0.7M339.1 609.5h0.7M320.6 593.6h0.7M309.8 593.0h0.7M325.1 613.1h0.7M335.5 603.8h0.7M316.3 605.8h0.7M323.8 609.9h0.7M343.9 597.2h0.7M353.1 583.2h0.7M306.8 601.7h0.7M352.7 597.1h0.7M338.4 600.4h0.7M324.3 593.9h0.7M355.7 603.6h0.7M312.9 626.5h0.7M324.7 608.1h0.7M319.8 595.8h0.7M300.7 602.3h0.7M346.0 608.2h0.7M319.4 614.5h0.7M308.1 617.6h0.7M321.8 595.8h0.7M332.1 609.1h0.7M316.9 606.1h0.7M336.5 617.9h0.7M309.4 577.9h0.7M352.4 601.4h0.7M315.8 608.3h0.7M315.7 614.3h0.7M303.5 602.0h0.7M303.3 619.1h0.7M318.3 614.9h0.7M342.6 592.2h0.7M318.7 611.1h0.7M322.7 602.7h0.7M334.5 613.0h0.7M313.2 602.7h0.7M331.6 606.1h0.7M324.1 592.9h0.7M348.1 601.7h0.7M326.0 603.7h0.7M323.0 605.5h0.7" stroke="#aaa" stroke-width="0.7" fill="none"/>
<path d="M335 606.5C337 594 340 585 344.5 585C349 585 351.5 594 352.5 606.5Z" fill="#dcdcdc"/>
<path d="M336 606.5Q344 564.5 352 606.5" fill="none" stroke="#999" stroke-width="0.7"/>
<path d="M337.5 606.5Q344.5 569.5 351.5 606.5" fill="none" stroke="#8a8a8a" stroke-width="0.7"/>
<path d="M338.5 606.5Q344.5 575.5 350.5 606.5" fill="none" stroke="#7a7a7a" stroke-width="0.7"/>
<path d="M339.5 606.5Q344.5 581.5 349.5 606.5" fill="none" stroke="#6a6a6a" stroke-width="0.7"/>
<path d="M340.5 606.5Q344.5 587.5 348.5 606.5" fill="none" stroke="#5a5a5a" stroke-width="0.7"/>
<path d="M341.5 606.5Q344.5 593.5 347.5 606.5" fill="none" stroke="#4a4a4a" stroke-width="0.7"/>
<path d="M336 609C325 609.5 312 610 306.5 611C304.5 612 304.5 618 306.5 619C312 620 325 620.5 337 620.5Z" fill="#cdcdcd" stroke="#777" stroke-width="0.6"/>
<path d="M336 611C326 611.3 315 611.7 309 612.3C308 613 308 616.5 309 617.2C315 617.8 326 618.3 337 618.5Z" fill="#b8b8b8" stroke="#666" stroke-width="0.5"/>
<ellipse cx="310" cy="614.6" rx="1.9" ry="1.0" fill="#eee" stroke="#777" stroke-width="0.4"/>
<ellipse cx="314.5" cy="614.6" rx="1.9" ry="1.0" fill="#eee" stroke="#777" stroke-width="0.4"/>
<ellipse cx="319" cy="614.6" rx="1.9" ry="1.0" fill="#eee" stroke="#777" stroke-width="0.4"/>
<ellipse cx="323.5" cy="614.6" rx="1.9" ry="1.0" fill="#eee" stroke="#777" stroke-width="0.4"/>
<ellipse cx="328" cy="614.6" rx="1.9" ry="1.0" fill="#eee" stroke="#777" stroke-width="0.4"/>
<path d="M333 609.5C337 608 340 607.6 343.5 607.6C348 607.6 351.5 610.5 351.5 614.6C351.5 618.8 348 621.6 343.5 621.6C339 621.6 336 620.5 333 619.8Z" fill="url(#gcore)" stroke="#1a1a1a" stroke-width="1.3"/>
<rect x="296.8" y="574.8" width="65.2" height="65.2" fill="none" stroke="#222" stroke-width="1"/>
<rect x="326.8" y="579.2" width="25.7" height="27" fill="none" stroke="#333" stroke-width="0.9"/>
<text transform="translate(315.7 593) scale(0.907 1)" font-size="9.6" text-anchor="middle" fill="#222">6.4</text>
<line x1="295.4" y1="582.5" x2="296.8" y2="582.5" stroke="#333" stroke-width="0.6"/>
<text transform="translate(293.2 584.2) scale(0.860 1)" font-size="5" text-anchor="end" fill="#444">10<tspan dy="-1.6" font-size="2.4">5</tspan></text>
<line x1="295.4" y1="600.2" x2="296.8" y2="600.2" stroke="#333" stroke-width="0.6"/>
<text transform="translate(293.2 601.9) scale(0.860 1)" font-size="5" text-anchor="end" fill="#444">10<tspan dy="-1.6" font-size="2.4">4</tspan></text>
<line x1="295.4" y1="618.5" x2="296.8" y2="618.5" stroke="#333" stroke-width="0.6"/>
<text transform="translate(293.2 620.2) scale(0.860 1)" font-size="5" text-anchor="end" fill="#444">0</text>
<line x1="295.4" y1="635.8" x2="296.8" y2="635.8" stroke="#333" stroke-width="0.6"/>
<text transform="translate(293.2 637.5) scale(0.860 1)" font-size="5" text-anchor="end" fill="#444">-10<tspan dy="-1.6" font-size="2.4">3</tspan></text>
<line x1="295.4" y1="618.3" x2="296.8" y2="618.3" stroke="#000" stroke-width="1.2"/>
<line x1="306.3" y1="640" x2="306.3" y2="641.4" stroke="#333" stroke-width="0.6"/>
<text transform="translate(306.3 649.6) scale(0.860 1)" font-size="5" text-anchor="middle" fill="#444">0</text>
<line x1="330.3" y1="640" x2="330.3" y2="641.4" stroke="#333" stroke-width="0.6"/>
<text transform="translate(330.3 649.6) scale(0.860 1)" font-size="5" text-anchor="middle" fill="#444">10<tspan dy="-1.6" font-size="2.4">3</tspan></text>
<line x1="346.1" y1="640" x2="346.1" y2="641.4" stroke="#333" stroke-width="0.6"/>
<text transform="translate(346.1 649.6) scale(0.860 1)" font-size="5" text-anchor="middle" fill="#444">10<tspan dy="-1.6" font-size="2.4">4</tspan></text>
<text transform="translate(416.5 569.8) scale(0.990 1)" font-size="9.4" text-anchor="middle" fill="#222">+ Tfh +IL-21R Fc</text>
<path d="M409.7 603.4h0.7M429.9 603.6h0.7M425.2 604.3h0.7M418.3 616.2h0.7M411.2 603.4h0.7M428.2 602.6h0.7M407.6 590.3h0.7M433.5 591.5h0.7M418.1 604.9h0.7M418.9 584.1h0.7M399.2 599.1h0.7M410.3 597.7h0.7M418.9 601.5h0.7M404.7 585.0h0.7M427.3 594.4h0.7M406.4 582.2h0.7M423.3 588.7h0.7M407.6 605.6h0.7M421.0 605.0h0.7M408.2 597.3h0.7M411.4 608.0h0.7M421.6 590.7h0.7M423.6 598.7h0.7M413.2 610.0h0.7M401.4 609.2h0.7M428.8 581.6h0.7M416.1 598.5h0.7M406.7 594.9h0.7M409.9 600.6h0.7M412.4 580.8h0.7M429.9 608.0h0.7M409.7 607.8h0.7M438.1 586.1h0.7M413.9 595.3h0.7M423.6 597.3h0.7M404.1 611.3h0.7M414.8 606.5h0.7M440.8 593.3h0.7M413.9 608.2h0.7M416.9 604.7h0.7M418.0 625.2h0.7M424.3 603.1h0.7M419.3 603.5h0.7M401.7 597.6h0.7M425.4 589.2h0.7M418.4 599.1h0.7M412.9 622.5h0.7M425.2 603.0h0.7M410.1 600.8h0.7M415.0 599.2h0.7M420.2 622.5h0.7M431.4 615.4h0.7M431.7 625.4h0.7M411.4 588.4h0.7M420.1 602.3h0.7M418.4 594.4h0.7M424.9 615.5h0.7M420.2 598.0h0.7M430.0 597.3h0.7M414.5 602.9h0.7M395.2 617.0h0.7M417.0 604.7h0.7M421.2 603.7h0.7M404.7 616.0h0.7M423.8 602.7h0.7M425.5 599.1h0.7M403.0 617.5h0.7M402.5 601.3h0.7M417.2 601.7h0.7M408.6 612.3h0.7M420.6 588.6h0.7M405.9 602.5h0.7M406.4 603.9h0.7M421.3 594.8h0.7M398.7 588.3h0.7M421.6 595.4h0.7M436.6 596.1h0.7M421.9 606.2h0.7M419.0 602.8h0.7M428.2 598.7h0.7M421.4 596.8h0.7M438.1 601.6h0.7M413.2 589.9h0.7M418.4 596.1h0.7M407.6 597.6h0.7M426.2 609.7h0.7M412.7 609.6h0.7M411.9 605.6h0.7M409.5 609.5h0.7M441.3 597.4h0.7M430.3 587.0h0.7M411.7 624.0h0.7M417.4 604.6h0.7M401.8 599.9h0.7M410.2 610.9h0.7M412.7 623.0h0.7M407.1 603.0h0.7M398.0 596.4h0.7M430.2 599.1h0.7M405.1 604.5h0.7M427.5 604.0h0.7M428.0 587.2h0.7M436.3 606.4h0.7M397.0 616.9h0.7M413.4 604.7h0.7M398.2 594.4h0.7M399.8 607.6h0.7" stroke="#b0b0b0" stroke-width="0.7" fill="none"/>
<path d="M398 613C399 607.5 408 605 418 605L426 605C431.5 605 434 609 434 613C434 618 431 621.5 425 621.5L418 621.5C408 621.5 399 619 398 613Z" fill="#e2e2e2" stroke="#555" stroke-width="0.6"/>
<path d="M418 606.58C404.5 606.58 401.5 608.95 401.5 613C401.5 617.05 404.5 619.92 418 619.92" fill="none" stroke="#5a5a5a" stroke-width="0.6"/>
<path d="M418 608.15C408 608.15 405 609.89 405 613C405 616.11 408 618.35 418 618.35" fill="none" stroke="#666" stroke-width="0.6"/>
<path d="M418 609.73C411.5 609.73 408.5 610.84 408.5 613C408.5 615.16 411.5 616.77 418 616.77" fill="none" stroke="#777" stroke-width="0.6"/>
<ellipse cx="424.5" cy="613.2" rx="9.2" ry="8.2" fill="#404040" filter="url(#gb1)"/>
<ellipse cx="424.3" cy="613.2" rx="5.6" ry="5.0" fill="url(#gcore2)"/>
<ellipse cx="424.5" cy="613" rx="1.8" ry="1.1" fill="#fff"/>
<rect x="384.7" y="574.8" width="65.2" height="65.2" fill="none" stroke="#222" stroke-width="1"/>
<rect x="414.7" y="579.2" width="25.7" height="27" fill="none" stroke="#333" stroke-width="0.9"/>
<text transform="translate(403 593) scale(0.878 1)" font-size="9.6" text-anchor="middle" fill="#222">1.36</text>
<line x1="383.3" y1="582.5" x2="384.7" y2="582.5" stroke="#333" stroke-width="0.6"/>
<text transform="translate(381.1 584.2) scale(0.860 1)" font-size="5" text-anchor="end" fill="#444">10<tspan dy="-1.6" font-size="2.4">5</tspan></text>
<line x1="383.3" y1="600.2" x2="384.7" y2="600.2" stroke="#333" stroke-width="0.6"/>
<text transform="translate(381.1 601.9) scale(0.860 1)" font-size="5" text-anchor="end" fill="#444">10<tspan dy="-1.6" font-size="2.4">4</tspan></text>
<line x1="383.3" y1="618.5" x2="384.7" y2="618.5" stroke="#333" stroke-width="0.6"/>
<text transform="translate(381.1 620.2) scale(0.860 1)" font-size="5" text-anchor="end" fill="#444">0</text>
<line x1="383.3" y1="635.8" x2="384.7" y2="635.8" stroke="#333" stroke-width="0.6"/>
<text transform="translate(381.1 637.5) scale(0.860 1)" font-size="5" text-anchor="end" fill="#444">-10<tspan dy="-1.6" font-size="2.4">3</tspan></text>
<line x1="383.3" y1="618.3" x2="384.7" y2="618.3" stroke="#000" stroke-width="1.2"/>
<line x1="394.2" y1="640" x2="394.2" y2="641.4" stroke="#333" stroke-width="0.6"/>
<text transform="translate(394.2 649.6) scale(0.860 1)" font-size="5" text-anchor="middle" fill="#444">0</text>
<line x1="418.2" y1="640" x2="418.2" y2="641.4" stroke="#333" stroke-width="0.6"/>
<text transform="translate(418.2 649.6) scale(0.860 1)" font-size="5" text-anchor="middle" fill="#444">10<tspan dy="-1.6" font-size="2.4">3</tspan></text>
<line x1="434" y1="640" x2="434" y2="641.4" stroke="#333" stroke-width="0.6"/>
<text transform="translate(434 649.6) scale(0.860 1)" font-size="5" text-anchor="middle" fill="#444">10<tspan dy="-1.6" font-size="2.4">4</tspan></text>
<text transform="translate(28.31 623) rotate(-90) scale(0.925 1)" font-size="9.2" text-anchor="middle" fill="#222">CD138</text>
<line x1="23.9" y1="643" x2="23.9" y2="656.4" stroke="#222" stroke-width="1"/>
<line x1="23.9" y1="656.4" x2="35" y2="656.4" stroke="#222" stroke-width="1"/>
<path d="M21.9 643.5L23.9 639.8L25.9 643.5Z" fill="#222"/>
<path d="M34.2 654.4L37.8 656.4L34.2 658.4Z" fill="#222"/>
<text transform="translate(38.2 659.7) scale(0.935 1)" font-size="9.2" fill="#222">CD27</text></svg></body></html>
